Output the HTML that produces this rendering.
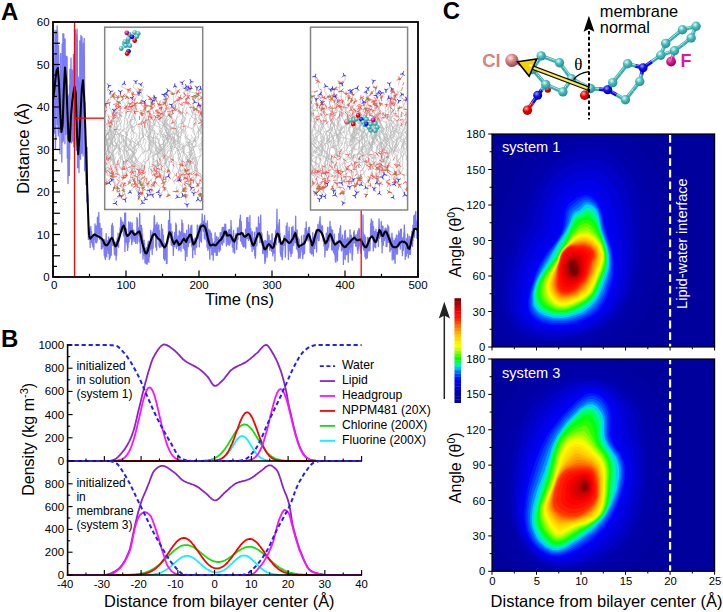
<!DOCTYPE html><html><head><meta charset="utf-8"><style>html,body{margin:0;padding:0;background:#fff;width:723px;height:612px;overflow:hidden}svg{display:block}text{font-family:"Liberation Sans", sans-serif}</style></head><body>
<svg width="723" height="612" viewBox="0 0 723 612">
<rect width="723" height="612" fill="#fff"/>
<defs>
<radialGradient id="gC" cx="0.38" cy="0.32" r="0.7"><stop offset="0" stop-color="#d8ffff"/><stop offset="0.45" stop-color="#48bcbc"/><stop offset="1" stop-color="#2a8a8c"/></radialGradient>
<radialGradient id="gN" cx="0.38" cy="0.32" r="0.7"><stop offset="0" stop-color="#9a9aff"/><stop offset="0.45" stop-color="#1010f0"/><stop offset="1" stop-color="#0000a0"/></radialGradient>
<radialGradient id="gO" cx="0.38" cy="0.32" r="0.7"><stop offset="0" stop-color="#ffb0b0"/><stop offset="0.45" stop-color="#f20000"/><stop offset="1" stop-color="#a00000"/></radialGradient>
<radialGradient id="gCl" cx="0.38" cy="0.32" r="0.7"><stop offset="0" stop-color="#ffe0e0"/><stop offset="0.45" stop-color="#d98484"/><stop offset="1" stop-color="#8a4a4a"/></radialGradient>
<radialGradient id="gF" cx="0.38" cy="0.32" r="0.7"><stop offset="0" stop-color="#ff9ad8"/><stop offset="0.45" stop-color="#e0189c"/><stop offset="1" stop-color="#80004f"/></radialGradient>
</defs>
<text x="1.00" y="19.60" font-size="24" text-anchor="start" fill="#000" font-weight="bold" >A</text>
<clipPath id="clipA"><rect x="53" y="22" width="365" height="255"/></clipPath>
<g clip-path="url(#clipA)">
<polyline points="53.0,118.2 53.2,162.6 53.4,54.6 53.7,104.4 53.9,106.6 54.1,133.2 54.3,99.0 54.5,122.7 54.8,60.4 55.0,30.2 55.2,59.8 55.4,149.3 55.6,137.5 55.9,138.9 56.1,33.3 56.3,31.4 56.5,36.7 56.7,30.1 57.0,102.9 57.2,25.9 57.4,124.6 57.6,31.4 57.8,85.3 58.1,130.5 58.3,136.0 58.5,45.5 58.7,55.4 58.9,74.4 59.2,84.7 59.4,131.9 59.6,118.3 59.8,101.0 60.0,153.8 60.3,88.0 60.5,71.0 60.7,53.5 60.9,128.7 61.1,110.5 61.4,120.0 61.6,70.1 61.8,162.0 62.0,114.7 62.2,43.9 62.5,91.0 62.7,142.0 62.9,33.7 63.1,40.3 63.3,140.8 63.6,116.6 63.8,33.9 64.0,61.1 64.2,64.2 64.4,115.3 64.7,66.6 64.9,143.8 65.1,39.0 65.3,106.3 65.5,113.7 65.8,134.6 66.0,120.9 66.2,56.1 66.4,57.2 66.6,113.9 66.9,119.0 67.1,56.9 67.3,158.2 67.5,142.4 67.7,135.6 68.0,183.6 68.2,164.9 68.4,96.1 68.6,129.4 68.8,128.5 69.1,94.1 69.3,175.4 69.5,85.2 69.7,159.2 69.9,69.2 70.2,111.4 70.4,133.2 70.6,141.7 70.8,77.2 71.0,58.2 71.3,142.4 71.5,115.9 71.7,143.0 71.9,69.9 72.1,72.5 72.4,75.3 72.6,111.5 72.8,112.9 73.0,141.0 73.2,81.5 73.5,54.3 73.7,137.3 73.9,146.9 74.1,122.1 74.3,109.1 74.6,70.2 74.8,29.4 75.0,33.7 75.2,119.7 75.4,30.1 75.7,68.5 75.9,34.0 76.1,144.5 76.3,145.7 76.5,150.6 76.8,126.6 77.0,29.0 77.2,37.0 77.4,44.2 77.6,167.8 77.9,166.9 78.1,77.7 78.3,77.0 78.5,104.4 78.7,82.6 79.0,172.5 79.2,129.7 79.4,94.0 79.6,157.7 79.8,41.0 80.1,92.7 80.3,43.4 80.5,159.3 80.7,149.9 80.9,35.4 81.2,99.2 81.4,153.4 81.6,147.1 81.8,123.8 82.0,36.8 82.3,123.5 82.5,77.8 82.7,153.0 82.9,100.1 83.1,155.9 83.4,43.3 83.6,114.9 83.8,61.6 84.0,44.4 84.2,38.3 84.5,78.9 84.7,170.8 84.9,136.3 85.1,102.5 85.3,133.9 85.6,169.4 85.8,170.9 86.0,184.7 86.2,179.4 86.4,162.9 86.7,159.9 86.9,201.4 87.1,147.4 87.3,202.1 87.5,203.0 87.8,194.6 88.0,204.1 88.2,212.8 88.4,239.5 88.6,228.8 88.9,233.2 89.1,237.6 89.3,236.5 89.5,235.2 89.7,229.0 90.0,232.2 90.2,247.6 90.4,236.6 90.6,232.8 90.8,226.5 91.1,237.2 91.3,235.6 91.5,231.3 91.7,242.7 91.9,234.6 92.2,237.1 92.4,244.6 92.6,242.1 92.8,246.8 93.0,238.4 93.3,235.8 93.5,241.7 93.7,238.0 93.9,249.6 94.1,238.6 94.4,234.3 94.6,237.5 94.8,239.0 95.0,224.0 95.2,230.3 95.5,230.7 95.7,242.5 95.9,230.2 96.1,240.7 96.3,225.8 96.6,233.7 96.8,242.8 97.0,232.4 97.2,240.7 97.4,217.2 97.7,229.7 97.9,231.5 98.1,228.0 98.3,218.2 98.5,233.2 98.8,212.5 99.0,235.7 99.2,230.8 99.4,239.2 99.6,228.4 99.9,223.3 100.1,227.9 100.3,228.9 100.5,237.9 100.7,232.6 101.0,240.7 101.2,242.1 101.4,249.2 101.6,228.3 101.8,240.5 102.1,248.5 102.3,248.0 102.5,241.4 102.7,244.0 102.9,241.9 103.2,246.5 103.4,241.7 103.6,241.1 103.8,239.4 104.0,245.5 104.3,255.4 104.5,239.7 104.7,253.5 104.9,257.8 105.1,244.2 105.4,259.6 105.6,241.0 105.8,253.7 106.0,241.8 106.2,233.6 106.5,245.8 106.7,256.7 106.9,242.6 107.1,249.4 107.3,240.6 107.6,241.1 107.8,250.2 108.0,244.7 108.2,249.2 108.4,253.4 108.7,236.9 108.9,239.3 109.1,243.4 109.3,259.6 109.5,242.7 109.8,242.6 110.0,248.5 110.2,257.8 110.4,239.0 110.6,240.9 110.9,243.1 111.1,247.4 111.3,255.2 111.5,230.6 111.7,225.5 112.0,240.6 112.2,242.8 112.4,223.4 112.6,235.1 112.8,245.4 113.1,226.1 113.3,243.3 113.5,244.3 113.7,246.0 113.9,246.0 114.2,246.5 114.4,254.1 114.6,242.3 114.8,249.3 115.0,255.0 115.3,244.3 115.5,247.7 115.7,243.6 115.9,242.1 116.1,259.9 116.4,249.2 116.6,255.6 116.8,246.9 117.0,241.4 117.2,238.1 117.5,242.5 117.7,239.2 117.9,246.0 118.1,233.2 118.3,243.4 118.6,247.3 118.8,240.5 119.0,238.1 119.2,240.8 119.4,240.9 119.7,236.1 119.9,234.5 120.1,227.6 120.3,232.6 120.5,227.6 120.8,217.4 121.0,227.4 121.2,231.6 121.4,228.6 121.6,220.1 121.9,230.2 122.1,230.4 122.3,231.4 122.5,227.6 122.7,222.4 123.0,230.4 123.2,224.4 123.4,233.2 123.6,236.0 123.8,229.9 124.1,230.5 124.3,221.1 124.5,230.8 124.7,213.1 124.9,251.5 125.2,235.3 125.4,217.2 125.6,212.8 125.8,242.2 126.0,228.3 126.3,240.7 126.5,229.0 126.7,239.8 126.9,235.9 127.1,245.0 127.4,238.2 127.6,250.4 127.8,234.4 128.0,247.7 128.2,237.7 128.5,242.7 128.7,221.7 128.9,223.6 129.1,241.4 129.3,224.0 129.6,229.9 129.8,230.3 130.0,228.5 130.2,231.9 130.4,222.1 130.7,223.0 130.9,238.5 131.1,228.2 131.3,239.2 131.5,237.4 131.8,244.6 132.0,236.5 132.2,223.0 132.4,231.9 132.6,231.4 132.9,241.7 133.1,236.2 133.3,230.3 133.5,236.2 133.7,229.9 134.0,232.6 134.2,232.2 134.4,239.6 134.6,236.6 134.8,241.4 135.1,236.1 135.3,240.5 135.5,235.9 135.7,243.4 135.9,237.3 136.2,235.3 136.4,232.3 136.6,232.7 136.8,237.2 137.0,217.3 137.3,243.5 137.5,219.0 137.7,233.1 137.9,230.2 138.1,235.4 138.4,230.3 138.6,228.0 138.8,229.9 139.0,233.4 139.2,241.9 139.5,229.6 139.7,213.3 139.9,226.0 140.1,233.6 140.3,253.2 140.6,225.5 140.8,228.8 141.0,234.9 141.2,233.9 141.4,225.3 141.7,242.9 141.9,228.0 142.1,237.3 142.3,252.0 142.5,234.1 142.8,243.2 143.0,259.0 143.2,247.8 143.4,241.2 143.6,244.5 143.9,255.6 144.1,240.1 144.3,247.8 144.5,243.5 144.7,247.1 145.0,262.9 145.2,253.3 145.4,252.6 145.6,258.9 145.8,249.2 146.1,248.1 146.3,263.9 146.5,259.1 146.7,247.5 146.9,258.1 147.2,264.0 147.4,256.6 147.6,259.1 147.8,243.6 148.0,250.7 148.3,241.1 148.5,261.5 148.7,254.0 148.9,262.3 149.1,247.1 149.4,256.6 149.6,242.1 149.8,247.3 150.0,250.4 150.2,246.4 150.5,242.2 150.7,230.4 150.9,248.8 151.1,242.3 151.3,243.6 151.6,245.5 151.8,234.9 152.0,239.8 152.2,254.6 152.4,232.1 152.7,239.8 152.9,233.1 153.1,248.2 153.3,235.7 153.5,228.9 153.8,232.0 154.0,225.8 154.2,217.5 154.4,215.6 154.6,228.4 154.9,225.0 155.1,235.4 155.3,227.4 155.5,235.8 155.7,247.0 156.0,226.1 156.2,224.8 156.4,239.2 156.6,250.2 156.8,227.9 157.1,222.7 157.3,230.8 157.5,229.9 157.7,238.8 157.9,229.2 158.2,236.0 158.4,233.7 158.6,224.8 158.8,225.2 159.0,246.0 159.3,239.3 159.5,230.7 159.7,247.5 159.9,243.1 160.1,240.3 160.4,240.9 160.6,239.4 160.8,243.6 161.0,246.9 161.2,239.6 161.5,224.3 161.7,239.0 161.9,235.6 162.1,234.3 162.3,246.1 162.6,229.2 162.8,246.2 163.0,238.1 163.2,234.8 163.4,235.4 163.7,258.4 163.9,253.1 164.1,242.7 164.3,254.1 164.5,260.3 164.8,244.0 165.0,247.4 165.2,256.5 165.4,252.5 165.6,245.4 165.9,259.7 166.1,251.4 166.3,254.6 166.5,263.4 166.7,249.0 167.0,263.6 167.2,245.4 167.4,242.3 167.6,240.8 167.8,243.0 168.1,238.9 168.3,235.6 168.5,220.5 168.7,221.6 168.9,226.5 169.2,229.8 169.4,237.7 169.6,209.9 169.8,225.8 170.0,224.3 170.3,230.1 170.5,233.8 170.7,228.8 170.9,223.8 171.1,242.4 171.4,245.1 171.6,236.0 171.8,237.7 172.0,234.2 172.2,231.7 172.5,246.1 172.7,239.6 172.9,236.5 173.1,239.9 173.3,255.4 173.6,247.0 173.8,243.5 174.0,241.2 174.2,246.4 174.4,246.4 174.7,232.4 174.9,239.1 175.1,234.2 175.3,240.8 175.5,238.7 175.8,223.2 176.0,246.9 176.2,237.4 176.4,224.8 176.6,248.4 176.9,242.9 177.1,245.2 177.3,244.0 177.5,246.2 177.7,240.6 178.0,235.8 178.2,241.1 178.4,245.8 178.6,245.3 178.8,250.5 179.1,246.0 179.3,230.6 179.5,249.6 179.7,238.1 179.9,235.6 180.2,240.6 180.4,232.6 180.6,243.6 180.8,231.9 181.0,251.3 181.3,236.1 181.5,233.2 181.7,232.0 181.9,220.0 182.1,230.2 182.4,232.9 182.6,236.5 182.8,223.4 183.0,239.3 183.2,248.3 183.5,235.6 183.7,241.1 183.9,242.8 184.1,233.2 184.3,236.6 184.6,250.0 184.8,246.2 185.0,237.2 185.2,233.6 185.4,260.6 185.7,247.5 185.9,235.8 186.1,247.7 186.3,248.9 186.5,244.3 186.8,230.1 187.0,256.6 187.2,246.2 187.4,242.6 187.6,245.1 187.9,238.1 188.1,238.6 188.3,246.6 188.5,224.9 188.7,243.6 189.0,241.2 189.2,242.0 189.4,242.5 189.6,241.4 189.8,242.4 190.1,237.4 190.3,228.3 190.5,237.6 190.7,229.1 190.9,225.9 191.2,236.9 191.4,240.1 191.6,245.5 191.8,225.2 192.0,246.7 192.3,247.4 192.5,245.9 192.7,257.7 192.9,240.7 193.1,249.1 193.4,245.7 193.6,247.4 193.8,239.4 194.0,245.2 194.2,249.9 194.5,244.8 194.7,246.5 194.9,238.5 195.1,254.5 195.3,237.7 195.6,245.1 195.8,247.9 196.0,239.2 196.2,244.3 196.4,239.6 196.7,247.1 196.9,237.5 197.1,235.8 197.3,225.0 197.5,233.3 197.8,238.3 198.0,235.6 198.2,228.7 198.4,232.7 198.6,235.6 198.9,236.2 199.1,226.0 199.3,246.9 199.5,232.5 199.7,231.2 200.0,224.8 200.2,227.9 200.4,241.2 200.6,224.2 200.8,225.8 201.1,223.9 201.3,226.9 201.5,242.2 201.7,225.2 201.9,224.3 202.2,213.9 202.4,220.6 202.6,226.8 202.8,221.8 203.0,223.7 203.3,231.3 203.5,229.9 203.7,224.6 203.9,221.0 204.1,221.7 204.4,238.8 204.6,215.5 204.8,229.7 205.0,225.2 205.2,223.0 205.5,235.3 205.7,224.8 205.9,239.4 206.1,223.6 206.3,235.8 206.6,241.9 206.8,225.9 207.0,247.1 207.2,240.4 207.4,220.8 207.7,244.9 207.9,250.3 208.1,236.3 208.3,237.4 208.5,242.3 208.8,229.1 209.0,243.3 209.2,248.6 209.4,240.4 209.6,252.3 209.9,259.2 210.1,230.7 210.3,232.8 210.5,243.4 210.7,248.2 211.0,244.7 211.2,234.7 211.4,233.1 211.6,237.0 211.8,254.8 212.1,238.7 212.3,243.1 212.5,254.5 212.7,247.4 212.9,242.8 213.2,260.3 213.4,252.2 213.6,244.7 213.8,244.2 214.0,252.3 214.3,241.8 214.5,245.6 214.7,249.2 214.9,251.9 215.1,232.7 215.4,242.7 215.6,243.3 215.8,246.4 216.0,251.5 216.2,255.5 216.5,244.5 216.7,236.5 216.9,245.9 217.1,239.5 217.3,255.3 217.6,245.2 217.8,242.4 218.0,248.5 218.2,237.5 218.4,240.9 218.7,240.3 218.9,247.1 219.1,252.0 219.3,248.7 219.5,249.0 219.8,241.6 220.0,244.2 220.2,232.6 220.4,250.0 220.6,235.1 220.9,240.1 221.1,240.7 221.3,243.7 221.5,232.3 221.7,237.5 222.0,232.4 222.2,227.5 222.4,245.1 222.6,239.4 222.8,227.5 223.1,230.6 223.3,240.5 223.5,230.1 223.7,227.5 223.9,242.5 224.2,230.3 224.4,230.0 224.6,234.8 224.8,224.1 225.0,230.1 225.3,232.2 225.5,235.0 225.7,224.1 225.9,236.7 226.1,234.6 226.4,246.0 226.6,239.3 226.8,235.3 227.0,235.7 227.2,232.7 227.5,239.7 227.7,238.9 227.9,244.6 228.1,239.0 228.3,230.0 228.6,241.8 228.8,230.1 229.0,235.2 229.2,245.4 229.4,244.4 229.7,229.4 229.9,232.5 230.1,243.8 230.3,241.0 230.5,239.0 230.8,241.3 231.0,220.3 231.2,234.1 231.4,226.2 231.6,233.4 231.9,235.0 232.1,240.8 232.3,247.1 232.5,244.5 232.7,240.9 233.0,237.9 233.2,252.0 233.4,244.3 233.6,230.4 233.8,243.9 234.1,247.3 234.3,238.9 234.5,245.9 234.7,253.2 234.9,238.1 235.2,239.5 235.4,241.8 235.6,234.7 235.8,238.5 236.0,233.7 236.3,239.5 236.5,234.7 236.7,249.4 236.9,241.3 237.1,244.3 237.4,227.9 237.6,235.7 237.8,239.0 238.0,239.3 238.2,229.1 238.5,229.9 238.7,230.4 238.9,227.4 239.1,226.9 239.3,232.7 239.6,223.2 239.8,219.0 240.0,228.3 240.2,233.1 240.4,215.2 240.7,241.0 240.9,231.6 241.1,234.2 241.3,221.6 241.5,228.0 241.8,241.7 242.0,244.0 242.2,236.9 242.4,233.6 242.6,235.0 242.9,246.3 243.1,235.5 243.3,233.1 243.5,240.4 243.7,247.1 244.0,235.1 244.2,243.0 244.4,246.1 244.6,242.4 244.8,239.8 245.1,246.7 245.3,242.7 245.5,229.1 245.7,248.2 245.9,239.5 246.2,237.1 246.4,229.8 246.6,231.8 246.8,217.6 247.0,232.6 247.3,238.6 247.5,238.1 247.7,229.8 247.9,217.5 248.1,225.5 248.4,231.9 248.6,240.4 248.8,222.6 249.0,234.1 249.2,238.4 249.5,238.6 249.7,233.8 249.9,215.6 250.1,237.7 250.3,236.2 250.6,238.4 250.8,228.6 251.0,232.7 251.2,246.5 251.4,237.1 251.7,240.6 251.9,237.1 252.1,251.6 252.3,231.7 252.5,238.7 252.8,244.3 253.0,240.2 253.2,246.9 253.4,242.7 253.6,249.1 253.9,237.7 254.1,240.6 254.3,244.2 254.5,232.2 254.7,255.5 255.0,239.7 255.2,255.4 255.4,258.2 255.6,253.8 255.8,245.7 256.1,238.7 256.3,227.2 256.5,244.5 256.7,236.0 256.9,245.8 257.2,230.9 257.4,237.2 257.6,228.1 257.8,231.9 258.0,227.4 258.3,228.1 258.5,217.0 258.7,225.2 258.9,227.3 259.1,237.5 259.4,232.7 259.6,223.8 259.8,242.5 260.0,236.5 260.2,241.7 260.5,228.7 260.7,215.1 260.9,233.8 261.1,232.5 261.3,242.8 261.6,232.7 261.8,235.9 262.0,233.7 262.2,245.4 262.4,239.3 262.7,253.5 262.9,250.8 263.1,249.7 263.3,242.1 263.5,246.5 263.8,251.3 264.0,240.8 264.2,254.0 264.4,247.5 264.6,256.0 264.9,263.4 265.1,259.3 265.3,240.3 265.5,261.3 265.7,245.7 266.0,245.6 266.2,247.3 266.4,241.1 266.6,251.6 266.8,244.5 267.1,257.3 267.3,252.2 267.5,231.3 267.7,242.8 267.9,240.2 268.2,242.2 268.4,241.3 268.6,246.1 268.8,244.5 269.0,235.1 269.3,245.9 269.5,249.1 269.7,243.1 269.9,250.3 270.1,246.8 270.4,241.2 270.6,240.6 270.8,244.1 271.0,245.8 271.2,243.3 271.5,250.2 271.7,251.3 271.9,234.9 272.1,233.7 272.3,242.2 272.6,249.0 272.8,255.9 273.0,252.3 273.2,252.1 273.4,242.8 273.7,253.1 273.9,245.1 274.1,250.9 274.3,251.8 274.5,238.2 274.8,243.6 275.0,261.1 275.2,238.6 275.4,237.6 275.6,232.5 275.9,230.2 276.1,244.8 276.3,232.4 276.5,228.7 276.7,226.1 277.0,209.2 277.2,234.0 277.4,224.9 277.6,227.8 277.8,237.2 278.1,228.1 278.3,232.4 278.5,232.5 278.7,242.4 278.9,222.8 279.2,228.9 279.4,219.6 279.6,236.7 279.8,240.0 280.0,233.2 280.3,252.5 280.5,246.1 280.7,255.1 280.9,243.4 281.1,256.6 281.4,242.4 281.6,251.9 281.8,249.9 282.0,246.0 282.2,259.7 282.5,258.3 282.7,243.1 282.9,250.5 283.1,245.7 283.3,244.4 283.6,245.4 283.8,237.2 284.0,240.5 284.2,241.7 284.4,235.5 284.7,237.4 284.9,245.5 285.1,240.7 285.3,257.1 285.5,254.9 285.8,236.3 286.0,241.8 286.2,226.1 286.4,233.6 286.6,232.3 286.9,232.3 287.1,222.8 287.3,240.7 287.5,240.5 287.7,234.8 288.0,241.4 288.2,248.6 288.4,259.5 288.6,231.4 288.8,250.6 289.1,227.1 289.3,233.6 289.5,237.7 289.7,250.6 289.9,246.2 290.2,245.0 290.4,253.3 290.6,248.1 290.8,242.8 291.0,256.4 291.3,243.5 291.5,234.7 291.7,227.5 291.9,241.9 292.1,253.3 292.4,243.8 292.6,238.8 292.8,245.2 293.0,226.2 293.2,237.9 293.5,232.9 293.7,245.6 293.9,231.7 294.1,241.6 294.3,237.0 294.6,233.3 294.8,236.3 295.0,231.1 295.2,242.8 295.4,231.6 295.7,216.1 295.9,241.3 296.1,241.6 296.3,239.5 296.5,249.0 296.8,246.6 297.0,236.4 297.2,229.8 297.4,238.5 297.6,245.8 297.9,251.9 298.1,237.1 298.3,240.9 298.5,258.2 298.7,242.9 299.0,242.1 299.2,239.1 299.4,257.6 299.6,251.5 299.8,253.4 300.1,258.1 300.3,252.3 300.5,255.4 300.7,247.5 300.9,251.9 301.2,248.7 301.4,249.7 301.6,235.8 301.8,243.6 302.0,244.7 302.3,242.6 302.5,247.5 302.7,258.7 302.9,254.8 303.1,246.8 303.4,248.0 303.6,254.4 303.8,235.2 304.0,243.8 304.2,252.9 304.5,253.2 304.7,245.1 304.9,244.1 305.1,228.3 305.3,235.6 305.6,239.2 305.8,240.1 306.0,239.8 306.2,222.0 306.4,233.5 306.7,237.8 306.9,230.7 307.1,232.4 307.3,237.3 307.5,238.6 307.8,236.2 308.0,239.0 308.2,241.1 308.4,232.8 308.6,227.6 308.9,230.8 309.1,233.3 309.3,236.7 309.5,227.1 309.7,234.9 310.0,240.6 310.2,252.8 310.4,246.2 310.6,243.6 310.8,249.8 311.1,245.5 311.3,247.5 311.5,254.1 311.7,249.2 311.9,247.3 312.2,253.5 312.4,243.3 312.6,241.4 312.8,232.6 313.0,244.7 313.3,256.0 313.5,242.8 313.7,246.2 313.9,241.7 314.1,237.5 314.4,248.3 314.6,241.5 314.8,248.6 315.0,235.1 315.2,239.5 315.5,234.4 315.7,231.9 315.9,243.8 316.1,229.9 316.3,231.6 316.6,252.0 316.8,234.3 317.0,234.2 317.2,238.7 317.4,228.8 317.7,235.5 317.9,224.5 318.1,229.2 318.3,228.9 318.5,240.7 318.8,233.2 319.0,240.4 319.2,236.5 319.4,221.3 319.6,228.1 319.9,219.4 320.1,216.7 320.3,230.0 320.5,231.5 320.7,224.1 321.0,230.0 321.2,230.6 321.4,233.8 321.6,234.8 321.8,226.4 322.1,235.5 322.3,228.8 322.5,225.9 322.7,233.3 322.9,236.5 323.2,241.2 323.4,239.5 323.6,240.8 323.8,238.1 324.0,246.2 324.3,246.1 324.5,246.3 324.7,240.1 324.9,257.0 325.1,250.9 325.4,250.2 325.6,245.6 325.8,242.7 326.0,249.9 326.2,233.5 326.5,233.3 326.7,238.8 326.9,244.8 327.1,238.9 327.3,250.4 327.6,227.3 327.8,249.0 328.0,241.4 328.2,244.3 328.4,235.8 328.7,247.0 328.9,236.6 329.1,238.1 329.3,227.0 329.5,241.0 329.8,235.8 330.0,221.4 330.2,231.5 330.4,229.6 330.6,235.7 330.9,226.7 331.1,232.2 331.3,241.8 331.5,229.4 331.7,249.9 332.0,239.6 332.2,236.7 332.4,232.2 332.6,230.2 332.8,250.0 333.1,240.8 333.3,240.0 333.5,252.7 333.7,252.6 333.9,248.5 334.2,237.4 334.4,234.1 334.6,254.7 334.8,247.6 335.0,246.7 335.3,260.9 335.5,243.1 335.7,249.2 335.9,262.4 336.1,252.5 336.4,244.9 336.6,243.4 336.8,256.5 337.0,241.0 337.2,256.1 337.5,260.8 337.7,245.6 337.9,250.2 338.1,244.1 338.3,249.3 338.6,242.7 338.8,233.3 339.0,246.5 339.2,237.1 339.4,233.5 339.7,237.0 339.9,228.5 340.1,232.4 340.3,241.0 340.5,225.7 340.8,239.2 341.0,240.1 341.2,238.3 341.4,251.0 341.6,246.5 341.9,237.8 342.1,244.5 342.3,249.7 342.5,234.8 342.7,246.4 343.0,242.0 343.2,247.0 343.4,264.4 343.6,241.2 343.8,242.8 344.1,239.0 344.3,248.1 344.5,251.5 344.7,231.5 344.9,258.9 345.2,259.6 345.4,230.5 345.6,239.5 345.8,250.6 346.0,249.2 346.3,254.7 346.5,243.2 346.7,254.7 346.9,239.2 347.1,252.1 347.4,247.3 347.6,246.6 347.8,237.3 348.0,247.4 348.2,262.2 348.5,247.5 348.7,248.5 348.9,249.2 349.1,238.7 349.3,248.0 349.6,249.3 349.8,242.3 350.0,229.6 350.2,252.8 350.4,242.2 350.7,244.0 350.9,244.3 351.1,241.8 351.3,235.2 351.5,247.3 351.8,247.3 352.0,254.4 352.2,260.2 352.4,240.8 352.6,255.0 352.9,242.7 353.1,243.8 353.3,237.0 353.5,242.9 353.7,232.3 354.0,242.0 354.2,230.7 354.4,240.3 354.6,238.3 354.8,243.0 355.1,240.8 355.3,240.1 355.5,235.8 355.7,246.2 355.9,244.0 356.2,234.7 356.4,246.1 356.6,239.6 356.8,245.1 357.0,244.0 357.3,245.5 357.5,250.5 357.7,231.6 357.9,253.3 358.1,230.7 358.4,249.1 358.6,242.9 358.8,228.6 359.0,240.4 359.2,233.4 359.5,228.8 359.7,245.5 359.9,246.2 360.1,241.7 360.3,250.7 360.6,241.3 360.8,238.5 361.0,253.2 361.2,238.9 361.4,247.1 361.7,248.2 361.9,241.4 362.1,242.6 362.3,245.8 362.5,244.0 362.8,236.3 363.0,215.0 363.2,237.8 363.4,233.1 363.6,250.2 363.9,239.1 364.1,242.4 364.3,245.5 364.5,248.1 364.7,234.8 365.0,256.6 365.2,246.2 365.4,247.4 365.6,237.2 365.8,259.0 366.1,248.3 366.3,248.9 366.5,247.9 366.7,257.9 366.9,257.1 367.2,243.9 367.4,257.9 367.6,237.5 367.8,251.6 368.0,249.4 368.3,248.6 368.5,237.9 368.7,239.8 368.9,248.9 369.1,250.5 369.4,241.8 369.6,240.4 369.8,238.0 370.0,250.5 370.2,240.3 370.5,236.0 370.7,223.9 370.9,223.2 371.1,225.6 371.3,218.9 371.6,228.3 371.8,235.8 372.0,226.5 372.2,229.5 372.4,234.4 372.7,221.2 372.9,238.2 373.1,228.9 373.3,250.9 373.5,226.7 373.8,237.9 374.0,236.8 374.2,243.4 374.4,237.6 374.6,246.9 374.9,231.4 375.1,246.1 375.3,239.6 375.5,242.7 375.7,247.6 376.0,229.1 376.2,233.5 376.4,232.4 376.6,236.5 376.8,237.1 377.1,240.8 377.3,238.7 377.5,232.3 377.7,237.4 377.9,240.1 378.2,239.1 378.4,246.5 378.6,227.5 378.8,232.5 379.0,218.9 379.3,225.8 379.5,234.6 379.7,238.3 379.9,232.5 380.1,233.4 380.4,231.1 380.6,236.3 380.8,236.6 381.0,232.4 381.2,221.4 381.5,226.6 381.7,242.0 381.9,238.3 382.1,252.8 382.3,237.5 382.6,241.8 382.8,226.0 383.0,226.6 383.2,236.9 383.4,245.1 383.7,235.8 383.9,231.1 384.1,235.7 384.3,239.8 384.5,240.4 384.8,235.2 385.0,228.5 385.2,229.5 385.4,235.0 385.6,238.2 385.9,227.9 386.1,246.4 386.3,237.5 386.5,229.4 386.7,237.0 387.0,246.6 387.2,233.6 387.4,233.8 387.6,240.2 387.8,225.0 388.1,230.3 388.3,229.8 388.5,242.4 388.7,226.9 388.9,240.6 389.2,235.1 389.4,237.6 389.6,234.5 389.8,251.8 390.0,251.0 390.3,238.0 390.5,248.6 390.7,242.3 390.9,249.5 391.1,245.5 391.4,247.8 391.6,247.1 391.8,236.4 392.0,233.1 392.2,260.0 392.5,237.9 392.7,251.7 392.9,242.5 393.1,249.9 393.3,248.3 393.6,259.3 393.8,246.8 394.0,240.5 394.2,241.5 394.4,252.3 394.7,255.1 394.9,261.2 395.1,263.4 395.3,238.4 395.5,248.0 395.8,238.8 396.0,249.3 396.2,252.4 396.4,235.2 396.6,254.2 396.9,251.5 397.1,243.1 397.3,239.1 397.5,253.8 397.7,242.3 398.0,235.1 398.2,242.2 398.4,246.9 398.6,245.7 398.8,230.8 399.1,234.6 399.3,240.5 399.5,244.6 399.7,244.3 399.9,233.6 400.2,249.2 400.4,245.6 400.6,229.6 400.8,234.5 401.0,241.3 401.3,228.9 401.5,240.9 401.7,242.2 401.9,238.9 402.1,246.7 402.4,255.5 402.6,238.3 402.8,244.1 403.0,237.4 403.2,250.6 403.5,247.7 403.7,238.3 403.9,232.7 404.1,243.2 404.3,225.0 404.6,231.9 404.8,234.8 405.0,242.0 405.2,259.4 405.4,251.9 405.7,253.6 405.9,251.3 406.1,254.9 406.3,256.0 406.5,238.7 406.8,248.1 407.0,250.7 407.2,252.2 407.4,253.2 407.6,233.9 407.9,251.5 408.1,241.4 408.3,257.8 408.5,249.3 408.7,249.4 409.0,249.9 409.2,236.2 409.4,246.9 409.6,240.4 409.8,254.4 410.1,244.7 410.3,239.5 410.5,254.3 410.7,242.5 410.9,236.7 411.2,241.6 411.4,241.0 411.6,242.8 411.8,231.3 412.0,244.6 412.3,238.4 412.5,246.4 412.7,237.9 412.9,225.3 413.1,240.5 413.4,230.8 413.6,234.4 413.8,216.0 414.0,221.2 414.2,237.3 414.5,235.8 414.7,214.9 414.9,226.3 415.1,223.6 415.3,228.4 415.6,213.7 415.8,211.3 416.0,227.5 416.2,220.2 416.4,222.2 416.7,222.3 416.9,238.3 417.1,224.4 417.3,235.2 417.5,234.6 417.8,223.7 418.0,235.7 418.2,236.6 418.4,230.3 418.6,227.6 418.9,235.5" fill="none" stroke="#7b7bf5" stroke-width="1.3" stroke-linejoin="round" />
<polyline points="53.0,100.3 54.2,91.6 55.4,79.4 56.6,70.5 57.8,68.0 59.0,83.2 60.2,111.0 61.4,132.1 62.6,125.4 63.8,90.4 65.0,67.5 66.2,80.0 67.4,111.4 68.6,139.8 69.8,141.7 71.0,115.5 72.2,101.8 73.4,92.5 74.6,86.7 75.8,93.4 77.0,134.9 78.2,154.2 79.4,137.9 80.6,113.1 81.8,88.8 83.0,80.3 84.2,97.6 85.4,130.7 86.6,167.0 87.8,205.7 89.0,235.4" fill="none" stroke="#000" stroke-width="2.0" stroke-linejoin="round" />
<polyline points="89.0,235.4 90.2,238.7 91.4,237.4 92.6,236.1 93.8,234.8 95.0,234.4 96.2,235.6 97.4,235.8 98.6,236.6 99.8,237.2 101.0,238.2 102.2,239.1 103.4,241.2 104.6,244.1 105.8,245.3 107.0,245.3 108.2,243.7 109.4,241.7 110.6,239.1 111.8,237.9 113.0,239.7 114.2,243.9 115.4,246.4 116.6,245.4 117.8,241.7 119.0,238.5 120.2,234.5 121.4,230.5 122.6,227.0 123.8,225.6 125.0,229.2 126.2,233.7 127.4,236.0 128.6,235.1 129.8,233.6 131.0,231.2 132.2,231.2 133.4,233.4 134.6,234.9 135.8,234.3 137.0,233.3 138.2,232.1 139.4,231.3 140.6,235.3 141.8,240.7 143.0,245.9 144.2,249.8 145.4,253.1 146.6,253.4 147.8,250.5 149.0,246.1 150.2,242.4 151.4,238.9 152.6,235.7 153.8,234.3 155.0,234.1 156.2,236.2 157.4,237.7 158.6,238.9 159.8,239.8 161.0,241.8 162.2,244.4 163.4,246.2 164.6,247.4 165.8,246.1 167.0,242.4 168.2,236.7 169.4,232.3 170.6,233.6 171.8,238.3 173.0,241.9 174.2,244.0 175.4,241.8 176.6,240.4 177.8,242.5 179.0,245.0 180.2,244.1 181.4,242.9 182.6,240.4 183.8,238.7 185.0,240.4 186.2,241.9 187.4,238.6 188.6,236.8 189.8,234.9 191.0,234.7 192.2,240.3 193.4,244.5 194.6,243.3 195.8,240.8 197.0,237.6 198.2,233.6 199.4,230.8 200.6,226.6 201.8,226.0 203.0,225.3 204.2,226.2 205.4,227.9 206.6,232.2 207.8,237.8 209.0,242.6 210.2,245.4 211.4,245.3 212.6,244.6 213.8,244.7 215.0,245.5 216.2,245.0 217.4,243.2 218.6,241.9 219.8,240.4 221.0,239.6 222.2,237.6 223.4,235.5 224.6,231.7 225.8,231.6 227.0,235.4 228.2,235.7 229.4,235.0 230.6,235.2 231.8,237.8 233.0,240.2 234.2,241.6 235.4,239.5 236.6,235.6 237.8,234.1 239.0,234.3 240.2,234.3 241.4,232.8 242.6,233.7 243.8,236.1 245.0,236.7 246.2,236.0 247.4,234.6 248.6,234.0 249.8,235.7 251.0,239.9 252.2,243.6 253.4,245.3 254.6,243.5 255.8,239.6 257.0,236.6 258.2,233.5 259.4,233.3 260.6,235.9 261.8,240.2 263.0,244.7 264.2,248.8 265.4,249.4 266.6,247.7 267.8,245.0 269.0,244.2 270.2,245.2 271.4,247.3 272.6,247.9 273.8,246.7 275.0,241.2 276.2,236.4 277.4,233.6 278.6,234.6 279.8,239.2 281.0,243.7 282.2,243.6 283.4,240.8 284.6,238.8 285.8,239.8 287.0,241.0 288.2,242.4 289.4,243.0 290.6,242.2 291.8,240.0 293.0,238.6 294.2,235.3 295.4,233.2 296.6,238.2 297.8,244.6 299.0,246.8 300.2,245.6 301.4,245.2 302.6,244.4 303.8,243.9 305.0,241.9 306.2,239.4 307.4,235.8 308.6,234.1 309.8,236.8 311.0,241.1 312.2,245.5 313.4,242.7 314.6,237.8 315.8,233.4 317.0,230.3 318.2,230.1 319.4,230.2 320.6,231.6 321.8,233.1 323.0,236.1 324.2,240.2 325.4,243.3 326.6,242.1 327.8,239.4 329.0,236.0 330.2,234.0 331.4,236.2 332.6,239.9 333.8,242.7 335.0,244.6 336.2,243.7 337.4,242.8 338.6,241.7 339.8,241.2 341.0,242.7 342.2,244.7 343.4,246.1 344.6,247.1 345.8,246.8 347.0,245.0 348.2,243.9 349.4,242.5 350.6,241.2 351.8,239.8 353.0,238.7 354.2,237.7 355.4,238.6 356.6,240.2 357.8,240.4 359.0,239.7 360.2,239.5 361.4,241.0 362.6,243.2 363.8,245.3 365.0,246.9 366.2,247.3 367.4,245.0 368.6,241.8 369.8,238.7 371.0,237.2 372.2,236.4 373.4,238.5 374.6,241.3 375.8,242.2 377.0,239.0 378.2,234.6 379.4,230.0 380.6,231.2 381.8,235.5 383.0,235.9 384.2,233.0 385.4,231.3 386.6,232.3 387.8,235.3 389.0,238.4 390.2,241.7 391.4,244.7 392.6,246.5 393.8,247.1 395.0,247.2 396.2,247.3 397.4,246.3 398.6,244.9 399.8,242.8 401.0,242.2 402.2,241.4 403.4,241.9 404.6,241.9 405.8,243.0 407.0,244.5 408.2,248.2 409.4,249.0 410.6,244.4 411.8,238.3 413.0,233.6 414.2,229.1 415.4,228.8 416.6,229.0 417.8,230.4 419.0,232.8" fill="none" stroke="#000" stroke-width="2.1" stroke-linejoin="round" />
</g>
<line x1="74.53" y1="22.00" x2="74.53" y2="277.00" stroke="#ff0000" stroke-width="1.3" />
<line x1="74.53" y1="118.20" x2="104.70" y2="118.20" stroke="#ff0000" stroke-width="1.3" />
<line x1="361.20" y1="210.20" x2="361.20" y2="277.00" stroke="#ff0000" stroke-width="1.3" />
<clipPath id="clipI0"><rect x="104.7" y="27.2" width="97.99999999999999" height="182.3"/></clipPath>
<rect x="104.7" y="27.2" width="98.0" height="182.3" fill="#fff"/>
<g clip-path="url(#clipI0)">
<g fill="none" stroke-linecap="round">
<path stroke="#b4b4b4" stroke-width="0.62" d="M105.8 103.8l-4.8 3.2l2.4 3.2M103.4 110.2l3 6.4M104.6 118.9l0.4 1.8l0.8 1.6l1 1.6l0.3 1.8l-0.1 1.8l0.6 1.7l1.4 1.3l1.8 0.6l1.6 1l1.4 1.3l0.6 1.7l-0.9 1.6l-0.8 1.7l-0.7 1.7l-1.5 1.1l-0.3 1.8l-0.4 1.8l-0.5 1.7l-0.9 1.6l-0.2 1.8l-1.3 1.3l-1 1.5l0.1 1.8l0.7 1.7l0.6 1.7l1.5 1.1l1.8 0.6M107.9 119.7l1.4 1.3l1.1 1.5l0.4 1.8l-0.6 1.7l-0.1 1.8l1 1.5l-0.2 1.8l-1.3 1.3l0.9 1.6l0.7 1.7l0.1 1.8l-0.1 1.8l0.7 1.7l0.5 1.7l0.3 1.8l-0.4 1.8l0.1 1.8l-0.3 1.8l-1 1.5l0.5 1.7l0.6 1.7l-0.4 1.8l-1.2 1.4l0.1 1.8M108.9 85.8l-1.7 4.7l5.7 4.7M113 95.2l-5.5 7.8M105.3 106.4l0.7 1.7l0.7 1.7l-0.8 1.6l0.1 1.8l1.2 1.4l1.8 0.6l1.3 1.3l1.8 0.5l0.6 1.7l1 1.6l0.9 1.6l-0.3 1.8l0.2 1.8l-0.6 1.7l0.6 1.7l1 1.5l1.5 1.1l1.1 1.4l0.7 1.7l0.3 1.8l-0.1 1.8l-0.1 1.8l0.4 1.8l1.7 0.8l-0.1 1.8l0.4 1.8M109.4 107.4l1.1 1.5l0.7 1.7l0.4 1.8l0.3 1.8l0.7 1.7l-0.1 1.8l0.9 1.6l0.2 1.8l-1.2 1.4l0.1 1.8l-1.4 1.2l-0.8 1.6l0.1 1.8l-1.2 1.4l0.9 1.6l0.9 1.6l1 1.5l1.2 1.4l-0.1 1.8l-0.7 1.7l-0.3 1.8l0.5 1.7l0.8 1.7l-0.1 1.8l-1.6 1M110.7 91.6l-2 2.5l4.5 2.5M113.2 96.6l5.8 7.7M116.6 109l-0.3 1.8l-0.6 1.7l-0.8 1.7l-0.4 1.8l-1.3 1.3l-0.9 1.6l-1.3 1.3l-1 1.5l-1.6 1l-1.2 1.4l-1.7 0.9l-0.5 1.1l0 0.6l0 0.2l0 0.9l0 1.4l0 0.4l0 0.8l0 1.8l1.4 1.3l1.7 0.7l1 1.5l1 1.5l-1.1 1.4l-1.1 1.5M120 109.2l0.7 1.7l1 1.5l-1.7 0.8l-1.6 1l-1 1.5l-1.7 0.9l-0.9 1.6l-1.3 1.3l-1.2 1.4l-1.8 0.5l0 1.8l-0.8 1.7l-0.6 1.7l0.8 1.6l-0.6 1.7l0.5 1.7l-1.2 1.4l-1.2 1.4l-1.4 1.3l-0.9 1.6l-0.1 1.3l1 1.6l0.5 1.7l0.9 1.6l0.3 1.8l0.2 1.8l-0.5 1.7l0.6 1.7M114 110.3l2.5 2.5l-1.7 2.5M114.8 115.3l-3.1 7.8M110.2 127l-0.2 1.8l-0.1 1.8l-1.7 0.7l-1.3 1.3l-0.7 1.7l-0 1.8l-0.2 1.8l1.1 1.5l0.6 1.7l-0.2 1.8l-1.1 1.5l-1.3 1.3l0 1.8l0 1.8l1.1 1.5l0.6 1.7l-0.8 1.6l-0.8 0.2l0 0.1l0 0.2M113.9 126.1l1.8 0.7l0.5 1.8l-1.2 1.4l-1.7 0.8l0.3 1.8l-0.2 1.8l1.9 0l1.3 1.3l0.9 1.6l1.4 1.2l0.6 1.7l0.2 1.8l-0.8 1.6l-0.6 1.7l-0.6 1.7l1.4 1.2l1.7 0.8l1.5 1.1l0.7 1.7l0.5 1.8l-1.2 1.4l0.1 1.8l0.3 1.8l-0.1 1.8l0.2 1.8l-0.4 1.8l0.3 1.8l-1.2 1.4l-0.4 1.8M119.2 102.1l-1.3 6.3M116.7 112.5l-0.5 1.7l0.5 1.8l0.7 1.7l-0.1 1.8l-0.7 1.7l-0.3 1.8l0.7 1.7l1.1 1.5l-1.2 1.4l-1.4 1.2l-0.5 1.7l0.4 1.8l-0.2 1.8l-0.7 1.7l0.5 1.8l0.9 1.6l-1.2 1.4l-1.4 1.2l-0.9 1.6l-1.7 0.8l-0.6 1.7l-1.7 0.8l-1.1 1.5l-0.2 1.8l0.6 1.7l1.4 1.2M119.2 112.8l0.2 1.8l1.6 1l0.2 1.8l-0.9 1.6l-0.4 1.8l-1.8 0.6l-1.9 0.4l-1 1.5l-0.6 1.7l-0.2 1.8l-0.9 1.6l0.5 1.7l0.8 1.6l-1.4 1.2l-1 1.5l0.2 1.8l-0.9 1.6l-1.7 0.8l-1.6 1l-0.7 1.7l-1 1.5l-0.2 1.8l1 1.5l0.7 1.7l-0 1.8l-1.2 1.4M120.4 91.6l0.5 2.9l-2.5 2.9M118.4 97.4l-2.4 7M114 108.6l-0.4 1.8l0.8 1.6l-1.2 1.4l-0.4 1.8l0.8 1.6l-0.9 1.6l-0.8 1.6l0.2 1.8l-0.8 1.6l1.4 1.3l-0.9 1.6l0.3 1.8l-0.1 1.8l0.3 1.8l-0.2 1.8l-1 1.5l0.2 1.8l-0.7 1.7l-0.1 1.8l0.6 1.7l0.6 1.7l1.3 1.3l1.5 1.2l0 1.8l0.2 1.8l-1 1.5l-1 1.5l0.4 1.8M117.7 107.8l-0 1.8l1.7 0.7l0.5 1.7l-0.3 1.8l-0 1.8l-0.3 1.8l0.6 1.7l1.3 1.4l0.1 1.8l-0.8 1.6l-0 1.8l0.5 1.7l-0.8 1.6l-0.6 1.7l-1.9 0.2l-1.8 0.4l-0.8 1.6l-0.5 1.7l0.1 1.8l-0.1 1.8l-0.5 1.7l0.7 1.7l1 1.5l0.6 1.7l-0.2 1.8l0.8 1.6l1.9 0.3l0.9 1.6l0.8 1.7M127.1 97l2.2 7.2M127.9 109.3l-1.4 1.2l-0.7 1.7l-0.2 1.8l-0.3 1.8l-0.3 1.8l1.4 1.2l0.2 1.8l1 1.5l-0 1.8l1 1.5l-1.1 1.5l-0.7 1.7l0.1 1.8l-0.8 1.6l-0.5 1.7l0.7 1.7l-0.7 1.7l0.9 1.6l-0.2 1.8l-1.2 1.4M131.2 106.8l-1.8 0.5l-1.5 1.1l-1.1 1.5l-1.2 1.4l0.9 1.6l0.1 1.8l-0.9 1.6l-0.9 1.6l-0.7 1.7l0.6 1.7l-0.3 1.8l-0.4 1.8l-0.2 1.8l0.4 1.8l-0.6 1.7l-1.5 1.2l-1.3 1.3l-1.5 1.1l-1.8 0.5l-1.9 0.1l-1.7 0.8l-1 1.5l-0.2 1.8l-0.1 1.8l-0.6 1.7l-1.2 1.4l-0.4 1.8M124.2 83.6l-3.4 3l7.2 3M128 89.6l-2 8.8M124.2 102.8l1 1.5l0.4 1.8l-0.1 1.8l0.9 1.6l-1.6 1l-1.5 1.1l-1.2 1.4l-1.3 1.3l-0.2 1.8l-1.1 1.5l-1.9 0.1l-1.3 1.3l-0.9 1.6l-1.6 1l-1.9 0.2l-1.7 0.9l-0.7 1.7l0.1 1.8l0.2 1.8l0.8 1.6l1 1.5l0.3 1.8l-0.9 1.6M127.6 101.6l-1 1.5l1.6 1l1.9 0.4l1.5 1.1l1.4 1.2l0.9 1.6l0.2 1.8l0.3 1.8l-0.4 1.8l-1.4 1.2l-0.9 1.6l0.7 1.7l-0.6 1.7l-1.9 0.4l-0.8 1.7l0.8 1.6l0.9 1.6l-0.2 1.8l0.7 1.7l1 1.5l1.1 1.5l0.7 1.7M122.2 96.7l0.7 6M120.9 105.9l-0.8 1.6l0.4 1.8l-0.2 1.8l-0.4 1.8l-0.6 1.7l0.6 1.7l-1.2 1.4l-0.1 1.8l-1.1 1.5l-0.6 1.7l-0.7 1.7l0.7 1.7l-0.3 1.8l1.1 1.4l1.9 0.2l1.9 0.3l1.6 1l1.8 0.5l0.8 1.6l0.6 1.7M124.9 105.2l-1.5 1.1l-1.6 1l-1.4 1.2l-0.3 1.8l-1.9 0.3l-1.3 1.3l-0.2 1.8l-0.2 1.8l1 1.5l0.4 1.8l1.2 1.4l0.2 1.8l1.4 1.2l-1.6 1l-0.5 1.7l-1 1.5l-0.7 1.7l-1.1 1.5l0.4 1.8l1.2 1.4l1.2 1.4l1.5 1.1l1.3 1.3l0.7 1.7l1.6 1l1.3 1.3l-0 1.8l0.6 1.7M132.5 94l1.9 7.6M132.3 105l-0.2 1.8l-1.1 1.4l1 1.5l-0.6 1.7l-0.5 1.7l-0.8 1.6l-0.7 1.7l-1.2 1.4l-0.5 1.7l0.2 1.8l-0.6 1.7l-0.6 1.7l0.9 1.6l-0.8 1.6l-1.5 1.1l-1.8 0.4l-1.4 1.2l-1.2 1.4l-0.4 1.8l0.7 1.7l0.4 1.8l0.1 1.8l0.7 1.7l-1.3 1.3l0.8 1.7l1.2 1.4l1.3 1.3l-0.4 1.8l-0 1.8M135.6 107.2l-0.6 1.7l0.9 1.6l-0.4 1.8l0.4 1.8l-0.6 1.7l-1.7 0.8l1 1.5l1.1 1.5l-1.1 1.5l-0.2 1.8l-1.1 1.5l-1.5 1.1l0.6 1.7l-0.2 1.8l-0.3 1.8l1.3 1.3l-0.1 1.8l0.8 1.6l-0.3 1.8l-1.1 1.5l-1.4 1.3l-1.1 1.5l1 1.5l0.2 1.8l0.5 1.7l0.5 1.7M132 98l1.8 2.9l1.4 2.9M135.1 103.8l-1.4 7.6M132.2 116.7l-0.6 1.7l-0.8 1.6l-0.7 1.7l-0.5 1.7l1.2 1.4l0.7 1.7l1.9 0.2l1.1 1.5l-0.3 1.8l-1.8 0.6l-1.5 1.1l-0.3 1.8l1.3 1.3l-1.1 1.5l0.8 1.7l-0.4 1.8l1.7 0.8l1.2 1.4l0.1 1.8l-0.3 1.8l-0.1 1.8l0.7 1.7l1.3 1.3M135.2 117.2l-0.3 1.8l-1.8 0.5l-1.8 0.5l-0.6 1.7l-0.5 1.7l-1.2 1.4l0.1 1.8l-0.3 1.8l-0.3 1.8l-0.5 1.7l-0.9 1.6l0.3 1.8l-0.8 1.6l-0.7 1.7l-1 1.5l-1.2 1.4l-1.7 0.7l-1.7 0.8l-0.9 1.6l-0.1 1.8l-0.1 1.8l0.1 1.8l-0.6 1.7l0 1.8l0.1 1.8l1.2 1.4l0.1 1.8M135.8 81.5l-3 5.3l6.1 5.3M138.9 92.2l-4.9 8.4M131.7 103.6l0.6 1.7l0.3 1.8l-0.6 1.7l0.1 1.8l-1.6 1l-0.4 1.8l-0.9 1.6l-0.4 1.8l0.8 1.6l1 1.5l0.6 1.7l-0.6 1.7l0.5 1.7l0.1 1.8l0.6 1.7l0 1.8l1.6 0.9l0.8 1.7l1.9 0.2l0.9 1.6l-0.4 1.8l-0.7 1.7l-1.3 1.3M135.9 106.1l-1.6 1l-1.3 1.3l-0.1 1.8l-0.9 1.6l0.8 1.7l0.6 1.7l0.7 1.7l0.5 1.7l0.5 1.7l1.4 1.2l0.3 1.8l-0.3 1.8l1.4 1.2l1.7 0.7l1.4 1.2l1.1 1.5l-0.7 1.7l-1.3 1.3l-0.3 1.8l-1 1.5l0.4 1.8l0.6 1.7l0.7 1.7l-0.5 1.7l0.5 1.7M139 93.2l3.6 4.9l-2 4.9M140.6 103.1l5.9 8.9M144.4 117.2l0.9 1.6l1 1.5l-0.5 1.7l1.6 1l0.7 1.7l1 1.5l0.5 1.7l-0.5 1.7l-0.1 1.8l0.2 1.8l-0.6 1.7l-0.9 1.6l0.2 1.8l0.4 1.8l1.5 1.2l-0.3 1.8l1.1 1.5l0.5 1.7l-1.3 1.3l-1.4 1.2l-0.6 1.7l0.4 1.8l0.9 1.6M148.2 118l1 1.5l0.2 1.8l0.6 1.7l0 1.8l-0.8 1.7l-0.1 1.8l0.3 1.8l0.8 1.7l0.4 1.8l-0.8 1.6l1.1 1.5l1.3 1.3l1.3 1.3l1.3 1.3l0.8 1.6l1.8 0.6l1.6 0.9l1.4 1.2l1.1 1.4l-0.1 1.8M140.8 84.3l3.3 2.9l-4.3 2.9M139.8 90l3.4 7.2M141.4 100.6l1.5 1.1l1.9 0.4l1.3 1.4l1.4 1.3l-0.5 1.7l-1.6 1l-1.5 1.1l0.1 1.8l0.7 1.7l0.6 1.7l0.5 1.7l0.3 1.8l0.5 1.8l1.3 1.4l1 1.5l0.4 1.8l1.5 1.1l0.3 1.8l1.1 1.5l1 1.5l1.2 1.4l1.4 1.2l1 1.5l1.8 0.5l1.3 1.3l1.4 1.2l-1.3 1.3l-1.1 1.5l0 1.8M144.8 101.3l-0.4 1.8l-0.2 1.8l-0.5 1.7l1.2 1.4l1 1.6l1.2 1.4l-0.1 1.8l0.7 1.7l0.2 1.8l0.6 1.7l-0 1.8l-0.7 1.7l-0.1 1.8l-0.1 1.8l-0.2 1.8l-0.8 1.6l-0.1 1.8l-0 1.8l0.5 1.7l1.2 1.4l0.7 1.7l0.1 1.8M144.5 101.5l-3.6 3.1l4.5 3.1M145.4 107.8l-1.9 7.8M141.9 117.6l0.2 1.8l-0.1 1.8l-1.4 1.2l-1.4 1.2l-1.8 0.6l-1.7 0.8l-0.9 1.6l-1.8 0.5l-1.9 0.1l-1.5 1.1l-1 1.5l-0.7 1.7l-1.3 1.3l0.1 1.8l-0.4 1.8l1.1 1.5l0.9 1.6l0.6 1.7l1.9 0.1l1.9 0.2l1.5 1.1l1.6 1l1.7 0.8l1.7 0.8M145.7 119.3l-0.5 1.7l-0.1 1.8l1.4 1.2l1.6 1l1.1 1.4l0 1.8l-0.6 1.7l-1.2 1.4l-0.8 1.6l-1.4 1.2l0.3 1.8l1.8 0.7l1.9 0.1l1.9 0.4l1.7 0.7l1.9 0.3l1.8 0.5l1.9 0.3l0.7 1.7l-0.2 1.8l0.2 1.8l0.6 1.7l0.7 1.7l1.6 1l1.6 0.9l0.4 1.8l0.1 1.8l-0.7 1.7l-1.2 1.4M141.8 113.1l2.3 7.1M142.3 125.7l-0.1 1.8l-0.1 1.8l0.4 1.8l0.7 1.7l1 1.5l-0.5 1.7l-0.9 1.6l-1.8 0.5l-0.7 1.7l-0.8 1.6l-1.5 1.1l0 1.8l-1.6 0.9l-1.1 1.5l-1.6 0.9l0.8 1.6l0.1 1.8l-0.7 1.7l-1.3 1.3l-1.5 1.2l-1.4 1.2l0.2 1.8M145.3 123.5l0.3 1.8l-0.6 1.7l-0.1 1.8l0.8 1.7l1.4 1.2l1.6 1l1.9 0l1.8 0.5l1.5 1.1l-0.4 1.8l0.1 1.8l-0.6 1.7l0.5 1.7l0 1.8l-0.7 1.7l0.2 1.8l1.8 0.6l0.5 1.7l0.6 1.7l0.3 1.8l0.1 1.8l1.8 0.5l0.6 1.7l0.1 1.8M150.5 99.3l1.8 7.2M151 108.8l-1.2 1.4l-1.4 1.2l-1.9 0.3l-1.3 1.3l0.1 1.8l-0.7 1.7l-0.5 1.8l-1 1.5l-1 1.5l0.1 1.8l0 1.8l0.3 1.8l0.4 1.8l0.2 1.8l-0.2 1.8l-0.4 1.8l1 1.5l-0.1 1.8l1.3 1.3l-1.3 1.3l-0.2 1.8l-0.1 1.8l-1.3 1.3l-0.7 1.7l0.8 1.6l1.6 1l0.8 1.6l0 1.8l-0.9 1.6M153.5 111.6l0 1.8l-1.6 0.9l-1 1.5l-1 1.5l-1.2 1.4l0.4 1.8l1.3 1.3l-0 1.8l-0.9 1.6l-0.1 1.8l0.2 1.8l1.7 0.8l1.5 1.1l1.9 0.1l-0.2 1.8l0.1 1.8l-1.4 1.2l0.1 1.8l-1.4 1.2l-0.6 1.7l-0.3 1.8l0.1 1.8l0.4 1.8l0.7 1.7l-0.8 1.7l-0.5 1.7l0.9 1.6l-1.4 1.2M152.5 100.8l2.1 2.7l-3.7 2.7M150.9 106.3l2.8 6.9M151.3 117.4l-0.3 1.8l-1.6 1l-0.6 1.7l0.3 1.8l1.1 1.5l-0.1 1.8l0.4 1.8l0.7 1.7l-0.9 1.6l-0.2 1.8l-1 1.5l-1 1.5l-0.6 1.7l1.3 1.3l1.3 1.3l0.1 1.8l-1 1.5l-0.5 1.7l0.6 1.7l-0.1 1.8l-1.5 1.2l-1.9 0.2l-1.9 0.2l-0.8 1.6M154.8 115.8l-1.5 1.1l-0.2 1.8l0.1 1.8l0.4 1.8l0.4 1.8l0.1 1.8l-0.6 1.7l-0.8 1.7l-0.9 1.6l-1.3 1.3l0.2 1.8l-1.1 1.5l-0.7 1.7l0.7 1.7l0.5 1.7l1.7 0.8l1.1 1.5l0.3 1.8l-0.6 1.7l-1.1 1.5l1 1.5l0.9 1.6l0.8 1.6l1.3 1.4M154.5 97.2l-1.8 3.4l-0.6 3.4M152.1 104l-0.1 5.3M150 112.8l0.8 1.6l0.1 1.8l-0.2 1.8l0.4 1.8l-0.6 1.7l1 1.5l1.8 0.5l1.3 1.3l1.6 0.9l1.6 1l1.9 0.2l-0.5 1.7l0.1 1.8l0.7 1.7l0.4 1.8l1.7 0.9l1.1 1.5l-0.4 1.8l-0.1 1.8l1 1.6l-0.5 1.8l-1.5 1.1l-1.5 1.2l0.8 1.6l1.1 1.5l0.6 1.7l0.6 1.7l-0.6 1.7l0.8 1.6M154.3 112.9l1.8 0.6l1.6 1l1.2 1.4l0.8 1.7l0.4 1.8l-0.1 1.8l-1.5 1.1l0.5 1.7l0.6 1.7l0.6 1.7l0.5 1.7l1.3 1.3l0.4 1.8l1.3 1.3l1 1.5l1.4 1.3l0.6 1.7l0.3 1.8l0.3 1.8l-1.6 1l-1 1.6l-1.2 1.4l-1 1.5l-1.4 1.2l-1 1.5l0 1.8M155.3 99l3.1 5.4M156.8 109.4l0.7 1.7l0.1 1.8l0.6 1.7l0.2 1.8l-1.1 1.4l-0.4 1.8l0.2 1.8l1.1 1.5l1.4 1.3l1.8 0.7l1.8 0.4l1.7 0.7l1 1.5l0.2 1.8l0.6 1.7l0.1 1.8l1.3 1.3l-1.1 1.5l-1.9 0.2l-1.5 1.1M159.5 106.8l0.5 1.7l1.6 0.9l0.4 1.8l1.3 1.3l0.6 1.7l1.2 1.4l1.5 1.1l0.1 1.8l-1.4 1.2l-0.7 1.7l0.1 1.8l-0.2 1.8l0.5 1.7l1.7 0.8l1.3 1.3l1.9 0.2l1.4 1.2l1.4 1.3l0.8 1.7l1.7 0.9l1.7 0.8l0.7 1.7M161.5 107.3l0.2 5.1M159.9 114.4l-1.8 0.5l-1.6 1l-1.4 1.3l0.3 1.8l1 1.5l-1.1 1.5l-0.1 1.8l-1.5 1.1l-1.5 1.1l0.3 1.8l-0.9 1.6l0.7 1.7l1.2 1.4l1.5 1l0.1 1.8l0.6 1.7l-1.8 0.6l-1.1 1.5l0.2 1.8l0.8 1.6l1.6 1l-0.2 1.8l1.3 1.3l-0 1.8l-0.5 1.7M162.7 115.5l1.3 1.3l1.4 1.3l0.4 1.8l0.8 1.6l-0.2 1.8l0.4 1.8l1.9 0.2l1.1 1.5l1 1.5l-0.5 1.8l0.4 1.8l-0.6 1.7l-0.4 1.8l0.1 1.8l1.2 1.4l1.8 0.6l1 1.5l-1.1 1.5l-1.4 1.2l-0 1.8l-0.5 1.7l0.3 1.8M163.8 94.7l3.9 5l-7.4 5M160.3 104.8l3.5 5.3M162.7 113.6l0.8 1.6l1.8 0.5l1.1 1.5l0.6 1.7l0.4 1.8l-0.5 1.7l0.7 1.7l-1.2 1.4l0.7 1.7l0.2 1.8l1.2 1.4l1 1.5l-0.5 1.7l1.1 1.5l0.5 1.7l0.2 1.8l-0.1 1.8l-0.3 1.8l-0.9 1.6l-1 1.5l-1 1.5M164.9 112.9l-1 1.5l-0.4 1.8l1 1.5l0.6 1.7l-0.1 1.8l-0.4 1.8l1.1 1.5l1.7 0.8l1.3 1.3l1.5 1.1l0.1 1.8l-0.5 1.7l-1.8 0.7l-0.1 1.8l-0.2 1.8l-0.1 1.8l0.3 1.8l-0.2 1.8l0.6 1.7l-1.7 0.8l-1.1 1.5l-0.5 1.7l-1.4 1.3l-1.5 1.1l-1.6 0.9l-1.1 1.5l-0.4 1.8M165.9 93.9l-2.1 4.6l1.5 4.6M165.3 103l-0.1 5.8M164 113.2l-0.2 1.8l-1.4 1.2l-0.2 1.8l0.6 1.7l-0.3 1.8l-0.1 1.8l1.1 1.5l-0.3 1.8l-1 1.5l-1.1 1.5l-0.8 1.6l1.1 1.5l0.1 1.8l1.9 0.2l1.5 1.2l1.3 1.4l0.5 1.7l-1.1 1.5l-1.7 0.9l-0.5 1.8l0.6 1.7l0.2 1.8M167.7 112.8l0.7 1.7l1.2 1.4l1.2 1.4l-1.2 1.4l-1.4 1.2l-1.8 0.5l-1.8 0.6l0.8 1.6l-0.4 1.8l0 1.8l-0.2 1.8l0.5 1.7l0.9 1.6l1.4 1.2l-0 1.8l0.9 1.6l1.6 1l1.5 1.1l-0 1.8l-0.4 1.8l1.3 1.3l1.9 0.2l0.8 1.6l1.8 0.5l0.4 1.8l-0.3 1.8l0.4 1.8M168 90.7l-1.3 4.3l-0.8 4.3M165.8 99.2l2.3 6M166 110.3l-1.5 1.1l-0.3 1.8l-1.6 1l-0.9 1.6l1.2 1.4l0.6 1.7l0.5 1.7l-0.9 1.6l0.1 1.8l1.1 1.5l1.7 0.8l0.6 1.7l-0.7 1.7l-0.2 1.8l0.7 1.7l1.2 1.4l1.5 1.2l1.9 0.3l1.7 0.9l1.5 1.1l1 1.5l1.4 1.3l1.3 1.3l1.3 1.3l1.4 1.2M169.7 109.3l0.4 1.8l0.3 1.8l0 1.8l1.2 1.4l-0 1.8l-0.7 1.7l-1 1.5l-0.1 1.8l0.1 1.8l0.6 1.7l1.5 1.1l1.3 1.3l1.9 0.4l1.9 0.4l1.4 1.2l0.4 1.8l-0.5 1.7l0.2 1.8l0.1 1.8l-0.4 1.8l0.2 1.8l1.8 0.7M171.6 104.9l0.1 5l-2.6 5M169.1 115l6 8.4M173.2 126.5l0 1.8l-1.7 0.7l-1.9 0.1l-1.5 1.1l-1.2 1.4l-1.8 0.7l-1.4 1.2l-0.8 1.6l0.1 1.8l1 1.6l0.1 1.8l0.7 1.7l0.5 1.7l0 1.8l-0.3 1.8l-1.5 1.1l-1.5 1.2l-1.7 0.8l-0.6 1.7l-1.7 0.8l-1.7 0.8l-1.3 1.3l-1.1 1.5l-0.1 1.8l0 1.8l-0.3 1.8l1.1 1.5M176.2 127.9l-1.3 1.3l1.1 1.5l1.7 0.9l0.2 1.8l-0.6 1.7l-0.2 1.8l1.2 1.4l-0.9 1.6l-0.1 1.8l0.4 1.8l-1.7 0.7l-1.4 1.3l-1.8 0.6l-1.1 1.5l0.6 1.7l-0.9 1.6l-0.7 1.7l0.7 1.7l0.4 1.8l0.7 1.7l-0.2 1.8l1.6 1l1.2 1.4l1.9 0.4M174.9 86.1l1.2 4.1l-3.2 4.1M173 94.3l1 8.1M172.2 107.2l-1.3 1.3l-1.8 0.5l-1.8 0.6l-1.9 0.2l-1.7 0.7l-0.6 1.7l-1 1.5l-1.7 0.9l-1.4 1.2l-1.4 1.3l0.1 1.8l1.8 0.7l0.9 1.6l1.6 0.9l1.1 1.5l1.2 1.4l0.6 1.7l-0.6 1.7l1.2 1.4l0.9 1.6l0.7 1.7l-0.9 1.6l-0.6 1.7l0.5 1.8l0.8 1.6M175.8 104.7l-1.8 0.5l-1.8 0.7l-1.3 1.3l-1.5 1.1l-1.9 0.3l-1.4 1.2l-0.9 1.6l-1.4 1.2l-1 1.5l-1.9 0.1l-0.8 1.6l-1.8 0.5l-0.5 1.7l-1.1 1.5l-1.2 1.4l-0.5 1.8l-0.5 1.7l-1.7 0.9l-1.8 0.5l-1.5 1.1l-1 1.5M177.9 91.2l-2.4 5.8M174.2 102.5l0.2 1.8l1 1.5l-0.6 1.7l-1.8 0.5l-0.9 1.6l-0.2 1.8l0 1.8l0.1 1.8l-0.2 1.8l0.9 1.6l1.1 1.4l1.7 0.7l0.6 1.7l-0.3 1.8l0.5 1.7l0.1 1.8l0.4 1.8l-0.4 1.8l-0.3 1.8l-1.6 1l-1.9 0.3l-1.8 0.5l-0.7 1.7M177.6 99l-1.2 1.4l-1.1 1.5l0.9 1.6l-0.7 1.7l-0.3 1.8l-0.1 1.8l1.9 0.3l1.4 1.2l0.1 1.8l1.3 1.3l1.8 0.6l1.3 1.3l0.9 1.6l1.5 1.1l-0 1.8l-0.8 1.6l-1.5 1.1l-1.5 1.1l-0.2 1.8l-0.9 1.6l0.1 1.8l1.7 0.8l0.2 1.8l-0.4 1.8M179.8 97.7l-2.9 5.5M175 107.6l-0.6 1.7l1.6 1l1.4 1.3l1.9 0l1.8 0.5l1.9 0.1l1.6 1l1 1.5l0.5 1.7l-1 1.5l-1 1.5l-1 1.5l-0.3 1.8l-1.7 0.8l-1.9 0.4l-1 1.6l-0 1.8l-0.8 1.6l-1.4 1.3l-0.6 1.7l-1.4 1.3l0.2 1.8l0.3 1.8l-0.8 1.6l0 1.8l-0.2 1.8l-0.1 1.8M178.3 107l-0.7 1.7l-1.2 1.4l1.2 1.4l1.8 0.6l1.4 1.2l-0.5 1.7l-1.1 1.5l-1.7 0.8l-1 1.6l-0.9 1.6l-0.9 1.6l-0.4 1.8l0.7 1.7l1.6 0.9l1.7 0.7l1.8 0.6l1.5 1.1l1.7 0.8l0.4 1.8l-0.2 1.8M182.2 82.5l-1.1 3l4.7 3M185.8 88.5l-2 5.7M182.6 98.3l-1.1 1.4l-1.9 0.2l-0.2 1.8l-1 1.5l-0.1 1.8l0.9 1.6l-0.2 1.8l0.4 1.8l-0.2 1.8l-0.6 1.7l-1.2 1.4l-0.6 1.7l-0.6 1.7l-0.1 1.8l0.3 1.8l0.1 1.8l-1.7 0.9l-0.5 1.7l0.5 1.7l1.7 0.7l0 1.8l0.3 1.8l-1.1 1.5l-1 1.6l-1.2 1.4l-1.8 0.4M185.6 98.6l-0.2 1.8l-0.2 1.8l1.5 1.1l1.1 1.5l1.1 1.5l1.2 1.4l0.5 1.7l1.3 1.3l0.6 1.7l1.8 0.6l1.6 1l-0.2 1.8l-0.3 1.8l-0.7 1.7l0.4 1.8l1.4 1.2l-0.4 1.8l-1.2 1.4l-1.4 1.2l-0.9 1.6l-1.5 1.1M186.3 86.7l1 5.4l0.9 5.4M188.2 97.6l-4 7.3M182.7 108.2l0 1.8l0.4 1.8l-0.7 1.7l0.7 1.7l-0.2 1.8l0.5 1.7l1.1 1.5l-0.5 1.8l-1.4 1.3l-0.9 1.6l-0.3 1.8l-0.5 1.7l-1.5 1.1l-1 1.5l-1.3 1.3l-0.8 1.6l0.9 1.6l1.7 0.9l1.7 0.8l0.3 1.8l-1 1.6l-0.4 1.8l0.6 1.7l0 1.8l-0.9 1.6M186.7 107.4l-0.3 1.8l-0.7 1.7l0.9 1.6l1.4 1.2l1.8 0.4l1.1 1.5l1 1.5l1.6 1l1.8 0.5l0.7 1.7l-0.4 1.8l-0.6 1.7l-0.4 1.8l-0.7 1.7l-0.4 1.8l-0.6 1.7l0.1 1.8l1 1.5l1.3 1.3l0.6 1.7l-1.2 1.4l0.1 1.8l1.1 1.5l0 1.8l-0.7 1.7M189.1 88.3l-1.5 2.8l10.4 2.8M198 93.9l0.6 6M197.6 102.7l1.5 1.1l1.7 0.8l1.6 0.6l0 1l0 0.5l0 1.1l0 1.3l0 1.7l0 0.3l0 1.2l0 0l0 0.1l0 1.8l0 1.8l-1.5 1.1l-0.5 1.7l-0.1 1.8l0.7 1.7l0.9 1.6l0.5 1.7l0 1.5M201.1 103.7l-0.5 1.7l0.3 1.8l-0.2 1.8l-1 1.6l0.1 1.8l0.5 1.7l-0.6 1.7l-0.7 1.7l-0.1 1.8l1.4 1.2l1.3 1.3l-0.5 1.7l0.3 1.8l0.5 1.8l0.6 1.4l0 1.6l0 1.7l0 1.8l0 1.6l0 1l-0.9 1.6l-0.6 1.7l0.6 1.7l0.7 1.7l0.1 1.8l-0.9 1.6l-0.7 1.7l0 1.8M191.1 81.7l-0.3 3.4l0.6 3.4M191.4 88.5l-4.4 8.4M185.7 100.9l1 1.5l-0.5 1.8l-1.2 1.4l-0.8 1.6l-1.1 1.5l-0.2 1.8l-0.6 1.7l0.1 1.8l-0.1 1.8l0.4 1.8l-0.7 1.7l-0.8 1.7l0 1.8l1.9 0.3l0.5 1.7l1.9 0.4l1.3 1.3l1.6 1l1.9 0.4l1.8 0.7l1.3 1.3l0.9 1.6l0.2 1.8l-0 1.8l1.2 1.4l-0.6 1.7l-0.2 1.8l-1.2 1.4M188 101.4l0.8 1.6l1.2 1.4l1 1.5l0.9 1.6l1 1.5l1.8 0.6l1.8 0.6l1.9 0.3l1.8 0.7l0.3 1.8l1.1 1.5l0.8 1.6l0 1.5l-1 1.5l1 1.3l0 1.3l0 1.8l0 1.5l0 1.8l0 1.8l-0.9 1.6l-1.4 1.2M194.4 102.1l-1.7 3.3l2.7 3.3M195.4 108.7l3.6 5.6M197 117.7l-1.4 1.2l-1.3 1.3l-1.2 1.4l0.7 1.7l1.8 0.7l1.3 1.3l0.8 1.6l0.3 1.8l1.2 1.4l1.5 1.1l0.4 1.8l1 1.6l0.5 1.2l0 1.3l0 1.2l0 1.7l0 1.8l0 1.8l-1.5 1.1l-1.5 1.2l-0.9 1.6l0.7 1.7l0.4 1.8M200.9 118.2l0.6 1.7l0.1 1.8l0.8 1.5l0 1.1l0 1.8l0 1.8l0 1.8l0 1.5l0 1.8l-1.6 0.9l-1.5 1.1l-1.4 1.2l-0.8 1.6l-1.5 1.1l-0.6 1.7l-1.9 0.3l-1.8 0.7l-1.3 1.3l-1.7 0.8l-0.2 1.8M197 87.5l-0.7 4.5l0.1 4.5M196.5 96.5l2.9 8.4M197.3 110.1l-0.9 1.6l-0.8 1.7l-0.4 1.8l0.1 1.8l0.8 1.6l0.7 1.7l1 1.6l1.7 0.7l1.9 0.1l1 0.6l0 0.7l0 0.3l0 0.8l0 1.1l-1.3 1.3l-0.6 1.7l-1.7 0.8l-1.4 1.2l-0.2 1.8l-0.6 1.7M200.5 107.3l0.9 1.6l0.3 1.8l-0.1 1.8l-0.1 1.8l0.6 1.7l0.4 1.6l0 1.3l0 1.8l0 1.6l0 0.2l0 1.4l-0.6 1.7l-0.6 1.7l-0.9 1.6l-0.5 1.7l0.6 1.7l1.9 0l0.1 0.4l0 0l0 0.1M198.7 105.1l1.8 4.3l0.8 4.3M201.2 113.7l2.7 5.8M202.6 121.6l-0.2 1.8l-0.9 1.6l-0.8 1.6l-0.8 1.6l-0.7 1.7l-0.3 1.8l-0.4 1.8l-0.1 1.8l0.3 1.8l-0.7 1.7l-0.7 1.7l-1.8 0.6l-1.8 0.5l-1 1.6l-1.6 1l-1.9 0.2l-1.3 1.3l-1.9 0.1l-1.9 0.1l-0.9 1.6l-1.5 1.1M206.1 122.9l-3.7 1.3l0 0.7l0 1.2l0 1.7l-0.3 1.8l0.2 1.8l0.1 1.1l0 0.2l0 0.8l0 1.1l0 1.6l-0.4 1.8l0.4 1.7l-0.8 1.6l-0 1.8l0.2 1.8l0 1.8l0.7 0.9l-1 1.5l-0.3 1.8l-1.1 1.4l-0 1.8M200.7 88.9l1.3 3.8l-8.9 3.8M193.1 96.4l1.9 5.5M193.5 105.7l0.5 1.7l0.2 1.8l-0.6 1.7l-0.9 1.6l-0.2 1.8l-0.5 1.7l-1 1.5l-1.1 1.5l-0.3 1.8l-0.4 1.8l-0.6 1.7l-0.3 1.8l-1.2 1.4l-1.3 1.3l-1.4 1.2l-0.2 1.8l0.6 1.7l0.6 1.7l0.6 1.7l-1.2 1.4M197.4 106.2l-0.9 1.6l-1.2 1.4l-1.8 0.5l-1.9 0.4l-0.5 1.8l1.3 1.3l1.5 1.1l1.8 0.5l1.9 0.2l1.2 1.4l0 1.8l1.2 1.4l1.6 1l0.7 1.3l0 1.7l-0.7 1.7l-1.6 1l-1.3 1.3l-0.2 1.8l-0.1 1.8l0.1 1.8M106.2 184.2l0.5 -5.9M104.4 175.8l0.9 -1.6l-0.3 -1.8l0 -1.2l0 -1.5l0 -0.4l0 -0.4l0 -1.8l0.5 -1.7l1.3 -1.3l1.3 -1.3l1.5 -1l0.9 -1.6l-0 -1.8l1.7 -0.9l0.5 -1.7l0.5 -1.7l-0.6 -1.7l-0 -1.8l1.8 -0.6l1.4 -1.2l0.6 -1.7l0.1 -1.8l0.2 -1.8l1.2 -1.4l1.5 -1.1M108.1 175l-0.8 -1.6l-0.8 -1.7l0.8 -1.6l-0.8 -1.6l1.4 -1.2l0.8 -1.6l-1.8 -0.7l-1.7 -0.7l-0.3 -1.7l0.6 -1.7l1.2 -1.4l0.3 -1.8l0.3 -1.8l1.1 -1.5l0.9 -1.6l-0.3 -1.8l-1.5 -1.1l-0.1 -1.8l-0.5 -1.7l-1.2 -1.4l-0.9 -1.2l0.1 -1.8l0.1 -1.8l0.5 -1.7l0.2 -1.8l1.1 -1.5l0.6 -1.7M109.3 183l3.1 -3.4l-1.2 -3.4M111.2 176.2l0.5 -7.8M109.3 164.1l-1 -1.5l-0.3 -1.8l0.4 -1.8l1.5 -1.1l0 -1.8l1.6 -0.9l-0.2 -1.8l-1.2 -1.4l-1.8 -0.5l-0.4 -1.8l0.6 -1.7l0.3 -1.8l-0.8 -1.6l0.7 -1.7l-0.7 -1.7l0.8 -1.6l-0.1 -1.8l-0 -1.8l-0.1 -1.8l0.1 -1.8M113.2 164.1l-0.1 -1.8l-0.7 -1.7l-1.5 -1.1l-0.9 -1.6l-1.3 -1.3l-1.3 -1.3l-1.5 -1.1l-0.9 -1.3l0 -1.7l0 -1.8l0.2 -1.8l-0.2 -1.7l0 -1.6l1.1 -1.5l0.7 -1.7l0.2 -1.8l-1.2 -1.4l-0.2 -1.8l0.9 -1.6l1.7 -0.7l0.4 -1.8l-1.2 -1.4l-1.9 -0.2M111.8 179.9l2.1 -3.1l-1.6 -3.1M112.4 173.6l-3.8 -5.9M106.6 162.1l0.8 -1.6l0.5 -1.7l-0.3 -1.8l1.7 -0.8l-0.3 -1.8l-0.1 -1.8l0.7 -1.7l1.1 -1.4l-0.4 -1.8l-0.5 -1.7l-1.5 -1.1l-0.8 -1.6l-1.3 -1.3l-0.3 -1.8l1.2 -1.4l1.9 -0.1l1.1 -1.5l0.5 -1.7l0.6 -1.7l-0 -1.8l-0.2 -1.8l-1.6 -0.9l-0.2 -1.8l-1.3 -1.3l1.1 -1.4l0.3 -1.8l-0.8 -1.6l-0.4 -1.8M110.6 165.3l-0.7 -1.7l0.2 -1.8l1.4 -1.2l1.1 -1.5l0.6 -1.7l0.3 -1.8l1.5 -1.1l1.5 -1.2l0.7 -1.7l1.2 -1.4l1 -1.6l0.1 -1.8l-1.6 -1l-1.9 -0l-1.9 -0l-1.7 -0.8l-0.9 -1.6l-1 -1.5l-0.6 -1.7l-0.7 -1.7l-0.3 -1.8l0.4 -1.8l-0.5 -1.7l-1.6 -1M117.5 188.5l-4.8 -8.4M110.4 176.8l-1.7 -0.9l-1.8 -0.7l-1.6 -1l1.1 -1.5l1.4 -1.3l0.5 -1.7l1 -1.5l1.4 -1.2l0.5 -1.7l1.5 -1.1l1.7 -0.8l0.6 -1.7l-1.4 -1.2l-0.2 -1.8l-0.2 -1.8l-0.7 -1.7l0.3 -1.8l1 -1.6l0.2 -1.8l1.1 -1.4l1.3 -1.3l-0.9 -1.6l1.2 -1.4l-1 -1.5M114.3 175.1l1.7 -0.9l1.3 -1.3l0.2 -1.8l-1.3 -1.3l-1.5 -1.2l0.5 -1.7l1.8 -0.7l1.6 -1l0.9 -1.6l0.9 -1.6l0 -1.8l0.7 -1.7l1 -1.6l-0.8 -1.6l-1 -1.5l0.4 -1.8l-1 -1.5l0.3 -1.8l-0.4 -1.8l-1 -1.5l-1.3 -1.3l-0.1 -1.8l0.4 -1.8l0.6 -1.7l0.9 -1.6l0.5 -1.7l0.6 -1.7l0 -1.8M115.7 203.4l-2 -3.9l8.5 -3.9M122.2 195.6l0.9 -5.2M121.6 187l-1.5 -1.1l-1.8 -0.5l-1.6 -0.9l-1.4 -1.3l-1.8 -0.7l-0.8 -1.6l0.2 -1.8l-0.1 -1.8l0.8 -1.6l0.8 -1.6l1.2 -1.4l0.9 -1.6l-0.4 -1.8l-1.5 -1.1l-0.2 -1.8l-0.4 -1.8l-1.1 -1.5l0.3 -1.8l1.3 -1.3l0.6 -1.7l0.8 -1.6M124.2 187.6l-0.4 -1.8l-1.1 -1.5l-0.9 -1.6l-1.4 -1.3l-0.9 -1.6l-0.4 -1.8l1.3 -1.3l1.7 -0.8l0.6 -1.7l-0.4 -1.8l0.4 -1.8l-1.5 -1.1l-0.9 -1.6l-0.7 -1.7l-0.4 -1.8l-0.5 -1.7l-0.4 -1.8l0.1 -1.8l1.4 -1.2l1.4 -1.2M119.7 195.3l-2.2 -3.8l-3.3 -3.8M114.2 187.8l0.7 -6.9M112.9 177.2l-0.7 -1.7l-0.5 -1.7l-1.7 -0.9l-0.6 -1.7l0.5 -1.8l-1.4 -1.3l-1.8 -0.7l-1.7 -0l0 -1.5l0 -0.9l0 -1.5l0 -1.8l0 -1.7l1.8 -0.5l-0.3 -1.8l-0.1 -1.8l0.4 -1.8l1.2 -1.4l1 -1.5l-0.9 -1.6l-0.2 -1.8l0.8 -1.6l0.1 -1.8l1.2 -1.4l0.6 -1.7M116.2 175.2l1.6 -1l-0.2 -1.8l-1.5 -1.1l-1.6 -1l-1.7 -0.8l-1 -1.5l1.2 -1.4l0.4 -1.8l0.9 -1.6l-0.8 -1.6l-0.3 -1.8l-1.9 -0.3l-1.9 -0.2l-1 -1.5l-0.9 -1.6l1 -1.5l1 -1.5l-0.8 -1.6l-0.5 -1.8l-0.1 -1.8l-0.1 -1.8l-1.2 -1.4l-0.2 -1.8l-0 -1.8l0.1 -1.8l-1.1 -1.5l0.4 -1.8l1.1 -1.5l0.3 -1.8M124.1 177.8l-1.4 -5.7M121.1 168.3l-1.3 -1.3l-1.9 -0l-1.9 -0.3l-0.7 -1.7l-0.6 -1.7l-1.1 -1.4l-0.2 -1.8l-0.4 -1.8l-1.9 -0l-0.5 -1.7l-0.1 -1.8l1.5 -1.1l0.2 -1.8l-0 -1.8l1.6 -1l1.7 -0.8l1.4 -1.2l-0.4 -1.8l-0.9 -1.6l-0.4 -1.8l-0.1 -1.8l1.2 -1.4M124.8 169.1l-1.7 -0.8l-0.6 -1.7l0.5 -1.7l1 -1.6l0.1 -1.8l-1.1 -1.5l-1.8 -0.6l-0.5 -1.7l-0.1 -1.8l-1.1 -1.4l-0.9 -1.6l1.1 -1.5l0.5 -1.8l0.9 -1.6l0.8 -1.6l1.9 -0.1l1.9 -0.1l1.2 -1.4l-0.2 -1.8l-0.8 -1.6l-0.8 -1.7l0.3 -1.8l1 -1.5l1.3 -1.3l-0.9 -1.6l-0.8 -1.6M125 199.6l0.7 -4.6l-2.7 -4.6M122.9 190.4l-2 -6.7M118.7 178.1l1 -1.5l0.2 -1.8l-1.4 -1.3l-0.9 -1.6l0.3 -1.8l-0.4 -1.8l-1.6 -1l-0.1 -1.8l-0.7 -1.7l-0.4 -1.8l-0.4 -1.8l0 -1.8l-0.3 -1.8l-0.8 -1.6l-1.9 -0l0.1 -1.8l-1.4 -1.2l-1 -1.5l0.4 -1.8l1.5 -1.1l-0.4 -1.8l1.3 -1.3l-1 -1.5l0.8 -1.6l0 -1.8l1 -1.6l1.7 -0.9M122.7 179l0.8 -1.6l0.6 -1.7l0.9 -1.6l-0.2 -1.8l1.6 -0.9l0.8 -1.6l-0.3 -1.8l-0.5 -1.7l-1.2 -1.4l-0.2 -1.8l-0.4 -1.8l1.4 -1.2l1.6 -1l1.1 -1.5l1.1 -1.4l-0.8 -1.6l-1 -1.5l-1 -1.5l-0.9 -1.6l-1.8 -0.7l-0.7 -1.7l0.2 -1.8l0.5 -1.7l-0.9 -1.6l-0.2 -1.8l0.8 -1.6l-1 -1.5l-0.1 -1.8l-1.1 -1.5M126.7 175.2l0.6 -6.7M125.9 164.5l0.4 -1.8l-0.7 -1.7l0.4 -1.8l-0.2 -1.8l-0.9 -1.6l-0.1 -1.8l-0.1 -1.8l-0.4 -1.8l0.4 -1.8l-0.2 -1.8l0.6 -1.7l0.7 -1.7l0.7 -1.7l0.9 -1.6l-0.9 -1.6l-1.3 -1.3l-1.2 -1.4l-1.8 -0.4l-1.9 -0.4l-1.3 -1.3l-1.5 -1.1M128.9 163l1.6 -1l1.9 -0.4l0.1 -1.8l0 -1.8l1 -1.6l0.6 -1.7l1.1 -1.5l1.4 -1.3l0.1 -1.8l-1.3 -1.3l-0.1 -1.8l-0.9 -1.6l0.6 -1.7l0.4 -1.8l0.3 -1.8l1.7 -0.7l1.3 -1.3l0.8 -1.6l0 -1.8l-0.4 -1.8l0.4 -1.8l-0.1 -1.8l-0.7 -1.7l1.3 -1.3l0.3 -1.8M130 192.2l3.3 -4.8l-3.6 -4.8M129.7 182.6l1.2 -7.6M129.4 170.3l0.9 -1.6l1.9 -0l1.9 -0.4l1.5 -1.1l-0.8 -1.7l0.2 -1.8l1.5 -1.1l0.9 -1.6l0.5 -1.7l0.9 -1.6l1.3 -1.3l0.8 -1.6l1.3 -1.3l-0.2 -1.8l0.2 -1.8l-0.5 -1.7l-1.1 -1.5l-1.1 -1.5l-0.7 -1.7l-1.3 -1.3l-0.8 -1.6M133.2 172.9l-1.9 -0.4l-1.9 -0.3l-1.5 -1.2l-0.3 -1.8l-1.3 -1.3l-1.4 -1.2l1 -1.6l-0.7 -1.7l0.3 -1.8l0.9 -1.6l1.1 -1.5l-0.8 -1.7l0.5 -1.7l-0.5 -1.7l-0.6 -1.7l1.3 -1.3l1.7 -0.7l1.9 -0l1.4 -1.2l1.1 -1.5l1.5 -1.1l1.6 -0.9l1.5 -1.1l-0.2 -1.8M135 183.8l-1.9 -5.1M130.7 173l1.3 -1.3l0.8 -1.7l-0.8 -1.6l-0.4 -1.8l1 -1.5l1.2 -1.4l-0.5 -1.7l-1 -1.5l-1.7 -0.9l0.3 -1.8l0.6 -1.7l-0.8 -1.6l1.3 -1.3l0.8 -1.6l1.8 -0.7l1.3 -1.3l1.5 -1l1.4 -1.2l-0.3 -1.8l-0.3 -1.8l0.5 -1.8l1.7 -0.8l0.9 -1.6l0.4 -1.8l1.5 -1.1l0 -1.8l-0.2 -1.8l-0.7 -1.7M135.1 176.3l0.5 -1.7l-1.6 -0.9l-1 -1.5l0.3 -1.8l-0.9 -1.6l-1.7 -0.9l-1 -1.5l-1.7 -0.9l-0.6 -1.7l-1 -1.5l0.3 -1.8l1.7 -0.8l1.1 -1.5l0.3 -1.8l-1.6 -1l0.5 -1.7l-0.2 -1.8l-1.8 -0.6l-1.8 -0.5l1.4 -1.2l0.2 -1.8l1.5 -1l1.3 -1.3l0.7 -1.7l-0.7 -1.7M140 182.5l0 -6.1M139 171.7l1.1 -1.5l0.6 -1.7l1.1 -1.4l0.6 -1.7l1.6 -0.9l1.4 -1.2l-1.2 -1.4l-1 -1.6l1.8 -0.7l0.8 -1.6l-0.6 -1.7l0.6 -1.7l0.4 -1.8l-0 -1.8l-0.9 -1.6l-0 -1.8l-1.2 -1.4l1.1 -1.5l0.4 -1.8l0.7 -1.7l-1.2 -1.4l-1.2 -1.4l-0.7 -1.7l-0.7 -1.7l-1 -1.6M141.6 172.4l-1.3 -1.3l-1.6 -0.9l-1.3 -1.3l-0.1 -1.8l-1.3 -1.3l-1.9 -0.1l-1.5 -1.1l-1.3 -1.3l-1.3 -1.3l-1.8 -0.6l-1.7 -0.9l-1.4 -1.2l-0.7 -1.7l0.2 -1.8l-0.3 -1.8l-0.4 -1.8l0 -1.8l1 -1.5l0.8 -1.7l0.9 -1.6l0.4 -1.8l-0.8 -1.6l-1.3 -1.3l-1.8 -0.7l0.5 -1.7l-1.1 -1.5l0.6 -1.7M139.2 193.7l-3.6 -4.5l5.5 -4.5M141.1 184.6l-1.1 -5.9M138.5 175.8l1 -1.5l1.4 -1.3l1.7 -0.9l1 -1.6l0.5 -1.7l0.9 -1.6l-1.7 -0.9l-1.8 -0.5l-1.2 -1.4l-1.7 -0.8l-1.6 -0.9l-0.8 -1.6l0.3 -1.8l-1.5 -1l-1.2 -1.4l-1.1 -1.5l1 -1.5l-0.8 -1.6l-1.3 -1.3l-1.3 -1.3l-0.3 -1.8l-0.1 -1.8l0.3 -1.8l0.9 -1.6l-0.7 -1.7l-0.5 -1.7l-1.7 -0.8M142.2 174.9l-1.9 -0.4l-0.6 -1.7l-0.3 -1.8l1.4 -1.3l1.7 -0.8l1.4 -1.2l0.7 -1.7l0.5 -1.7l0.5 -1.7l1.4 -1.2l1 -1.5l0.4 -1.8l-0.2 -1.8l0.6 -1.7l1.5 -1.1l0.6 -1.7l-1.4 -1.2l-0.6 -1.7l0.5 -1.7l0.1 -1.8l-0.1 -1.8l-0.4 -1.8l0.1 -1.8l0.1 -1.8l-0.1 -1.8l-0.7 -1.7M142.4 202.9l-1.6 -3.2l-1.6 -3.2M139.2 196.5l-2.5 -6.2M135.3 185.9l0.4 -1.8l1.6 -1l0.5 -1.7l1.1 -1.5l0.7 -1.7l-0.5 -1.8l-0.3 -1.8l1.3 -1.3l1.1 -1.5l0.5 -1.7l-1.3 -1.4l-1.1 -1.5l0.2 -1.8l-1.9 -0.2l-1.9 -0l-1.7 -0.8l-0.2 -1.8l1.2 -1.4l0.9 -1.6l0.4 -1.8M137.8 187.5l-0.5 -1.7l0.1 -1.8l0.1 -1.8l1.1 -1.5l-0.7 -1.7l-0.6 -1.7l0.4 -1.8l0.1 -1.8l0.7 -1.7l0.5 -1.7l0.3 -1.8l1.1 -1.4l1.3 -1.3l-0.3 -1.8l-1.1 -1.5l-1.8 -0.7l-1.1 -1.5l-1.3 -1.3l-0.6 -1.7l-0.9 -1.6l-1.1 -1.5l-1.1 -1.5l-0.2 -1.8l0.1 -1.8M145.3 199.2l-0.8 -3.2l-2.2 -3.2M142.3 192.9l-8.8 -6.3M131.1 181.3l0.8 -1.6l0.9 -1.6l0.8 -1.6l1.5 -1.1l0.3 -1.8l0.2 -1.8l-1.2 -1.4l0 -1.8l-0.5 -1.7l-1.7 -0.9l-1 -1.5l-1.2 -1.4l-1.1 -1.5l0.2 -1.8l1.6 -1l1.7 -0.7l-0.2 -1.8l1.4 -1.2l1.2 -1.4l0.8 -1.6M135.7 182l-1.3 -1.3l-1.4 -1.2l0.2 -1.8l-0.6 -1.7l-1.1 -1.5l-0.5 -1.7l0.3 -1.8l0.2 -1.8l0.9 -1.6l-0.4 -1.8l-0.7 -1.7l-0.5 -1.7l-1.3 -1.3l-1 -1.5l-0.1 -1.8l-0.8 -1.7l-0.6 -1.7l-0.2 -1.8l0.8 -1.6l1.1 -1.5l-0.7 -1.7l-1.5 -1.2l-0.9 -1.6l-0 -1.8M147.9 195.1l-0.2 -3.6l-5.2 -3.6M142.4 188l-0.9 -6.5M139.2 177.6l-1.8 -0.6l-1.7 -0.7l0.1 -1.8l0.1 -1.8l-0.2 -1.8l-1 -1.5l-0 -1.8l-0.3 -1.8l-0 -1.8l0.4 -1.8l0.7 -1.7l-0.2 -1.8l-0.1 -1.8l-0.5 -1.7l-0.7 -1.7l-0.5 -1.7l-1.7 -0.9l-1.8 -0.7l-1.6 -0.9l-0.1 -1.8l-1.2 -1.4l-1 -1.5l-0.8 -1.7l0.3 -1.8M143.6 177.7l-1.4 -1.2l-0.5 -1.7l-1.6 -1l-0.6 -1.7l-1 -1.5l-1.5 -1.1l-1.7 -0.7l-1.8 -0.6l-1.1 -1.5l-0.5 -1.7l0.9 -1.6l-0.5 -1.8l-1 -1.5l-1.2 -1.4l1.3 -1.3l0.9 -1.6l0.7 -1.7l-0.3 -1.8l-1.3 -1.3l-0.2 -1.8l-1.7 -0.8l-1.2 -1.4l-0.4 -1.8l1.9 -0.3M149.5 190.6l2.6 -3.4l-4.7 -3.4M147.4 183.8l5.7 -6.1M151.3 172.9l1.5 -1.1l0.8 -1.6l0.5 -1.7l1.3 -1.3l1.6 -1l1.8 -0.7l1.2 -1.4l1.9 -0.2l1.9 -0.3l1.7 -0.8l-0.6 -1.7l0.2 -1.8l-0.6 -1.7l-0.6 -1.7l-0.6 -1.7l-1.9 -0.4l-1.6 -1l-1.8 -0.6l-1.6 -1l-0.2 -1.8l-0.7 -1.7l0.2 -1.8l-0.4 -1.8l-1.2 -1.4l-0.6 -1.7M155.1 174.6l-0.7 -1.7l-1.3 -1.3l-1.2 -1.4l-1 -1.5l-1.5 -1.1l0.3 -1.8l-0.3 -1.8l0.1 -1.8l-0.6 -1.7l-0.1 -1.8l-0.7 -1.7l1.7 -0.8l0.7 -1.7l0.6 -1.7l-0.4 -1.8l-0.8 -1.6l-0.7 -1.7l0.7 -1.7l1 -1.5l-0.1 -1.8l1.5 -1.1l1 -1.5M152.6 195l-0.9 -2.7l-1 -2.7M150.6 189.5l-9.7 -8.7M138.6 175.9l1 -1.6l-0.9 -1.6l-0.2 -1.8l-0.3 -1.8l0.2 -1.8l-0.6 -1.7l-1.1 -1.5l-1.7 -0.8l-1.9 -0.4l-1.3 -1.3l-0.9 -1.6l0.3 -1.8l0.5 -1.8l1.6 -1l1.1 -1.5l-0.4 -1.8l-0 -1.8l-0.1 -1.8l-1.2 -1.4l-1.4 -1.2l-0.5 -1.7l0.4 -1.8M143.2 177.7l1.3 -1.3l0.7 -1.7l-1.3 -1.3l-0.6 -1.7l-0.9 -1.6l-0.7 -1.7l0.2 -1.8l0.7 -1.7l-1.1 -1.5l1.2 -1.4l1.9 -0.4l1.7 -0.8l1.7 -0.7l0.6 -1.7l1.6 -1l1.4 -1.2l1.6 -1l1.8 -0.5l1.8 -0.5l1.5 -1.1l1.6 -1l1 -1.6l1.7 -0.7l1.3 -1.3l-0.1 -1.8l0.4 -1.8M153.3 185.6l-2.4 -6.5M148.7 174.1l0.5 -1.7l-0.5 -1.7l-0.5 -1.7l0.9 -1.6l1.7 -0.9l1.9 -0.3l1.9 -0.3l1.4 -1.3l1.8 -0.5l0.9 -1.6l1 -1.5l1.1 -1.5l-1.2 -1.4l-1.8 -0.6l-0.4 -1.8l-0.5 -1.8l0.4 -1.8l0.2 -1.8l1.4 -1.2l0.9 -1.6l0 -1.8M152.5 175.6l-0.8 -1.6l-0.6 -1.7l0.6 -1.7l0.2 -1.8l0.3 -1.8l0.8 -1.6l0.2 -1.8l0.8 -1.6l1.8 -0.6l1.2 -1.4l0.2 -1.8l0.2 -1.8l0.4 -1.8l0.6 -1.7l-0.7 -1.7l1.7 -0.9l1.1 -1.5l-0.6 -1.7l-0.3 -1.8l-0 -1.8l-1 -1.5l-0.4 -1.8l-1.2 -1.4l0.1 -1.8l-0.1 -1.8l1.1 -1.5l1.3 -1.3l0.6 -1.7M158.6 192l1.8 -5l-5.5 -5M154.8 182l1.8 -8.3M154.4 170.7l-0.3 -1.8l0 -1.8l0.9 -1.6l-1.2 -1.4l-1.5 -1.1l-0 -1.8l0.9 -1.6l0.3 -1.8l0.4 -1.8l-0.1 -1.8l0.3 -1.8l1.2 -1.4l1.2 -1.4l1.2 -1.4l0.9 -1.6l0.9 -1.6l1.9 -0.3l1.9 -0.3l0.2 -1.8l0.7 -1.7l-1.2 -1.4M158 169.9l0.2 -1.8l0.3 -1.8l0.2 -1.8l1.5 -1.1l0.7 -1.7l-1.1 -1.4l-0.3 -1.8l0.8 -1.6l-0.4 -1.8l-0.5 -1.7l-0.3 -1.8l-0.3 -1.8l-0.3 -1.8l-1.5 -1.1l-0.6 -1.7l-1 -1.5l0.5 -1.7l-0.2 -1.8l0.2 -1.8l0.3 -1.8M160.1 195.7l2.2 -4l2.3 -4M164.5 187.7l-2.4 -7.3M159.8 175.3l0.9 -1.6l1.1 -1.5l1.8 -0.5l1.5 -1.1l0.3 -1.8l1.3 -1.3l1.2 -1.4l1.5 -1.1l-0.4 -1.8l-0.2 -1.8l1.8 -0.6l0.9 -1.6l-0.9 -1.6l-1.5 -1.1l-1.9 -0.3l-1.8 -0.6l-1.8 -0.7l-1.1 -1.4l-0.5 -1.8l-0.6 -1.7l-1.7 -0.8l-1.9 -0.1l-1.4 -1.2l-0.3 -1.8l-1.5 -1.1l-1.4 -1.3l-0.1 -1.8M164.1 174.6l0.5 -1.7l-0 -1.8l0.3 -1.8l-0.8 -1.6l0.5 -1.8l0.9 -1.6l-0 -1.8l0.5 -1.7l0 -1.8l-0.4 -1.8l-0.8 -1.6l0 -1.8l0.3 -1.8l-0.2 -1.8l1.8 -0.5l1.2 -1.4l1.3 -1.4l1.8 -0.5l1 -1.5l0.1 -1.8l1.8 -0.7l0.3 -1.8l-1.3 -1.4l-0.2 -1.8M157.1 177l2.8 -8M157.5 164.1l-0.6 -1.7l-1.4 -1.2l-0.9 -1.6l-1.9 -0.3l-0.4 -1.8l0.2 -1.8l0.7 -1.7l-0.7 -1.7l-1.1 -1.4l-0.8 -1.6l-0.8 -1.7l-0.9 -1.6l0 -1.8l0.5 -1.7l1 -1.5l-0.2 -1.8l0.8 -1.6l-0 -1.8l-0.6 -1.7l-1.2 -1.4l0.8 -1.7l0.2 -1.8l0.7 -1.7M162.2 166.5l1.6 -1l1.3 -1.4l1.1 -1.5l0.6 -1.7l-0.5 -1.7l-0.5 -1.7l-1.2 -1.4l-0.7 -1.7l0.9 -1.6l-0.2 -1.8l0 -1.8l-1 -1.5l-0.2 -1.8l0.2 -1.8l0 -1.8l0.6 -1.7l0.9 -1.6l1.9 -0.4l1 -1.6l0.1 -1.8l0.9 -1.6l0.2 -1.8l-0.9 -1.6l-0.9 -1.6l-1.3 -1.3l-1.7 -0.8l-0.3 -1.8l0.7 -1.7l0.2 -1.8M163.8 182.7l-1.1 -7.4M160.9 171.4l0.5 -1.7l0.6 -1.7l-0.9 -1.6l-0.5 -1.7l-0 -1.8l-0.7 -1.7l-0.3 -1.8l1 -1.6l1.1 -1.5l1.8 -0.6l1.7 -0.8l1.3 -1.3l1.2 -1.4l1 -1.5l1.9 -0.3l1.4 -1.2l0.2 -1.8l0.5 -1.7l1.1 -1.5l-0.3 -1.8l0.8 -1.6l-0.4 -1.8l0.8 -1.6M164.9 172l1.4 -1.2l1.8 -0.6l0.1 -1.8l-0.5 -1.7l-1.3 -1.4l-1.5 -1l-0.5 -1.7l1.5 -1.1l-0 -1.8l1 -1.6l1.7 -0.8l1.9 -0.3l-0.4 -1.8l0.5 -1.8l-0.4 -1.8l0.8 -1.7l-0.2 -1.8l0.3 -1.8l-0.3 -1.8l-0.3 -1.8l-1 -1.6l-1.4 -1.2l-0.5 -1.7l0.6 -1.7l-0.4 -1.8l0.7 -1.7M168.4 176.4l2.5 -3.1l-2.4 -3.1M168.5 170.2l1.1 -7.7M167.3 159.8l0.5 -1.7l-0.8 -1.7l-0.5 -1.7l0.9 -1.6l-0.4 -1.8l1.4 -1.3l1.5 -1.1l0.8 -1.7l-0.6 -1.7l-0.5 -1.7l-0.6 -1.7l-0.6 -1.7l-0.6 -1.7l0.4 -1.8l1.1 -1.5l1.4 -1.2l1.4 -1.2l1.6 -0.9l0.3 -1.8l-0.9 -1.6l-1.8 -0.4l-1 -1.5l-0.7 -1.7l-1.7 -0.7l-1.4 -1.3l-1.7 -0.9M171 156.9l1.1 -1.4l0.3 -1.8l-0 -1.8l0.4 -1.8l1.3 -1.3l0.5 -1.7l0.1 -1.8l1 -1.5l-0.3 -1.8l-1.9 -0.1l-0.8 -1.6l-1.6 -0.9l-1.9 -0.3l-1.6 -1l-1.8 -0.4l-1.9 -0.3l-1.6 -0.9l-1.8 -0.6l-0.6 -1.7l0.8 -1.6l1.2 -1.4l1 -1.5l-1.3 -1.3l1.4 -1.2l0.1 -1.8l0.9 -1.6M169.3 195.3l-3.7 -8.2M164.1 184.2l1.3 -1.3l0.5 -1.7l-0.6 -1.7l-0.9 -1.6l-1.1 -1.5l0.6 -1.7l0.6 -1.7l-1.1 -1.5l-1.2 -1.4l-1.8 -0.5l-1.7 -0.8l-1.9 -0.4l-1.3 -1.4l0.8 -1.6l1.6 -0.9l1.8 -0.7l1.5 -1.2l1.4 -1.3l0.3 -1.8l0.2 -1.8l-0.5 -1.7l-1.6 -0.9l-1.2 -1.4l1.2 -1.4l0.3 -1.8M168.1 181.4l0.8 -1.6l0.6 -1.7l-0.3 -1.8l-0.4 -1.8l0.2 -1.8l-0 -1.8l-0.8 -1.6l-0.4 -1.8l-1.5 -1.1l0.7 -1.7l-0.5 -1.7l-0.7 -1.7l-0.8 -1.7l-1.1 -1.5l-0 -1.8l-0.4 -1.8l-1.4 -1.2l0.1 -1.8l1.5 -1.2l1 -1.5l1.2 -1.4l1.6 -0.9l-0.5 -1.7l0.5 -1.7l-0.1 -1.8l0.4 -1.8l1.8 -0.6l0 -1.8l-0.4 -1.8M176 191.6l1.1 -5.4M174.7 183.8l-0.7 -1.7l-1 -1.5l-0.4 -1.8l0.9 -1.6l1.1 -1.5l0.2 -1.8l-1.2 -1.4l-1.1 -1.5l0.6 -1.7l0.2 -1.8l0 -1.8l0.4 -1.8l-1.2 -1.4l-1.8 -0.5l-1.8 -0.4l-1.2 -1.4l0.9 -1.6l0.4 -1.8l0.9 -1.6l0.1 -1.8l1.3 -1.3l0.1 -1.8l0.5 -1.7M178.8 182.9l0.2 -1.8l-0.1 -1.8l0.6 -1.7l0.3 -1.8l-0.3 -1.8l-1.3 -1.3l0.3 -1.8l0.7 -1.7l0.7 -1.7l0.7 -1.7l-0.5 -1.8l0 -1.8l0.2 -1.8l-0.8 -1.6l-0.2 -1.8l-1 -1.5l0.5 -1.7l0.3 -1.8l-0.6 -1.7l-0.5 -1.7l0.7 -1.7M177.3 197l1.7 -3.1l4.3 -3.1M183.3 190.9l-1 -7.4M180.4 177.6l1 -1.5l-0.3 -1.8l0.8 -1.6l-1 -1.5l-0.9 -1.6l-0.7 -1.7l1 -1.5l0.5 -1.7l-1 -1.6l-1.1 -1.4l-0.2 -1.8l-0.3 -1.8l0.1 -1.8l-0.3 -1.8l-0.5 -1.7l0.3 -1.8l-0.7 -1.7l-1.1 -1.5l-0.7 -1.7l-0.4 -1.8l-0.1 -1.8l0.3 -1.8l1.2 -1.4l1.4 -1.2l1.3 -1.3l-0.9 -1.6l0.8 -1.6l1.2 -1.4M183.9 177.8l-1.3 -1.3l-1.1 -1.4l-1.5 -1.2l-1.7 -0.8l-0.4 -1.8l1.9 -0.4l1.8 -0.4l1.9 -0.1l0.6 -1.7l-0.2 -1.8l0.2 -1.8l0.8 -1.6l0.7 -1.7l1.9 -0.1l1.5 -1.1l1.9 -0.1l1 -1.5l1.8 -0.6l1.9 -0.3l1.7 -0.8l1.6 -0.9l1.7 -0.8M179.3 180.2l1.8 -4.6l4.6 -4.6M185.7 170.9l1.9 -8.4M185.3 160.1l1.1 -1.4l0.3 -1.8l1.3 -1.4l1.4 -1.2l0.7 -1.7l1.1 -1.5l0.3 -1.8l0.1 -1.8l1.5 -1.1l1.9 -0.1l1.9 -0.1l1.6 -1l1.4 -1.2l1.3 -1.3l1.3 -0.5l0 -0.7l0 -0.8l0 -1.2l0 -1.8l0 -1.7l0 -1.7l-0.4 -1.8M189.7 158.9l0.7 -1.7l-0.2 -1.8l-1.2 -1.4l0.5 -1.8l0.8 -1.7l-0.3 -1.8l-0.3 -1.8l-1.7 -0.7l-1.1 -1.5l-1.3 -1.3l1 -1.5l1.4 -1.2l-0.3 -1.8l-1.6 -1l-1.2 -1.4l0.9 -1.6l0.4 -1.8l-0.4 -1.8l-0.4 -1.8l0.1 -1.8l0.3 -1.8M182.9 195.8l-1.4 -3.5l2.6 -3.5M184.2 188.8l-5.1 -5.1M177.9 180.8l-0.4 -1.8l0.8 -1.6l0.7 -1.7l-0.2 -1.8l-0.3 -1.8l0.8 -1.7l-1.4 -1.2l-1 -1.6l-0.1 -1.8l0.3 -1.8l-1.9 -0.2l-1.6 -0.9l-0.6 -1.7l-0.1 -1.8l0.4 -1.8l-0.1 -1.8l1 -1.5l1.4 -1.2l0.1 -1.8l1.7 -0.9l1.8 -0.7l1.9 -0.1l1.2 -1.4l0.5 -1.7l-0 -1.8M180.4 180.9l0.2 -1.8l-0.7 -1.7l0.8 -1.6l-1 -1.5l1.4 -1.3l-0.6 -1.7l-0.2 -1.8l-0.3 -1.8l0.1 -1.8l1.3 -1.3l1.2 -1.4l-0 -1.8l0.1 -1.8l-1.4 -1.3l-0.6 -1.7l0 -1.8l-1.1 -1.5l-0.5 -1.7l-0.5 -1.7l-1.2 -1.4l-1.6 -0.9l-1.9 -0.2l-1.8 -0.5M185 177.7l-2.9 -8.8M180.8 164.3l0.8 -1.6l0.2 -1.8l-1.3 -1.3l-1.8 -0.6l1 -1.5l1.1 -1.5l-1.2 -1.4l1.2 -1.4l1.5 -1.1l0.9 -1.6l0.3 -1.8l-0.6 -1.7l-0.9 -1.6l-0.3 -1.8l-1.4 -1.3l-0.5 -1.7l0.3 -1.8l0.2 -1.8l0.5 -1.7l0.2 -1.8l0.4 -1.8l0.1 -1.8M183.1 163.4l-1.4 -1.3l0.1 -1.8l0.6 -1.7l0.5 -1.7l-0 -1.8l0.4 -1.8l0.9 -1.6l-0.9 -1.6l-0.6 -1.7l-1.5 -1.1l-1.8 -0.7l-1.2 -1.4l-0.5 -1.7l0.1 -1.8l0.3 -1.8l0.3 -1.8l1.3 -1.3l1.6 -1l0.3 -1.8l-0.8 -1.6l0.5 -1.7l1.6 -0.9l0.8 -1.7l-0 -1.8l-0.2 -1.8l-1 -1.5l-0.4 -1.8l-0.4 -1.8M187.1 204.8l-1.1 -4.9l-1 -4.9M185.1 194.9l1.2 -9M184.1 182.2l0 -1.8l0.6 -1.7l-1.1 -1.5l0.9 -1.6l0.8 -1.6l1.1 -1.5l1.3 -1.3l-0.5 -1.7l0.1 -1.8l0 -1.8l-0.1 -1.8l0.6 -1.7l1.2 -1.4l0.1 -1.8l1 -1.5l0 -1.8l-0.3 -1.8l1 -1.5l1.1 -1.5l1.5 -1.1l0.4 -1.8l1.1 -1.5l0.6 -1.7l1.3 -1.3l-0.9 -1.6l-0.6 -1.7M188.6 183.9l-0.3 -1.8l-1.6 -1l-1.4 -1.2l-0.6 -1.7l1.1 -1.5l0.7 -1.7l1.5 -1.1l-0.9 -1.6l0.2 -1.8l0.3 -1.8l1.1 -1.5l0.4 -1.8l1.5 -1.1l1.5 -1.1l1.2 -1.4l1.8 -0.7l-0.4 -1.8l-0.9 -1.6l-1.6 -1l-0.9 -1.6l-1.2 -1.4l-1.4 -1.3l-1.9 -0.1M191.5 187.9l-4.3 -3.9l3.9 -3.9M191.1 180.1l-3.8 -6.6M185.4 169.8l1 -1.5l0.2 -1.8l-0.2 -1.8l-0.1 -1.8l1.3 -1.3l1.2 -1.4l0.8 -1.7l0.6 -1.7l0.2 -1.8l0.9 -1.6l-1.2 -1.4l0.1 -1.8l-1.3 -1.3l0.9 -1.6l-0.8 -1.6l-0.2 -1.8l0.1 -1.8l1.6 -1l0.6 -1.7l1.2 -1.4l-0.4 -1.8l-1.1 -1.5M188.6 171.4l0.8 -1.6l1.7 -0.9l-0.1 -1.8l0.2 -1.8l-1.2 -1.4l-1.5 -1.2l-0.4 -1.8l-0.6 -1.7l-1.8 -0.5l-0 -1.8l-1.2 -1.4l-0.5 -1.8l-0.4 -1.8l-0.6 -1.7l0.4 -1.8l1.4 -1.2l0.4 -1.8l1.5 -1.1l1.5 -1.1l1 -1.5l0.8 -1.6l-1.3 -1.3l-1.8 -0.6l0.3 -1.8l0.9 -1.6M193.8 193.4l1.2 -4.4l-4.9 -4.4M190.1 184.6l1.1 -5.7M189.8 173.3l-0.4 -1.8l0.1 -1.8l-0.3 -1.8l0.1 -1.8l-1 -1.5l-1.6 -1l0.7 -1.7l0.6 -1.7l0.8 -1.7l-0.8 -1.6l-1.3 -1.3l-1.1 -1.5l-1.6 -1l-1.6 -1l-1.5 -1.1l-0.2 -1.8l-1.3 -1.3l-0.5 -1.7l0.5 -1.7l-1.2 -1.4l-1 -1.5l-1.9 -0.2l-0.6 -1.7l-1.1 -1.5l-1 -1.5l-0.4 -1.8l-0.5 -1.7M192.3 174.7l-1 -1.6l0.8 -1.6l0.3 -1.8l-0.5 -1.7l-0.2 -1.8l-1.7 -0.8l-0.9 -1.6l-0.7 -1.7l-0.2 -1.8l-0.5 -1.7l-0.8 -1.6l-0 -1.8l-1.5 -1.1l-1.5 -1.1l0 -1.8l0.7 -1.7l0.1 -1.8l-1.3 -1.3l0.6 -1.7l-0.8 -1.6M198 185.8l-4.2 -7.3M191.9 173.5l0.7 -1.7l1.7 -0.7l1 -1.5l-0.6 -1.7l0 -1.8l0.2 -1.8l-1.6 -0.9l-1.9 -0.2l-1.8 -0.6l-0.9 -1.6l0.9 -1.6l0.6 -1.7l0.6 -1.7l0.4 -1.8l1.7 -0.8l1.3 -1.3l-0.5 -1.7l-1 -1.6l-1.4 -1.2l-0.4 -1.8l1.5 -1.1l-0.9 -1.6l-1.7 -0.8l-1.9 -0.2l-1.9 -0.2l-0 -1.8l0 -1.8l0.1 -1.8M195.7 174.1l0.8 -1.6l-0.7 -1.7l1.1 -1.5l-0.4 -1.8l-0.8 -1.6l-0.2 -1.8l0.2 -1.8l0.4 -1.8l-0.7 -1.7l-0.4 -1.8l-0.9 -1.6l0.5 -1.7l-0.5 -1.8l-0.4 -1.8l-0.7 -1.7l1.1 -1.5l-1.5 -1.1l-0.5 -1.7l1.4 -1.2l0.1 -1.8l-0.1 -1.8l0.7 -1.7M198 199.6l-0 -2.6l1.2 -2.6M199.2 194.5l-0.9 -5.7M196.8 183.6l-0.1 -1.8l-0.8 -1.6l-0.8 -1.6l-1.6 -1l-0.5 -1.7l1.8 -0.6l1.8 -0.5l1 -1.5l-0.8 -1.6l-0.9 -1.6l-0.3 -1.8l0.3 -1.8l-0.8 -1.6l-1 -1.6l-1 -1.6l-0.8 -1.7l0.7 -1.7l0.3 -1.8l-0.5 -1.7l-0.1 -1.8l-1.3 -1.3l0.2 -1.8l0.3 -1.8l1.3 -1.3l-1.1 -1.5l-0.9 -1.6l-1.3 -1.3l-0.1 -1.8l-1.4 -1.2M199.5 183.6l1.8 -0.6l1.1 -1.4l0 -1.6l-0.6 -1.7l-0.8 -1.6l-1.7 -0.8l-1.8 -0.7l-1.9 -0l-1.7 -0.8l0.4 -1.8l0.8 -1.6l1.9 -0.3l0.8 -1.6l-0.9 -1.6l-0.5 -1.7l1 -1.5l-0.1 -1.8l-0.8 -1.6l-0.2 -1.8l-0.7 -1.7l-0.5 -1.7l-0.1 -1.8M201.9 199.9l1.6 -3.1l-3 -3.1M200.5 193.7l1.2 -6.3M199.8 184l-0.5 -1.7l0.8 -1.6l1 -1.5l-0.2 -1.8l0.4 -1.8l-1.2 -1.4l-1.1 -1.5l-1.2 -1.4l-0.5 -1.8l-1 -1.5l0.7 -1.7l0.6 -1.7l-0.5 -1.7l0.9 -1.6l0.4 -1.8l1.1 -1.5l0.9 -1.6l0.8 -1.6l1.1 -1.5l0.3 -1.7l-0.6 -1.7l0.6 -1.6l0 -1.8M203.2 183.8l-0.8 -1.7l0 -1.8l0 -1.8l0 -1.8l-1.3 -1.3l-0.6 -1.7l-1.9 -0.3l-0.5 -1.7l-1.8 -0.7l-1.6 -1l-0.2 -1.8l0 -1.8l1.4 -1.2l1.1 -1.5l-1.2 -1.4l-0.9 -1.6l-1.2 -1.4l-1.8 -0.6l-1.2 -1.4l0.7 -1.7l0.6 -1.7l-0.7 -1.7l-1.1 -1.5l-0.8 -1.6l0.9 -1.6l-0.8 -1.6l-0.4 -1.8l-1.4 -1.3"/>
<path stroke="#ff3a3a" stroke-width="0.72" d="M103.4 110.2l-0.5 2.3M103.4 110.2l-2.2 0.6M103.4 110.2l0.8 2.5M103.4 110.2l2.2 1.3M109.4 119.1l-1.2 -3M100.1 120l-1.3 -2.3M109.1 126.3l2.3 0.9M111 120.3l0.4 3.2M113 95.2l2.2 -2M113 95.2l2.4 -0.4M113 95.2l0.6 2.2M113 95.2l1.5 -2.8M106.9 102.1l1.8 -3.1M105.9 104.3l0.7 3.4M110.5 102.1l-2.7 1.3M105 112.6l1.5 -2.5M113.2 96.6l-0.2 -2.7M113.2 96.6l-3 0.6M113.2 96.6l1.4 2.6M113.2 96.6l2.9 0.8M116.8 103.7l-3.3 0.8M120.3 106.5l-3.6 -0.2M118.1 107.3l3.1 1.1M109.5 105.8l-0.3 -2.8M114.8 115.3l-1.1 2.1M114.8 115.3l-1.6 1.2M114.8 115.3l-1.2 -1.9M114.8 115.3l-2.2 -1.7M108.1 122.9l0.1 -2.7M110.5 125.7l1.7 -1.1M114 129.7l2.8 -0.4M111.2 122.1l-3.1 1.9M119.2 102.1l-2.2 -1M119.2 102.1l-1.6 2.2M119.2 102.1l1.8 1.9M119.2 102.1l-0.7 2.3M115.7 106.5l1.2 -2M116.1 117.2l-3.1 1.6M118.2 112.9l-2.7 0.2M121.7 116.4l-1.3 -1.7M118.4 97.4l-2.1 -0.1M118.4 97.4l-1.2 1.9M118.4 97.4l-0.1 -2M118.4 97.4l-2.1 -1.9M112.9 112l-0.3 3.7M117.7 108.3l2.5 -2.1M115.4 105.6l1.3 3M114.8 111l1.5 -3M127.1 97l-1.6 1.8M127.1 97l-1.8 -2M127.1 97l2.2 1.3M127.1 97l1.8 1.8M126.5 105.9l-1.9 2.2M130.8 111l-3.1 0.5M127.3 104.9l-0.9 2.7M128 109.6l3.4 -0.7M128 89.6l2.6 -1.1M128 89.6l2.3 -0.4M128 89.6l1.1 3M128 89.6l2.6 1.4M121 97.2l-0.6 -3M122.8 99.3l-2.1 2M128.6 106.9l3.7 -0.7M120.4 106.5l-2.3 -1.3M122.2 96.7l2.2 -2M122.2 96.7l2 -1.7M122.2 96.7l1.4 2.6M122.2 96.7l2.8 -0.1M124.9 107.6l2.2 -0.9M124.2 108.3l3.8 -0.2M127.5 111.5l-1.9 1.5M119.5 103l-2.3 -1.3M132.5 94l2.6 0.6M132.5 94l-0 2.1M132.5 94l1.3 -1.8M132.5 94l-0.5 -2.1M132 104l-3.7 -0.9M133.1 105.8l-2.7 1.1M131.5 102.6l-2.2 3M131.8 106.9l-3.5 -0.2M135.1 103.8l-1.7 2.4M135.1 103.8l-1.7 -1.8M135.1 103.8l2.4 -1.4M135.1 103.8l2.3 -1.1M134.3 111.9l1.4 1.7M135.1 111.6l3.2 -0.3M134.5 113.9l0.1 -2.9M139.5 119.6l-0.1 -3.4M138.9 92.2l1.3 -2.5M138.9 92.2l1.7 -2.6M138.9 92.2l-1 2.2M138.9 92.2l-2.1 2.3M135.1 104.4l-2.6 1.3M134.7 100.8l0.5 -2.2M132.8 103.1l-0.9 -2.2M135.7 106.5l0.8 3.4M140.6 103.1l0.6 -2.8M140.6 103.1l2.9 0.3M140.6 103.1l-2.8 0.3M140.6 103.1l1.7 -1.2M143 120.9l0.7 2.5M144 111.2l-3.4 -0.4M147.5 112l1.5 -1.9M150.7 117.7l1.8 1.6M139.8 90l-1.9 -1.6M139.8 90l-0.7 2.3M139.8 90l-0.8 2.4M139.8 90l3.1 -0M144.9 101.4l-0.2 3M146.9 95.4l2.9 2.3M136.4 105.7l-2.8 -0.3M144.8 104.3l3.3 1.5M145.4 107.8l-1.8 2M145.4 107.8l-1 -2.3M145.4 107.8l-0.1 2.6M145.4 107.8l0.8 -2.4M138.5 124.5l2 -0.8M148.7 116.3l3.3 1.1M140.4 113.6l1 1.9M145.8 122l-1.5 1.5M141.8 113.1l2.5 0.7M141.8 113.1l0.2 2.6M141.8 113.1l-2 -0.3M141.8 113.1l0.3 2.3M146.5 120.3l2 -0.8M144.7 127.7l-0.1 -3.7M142 121.7l-0.4 3M144.4 122.4l1.1 -1.9M150.5 99.3l-0.4 -2M150.5 99.3l-1.4 -2.8M150.5 99.3l-2.3 0M150.5 99.3l2 -2.1M157.6 115.9l2.7 0.2M150.1 111.5l-2.8 0.1M151 114.3l-2.8 -1.6M147.4 106.3l-2.5 -1.1M150.9 106.3l0.4 -3.2M150.9 106.3l-2.5 -0.6M150.9 106.3l-0 2.6M150.9 106.3l1.7 1.9M149.6 112.4l0.5 2.4M151.7 118.5l0.3 -2.6M153.5 121.3l1.6 -2.6M158.4 117.3l-3 0.2M152.1 104l-1.5 -2.2M152.1 104l0.3 -3M152.1 104l2.7 1.3M152.1 104l2.4 -0.4M149.3 114.8l-0.6 3.1M150.4 109.6l1.3 -1.6M152 108.6l2.3 -2.1M153.6 115.3l2.2 1.4M155.3 99l-2.1 -0M155.3 99l-0.8 2.7M155.3 99l1.6 2.7M155.3 99l-1.7 -2.4M164.1 112l1.7 -1.3M158 104.8l2.6 -0.4M159.5 104l0.7 -3M160.8 110.4l0.7 -1.9M161.5 107.3l-2.3 1.7M161.5 107.3l-1.9 1.2M161.5 107.3l0.2 2.2M161.5 107.3l-2.5 0.6M155.5 111l2.6 0.3M158.6 113.3l2.7 0.3M160.8 117l-2 2.8M162.2 113.4l1.3 1.9M160.3 104.8l-2.3 -0.5M160.3 104.8l3 -0M160.3 104.8l-2.9 -1.3M160.3 104.8l-2.2 1.3M160 118.2l2.1 -1M158.5 110l-2.7 0.5M162.2 112.7l-2.1 2.4M158.8 112.9l-2.6 -1M165.3 103l-2.1 0.8M165.3 103l1.1 -2.5M165.3 103l-2.6 -1M165.3 103l0.8 2.5M165.7 108.6l1.5 -3.4M159.9 112.4l-3 0.6M159.3 115.9l-2.7 -0.7M161.1 118.3l-2.5 0.9M165.8 99.2l-0.1 -2.8M165.8 99.2l-2.6 0.5M165.8 99.2l0 2.8M165.8 99.2l2.3 -1.1M171.2 114.6l2.5 -1.3M163.8 104.7l1.4 -1.8M165.9 109.1l3 -2.3M165.3 104.2l-1.5 -1.9M169.1 115l2.5 2M169.1 115l1 2.5M169.1 115l-0.1 -2.2M169.1 115l-1.7 1.2M175.5 128.4l-3.7 -0.3M174.2 122.3l-3.2 1.1M182.8 126.5l2.2 -0.2M172 122.9l0.7 -2.3M173 94.3l-1.1 -2.4M173 94.3l-2.3 -0.6M173 94.3l1.8 -0.9M173 94.3l-2.2 -2.1M175.1 109.9l-2.6 -2.4M171.9 110.9l2.9 -0.9M176.4 100.7l-2.6 1.5M178.1 110.1l2.4 1.5M177.9 91.2l-1.9 2.2M177.9 91.2l2 1.5M177.9 91.2l2.1 -1.9M177.9 91.2l-1.2 2.6M168.8 97.2l-1.3 -3.1M177.1 100.7l1.9 -0.8M173 106.4l1.1 2.5M177 98.7l0.5 2.2M179.8 97.7l2.2 0.8M179.8 97.7l1.1 -2.6M179.8 97.7l-1.9 -0.7M179.8 97.7l-1 2.2M170.1 111.3l-2.5 -0M176.6 109.2l-1.4 1.5M172.6 110.1l-0.2 2.7M174.8 109.1l1 -2.8M185.8 88.5l2 1M185.8 88.5l3 -1M185.8 88.5l0.3 2.4M185.8 88.5l-2.8 -0.3M182.2 98.5l-3.7 0.8M185.4 95.3l-1.3 -2M185.9 95.1l-2.4 -2.5M186.1 103.1l-2.8 -0.7M188.2 97.6l1.6 -2.7M188.2 97.6l-2.5 1.6M188.2 97.6l1.6 1.4M188.2 97.6l-0.4 -2.2M182.1 105.1l-0.1 -2.4M185.9 113.7l1.5 -1.4M182.3 105.4l-2.9 -1.7M182.5 113.2l-2.8 -0.4M198 93.9l1.4 -2.8M198 93.9l1.1 1.9M198 93.9l-2 -1.1M198 93.9l2.6 -1.2M199 99.8l2.8 -2.5M201.5 98.6l-0.6 -2.5M200.9 105.1l-1 2.3M193.7 107.2l-3.8 0.2M191.4 88.5l-1.2 -2.9M191.4 88.5l-0 -2M191.4 88.5l-2.3 1.6M191.4 88.5l-2.1 1.5M187.7 102l2.3 2.3M186 95.4l-2.6 1.7M186.6 98.2l-0.4 2.2M187.5 103.8l-1.3 -2.2M195.4 108.7l1.9 0.9M195.4 108.7l2.2 1.9M195.4 108.7l-1.3 2.1M195.4 108.7l2 -0.5M203.6 122.6l-2.5 2.5M198.2 123.6l2.3 -0.8M201.9 113.1l1.7 -1.6M195.2 122.7l-1.7 2.5M196.5 96.5l-1.2 2.2M196.5 96.5l0.8 -1.9M196.5 96.5l2.9 -1.3M196.5 96.5l-2.5 1.5M200.8 106.5l-2.3 -2.2M200 107.2l-0.5 -2.3M202.6 108.6l-0.5 2.6M198.8 112.6l-0.5 -2.2M201.2 113.7l0.7 -2.5M201.2 113.7l0.1 2.9M201.2 113.7l-1.1 -1.9M201.2 113.7l-1.5 1.6M209.5 122.6l3 1.8M206.1 126.4l2.8 -0.7M201.9 121.7l-1.2 -1.7M203.7 123.3l1 -2.6M193.1 96.4l-2.1 0.4M193.1 96.4l2.5 -1.3M193.1 96.4l2.2 -0.8M193.1 96.4l-0.6 3M193.9 110.5l-0.2 -3.4M188.3 104.3l-0.5 -2.3M202.1 100.4l0.2 -3M197.9 107.1l0.3 -2.7M106.2 184.2l-2.4 -0.6M106.2 184.2l1.8 -1.4M106.2 184.2l1 -2.8M106.2 184.2l-1 -2.2M112.5 171.3l-1.7 1.4M109.7 168.5l2.5 1.6M106.2 170.3l-1.8 -1.2M107 172.5l-2.5 -2.4M111.2 176.2l2 -0.8M111.2 176.2l-2.1 -1.6M111.2 176.2l3.1 0.3M111.2 176.2l1.9 1.8M116.2 164.8l2.3 -0.8M107.9 158.7l3 -1.6M106.8 164.1l-1.1 -1.7M111.5 168.5l-1.1 -2.5M112.4 173.6l1.7 -1.9M112.4 173.6l1.7 1.2M112.4 173.6l-0.2 -2.7M112.4 173.6l-2.4 -0.2M108 160.8l1.4 -2.4M106.9 159.8l-0.3 -2.6M103 168.2l2.7 0.3M102.7 169.4l3.2 1.9M117.5 188.5l-0.3 -2.7M117.5 188.5l-0.4 -2.2M117.5 188.5l-0.2 2.2M117.5 188.5l2.2 -0.2M116.9 170.4l-1.3 -3.2M116.9 179.5l2.4 1.7M108.9 180.6l2.1 -2.8M115.8 173.5l3.2 1.4M122.2 195.6l-0.8 2.7M122.2 195.6l2.3 -1.5M122.2 195.6l-2.9 0.8M122.2 195.6l-1 2.1M125.7 183.3l-3.5 -0.3M118.3 187.6l1.1 3.2M119.9 191.2l-3.1 0.6M124.1 184l-1.2 3.3M114.2 187.8l-1.1 2.6M114.2 187.8l-1.2 2.7M114.2 187.8l0.8 -2.4M114.2 187.8l2.5 0.5M113.8 172.6l-1.7 2.8M109.7 172.5l-2.1 -1.9M116.5 176.5l-2.7 0.9M118.9 182.3l-1.5 2.2M124.1 177.8l-1.3 -1.8M124.1 177.8l-1.7 2.3M124.1 177.8l2.3 -1M124.1 177.8l-2.6 -0.3M126.8 167.7l-1.8 1.9M117.1 163.5l0.8 -2.8M124.2 166.2l0.4 2.6M123.8 164.7l-0.3 -3.3M122.9 190.4l1.4 1.6M122.9 190.4l2 -0.8M122.9 190.4l0.9 -2.2M122.9 190.4l1.8 1M123.7 185.1l2.4 0.5M125 182.8l-1.5 2M123.6 176.9l-1.3 1.5M121.1 184.2l-0.6 2.2M126.7 175.2l-1.9 0.8M126.7 175.2l-3 0.8M126.7 175.2l-0.6 -2M126.7 175.2l-1.2 2.5M131.6 165.8l3.1 0.7M125.1 169.5l-2.3 -1.6M121.9 169.1l2.3 0.4M127.8 160.6l-2 1M129.7 182.6l-2 -1.4M129.7 182.6l-1.8 1.7M129.7 182.6l-1.3 1.6M129.7 182.6l0.3 -2.4M133.6 175.3l3.2 1.6M132 171l1.3 2.8M130.4 166.8l-1.9 0.7M123.5 166.4l-1.3 3.4M135 183.8l-1 -2.6M135 183.8l2.8 1.2M135 183.8l-2.2 1.2M135 183.8l0.7 -2.4M133.8 180.5l1 -2.4M135.3 171.5l-2.8 0.8M132.8 172l-2.1 3M132 170l-2 2.6M140 182.5l-1 -2.2M140 182.5l-1.8 1.1M140 182.5l-0.5 -2.1M140 182.5l1 2.7M144.2 168.4l0.4 -2.7M138.7 172.3l1.2 -3.4M143.5 173.8l2.1 -1.7M141.4 178l2.2 -0.1M141.1 184.6l0.7 2M141.1 184.6l2.8 0.8M141.1 184.6l2.3 0.4M141.1 184.6l2.7 -1.6M137.6 174.2l2 -2M141.1 170.1l2.3 0.7M138.6 170.3l-2 -1.3M144.1 176.3l1.3 2.6M139.2 196.5l-0.5 2.8M139.2 196.5l1.1 -2.2M139.2 196.5l-1.2 2.3M139.2 196.5l-0.5 3.1M139 190.5l0.8 -3.3M133.7 187.3l1.8 -1.7M135.2 181.2l-2.6 -1.5M136.8 186.5l2.6 1.6M142.3 192.9l-2.6 -0.4M142.3 192.9l0.9 -2.6M142.3 192.9l-2 -0.5M142.3 192.9l-0.3 2.6M134.3 179.1l-1.3 2.3M130.7 177.1l2.1 0.5M132.2 183.5l-0.7 2.6M135.3 186.1l2.3 -0.4M142.4 188l2.5 1.8M142.4 188l2.3 -2.1M142.4 188l2.2 -0.5M142.4 188l0.4 2.3M140.6 172.4l3.3 0.8M139.3 182.1l1.1 2.9M146.8 181.3l-0.2 -3.1M142.3 178l-1.1 1.9M147.4 183.8l2 -0.7M147.4 183.8l1.6 -2.5M147.4 183.8l-1.7 -1.1M147.4 183.8l0.8 2.4M153.9 168.7l2.1 2.2M155.2 176.7l-1.6 -2.9M156.1 174.4l0.3 -2.6M155.6 173.8l-3 1.3M150.6 189.5l2 0.2M150.6 189.5l1.3 1.8M150.6 189.5l2.3 1M150.6 189.5l-2.8 1.1M140.5 173.9l-2.7 2.5M143.8 171.7l0.4 -2.9M142.5 171.8l-0.6 3.1M137.5 180.9l-0 -3.1M153.3 185.6l-2.1 0.5M153.3 185.6l-2.4 -1.3M153.3 185.6l1.2 -2.1M153.3 185.6l1.4 1.5M154.2 171.2l0.1 -3.6M152.3 171.4l-2.3 -2.2M157.9 175.7l-2.1 2.5M144.6 179.1l-0.8 2.7M154.8 182l-1.5 2.8M154.8 182l1.9 1M154.8 182l-1.9 1.2M154.8 182l-0.7 2.4M154 165.5l-2.1 -1.1M155.2 170.9l2.2 2.6M157.1 168.3l-2.1 -2.5M159.6 173.3l0.9 2.9M164.5 187.7l-2.3 -0.9M164.5 187.7l0.3 2.4M164.5 187.7l-0.5 2.7M164.5 187.7l1 1.9M159.5 172.1l-2.1 -0.4M163.2 179.2l0.4 -2M159.2 173.5l0.1 2.9M162.8 181l-1.3 -2M157.1 177l-1.7 2.4M157.1 177l-2.6 -1.7M157.1 177l2.9 -0.3M157.1 177l2.5 -1.2M156.7 168.7l-0.4 2.7M160.9 160.4l-1.6 -1.3M158 163.7l-0.9 -3.5M162.5 166.7l-1.4 -1.8M163.8 182.7l-2.8 1.2M163.8 182.7l2.5 -1.4M163.8 182.7l1.1 1.9M163.8 182.7l-1.2 -1.6M164.6 175.9l1.5 3.4M161.1 167.2l0.6 2.6M156.9 168.4l2.9 0.7M157.4 166.1l1.8 -0.9M168.5 170.2l1.7 2.1M168.5 170.2l-1 2.2M168.5 170.2l0.6 2M168.5 170.2l-1.6 2.2M163.7 158.5l1.3 -3M172.9 164.5l1.3 1.8M173.6 160l-3.2 -1.1M171 161.9l1.8 -1.9M169.3 195.3l-1.9 -1.1M169.3 195.3l-2.9 1.2M169.3 195.3l-1.9 1M169.3 195.3l-2.2 1.1M160.6 177.2l0.5 -2.4M165.8 179.2l-2.6 0.5M163 186.9l0.6 -2.1M159.6 177.7l2.3 0.4M176 191.6l2.2 -1.7M176 191.6l2.4 0.3M176 191.6l2.2 -0.4M176 191.6l-2.9 -0.2M179.4 179.4l2 0.4M178.3 177.2l0 2.7M180.7 177.3l-2.2 -0.7M176.4 179l-2.5 2.4M183.3 190.9l0.6 -2.4M183.3 190.9l2 -1M183.3 190.9l-0.6 -2.1M183.3 190.9l3.2 0.5M184 184.1l1.5 1.6M183 174l-3.2 1.6M187.9 174.6l2 -1.5M185.9 174.4l-3.2 0.7M185.7 170.9l0.9 2.5M185.7 170.9l2.4 -0.2M185.7 170.9l-1.2 -2.2M185.7 170.9l2.4 -0.9M188.2 161.3l2.3 1M186.8 161.8l1 -2.1M182.6 164.1l-3.5 0.4M189.8 160.8l2.2 1.1M184.2 188.8l1.7 -1.3M184.2 188.8l-0.1 2.9M184.2 188.8l1 -1.8M184.2 188.8l2.7 0M176 175.7l0.7 -2.5M178.9 180.7l2.5 -0.2M176.1 175.3l1.3 1.9M186.7 173.9l2.3 0.6M185 177.7l1.9 0.7M185 177.7l-2 2.2M185 177.7l2.5 2M185 177.7l2.7 1.3M185.2 169.4l-0.1 2.7M182.4 161.1l2.1 1.2M183.5 165.5l-3.3 0.2M182.3 166.6l0.2 -2.7M185.1 194.9l3 0.2M185.1 194.9l1.3 2.8M185.1 194.9l0.6 3M185.1 194.9l2.4 2M186 181.7l2 -0.8M188.2 184.3l-2.9 -1.4M187.4 176.3l-0.3 2.1M184.7 184.6l0.5 -3M191.1 180.1l2.4 -0.2M191.1 180.1l1.9 0.9M191.1 180.1l-1.2 -2M191.1 180.1l-2.5 1.2M188.8 173.3l2.9 0.9M190 164.1l0.4 -2.9M185.9 164.3l-0.6 2.1M187 170.1l2 -0.4M190.1 184.6l0.4 -2.7M190.1 184.6l0.1 2.5M190.1 184.6l-1.6 1.5M190.1 184.6l1.8 -2.1M188 178.1l0.1 3M193.6 180.2l-0.1 2.9M189.6 176.9l-0.6 -2.9M186.2 171.1l-1.8 -0.8M198 185.8l-1 -2.6M198 185.8l1.1 -2.9M198 185.8l-2 0.4M198 185.8l-0.5 -2M196.2 173.2l2.9 2.3M197.1 175.4l-1.8 -1M194.3 172.7l-1.4 1.5M195.9 177.7l0.6 -3M199.2 194.5l2.3 2M199.2 194.5l2.2 -1M199.2 194.5l0.6 2.2M199.2 194.5l1.8 0.9M199.6 179.9l1.9 1.3M200.9 188l3.7 0.5M194.7 189.4l-2 1.4M198.6 190.3l-2.3 2.6M200.5 193.7l2.1 1M200.5 193.7l-0.1 2.6M200.5 193.7l0.3 2.1M200.5 193.7l1.4 2.8M208.8 179.8l1.7 2.5M201 179.5l-1.2 1.7M192.2 177.6l-2.4 1.9M207.2 182.5l-0.4 2.1"/>
<path stroke="#8a9a3a" stroke-width="1.0" d="M102.5 110.2l1.8 0M112.1 95.2l1.8 0M112.3 96.6l1.8 0M113.9 115.3l1.8 0M118.3 102.1l1.8 0M117.5 97.4l1.8 0M126.2 97l1.8 0M127.1 89.6l1.8 0M121.3 96.7l1.8 0M131.6 94l1.8 0M134.2 103.8l1.8 0M138 92.2l1.8 0M139.7 103.1l1.8 0M138.9 90l1.8 0M144.5 107.8l1.8 0M140.9 113.1l1.8 0M149.6 99.3l1.8 0M150 106.3l1.8 0M151.2 104l1.8 0M154.4 99l1.8 0M160.6 107.3l1.8 0M159.4 104.8l1.8 0M164.4 103l1.8 0M164.9 99.2l1.8 0M168.2 115l1.8 0M172.1 94.3l1.8 0M177 91.2l1.8 0M178.9 97.7l1.8 0M184.9 88.5l1.8 0M187.3 97.6l1.8 0M197.1 93.9l1.8 0M190.5 88.5l1.8 0M194.5 108.7l1.8 0M195.6 96.5l1.8 0M200.3 113.7l1.8 0M192.2 96.4l1.8 0M105.3 184.2l1.8 0M110.3 176.2l1.8 0M111.5 173.6l1.8 0M116.6 188.5l1.8 0M121.3 195.6l1.8 0M113.3 187.8l1.8 0M123.2 177.8l1.8 0M122 190.4l1.8 0M125.8 175.2l1.8 0M128.8 182.6l1.8 0M134.1 183.8l1.8 0M139.1 182.5l1.8 0M140.2 184.6l1.8 0M138.3 196.5l1.8 0M141.4 192.9l1.8 0M141.5 188l1.8 0M146.5 183.8l1.8 0M149.7 189.5l1.8 0M152.4 185.6l1.8 0M153.9 182l1.8 0M163.6 187.7l1.8 0M156.2 177l1.8 0M162.9 182.7l1.8 0M167.6 170.2l1.8 0M168.4 195.3l1.8 0M175.1 191.6l1.8 0M182.4 190.9l1.8 0M184.8 170.9l1.8 0M183.3 188.8l1.8 0M184.1 177.7l1.8 0M184.2 194.9l1.8 0M190.2 180.1l1.8 0M189.2 184.6l1.8 0M197.1 185.8l1.8 0M198.3 194.5l1.8 0M199.6 193.7l1.8 0.0"/>
<path stroke="#3030ff" stroke-width="0.9" d="M105.8 103.8l-0.6 2.1M105.8 103.8l-1.8 -1.8M105.8 103.8l2.2 -0.6M108.9 85.8l-0.8 2M108.9 85.8l-1.5 -2M108.9 85.8l1.9 -0.2M110.7 91.6l-0.7 2.5M110.7 91.6l-1.8 -1.9M110.7 91.6l2.1 -0.5M114 110.3l1.9 -1M114 110.3l-0.1 2.3M114 110.3l-1.7 -1M120.4 91.6l0.1 2.1M120.4 91.6l-2.1 -1.1M120.4 91.6l1.8 -1.1M124.2 83.6l1.4 1.1M124.2 83.6l-1.9 0.8M124.2 83.6l0.3 -2.3M132 98l-1.8 -0.5M132 98l1.7 -1.6M132 98l0.4 1.8M135.8 81.5l1.5 -1M135.8 81.5l0.2 2.2M135.8 81.5l-1.9 -0.9M139 93.2l2.2 -1.1M139 93.2l-0.1 2.4M139 93.2l-2 -1.3M140.8 84.3l1.6 -1.5M140.8 84.3l0.4 1.8M140.8 84.3l-2 -0.6M144.5 101.5l1.5 -1.4M144.5 101.5l0.5 2.1M144.5 101.5l-2.4 -0.7M152.5 100.8l-1.4 -1.7M152.5 100.8l2 -0.3M152.5 100.8l-0.7 2M154.5 97.2l-0.5 -2M154.5 97.2l2.2 0.7M154.5 97.2l-1.6 1.5M163.8 94.7l1.4 -1.6M163.8 94.7l0.6 1.8M163.8 94.7l-2 -0.4M165.9 93.9l0.5 -1.8M165.9 93.9l1.4 1.5M165.9 93.9l-2.5 0.6M168 90.7l-1.3 2M168 90.7l-1 -2M168 90.7l2.1 0.2M171.6 104.9l-2.3 -0.8M171.6 104.9l1.5 -1.3M171.6 104.9l0.5 2.5M174.9 86.1l-1.6 1.1M174.9 86.1l-0.1 -2.3M174.9 86.1l1.9 1M182.2 82.5l1.8 -1.8M182.2 82.5l0.6 2.2M182.2 82.5l-2 -0.5M186.3 86.7l-1.7 1.9M186.3 86.7l-0.7 -2.1M186.3 86.7l2.5 0.5M189.1 88.3l-0.9 -2.4M189.1 88.3l2.3 0.4M189.1 88.3l-1.6 2M191.1 81.7l-1.2 1.6M191.1 81.7l-1 -2.3M191.1 81.7l2.1 0.2M194.4 102.1l-1.7 1.8M194.4 102.1l-0.7 -2.4M194.4 102.1l2 0.5M197 87.5l-1.9 -1.1M197 87.5l2.1 -1.2M197 87.5l-0 2.6M198.7 105.1l2.1 0.9M198.7 105.1l-1.5 1.1M198.7 105.1l-0.2 -1.9M200.7 88.9l1.9 0.9M200.7 88.9l-2 1.4M200.7 88.9l-0.3 -2.5M109.3 183l0.7 -1.8M109.3 183l1.2 1.5M109.3 183l-2.4 0.3M111.8 179.9l-1 -1.7M111.8 179.9l2.1 -0.1M111.8 179.9l-0.9 1.8M115.7 203.4l1 -2.3M115.7 203.4l1.3 1.7M115.7 203.4l-2.6 0.3M119.7 195.3l1.7 1M119.7 195.3l-2 1.1M119.7 195.3l0 -2.1M125 199.6l0.8 2.5M125 199.6l-2.3 -0.5M125 199.6l1.6 -1.8M130 192.2l-0 -1.8M130 192.2l1.7 1M130 192.2l-1.9 1.1M139.2 193.7l-0.8 -2M139.2 193.7l2.3 0.3M139.2 193.7l-1.2 1.5M142.4 202.9l-1.5 1.5M142.4 202.9l-0.7 -2.5M142.4 202.9l2 0.5M145.3 199.2l2 0.4M145.3 199.2l-1.4 1.5M145.3 199.2l-0.6 -1.8M147.9 195.1l-1.2 -1.8M147.9 195.1l2.5 -0.1M147.9 195.1l-1 2M149.5 190.6l0.6 2.3M149.5 190.6l-2 -0.5M149.5 190.6l1.5 -1.5M152.6 195l-2.5 -0.7M152.6 195l1.4 -1.4M152.6 195l0.6 2.3M158.6 192l0.6 -1.9M158.6 192l1.2 1.4M158.6 192l-2.3 0.5M160.1 195.7l1.8 -0.8M160.1 195.7l-0.2 2.1M160.1 195.7l-1.7 -1.2M168.4 176.4l1.9 1.8M168.4 176.4l-2.2 0.7M168.4 176.4l0.6 -2.4M177.3 197l-0.5 -1.8M177.3 197l2.1 0.5M177.3 197l-1.7 1.8M179.3 180.2l0.4 -2.2M179.3 180.2l1.9 1.7M179.3 180.2l-2.4 0.9M182.9 195.8l2 0.5M182.9 195.8l-1.8 1.8M182.9 195.8l-0.6 -2.3M187.1 204.8l0.1 2.2M187.1 204.8l-2.3 -1.2M187.1 204.8l1.8 -1.2M191.5 187.9l2.4 -0.5M191.5 187.9l-0.8 2.2M191.5 187.9l-1.4 -1.7M193.8 193.4l0.1 2.4M193.8 193.4l-2.2 -1.2M193.8 193.4l1.7 -1.1M198 199.6l-1.9 1.3M198 199.6l-0.2 -2.2M198 199.6l2 0.9M201.9 199.9l-0.4 -2.4M201.9 199.9l2.3 0.9M201.9 199.9l-1.8 1.4"/>
</g>
</g>
<clipPath id="clipI1"><rect x="310.5" y="27.2" width="97.10000000000002" height="182.8"/></clipPath>
<rect x="310.5" y="27.2" width="97.1" height="182.8" fill="#fff"/>
<g clip-path="url(#clipI1)">
<g fill="none" stroke-linecap="round">
<path stroke="#b4b4b4" stroke-width="0.62" d="M313.2 96.3l-1.9 6.9M309.8 106.2l1.1 1.4l-0.1 1.6l0 1.7l0.1 1.8l0.2 1.8l0.6 1.7l1.2 1.4l1 1.5l1.4 1.3l-0.1 1.8l-0.7 1.7l-0.9 1.6l-0.5 1.7l1.9 0.3l-0.7 1.7l-1 1.5l-1.7 0.9l-0.6 1.3l0 0.5l0 0.5l0 1.8l0 1.7l0 1.6l0 1.5l0 1.8l0 1.7l0.2 1.8l-0 1.8M312.5 105.7l-0.8 1.7l1 1.5l1.2 1.4l1.9 0.2l1.9 0.1l0.6 1.7l-0.1 1.8l-1 1.5l-0.2 1.8l1.1 1.5l-1.3 1.4l-1 1.5l-1.4 1.2l-0.1 1.8l0.5 1.7l0 1.8l0.3 1.8l0.9 1.6l0.1 1.8l-0.3 1.8l0.1 1.8M315.1 76.3l0.2 2.6l2.9 2.6M318.2 81.4l0.4 6.4M317.4 90.3l-1.7 0.8l-1.9 0.4l-1.9 0.2l-1.1 0.5l0 0l0 0.5l0 0.6l0 0.4l0 1.3l0.8 1.6l-0.4 1.8l-0.2 1.8l-0 1.8l0.9 1.6l1.6 1l-0.3 1.8l-0.7 1.7l0.7 1.7l0 1.8l-0.3 1.8l-0.7 1.7l-1.3 0.2l0 1.2l0.4 1.8l0.2 1.8l0.7 1.7M319.8 93.6l-1 1.5l-1.3 1.3l-1.1 1.5l-0.4 1.8l0.2 1.8l0.5 1.7l0.6 1.7l0.1 1.8l-0.5 1.7l-1.6 1l-1.5 1.2l-1.8 0.5l-1.1 1.4l0 1.4l1.3 1.3l0.9 1.6l1.3 1.3l-0.2 1.8l0.2 1.8l1.5 1.1l1.2 1.4l1.1 1.5l1 1.5l-0.4 1.8l-0.8 1.6l-0 1.8l-1.6 0.9l-1.8 0.7l-1.5 1.1M316.2 99.2l0.4 3.1l0.9 3.1M317.5 105.3l0.1 5.6M315.9 116.6l0.1 1.8l1.6 0.9l0.1 1.8l1.4 1.2l1.8 0.6l1.5 1.1l1 1.6l0.6 1.7l1.1 1.5l0.9 1.6l1.1 1.4l1.9 0.4l1.6 1l1.5 1.1l0.6 1.7l0.5 1.7l-0.7 1.7l-1.1 1.5l-1.4 1.2l-1.7 0.7l-1.7 0.9M319.8 114.7l-0.7 1.7l-0.4 1.8l-1.1 1.5l-0.9 1.6l-1 1.5l-0.6 1.7l-0.6 1.7l-1.2 1.4l-0.9 1.6l-0.3 1.8l0.4 1.8l-0.3 1.8l0.7 1.7l0.3 1.8l-0.9 1.6l1.3 1.3l0.6 1.7l1.6 0.9l1.2 1.4l0.4 1.8l-0.9 1.6l-1 1.5l-1.6 1l-1 1.6l-1.2 1.4l-1.1 1.5l0 1.8l0 1.8l1.7 0.8M320.7 94l-2.3 4.2l3.2 4.2M321.5 102.5l-0.6 6.3M318.6 113.8l1.9 0.2l1.9 0.2l0.6 1.7l-0.2 1.8l0.6 1.7l0.9 1.6l-0.6 1.7l-0.1 1.8l0.5 1.7l-1.4 1.2l-0.6 1.7l-1 1.5l-0.6 1.7l-0.4 1.8l0.7 1.7l1.2 1.4l-0.5 1.7l0.8 1.6l0.2 1.8l1.2 1.4l1 1.5M322.8 112.2l0.9 1.6l1.5 1.1l0.6 1.7l0.3 1.8l0.3 1.8l-0.9 1.6l-1.6 1l-1.8 0.5l-1.1 1.4l0.4 1.8l-0.6 1.7l0.4 1.8l-0.8 1.7l-0.5 1.8l-1.1 1.5l-1.6 1l-1.3 1.3l-1.7 0.7l-0.5 1.7l-0.7 1.7l-1.6 1l0.2 1.8l1.8 0.4l1.3 1.4l0.3 1.8l1.9 0l1.9 0.3l0.5 1.7l0.4 1.8M322.3 102.2l0.7 3.3l-0.4 3.3M322.7 108.7l4.6 6.3M325.1 118.4l-1.3 1.3l-0.1 1.8l-0.2 1.8l-1.4 1.2l-0.2 1.8l-0.8 1.6l-0.5 1.7l-0.9 1.6l0.8 1.6l0.7 1.7l1 1.5l1.1 1.4l1.2 1.4l-1.3 1.4l-1.4 1.2l-1.9 0.1l-1.4 1.2l0.1 1.8l1.4 1.2l1.2 1.4l1.1 1.5l-0.6 1.7l-0.3 1.8l-1.2 1.4l-0.7 1.7M329.6 120.1l1.6 1l1.6 1l1.6 0.9l0.6 1.7l-0.5 1.8l0.1 1.8l0.6 1.7l0.2 1.8l-0.8 1.6l-0.8 1.6l0.4 1.8l-0.7 1.7l0.1 1.8l0.6 1.7l1.2 1.4l0.7 1.7l-0.3 1.8l0.6 1.7l-0.8 1.6l0.5 1.7l0.4 1.8l0.8 1.6l1.8 0.4M325.4 86.1l-0.8 5.3l3.5 5.3M328.1 96.8l2 8M328.5 108.9l1.1 1.4l1.6 1l1 1.5l-0.5 1.7l-1.4 1.2l0.6 1.7l-0.1 1.8l0.6 1.7l0.1 1.8l1.8 0.6l0.5 1.7l0.7 1.7l0.2 1.8l0.3 1.8l1.2 1.4l0.2 1.8l0.6 1.7l1 1.5l-0 1.8l0.1 1.8l0.7 1.7l-0.5 1.7M331.8 106.9l-0.1 1.8l1 1.5l-0.6 1.7l-0.7 1.7l-0.3 1.8l-1.4 1.2l0.9 1.6l0.8 1.6l-0.7 1.7l0.8 1.7l-0.7 1.7l-0.4 1.8l-0.2 1.8l-1.4 1.3l-1.3 1.3l-1 1.5l0.5 1.7l0.8 1.6l-0.9 1.6l-0.6 1.7l0.2 1.8l-0.2 1.8M323.6 97.5l0 5.5M322 108l-0.9 1.6l0.6 1.7l1.5 1.1l1.9 0.2l1.5 1.1l1.4 1.2l1.9 0.3l-0.5 1.8l0.9 1.6l0.9 1.6l1.1 1.5l0.8 1.6l0.4 1.8l-0.5 1.7l-0.9 1.6l0.8 1.6l-0.3 1.8l1.1 1.5l1.9 0.2l1.4 1.2l0.6 1.7M326 106.1l-1.3 1.3l-1.8 0.6l-0.9 1.6l-0.3 1.8l0.3 1.8l-0.8 1.6l-1.5 1.1l-0.1 1.8l0.3 1.8l0.7 1.7l0.2 1.8l-0.6 1.7l-1.3 1.3l-0.6 1.7l0.6 1.7l-0.2 1.8l-0.7 1.7l-0.1 1.8l-0.2 1.8l-0.5 1.7l-1.1 1.5l-0.8 1.7l-0.9 1.6l-0.7 1.7l0.5 1.7M330.6 89.4l0 3.2l3.1 3.2M333.7 95.8l-2.8 7.1M329.8 105.6l-0.7 1.7l0.7 1.7l0.2 1.8l1 1.5l0.1 1.8l1.4 1.3l0.7 1.7l-0.2 1.8l0.3 1.8l-1.3 1.3l-1.2 1.4l-0.6 1.7l0.8 1.6l0.2 1.8l0.2 1.8l-0.6 1.7l-0.9 1.6l-0.1 1.8l-0.3 1.8l-0.8 1.6l-1.3 1.3l-0.2 1.8l-1.6 1l-1 1.5l1.1 1.5M332.5 105.4l0 1.8l-0.2 1.8l-0.2 1.8l-0.6 1.7l-1.6 1l-1.8 0.7l-1.8 0.5l-1.6 0.9l-0.4 1.8l1.4 1.2l0 1.8l1 1.6l0.8 1.6l0.6 1.7l-0.3 1.8l1.6 1l0.4 1.8l-1.3 1.4l1.1 1.5l-0.2 1.8l-1.3 1.3l-0.9 1.6l0.3 1.8M332.7 89l1.1 4.8l-2 4.8M331.8 98.7l9.2 6.4M339.7 110.5l-0.1 1.8l-0.1 1.8l0.4 1.8l-0.9 1.6l-0 1.8l-0.3 1.8l-0 1.8l-0 1.8l-0.5 1.8l-1.1 1.4l-0.9 1.6l-0.1 1.8l0.5 1.7l1 1.5l-0.2 1.8l0.7 1.7l-0 1.8l0.5 1.7l-0.1 1.8l-0.4 1.8l-1.7 0.8l-1.9 0.2l-1.1 1.5l1.8 0.7l1.1 1.5M342.3 110.3l1 1.5l-0.1 1.8l-0.8 1.7l-1.3 1.3l-0.5 1.7l-0.4 1.8l-0.3 1.8l0.2 1.8l1.1 1.5l0.6 1.7l0.8 1.6l-1 1.6l-1.6 0.9l-0.9 1.6l-1.3 1.3l-1.7 0.8l1 1.5l-0.1 1.8l1.5 1.1l1 1.5l0.1 1.8l0.9 1.6l-1.5 1.1l-0.4 1.8M335.2 96.6l-2.2 4.6l5.8 4.6M338.9 105.8l-3 7.4M334.1 118.7l-1.3 1.3l-0.7 1.7l-0.8 1.6l-0.8 1.6l-0.5 1.7l0.5 1.7l-0.6 1.7l-1.9 0.2l-1.4 1.2l-1.9 0.3l-1.2 1.4l-0.5 1.7l-0.3 1.8l0.1 1.8l-1 1.5l-1.6 1l1.3 1.3l-0 1.8l-0.5 1.8l-1.7 0.8l-0.4 1.8l-0.4 1.8l-1.4 1.2l-1.6 1M337.5 118.1l-0.4 1.8l1.1 1.5l0.2 1.8l-0.9 1.6l-0.9 1.6l0.7 1.7l1 1.6l0.8 1.6l0 1.8l-0.3 1.8l0.2 1.8l1.6 1l1.9 0l1.9 0.2l1.9 0.3l1.8 0.7l1.8 0.5l1.4 1.2l1.4 1.2l0.7 1.7l0.4 1.8l-0.4 1.8l0.8 1.7M341.1 91.2l0.5 5.9M340.2 102.2l-0 1.8l1.7 0.9l0 1.8l-0.3 1.8l-0.4 1.8l-0.3 1.8l-0.2 1.8l0.1 1.8l1.5 1.1l0.6 1.7l0.7 1.7l0.9 1.6l1.4 1.3l0.9 1.6l0.1 1.8l-0.5 1.8l-0.3 1.8l0 1.8l1.4 1.3l0.5 1.7M342.8 100.3l1 1.6l0.7 1.7l-0.5 1.7l-0.5 1.7l0.4 1.8l1.6 0.9l1.2 1.4l1.2 1.4l1.8 0.6l1.4 1.2l1.7 0.9l0.5 1.7l1.7 0.9l-0.1 1.8l0.4 1.8l-0.1 1.8l-0.1 1.8l0.7 1.7l-0.2 1.8l0.7 1.7l-0.1 1.8l0.2 1.8l0.4 1.8M342 83.8l-0.5 2.6l-7 2.6M334.5 89.1l-0.5 6.2M331.6 100.2l-1.5 1.1l-0.9 1.6l0.7 1.7l0.7 1.7l1.1 1.5l0.5 1.7l0.6 1.7l-1.2 1.4l-1.3 1.3l-0.5 1.7l-0.3 1.8l0 1.8l1.3 1.3l0.5 1.7l0.7 1.7l1.8 0.5l1.6 1l1.7 0.9l0.8 1.6l0.3 1.8l-1.6 1l-1.3 1.3l0.5 1.8l0.7 1.7l0.2 1.8l-0.4 1.8l-1.4 1.3l-1.7 0.8M335.3 98.6l0.4 1.8l-1.4 1.3l0.2 1.8l1.2 1.4l0.1 1.8l0.3 1.8l-0.2 1.8l-1.7 0.7l-0.5 1.8l0.6 1.7l0.7 1.7l-0.4 1.8l1.6 1l-1.2 1.4l-0.7 1.7l-0.5 1.7l-0.4 1.8l-0.7 1.7l-0.6 1.7l-0.6 1.7l-0.6 1.7l-0.9 1.6l-0.8 1.7M344 75.4l1.6 4l-5.7 4M339.8 83.5l-0.9 8.9M336.5 96.7l1.6 1l1 1.5l-0.5 1.7l-1.2 1.4l-1.3 1.3l-1.6 1l-0.1 1.8l0.8 1.7l0.8 1.6l1.4 1.2l1.8 0.7l1.8 0.6l1.6 0.9l1.8 0.7l1.2 1.4l0.9 1.6l0.7 1.7l0 1.8l-0.5 1.7l-0.3 1.8l-0.5 1.8l-0.8 1.7l-1.8 0.7l-1.6 1l-1.8 0.6M340.7 96.3l0.6 1.7l0.2 1.8l-0.3 1.8l-1.7 0.9l-1.2 1.4l1.4 1.2l0.8 1.7l1.5 1.1l0.1 1.8l-1 1.5l-1.2 1.4l-0.1 1.8l-0.8 1.7l-1.2 1.4l-0.7 1.7l-0.1 1.8l0.2 1.8l0.7 1.7l1.8 0.7l1.3 1.4l-0.2 1.8l0.6 1.7l1.5 1.2l1.6 1l-0.3 1.8M346 93.8l-0.3 5.9M343.8 104.1l0.6 1.7l1 1.6l0.7 1.7l-1 1.5l0.4 1.8l0.9 1.6l1 1.6l0.2 1.8l-0.2 1.8l0.7 1.7l1.2 1.4l0.6 1.7l-0.3 1.8l-0.8 1.7l-0.5 1.7l1.5 1.1l-0 1.8l0.2 1.8l0.2 1.8l0.9 1.6l1.3 1.4l-0.1 1.8l0.7 1.7l-0.7 1.7l-1.6 0.9l-1.7 0.8M347.4 104.7l-1.6 1l-1.6 1l-0.3 1.8l-1.4 1.2l-1.2 1.4l-0.1 1.8l-0.4 1.8l-1.1 1.5l-1.4 1.2l1.5 1.1l0.6 1.7l-1.7 0.8l-1 1.5l-0.2 1.8l1 1.6l1.3 1.3l0.6 1.7l-0.1 1.8l-0.1 1.8l-0.7 1.7l-1.9 0.4l-1.7 0.8l-1.9 0.2l-1.8 0.7l-1.3 1.3l-1.5 1.1l-0.5 1.7M350.5 91.2l-1.6 3.6l0 3.6M348.9 98.3l-0.6 8.4M346.1 111.3l1.6 1l0.1 1.8l0.7 1.7l0.1 1.8l0.4 1.8l-0.8 1.6l0.5 1.7l1.8 0.5l1.9 0.2l1.7 0.7l1.2 1.4l0.2 1.8l-0.4 1.8l0 1.8l-0.9 1.6l-0.1 1.8l0.3 1.8l-1.7 0.8l-0.5 1.7l-0.1 1.8l-1.9 0.1l-1.7 0.8l-1.4 1.2M349.6 111.6l0.5 1.8l1.2 1.4l1.3 1.3l1.1 1.4l1.7 0.7l1 1.5l0 1.8l1 1.5l1.7 0.7l1.4 1.2l-0.1 1.8l-1.1 1.5l0.5 1.7l-1 1.5l-0.1 1.8l-0.5 1.7l1.1 1.4l0.4 1.8l-0.1 1.8l1.4 1.2l0.3 1.8l1.6 1M351.7 90.5l-3.7 4.8l4.1 4.8M352.1 100.2l4.8 6.7M354.5 112.2l-1.2 1.4l-1 1.5l-1.7 0.8l-1.1 1.5l0.8 1.7l1.2 1.4l1.3 1.3l1 1.5l-0.9 1.6l-1.4 1.2l-1 1.6l-1.9 0.2l0.3 1.8l0.1 1.8l0.9 1.6l1.4 1.3l1.1 1.5l1.7 0.8l1.7 0.7l1.4 1.3l1.4 1.2l0.4 1.8l0.5 1.7M358.9 108.9l-0.3 1.8l-1 1.6l-0.1 1.8l-0.7 1.7l-0.8 1.6l-0.4 1.8l0.5 1.7l-1.2 1.4l0.4 1.8l0 1.8l-0.8 1.6l1.7 0.8l1.7 0.9l1.9 0.2l1.7 0.8l0.7 1.7l1.1 1.5l0.7 1.7l-0.3 1.8l0.6 1.7l0.7 1.7l1.4 1.2l0.4 1.8l0.6 1.7l-1 1.5l-1.6 1M355.3 101.5l-4.2 8.9M349.2 115.6l-1.1 1.5l-0.4 1.8l-1.2 1.4l-1.7 0.7l1.1 1.5l-0.4 1.8l-0.6 1.7l-1.6 0.9l-1.9 0.2l-0.2 1.8l-1.2 1.4l-0.1 1.8l1.2 1.4l1.2 1.4l0.8 1.6l0.9 1.6l-0.6 1.7l-0.6 1.7l-0.3 1.8l-0.7 1.7M352.7 112.4l1 1.5l0.7 1.7l0.9 1.6l0.8 1.6l0.8 1.6l1.4 1.2l-0.1 1.8l1.7 0.8l-0.3 1.8l-0.8 1.6l1 1.6l0.8 1.6l1.9 0.3l1.5 1.1l1.3 1.4l0.9 1.6l-1.3 1.3l-1.7 0.7l0.2 1.8l1.4 1.3l0.3 1.8l-0.8 1.6l-0.6 1.7l-1.1 1.5l-0.6 1.7l-0.9 1.6l-1.1 1.5l-1.3 1.4l-0.8 1.6M357.2 88.2l0.7 3.3l-4.7 3.3M353.2 94.9l-2.4 6.6M348.7 105.4l1.7 0.8l1.5 1.2l1.6 1l1.8 0.4l1.9 0.1l1.6 1l-0.3 1.8l0.1 1.8l-1 1.5l-0.6 1.7l-1.4 1.2l0.5 1.7l1.6 1l1.4 1.2l1.3 1.3l1 1.5l0.4 1.8l1.4 1.2l0.9 1.6l1.2 1.4l-1 1.6M353.1 107.1l0.2 1.8l0.1 1.8l0.9 1.6l-0 1.8l-1.1 1.5l-0.7 1.7l0.1 1.8l-0.7 1.7l1 1.6l-0.3 1.8l-0.1 1.8l0.5 1.7l0.5 1.7l0.5 1.7l-0.2 1.8l-1.7 0.8l-0.5 1.7l0.2 1.8l1.4 1.2l1.9 0l1.6 0.9l1.3 1.3M361.3 97.7l-1.6 7.2M357.6 109.9l1.3 1.3l1.2 1.4l1.3 1.3l0 1.8l-0.6 1.7l0.6 1.7l-0.4 1.8l-0.1 1.8l-0.2 1.8l-0.6 1.7l-1 1.5l-1.5 1.1l-1.4 1.2l-1.8 0.5l-1.1 1.4l-0.4 1.8l-1.3 1.3l0.6 1.7l-0.3 1.8l0.4 1.8l-0.9 1.6M361.5 108.3l-0.7 1.7l-0.6 1.7l0.5 1.7l1 1.5l-0.4 1.8l-0.3 1.8l-0.9 1.6l-0.7 1.7l0.1 1.8l1.1 1.4l-0.8 1.6l-1.2 1.4l0.1 1.8l1.6 1l-0.3 1.8l-1.6 0.9l-1.9 0.3l-1.3 1.3l-0.8 1.6l-1.3 1.3l1 1.5l0 1.8l-0.2 1.8l-1.3 1.3l-1.8 0.5l-0.1 1.8l1 1.5l0.4 1.8l0.4 1.8M363.3 102l0.4 3.2l1.8 3.2M365.5 108.3l4.8 5.3M369.1 119.1l1.9 0.3l1.9 0l0.6 1.7l-0.5 1.7l0.6 1.7l-0.4 1.8l0.8 1.6l0.6 1.7l1.7 0.8l0.9 1.6l-1.4 1.2l-0.2 1.8l-0.1 1.8l0.1 1.8l1.1 1.5l1.4 1.2l1.5 1.1l1.7 0.8l1.9 0.3l0.7 1.7l0.1 1.8l0.8 1.6l-1.2 1.4l-1.6 1l1.3 1.3M371.9 118.7l0.6 1.7l0 1.8l0.7 1.7l-0.2 1.8l-1.1 1.5l-0.4 1.8l-1.3 1.3l0.8 1.6l-0.3 1.8l1.5 1.1l0.1 1.8l0.8 1.6l0.7 1.7l-1.5 1.1l-0.4 1.8l0.4 1.8l-1.3 1.4l-1.4 1.2l-0.7 1.7l-1.1 1.5l-0.1 1.8l0 1.8l0.6 1.7l0.1 1.8l1.2 1.4l-0.7 1.7l-0.9 1.6l1.3 1.3l1.6 1M366.1 92l0.2 3.4l0.9 3.4M367.2 98.9l0.7 7.1M365.5 111.4l-0.8 1.6l-0.3 1.8l-0.1 1.8l-1 1.5l-1.4 1.2l0.8 1.6l0.3 1.8l0.9 1.6l0.2 1.8l-0.2 1.8l0.3 1.8l0 1.8l-0.5 1.8l-1.4 1.3l0.4 1.8l-0 1.8l-0.3 1.8l-0.3 1.8l0.4 1.8l0 1.8l-0.3 1.8l0.1 1.8M368.9 108l-0.2 1.8l0.4 1.8l0.9 1.6l0.3 1.8l1.2 1.4l1.4 1.3l1.6 1l1.6 1l0.8 1.6l-0.2 1.8l1.3 1.3l1.1 1.5l1.3 1.3l0.6 1.7l-0.5 1.7l-1.7 0.8l0 1.8l0.2 1.8l-0 1.8l0.8 1.6l1 1.5l-0.4 1.8l1.1 1.4l-0.2 1.8l0.7 1.7l-0.6 1.7M368 88.3l1.1 2.5l2.5 2.5M371.6 93.4l-6.9 8M362.9 105.9l1.2 1.4l1.1 1.5l0.4 1.8l0.2 1.8l0 1.8l1.6 0.9l-0.8 1.6l0.1 1.8l-0.5 1.7l-0.4 1.8l-1.6 0.9l-0.6 1.7l0.6 1.7l1.7 0.9l1.7 0.9l1.4 1.2l-0.1 1.8l-0.9 1.6l-0.4 1.8l0.1 1.8l-0.5 1.7l0.2 1.8l-1.4 1.2l-1.1 1.4l-0.8 1.6M367 104.6l-0.7 1.7l1.2 1.4l0.5 1.7l1.2 1.4l1.2 1.4l1 1.5l1 1.6l1.4 1.3l0.7 1.7l-0.1 1.8l0.3 1.8l1.2 1.4l1.2 1.4l-0.9 1.6l-1 1.5l-0.1 1.8l1 1.5l0.4 1.8l0.1 1.8l-1.7 0.7l0.3 1.8l-0.2 1.8l-1.1 1.5l-1.5 1.1l0.4 1.8l-0.2 1.8l-0.2 1.8l-0.5 1.8l-0.7 1.7M368.1 98.3l-0.3 5.9M366.5 107.7l0.2 1.8l-0.3 1.8l-0.8 1.6l-1 1.5l-0.2 1.8l-1.1 1.5l-0.3 1.8l-1.8 0.7l0.1 1.8l-0.2 1.8l-1.1 1.5l-0 1.8l0.6 1.7l0.4 1.8l0.7 1.7l0.1 1.8l-0.3 1.8l-1.5 1.1l-1.9 0.4l-1.9 0.3l-0.2 1.8l1.7 0.8l1.9 0.3l-0.2 1.8l0 1.8l-0.6 1.7l-0.2 1.8l0.5 1.8M369 109.1l-1.4 1.2l-0.5 1.7l1.8 0.4l1.2 1.4l1.3 1.3l1.6 1l-0 1.8l0.3 1.8l-0.3 1.8l-1.2 1.4l0.3 1.8l-0.2 1.8l-1.4 1.2l-0.9 1.6l-1.3 1.3l-0.4 1.8l-0.8 1.7l-1.4 1.3l-1.8 0.5l-1.2 1.4l-0.5 1.7l-1.5 1.1l-1.2 1.4l-1 1.5l-1.3 1.4M373.4 81l-1.3 3.5l3.7 3.5M375.8 87.9l-0.2 6.7M374 100.4l-0.6 1.7l-0.9 1.6l1.1 1.4l1.6 0.9l0.2 1.8l1.7 0.9l1.3 1.3l1.2 1.4l0.9 1.6l-0.2 1.8l0.5 1.8l-0.7 1.7l-1.2 1.4l1 1.5l0.6 1.7l0.8 1.6l0.5 1.7l1.1 1.5l0.8 1.6l-0.8 1.6l-0.5 1.7l0.9 1.6l0.5 1.8l-0.3 1.8l1.3 1.3l1.3 1.3l1.3 1.3M377 100.5l-0.6 1.7l-0.7 1.7l-1.8 0.5l-1.6 0.9l-1.3 1.4l-1.6 0.9l-1.5 1.1l-1.8 0.5l-1.8 0.4l-1.3 1.3l-0.9 1.6l1.2 1.4l-0.6 1.7l-1.4 1.3l-1.8 0.6l-1.9 0.3l-1.6 1l0.1 1.8l-0.7 1.7l-0.6 1.7l1.9 0.2l0.1 1.8M376.3 95.6l-0.9 4.8l1.2 4.8M376.6 105.1l3.4 6.2M377.9 114.8l0.5 1.7l0.9 1.6l0.6 1.7l-0.8 1.6l0.5 1.7l0.7 1.7l-0 1.8l1.2 1.4l0.4 1.8l-1 1.5l0.9 1.6l0.7 1.7l1.6 0.9l1.1 1.4l1.2 1.4l1.9 0.1l1.4 1.2l1.4 1.3l-0 1.8l0.6 1.7l1.1 1.4l-0.8 1.6l0.5 1.8l0.3 1.8l0.4 1.8M382 114.5l0.9 1.6l0.9 1.6l1.9 0l1.6 1l1 1.6l-1.3 1.3l-1.7 0.9l1.1 1.5l0.5 1.7l1.1 1.4l0.7 1.7l1.6 1l0.6 1.7l-0.6 1.7l1.2 1.4l0.9 1.6l0.4 1.8l1.7 0.8l1.1 1.5l1 1.5l-0.1 1.8l-0.3 1.8M378.6 92.7l-1 5.3l2.3 5.3M379.9 103.2l-0.3 5.8M378 112.7l-1.5 1.1l-1.2 1.4l0.1 1.8l-0.6 1.7l-1.5 1.1l-1.9 0l-1.8 0.5l-0.2 1.8l0.9 1.6l1.1 1.5l-0.4 1.8l0.2 1.8l-0.4 1.8l1.2 1.4l-0 1.8l-0.5 1.7l0.5 1.7l0.6 1.7l0.8 1.6l0.3 1.8l0.7 1.7l1.2 1.4l1 1.5l1.3 1.3l0.5 1.7M381 112.1l-1.2 1.4l-1 1.5l-0.4 1.8l0.2 1.8l0.5 1.8l-0.5 1.7l-1.4 1.2l-1.4 1.2l0.1 1.8l-0.1 1.8l0.9 1.6l1.1 1.5l1.8 0.6l0 1.8l0.2 1.8l0.7 1.7l-0.7 1.7l0.2 1.8l1.4 1.2l0.5 1.7l1.2 1.4l1.1 1.5l0.1 1.8M381.3 93l-3.1 4.4l-4.2 4.4M374.1 101.7l1.6 8.1M374.3 112.6l0.3 1.8l-0.2 1.8l-0.1 1.8l-1 1.5l-0.6 1.7l0.7 1.7l0.1 1.8l0.4 1.8l0.3 1.8l1.2 1.4l0 1.8l-0.3 1.8l-0.5 1.8l0.3 1.8l-0.7 1.7l-0.6 1.7l-1.3 1.3l-1.5 1.1l-1.8 0.6l-1.8 0.6M378 113.8l1 1.5l0.5 1.7l-1.3 1.3l-0.6 1.7l1.2 1.4l1.6 1l0.6 1.7l1 1.5l1 1.5l-1.1 1.5l-0.5 1.7l0 1.8l1.3 1.4l1.8 0.7l1.8 0.5l1.2 1.4l-0.8 1.6l0.3 1.8l0.1 1.8l-0.5 1.8l1.1 1.5l1 1.5l1.5 1.1l0.9 1.6l1.3 1.3l1.5 1.1l1.9 0.2l1.7 0.8M386 90l-1.3 3.9l-3.4 3.9M381.3 97.8l-4.6 6.1M374.8 107.2l0 1.8l-1.5 1.1l0.1 1.8l-0.9 1.6l-1.8 0.6l-1 1.5l-0.7 1.7l-1.4 1.2l-1 1.5l-0.6 1.7l-0.4 1.8l0.6 1.7l1.5 1.1l1.8 0.6l1.4 1.2l1.6 0.9l1.3 1.4l0.3 1.8l-0.1 1.8l-0.3 1.8M378.6 106l0.2 1.8l0.1 1.8l-1.8 0.7l-1.9 0.4l-0.9 1.6l1 1.6l0 1.8l-0.5 1.7l0.3 1.8l0.4 1.8l1 1.6l-0.2 1.8l1.5 1.1l0.4 1.8l0.2 1.8l1.5 1.1l0.2 1.8l-0.6 1.7l-1 1.6l-1.9 0.4l-1.9 0.3l-1.9 0.3l0.1 1.8l1.4 1.2l-0.1 1.8l0.4 1.8l-1 1.5l-1.9 0M388.7 98.1l-1.8 2.6l5.2 2.6M392.1 103.3l-5.9 8M385.2 114.3l0.1 1.8l-0.4 1.8l-1.7 0.8l-1.4 1.2l-1 1.6l-0.8 1.6l0.7 1.7l1.4 1.2l0.9 1.6l0.1 1.8l-0.7 1.7l-0.9 1.6l-1.2 1.4l-0.9 1.6l-0 1.8l1.3 1.4l1.6 1l-1 1.6l-0.6 1.7l0.1 1.8l0.1 1.8l0.5 1.7l0.5 1.8l-0.1 1.8M387.8 115l0.5 1.8l1.7 0.8l0.5 1.7l1.1 1.5l0.9 1.6l1.7 0.8l1.2 1.4l1.8 0.7l-0.6 1.7l0.1 1.8l-1.2 1.4l0.6 1.7l1.5 1.1l1.1 1.5l-0.1 1.8l-0.3 1.8l-0.1 1.8l-0.6 1.7l1.2 1.4l-0.2 1.8l-1.5 1.1l-1.5 1.2l0.9 1.6l1.6 0.9M389.5 83.7l-0.2 4l2.9 4M392.3 91.8l-1 6.1M389.2 100.3l-0.8 1.6l-1.4 1.2l-0.6 1.7l-0.6 1.7l-0.6 1.7l-0 1.8l0.7 1.7l-1.3 1.3l-1.8 0.5l-1.8 0.4l-1.7 0.8l-1.7 0.9l-1.9 0.2l-1.8 0.6l0.9 1.6l0.7 1.7l1.7 0.8l-0.7 1.7l-0.7 1.7l-0.2 1.8l-1.4 1.2l-1.8 0.6l-0.9 1.6l-0.7 1.7M392.7 101.2l0.4 1.8l-0.4 1.8l-1.4 1.2l-0.9 1.6l0.1 1.8l0.9 1.6l-0.7 1.7l1 1.5l1.1 1.5l-0.7 1.7l-1.7 0.9l-1.5 1.1l-0 1.8l-0.1 1.8l0.5 1.7l0.1 1.8l-0 1.8l-0.9 1.6l-0.4 1.8l-0.7 1.7l-0.4 1.8l-0.7 1.7l-1 1.5l-0.5 1.7l0.4 1.8l0.6 1.7l1.3 1.3l1.8 0.6l1.3 1.3M391.9 89.1l1.5 3.1l1.3 3.1M394.7 95.4l-2.2 6.1M390 105.2l-0.8 1.6l-1.1 1.4l0.6 1.7l0.1 1.8l-0.7 1.7l-0.4 1.8l0.2 1.8l1.5 1.1l1.2 1.4l1.2 1.4l-0.8 1.6l0 1.8l0.3 1.8l1.8 0.5l0.6 1.7l1.2 1.4l-0.9 1.6l-0.2 1.8l-1.1 1.5l-1.6 1l-1.8 0.7M394.8 103.7l-0.1 1.8l-0.2 1.8l-0.2 1.8l1.1 1.5l-0 1.8l0.1 1.8l-0.7 1.7l-1.9 0.3l-1.9 0.3l-1.9 0l-1.9 0.2l-1.9 0.1l-1.8 0.7l-1.9 0.2l-0.2 1.8l1.2 1.4l1.7 0.7l1.8 0.6l1.4 1.2l-0.3 1.8l-0.7 1.7l0.2 1.8l1.3 1.3l1.3 1.3l1.6 0.9l1.2 1.4l1 1.5l0.6 1.7M394.6 99.5l-3.2 6.7M390.3 111.1l1.3 1.4l-0.3 1.8l-1.7 0.8l-1.9 0.2l-1 1.5l0.7 1.7l0.8 1.6l1.8 0.5l1.9 0l1.6 1l-1.1 1.5l-0.8 1.7l0.7 1.7l0.5 1.7l1.9 0.2l1.5 1.1l1.9 0.3l1.9 0.3l0.3 1.8l-1 1.6M392.6 110.6l0.9 1.6l-0.3 1.8l1.3 1.3l1.7 0.8l0.9 1.6l1.9 0.2l1.3 1.3l0.4 1.8l1.8 0.7l0.8 1.6l1 1.5l1.7 0.7l-1.2 1.4l0.4 1.8l1.4 1.2l0.5 1.7l-0.7 1.7l0.2 1.8l-0.1 1.8l-1.3 1.3l-1.2 1.4l-1.5 1.1l0.6 1.7l0.7 1.7l-0.4 1.8l0.9 1.6l1 1.5M398.9 100.9l-2.3 3.8l2.1 3.8M398.7 108.5l-0.7 8.9M396.9 122.8l1 1.5l0.1 1.8l0.9 1.6l1.8 0.6l1.2 1.4l1.8 0.7l1.6 1l0.2 1.8l1.7 0.8l0.1 0.6l0 0.5l0 1.8l0 1.8l0 0.9l0 0.4l0 1.2l0 1l0 1l0 1.7l0 1.8l0 1.6l0 1.6l0 1.8l0 1.7l0 1.1l-0.8 1.6l-0.1 1.8l-0.3 1.8M400.5 120.2l-1.6 0.9l-1.8 0.7l-0.4 1.8l1 1.5l-1.7 0.7l-1.8 0.5l-1.3 1.3l-0.6 1.7l1.6 1l0.7 1.7l-0.9 1.6l0.3 1.8l1 1.6l1.6 1l-0.2 1.8l-0.1 1.8l-0.3 1.8l-0.3 1.8l-0.3 1.8l-1.5 1.1l0.4 1.8l-0.3 1.8l-1.2 1.4l-0.5 1.7l0.5 1.8M401.8 94.3l-3 2.9l7.5 2.9M406.3 100.1l-4 8M400 113.9l0.5 1.7l-0.1 1.8l-1.2 1.4l-1.3 1.3l-0.2 1.8l1.1 1.5l-0.8 1.6l-0.9 1.6l-0.1 1.8l-0.9 1.6l0.6 1.7l1.7 0.8l0.4 1.8l0.3 1.8l0.9 1.6l-0.1 1.8l0.5 1.7l1.8 0.6l0.2 1.8l-1 1.6l0.2 1.8l-0.9 1.6l-1.1 1.5M404.4 111l1.3 1.3l0.1 1.8l0.6 1.7l-0.5 1.7l-0.6 1.7l-0.4 1.8l0.7 1.7l1.7 0.7l-0.4 1.8l0.4 1.5l0 1.6l0 1.6l0 1.6l0 1.4l0 1.1l0 1.7l0 1.8l0 1.8l0 1.8l0 1.7l0 1.8l0 1.7l-0.8 1.6l-1.6 1M402.7 73.8l-0.3 2.8l-2.8 2.8M399.7 79.3l-1.2 5.9M397.2 91l1 1.6l0.6 1.7l1.6 1l1 1.6l1.2 1.4l1 1.5l-1 1.5l0.4 1.8l0.3 1.8l1 1.5l-0 1.8l1.7 0.9l1.4 1.2l0 1.7l-0 1.8l0 1.1l-0.9 1.6l-0.8 1.6l-1 1.5l-1.3 1.3l-0.6 1.7l-1.3 1.3l-1.2 1.4l-0.6 1.7l-0.4 1.8l-0.4 1.8l-1.5 1.1l-1.4 1.2M400.5 90.5l-1.2 1.4l-1.8 0.6l-1.3 1.3l-1.2 1.4l-1.1 1.4l-1.7 0.8l0.2 1.8l0.6 1.7l0.2 1.8l-0.4 1.8l-1.2 1.4l-1.5 1.1l0.4 1.8l0.3 1.8l-1.4 1.3l1.1 1.5l-0.2 1.8l0.5 1.7l0.5 1.7l-0.3 1.8l-1.5 1.1M406.8 98.7l0.7 4.2l2.2 4.2M409.6 107.1l-4.6 8.2M402.7 118.7l0.7 1.7l0.5 1.8l1.7 0.8l-0.5 1.7l-0.2 1.8l-0.2 1.8l-0.7 1.7l-1.4 1.2l-0 1.8l0.7 1.7l1.2 1.4l1.3 1.3l-0.6 1.7l-1 1.5l-0.8 1.7l-0.6 1.7l-0.3 1.8l0.5 1.7l0.2 1.8l1.1 1.5l-0.3 1.8l-0.6 1.7l-0.6 1.7l-0.1 1.8l-0.5 1.8M406.5 119.2l0.8 1.6l0 1.4l0 1.6l0 1.6l0 1.8l0 1.6l0 1.7l-1.3 1.3l-1.7 0.8l-1.8 0.7l-1.2 1.4l-0.2 1.8l-1.1 1.5l1.1 1.5l1.9 0.1l1.3 1.3l0.5 1.7l1.1 1.4l0.2 1.8l1 1.3l0 1.1l0 1.5M315.9 192.5l3.9 -6.1M317.7 180.8l-1.6 -1l-0.9 -1.6l-1.1 -1.5l-1.3 -1.3l0.3 -1.8l-1.3 -1.3l1.4 -1.3l0.1 -1.8l0.4 -1.8l0.7 -1.7l1.5 -1.1l1.1 -1.5l-1.5 -1.1l-1.9 -0.1l-1.7 -0.8l0.8 -1.7l1.3 -1.3l1.6 -0.9l1.9 -0.1l1.6 -1l1.6 -0.9l1.3 -1.4l-0.2 -1.8l-1.2 -1.4l1 -1.5l1.3 -1.3l0.4 -1.8l-1.4 -1.2l-1.7 -0.8M321.7 182.1l0.8 -1.7l1.6 -1l0.4 -1.8l0.4 -1.8l-1 -1.5l-1.8 -0.4l-1.6 -1l-0.6 -1.7l0.4 -1.8l1.1 -1.5l1.6 -1l1.7 -0.9l1.2 -1.4l-0.4 -1.8l0.3 -1.8l0.6 -1.7l0.5 -1.7l1.8 -0.6l0.8 -1.6l1.6 -1M313.4 183.8l-0.9 -5.2M310.1 176.1l0.7 -1.7l0 -1.7l0.6 -1.7l1.2 -1.4l0.1 -1.8l0.3 -1.8l-1.7 -0.8l-0.5 -1.6l0 -1.8l0 -1.8l0 -1.8l0.5 -1.7l0 -1.8l0.4 -1.8l1.1 -1.5l-0.1 -1.8l-1.3 -1.3l-0.7 -1.6l0.8 -1.6l1.1 -1.5l1 -1.5l1.1 -1.4l-0.3 -1.8M313.7 175.6l-1.6 -1l-0.9 -1.6l-0.4 -0.7l0 -1.4l0 -1.8l-0 -1.6l0 -1.8l0 -1.8l-0 -1.2l0.7 -1.7l-0.7 -1.5l0.2 -1.8l-0.2 -0.8l0 -1.5l0 -1.2l0 -1.5l0 -1.8l0 -1.6l0 -1.2l0 -1.7l0 -1.5l0 -1.5l0 -1.7l0 -1.8l1.3 -1.3M316.5 193.5l-0.2 -3.7l2.3 -3.7M318.6 186.2l-2.5 -6.8M314.7 174.4l1.9 -0.2l-0 -1.8l0.9 -1.6l1.7 -0.9l0.2 -1.8l0.1 -1.8l-0.6 -1.7l-1.6 -1l-1.7 -0.9l-1.7 -0.8l-1.6 -1l-1.2 -1.4l0.3 -1.8l1.3 -1.3l0.3 -1.8l0.4 -1.8l1.6 -1l1.6 -1l1.1 -1.5l0.3 -1.8l0.6 -1.7l1.7 -0.9l1 -1.6l0.2 -1.8l0.3 -1.8l-1.3 -1.4l0.2 -1.8M317.6 175l-0.9 -1.6l-1.5 -1.1l-1 -1.5l-0.8 -1.6l-0.8 -1.6l0.6 -1.7l-1.1 -1.5l-1.2 -0.8l0 -1.2l0 -1.8l0 -1.7l0 -1.7l0 -1.8l0 -1.7l0 -1.7l0.5 -1.7l1.1 -1.5l-0.1 -1.8l1.4 -1.2l1.3 -1.3l0.7 -1.7l1.6 -1l-1.4 -1.3l-0.8 -1.6l-0.9 -1.6l-0.9 -1.6M319.4 199.3l2.7 -5.2l-3.3 -5.2M318.8 188.8l-1.9 -8.3M315 176.9l-0 -1.8l-0.5 -1.7l0.7 -1.7l0.9 -1.6l0.4 -1.8l1 -1.5l1.8 -0.4l0.2 -1.8l-0.2 -1.8l1 -1.5l-0.7 -1.7l-0.6 -1.7l-0.7 -1.7l1.1 -1.5l0.6 -1.7l0.6 -1.7l-0.7 -1.7l-0.6 -1.7l-1.9 -0.2l-1.9 -0.4l-1.1 -1.5l-1.5 -1.1l-0.8 -1.7l-1.4 -0.4M319.1 177l-0 -1.8l-0.1 -1.8l-0.2 -1.8l1.3 -1.3l0.5 -1.7l1 -1.5l0.1 -1.8l-0.7 -1.7l-0.4 -1.8l-0.3 -1.8l0.5 -1.7l-0.1 -1.8l0.7 -1.7l0.4 -1.8l0.3 -1.8l-0.8 -1.6l0.8 -1.6l1.2 -1.4l0.6 -1.7l1.5 -1.1l1.5 -1.1l0.6 -1.7l1.4 -1.2l0.8 -1.6l-0.3 -1.8M321.2 195.9l2.5 -4.3l-0.9 -4.3M322.8 187.2l5.2 -8.2M325.7 174.2l-1.7 -0.8l-1.4 -1.3l0.2 -1.8l-0.5 -1.8l0.8 -1.7l1 -1.5l0.9 -1.6l0.1 -1.8l1.2 -1.4l-0.4 -1.8l0.2 -1.8l0.9 -1.6l0.5 -1.8l-0.6 -1.7l-1.8 -0.5l-0 -1.8l0 -1.8l0.5 -1.7l-0.5 -1.7l-1.4 -1.2M330.2 175l-0.5 -1.7l-0.5 -1.7l-1 -1.5l-0.1 -1.8l-0.1 -1.8l-0.5 -1.8l0.1 -1.8l-0.4 -1.8l-0.2 -1.8l0.5 -1.7l-0.5 -1.7l-0.4 -1.8l0.1 -1.8l0.7 -1.7l0 -1.8l0.6 -1.7l0.2 -1.8l-1.2 -1.4l1.2 -1.4l1.6 -0.9l1.4 -1.2l1 -1.5l-0 -1.8l-0.5 -1.7M324.8 196.5l0.5 -3.6l-4.6 -3.6M320.6 189.2l5.4 -7.2M323.8 178.5l-1.9 -0.1l-1.9 -0.2l-1.5 -1.1l-1.4 -1.2l-1.8 -0.6l-0.2 -1.8l-0.4 -1.8l0.1 -1.8l0.5 -1.7l1 -1.5l0.1 -1.8l-1.4 -1.2l0.6 -1.7l0.2 -1.8l0.5 -1.7l0.4 -1.8l0.7 -1.7l1.8 -0.7l-0.9 -1.6l-1.9 -0.4l-1.8 -0.6l-0.5 -1.7M328.1 178.4l1.3 -1.3l-0.2 -1.8l-0.4 -1.8l-1.3 -1.3l-0.9 -1.6l-1 -1.5l0.9 -1.6l-1 -1.5l-0.7 -1.7l-1.2 -1.4l1.1 -1.5l1.3 -1.3l-0.2 -1.8l0.6 -1.7l1 -1.5l0.5 -1.7l-0.9 -1.6l0.4 -1.8l1.1 -1.5l-0 -1.8l-0.1 -1.8l-0.4 -1.8M327.2 183.8l0.7 -5.2l-3.4 -5.2M324.6 173.5l1.2 -8.7M323.6 159.2l-0.6 -1.7l1.1 -1.5l0.6 -1.7l0.5 -1.7l-0.8 -1.6l-1.7 -0.7l-0.9 -1.6l-1.3 -1.4l0.8 -1.6l1 -1.5l1.2 -1.4l0.8 -1.6l0.1 -1.8l0 -1.8l-0.5 -1.8l-1.1 -1.4l-1.6 -0.9l-1.5 -1.2l-1.5 -1.2l-1.7 -0.8l-0.8 -1.6l0 -1.8l0.3 -1.8l-1.2 -1.4l-0.9 -1.6l0.2 -1.8l-0 -1.8M328 160.3l1 -1.5l0.2 -1.8l-0.2 -1.8l-1.4 -1.2l-1.9 -0.4l-1.3 -1.3l-0.4 -1.8l-0.4 -1.8l-0.9 -1.6l-0.8 -1.7l-0.2 -1.8l1 -1.5l1 -1.5l-0.3 -1.8l0.5 -1.8l1.1 -1.5l1 -1.6l0.7 -1.7l1.2 -1.4l1.8 -0.5l1.8 -0.5l1.5 -1.1l-1.2 -1.4M325.9 186.8l-0.2 -5.2M323.8 179l-0.9 -1.6l-1.4 -1.2l-1.6 -0.9l-1.6 -0.9l-0.9 -1.6l0.4 -1.8l0.2 -1.8l0.6 -1.7l-0.1 -1.8l-1.1 -1.5l-1.8 -0.5l-0.1 -1.8l0.7 -1.7l0.4 -1.8l-1.3 -1.3l-0.9 -1.6l-1.9 -0.1l-0.9 -1.6l-0.7 -0.8l0 -0.7l0 -1.5M327.9 177.4l0.7 -1.7l-0.7 -1.7l0.1 -1.8l0.1 -1.8l-0.3 -1.8l1.6 -1l-0 -1.8l0.4 -1.8l1.3 -1.3l0.9 -1.6l-0.5 -1.7l-1.8 -0.5l-1.8 -0.7l-1.5 -1.1l-1.7 -0.8l-1.7 -0.8l-1.3 -1.3l0.7 -1.7l0.2 -1.8l1.2 -1.4l-1.5 -1.1l-0.7 -1.7l-0.2 -1.8l-1.6 -1l-0.7 -1.7l-1.7 -0.9l-0.3 -1.8l-0.7 -1.7l-0.5 -1.7M333.7 191.1l3.1 -3.8l0.1 -3.8M336.9 183.5l0.3 -7.3M335.7 173.1l-0.8 -1.7l-1.4 -1.2l-0.9 -1.6l-0.2 -1.8l-0.8 -1.6l-0.3 -1.8l-0.5 -1.7l0.4 -1.8l-0.7 -1.7l1.1 -1.5l1.3 -1.3l1.6 -0.9l1.2 -1.4l-0.3 -1.8l-0.9 -1.6l-0.4 -1.8l-0.9 -1.6l-0.1 -1.8l0.8 -1.6l1.3 -1.3l1.8 -0.6l1.7 -0.8l0.3 -1.8l1.6 -1l0.5 -1.7l-0.1 -1.8l-0.9 -1.6M338.5 172.6l-1.8 -0.6l-1.7 -0.9l-1.3 -1.3l-1.8 -0.7l-0.1 -1.8l-1.4 -1.2l-1.1 -1.5l0.2 -1.8l-0.6 -1.7l0.2 -1.8l-0.8 -1.6l0.5 -1.7l0.7 -1.7l-0.2 -1.8l-0.1 -1.8l0.2 -1.8l0.9 -1.6l1.9 -0l1.8 -0.7l1.3 -1.3l-1.1 -1.5l-0.5 -1.7M335.2 195l0.9 -3.2l-3.3 -3.2M332.8 188.6l1.5 -6.6M333 176.8l-0.6 -1.7l-1.5 -1.1l-1.6 -1l-1.8 -0.5l-1.5 -1.2l-0.8 -1.6l-1.2 -1.4l0.4 -1.8l1.7 -0.9l1.3 -1.3l0.7 -1.7l-0.5 -1.7l-1.1 -1.5l-0.7 -1.7l-1.7 -0.9l-1.7 -0.8l-1.7 -0.7l-1.8 -0.4l-1.8 -0.7l-1.9 -0.3l-0.2 -1.8l1.1 -1.5l0.2 -1.8l0.3 -1.8M335.4 177.1l-0.4 -1.8l-0.8 -1.6l-0.3 -1.8l0.3 -1.8l-1.2 -1.4l-0.8 -1.6l-1.2 -1.4l0.8 -1.7l0.2 -1.8l-0.5 -1.7l-1.7 -0.7l-1.3 -1.3l-0.8 -1.7l0.8 -1.6l1.2 -1.4l-0.1 -1.8l-0.1 -1.8l0.5 -1.7l1.6 -0.9l1 -1.5l0.4 -1.8l-0.1 -1.8l0.1 -1.8l0.4 -1.8l-0.5 -1.7l-1.8 -0.5l0.6 -1.7l-0.5 -1.7M338 170.8l-1.6 -9M334.6 156.4l1.1 -1.5l1.8 -0.4l1.7 -0.9l1.9 -0.1l1 -1.5l-1 -1.5l-1.4 -1.2l-0.3 -1.8l-1.1 -1.5l-1 -1.5l-0 -1.8l0.6 -1.7l1.4 -1.2l-0.7 -1.7l-0.5 -1.8l0.8 -1.6l1.6 -1l1.6 -1l1.9 -0.2l0.3 -1.8l0.6 -1.7l-0.9 -1.6l-1.1 -1.5M338.1 157.3l-1.1 -1.5l-0.8 -1.6l0.6 -1.7l-0.4 -1.8l0.6 -1.7l-0.1 -1.8l-1.5 -1.1l-1.9 -0.2l-1.9 -0.1l-1.3 -1.4l-0.2 -1.8l-1 -1.5l-0.9 -1.6l-0.7 -1.7l-0.7 -1.7l-0.7 -1.7l-1 -1.5l-1.1 -1.5l-1.2 -1.4l0.4 -1.8l-1 -1.5l0.8 -1.6l-0.1 -1.8l-1.8 -0.5l-0.2 -1.8M341.7 183.1l4.2 -4.8l-6.5 -4.8M339.4 173.5l-2.9 -8.8M334.7 162.2l1.3 -1.4l0.3 -1.8l0.7 -1.7l-0.1 -1.8l1 -1.5l1.2 -1.4l-1.2 -1.4l0.3 -1.8l1.5 -1.2l0.8 -1.7l1.1 -1.5l-0 -1.8l-0.6 -1.7l-0.6 -1.7l-0.3 -1.8l-0.4 -1.8l0.9 -1.6l0.4 -1.8l-0.9 -1.6l-0.7 -1.7M338.8 160.1l1.1 -1.5l0.6 -1.7l1.5 -1.1l0.8 -1.6l1.3 -1.3l0.6 -1.7l1.4 -1.2l1.3 -1.3l0.4 -1.8l-0.1 -1.8l-1.3 -1.3l-1.7 -0.8l1 -1.5l0.8 -1.6l-0.9 -1.6l0.3 -1.8l0.7 -1.7l0.1 -1.8l0.6 -1.7l1.5 -1.1l1 -1.5l0.7 -1.7l-0 -1.8l-1.5 -1.1l0.5 -1.7l0.7 -1.7M343.2 203.1l2.2 -5.4l-3.6 -5.4M341.8 192.3l-2.5 -6.1M337.1 180.8l0.2 -1.8l-0.3 -1.8l0.2 -1.8l-1.4 -1.3l-1.2 -1.4l0.8 -1.6l0.3 -1.8l-0.6 -1.7l-0.9 -1.6l-0.1 -1.8l-0.9 -1.6l-0.5 -1.7l0.4 -1.8l1 -1.5l0.5 -1.7l1 -1.5l1 -1.5l1.5 -1.1l1.4 -1.2l1.8 -0.7l1.3 -1.4l1.3 -1.3l0.7 -1.7l-0.1 -1.8l0.6 -1.7l0.9 -1.6l0.2 -1.8l-0.6 -1.7l-0.3 -1.8M341.7 182.5l0.3 -1.8l1.7 -0.9l1.8 -0.5l0 -1.8l-0.2 -1.8l-1.6 -1l-1.5 -1.1l0.5 -1.8l-0.6 -1.7l-0.9 -1.6l-0.7 -1.7l-0.2 -1.8l1 -1.5l1.8 -0.5l0.7 -1.7l-0.2 -1.8l-0.8 -1.6l-1.6 -1l-0.8 -1.7l1.6 -1l1 -1.5l0.8 -1.6l0.8 -1.6l0.1 -1.8l1.5 -1.1l0.7 -1.7l0.3 -1.8l-0.3 -1.8M343.5 193.7l4.6 -7M346.5 184l-0.5 -1.7l0.4 -1.8l-0.1 -1.8l0.4 -1.8l-0 -1.8l-0.8 -1.6l-0.3 -1.8l-1.1 -1.5l-0.6 -1.7l-1.1 -1.5l-1 -1.6l1.1 -1.4l1.9 -0.4l1.6 -0.9l1.8 -0.6l1.8 -0.5l1.7 -0.8l0.4 -1.8l-0.4 -1.8l1.1 -1.5l1.6 -0.9l1.9 -0.3l1.8 -0.4l1.9 -0.1l1.2 -1.4l1.1 -1.5l0.4 -1.8l0.3 -1.8l-0.6 -1.7M349.3 184.1l-0.2 -1.8l1.4 -1.2l1.5 -1l0.9 -1.6l0.4 -1.8l-1.5 -1.1l-0.2 -1.8l-1.2 -1.4l-1.6 -1l-0.7 -1.7l-1.1 -1.4l-1.2 -1.4l-1.4 -1.2l0 -1.8l-0 -1.8l0.5 -1.7l1.7 -0.7l1.8 -0.6l1.9 -0.1l0.7 -1.7l1.1 -1.5M349.7 187.1l-1.6 -2.9l0.6 -2.9M348.7 181.4l-5.4 -6M341 171.8l0.4 -1.8l-1.3 -1.3l-1 -1.5l0 -1.8l0.2 -1.8l0.8 -1.6l0.1 -1.8l0.5 -1.7l-0.4 -1.8l-1.8 -0.6l-1.9 -0.1l-0.1 -1.8l0.7 -1.7l-0.1 -1.8l-0.2 -1.8l-1.7 -0.9l-1.9 -0.1l-1.9 -0.2l-1.3 -1.3l0.4 -1.8l1.2 -1.4l-0.3 -1.8l-1.9 -0.2l-1.9 -0.2l0.2 -1.8l1.5 -1.1M345.7 169.5l0.3 -1.8l-0.1 -1.8l-0.1 -1.8l-1.2 -1.4l0.4 -1.8l-0.5 -1.7l1.1 -1.4l1.9 -0.1l1.8 -0.5l1 -1.5l1.1 -1.5l0.4 -1.8l1.5 -1.1l1.6 -1l-0.1 -1.8l-1.2 -1.4l-1 -1.5l-1.6 -0.9l0.1 -1.8l1.2 -1.4l1.7 -0.8l0.1 -1.8l-0.4 -1.8l-1.5 -1.1l-1.8 -0.7M353.3 179.5l-1.4 -5.2l-4.9 -5.2M347 169.2l4.9 -6.8M350.2 159l0.5 -1.7l1.2 -1.4l-1.2 -1.4l-1.1 -1.5l0.1 -1.8l1.5 -1.1l1.8 -0.5l0.8 -1.6l0.7 -1.7l0.5 -1.7l1.4 -1.2l1.5 -1.1l1 -1.5l1.3 -1.3l1.3 -1.3l-0.1 -1.8l-1.4 -1.2l-1.5 -1.1l-1.7 -0.9l-1.9 -0l-0.8 -1.7l0.8 -1.6l-0.5 -1.8M353.8 157.8l1.8 -0.5l-0.5 -1.7l-1.2 -1.4l-1.5 -1.1l-0.9 -1.6l0.1 -1.8l0.9 -1.6l0.6 -1.7l1.3 -1.3l0.7 -1.7l-0.2 -1.8l-0.9 -1.6l0.4 -1.8l1.2 -1.4l-0.5 -1.7l-0.2 -1.8l-0.8 -1.6l-0.6 -1.7l0.8 -1.7l0.8 -1.6l-0.2 -1.8l-1.2 -1.4l-0.4 -1.8l-1.1 -1.5l0.5 -1.7l-0.5 -1.7l0.2 -1.8l0.8 -1.7l1.1 -1.5M354.9 195.8l2.3 -4.8l-1.9 -4.8M355.3 186.1l-0.7 -5.7M353.4 175.4l-0 -1.8l0.1 -1.8l0.9 -1.6l-1.3 -1.4l-0.2 -1.8l-0.6 -1.7l1.5 -1.1l1.9 -0l0.9 -1.6l0.1 -1.8l-0 -1.8l0.4 -1.8l-0.1 -1.8l0.1 -1.8l1.5 -1.1l1.4 -1.2l1.4 -1.2l0.8 -1.6l1.1 -1.5l1.4 -1.2l1.2 -1.4M356.4 177.9l1.2 -1.4l1.6 -0.9l1.5 -1.1l1.9 -0l1.3 -1.3l-0.1 -1.8l-1.2 -1.4l-0 -1.8l-1.5 -1.1l1 -1.5l-0.1 -1.8l0.4 -1.8l0.7 -1.7l-1.1 -1.5l-0.4 -1.8l1.2 -1.4l0.6 -1.7l0.7 -1.7l1.1 -1.5l0.9 -1.6M356.6 192.5l-2 -4.2l2.3 -4.2M356.9 184.1l1.5 -7.8M356.1 172.7l0.2 -1.8l0.1 -1.8l0.1 -1.8l0.1 -1.8l1.9 -0.2l0.3 -1.8l0.1 -1.8l-0.8 -1.6l1.2 -1.4l0.7 -1.7l1.8 -0.5l1.8 -0.5l-1.4 -1.2l-0.3 -1.8l-0.6 -1.7l0.9 -1.6l1.8 -0.5l1.6 -0.9l1.9 -0.1l1 -1.5l0.8 -1.7l-0.5 -1.7l-0.8 -1.6M360.3 170.6l1.9 -0.4l1.3 -1.3l0.5 -1.7l0.3 -1.8l0.9 -1.6l-0.2 -1.8l0.5 -1.7l0.1 -1.8l1.1 -1.5l1 -1.5l0.6 -1.7l0.8 -1.7l0.1 -1.8l1 -1.5l0.8 -1.7l-0.5 -1.8l-0.6 -1.7l-0.7 -1.7l0.6 -1.7l-0 -1.8l-0.8 -1.7l1 -1.5l0.7 -1.7M361.2 184.7l2 -2.9l-4.2 -2.9M359 178.8l-1.6 -7.6M355.4 167.4l-1.1 -1.4l0.5 -1.7l-0.3 -1.8l-1.2 -1.4l-0.2 -1.8l-0.6 -1.7l-1.2 -1.4l-0.2 -1.8l0.5 -1.7l0.2 -1.8l1.3 -1.3l-0.7 -1.7l-1.3 -1.3l-0.8 -1.6l-1.2 -1.4l0.5 -1.7l1.1 -1.5l1.2 -1.4l1.1 -1.5l1.5 -1.1l1.2 -1.4l1 -1.5l0.9 -1.6l-0.1 -1.8l-0.8 -1.6l-0.7 -1.7M358.9 167.7l0.5 -1.8l-0.3 -1.8l0.9 -1.6l1.8 -0.5l1.7 -0.9l1.9 -0l-1.5 -1.1l-1.1 -1.5l0 -1.8l-1.2 -1.4l-1.6 -1l-0.5 -1.7l-0 -1.8l-0.8 -1.6l0.7 -1.7l1.9 -0.4l1.9 -0.4l1.9 -0.3l1.8 -0.6l1.9 -0.4l1.2 -1.4M359.4 178.4l-3 -7.9M354.5 166.4l1 -1.5l-0.5 -1.7l-0.9 -1.6l-1.2 -1.4l-1.6 -1l-1.5 -1.1l-1.2 -1.4l-0.2 -1.8l-0.5 -1.7l-0.9 -1.6l-0.4 -1.8l0.6 -1.7l1 -1.5l1 -1.5l0.8 -1.6l0.5 -1.7l0.3 -1.8l-0.4 -1.8l1 -1.5l0.8 -1.6l1.8 -0.6l0.6 -1.7l1.6 -0.9l0.8 -1.6l-0.1 -1.8l1.1 -1.4l0.1 -1.8M358.3 164.8l0.9 -1.6l0.3 -1.8l0.5 -1.8l0.3 -1.8l0.1 -1.8l1.3 -1.3l1.3 -1.3l-0.6 -1.7l-1.4 -1.2l-0.7 -1.7l-0.7 -1.7l-0.1 -1.8l0.2 -1.8l-0.5 -1.7l1.3 -1.3l1.2 -1.4l0.3 -1.8l-0.2 -1.8l0.3 -1.8l1.3 -1.4l1 -1.5M365.7 187.8l-0.6 -3.7l3.4 -3.7M368.6 180.4l3.1 -8.6M370.6 168.2l-0.2 -1.8l-1.9 -0.1l-1.4 -1.2l-0.9 -1.6l-0.7 -1.7l-1.8 -0.6l-0.3 -1.8l0.5 -1.7l1 -1.6l1 -1.5l0.8 -1.6l0 -1.8l-0.1 -1.8l-1.1 -1.5l-0.8 -1.7l-1.1 -1.5l-1.5 -1.1l-0.4 -1.8l-0 -1.8l-0.2 -1.8l-0.1 -1.8l-0.5 -1.7l0.9 -1.6l1.6 -1l0.8 -1.6l1.6 -1l1.8 -0.5M373.7 168.3l0.5 -1.7l0.1 -1.8l-0.7 -1.7l-0.3 -1.8l0.2 -1.8l-1.1 -1.5l-1.4 -1.3l-1.5 -1.1l-1.8 -0.6l0.2 -1.8l1.3 -1.3l-0.3 -1.8l0.3 -1.8l1.3 -1.3l-0.3 -1.8l1.5 -1.1l0.6 -1.7l0.7 -1.7l-0.7 -1.7l-0.7 -1.7M371.4 164.4l-6.8 -5.4M362.9 156.6l-1.1 -1.5l-1.4 -1.2l-1.1 -1.5l-0.8 -1.7l-1.5 -1.2l-1.9 -0.1l-0.8 -1.6l0.9 -1.6l1.1 -1.5l0.6 -1.7l-0.9 -1.6l-1.1 -1.5l-0.3 -1.8l-1.2 -1.4l-0.2 -1.8l-1.3 -1.3l0.7 -1.7l0.6 -1.7l0.3 -1.8l-1.2 -1.4l0.2 -1.8l0.1 -1.8l1.2 -1.4l-0.6 -1.7M367 154.5l-1.2 -1.4l-0.2 -1.8l0.7 -1.7l1.6 -1l1.5 -1.1l1.3 -1.3l1.5 -1.2l0.5 -1.7l1.4 -1.2l1.9 -0.4l1.1 -1.5l0.3 -1.8l-0.8 -1.7l0.3 -1.8l0.7 -1.7l-1.1 -1.5l-0.6 -1.7l-1.7 -0.8l0.3 -1.8l0.8 -1.6l0.2 -1.8l-0.3 -1.8l-0.9 -1.6l0 -1.8l0.1 -1.8l0.6 -1.7l1.7 -0.8l0.4 -1.8l1.1 -1.5M366.8 194.5l0.9 -7.2M365.4 184.6l-1.3 -1.3l-1.4 -1.2l-0.6 -1.7l-0.4 -1.8l-1.2 -1.4l-0.2 -1.8l0.8 -1.6l-0.7 -1.7l0.7 -1.7l1.5 -1.2l1.1 -1.5l0.8 -1.6l0.5 -1.7l-0.9 -1.6l-1.4 -1.2l-1.5 -1.1l-1.3 -1.3l-1.7 -0.8l-0.4 -1.8l0 -1.8l1.1 -1.5M370.1 181.7l-1.3 -1.3l-0.8 -1.7l-1.6 -1l-1.3 -1.3l-0.8 -1.6l-0.4 -1.8l1 -1.5l0.9 -1.6l1.3 -1.3l-0.3 -1.8l0.5 -1.7l1.2 -1.4l1.7 -0.8l1.6 -0.9l1.7 -0.7l0.7 -1.7l-1.4 -1.3l0.6 -1.7l1.6 -0.9l1.3 -1.3l0 -1.8l-0.2 -1.8l0.4 -1.8l0.3 -1.8l1.4 -1.2M374.1 188.5l1.7 -4.8l1.2 -4.8M377 178.8l2.8 -6.3M377.4 168.2l0.1 -1.8l1.2 -1.4l0.3 -1.8l0.9 -1.6l0.4 -1.8l1.5 -1.1l0.7 -1.7l-0.1 -1.8l0 -1.8l0.9 -1.6l-1.4 -1.2l-1.2 -1.4l-1.8 -0.5l-1.2 -1.4l-0.1 -1.8l-1.4 -1.2l-1.3 -1.3l-1.3 -1.3l-0.7 -1.7l-0.3 -1.8l1.8 -0.7l0.5 -1.7l0.9 -1.6M381.7 169.3l0.6 -1.7l-1.5 -1.1l-0.3 -1.8l0.8 -1.6l1.1 -1.5l-0.3 -1.8l-1 -1.5l0.2 -1.8l1.1 -1.4l0.7 -1.7l0.8 -1.6l-0.3 -1.8l-0.1 -1.8l-1.1 -1.5l-0.9 -1.6l0.5 -1.7l0.8 -1.6l1.2 -1.4l-0.3 -1.8l0.8 -1.6l1.6 -1l0.6 -1.7l-1.3 -1.3l1 -1.6l0.1 -1.8l-0.5 -1.8l-0.4 -1.8l0.9 -1.6M376.9 182.8l1.2 -3.5l-6.3 -3.5M371.9 175.7l0.3 -6.8M370 165.4l-0.4 -1.8l-0.1 -1.8l-0.5 -1.7l-0.5 -1.8l-1.6 -1l-1.1 -1.5l-0.8 -1.7l-1.7 -0.8l-1.3 -1.3l-0.6 -1.7l0.3 -1.8l0.2 -1.8l1.8 -0.5l1.4 -1.2l-0.1 -1.8l-0.4 -1.8l-0.6 -1.7l0.9 -1.6l1.7 -0.8l-0.2 -1.8l0.4 -1.8l-1.6 -1M373.7 166.7l-0.6 -1.7l1.3 -1.3l0.5 -1.7l1.4 -1.2l-0.1 -1.8l-1.1 -1.5l-0.1 -1.8l-1.2 -1.4l0.4 -1.8l-1.2 -1.4l-1.8 -0.7l-1.7 -0.9l1.3 -1.3l0.5 -1.7l0.4 -1.8l0.3 -1.8l0.2 -1.8l0.1 -1.8l-0.9 -1.6l-1.4 -1.2l1.1 -1.5l0 -1.8l0.9 -1.6l1.3 -1.3M379.4 193.5l-0.2 -5.1l0.7 -5.1M379.8 183.4l-2.1 -6.1M375.6 175.1l0 -1.8l0.6 -1.7l0.5 -1.8l0.2 -1.8l-0.8 -1.6l-1.3 -1.3l-1.5 -1.1l-0.3 -1.8l-1.5 -1.1l-0.3 -1.8l0.9 -1.6l1.4 -1.3l0.1 -1.8l0 -1.8l-0.9 -1.6l-1.5 -1.1l0.3 -1.8l0 -1.8l-0.9 -1.6l-1.2 -1.4l-1 -1.6l-1.2 -1.4M380 174.7l-0.2 -1.8l0.2 -1.8l1 -1.5l-0.8 -1.6l-0.4 -1.8l-1 -1.6l-1.7 -0.7l0.9 -1.6l1.3 -1.3l1.1 -1.5l0.8 -1.6l-0.2 -1.8l0.3 -1.8l-1.3 -1.3l-0.5 -1.7l-0.3 -1.8l0.4 -1.8l-0.4 -1.8l0 -1.8l1.8 -0.5l1 -1.5l1.6 -1l0.6 -1.7l0.7 -1.7M382.4 177.2l-1.5 -4.7l-3.9 -4.7M377 167.9l-0.8 -5.9M375.1 159l-0.3 -1.8l0.2 -1.8l1.3 -1.3l0.7 -1.7l-0.2 -1.8l0.5 -1.7l-0 -1.8l0.5 -1.8l1.5 -1.2l0.1 -1.8l-1 -1.5l-1.5 -1.1l-1.2 -1.4l-1.8 -0.5l0.4 -1.8l0.5 -1.7l0.8 -1.6l1.6 -1l0.5 -1.7l0.6 -1.7l1 -1.5l-1.1 -1.5l-1.7 -0.8l-1.8 -0.6M378.1 158.1l-1.9 -0.3l-1.9 -0.1l-1.9 -0.4l-1.8 -0.6l-1.3 -1.4l-0 -1.8l-0.4 -1.8l1.8 -0.7l1.4 -1.2l0.7 -1.7l-0.5 -1.7l-1.5 -1.1l-1 -1.5l-0.6 -1.7l-1.1 -1.5l-0.2 -1.8l-1.5 -1.2l0.6 -1.7l-0.8 -1.6l-1.5 -1.1l-1.4 -1.3l-0.2 -1.8l-0.7 -1.7M384.2 174.3l-2.8 -3.3l5.6 -3.3M387.1 167.7l-2.7 -8.4M383 153.8l1 -1.6l0.2 -1.8l0 -1.8l0 -1.8l0.6 -1.7l-0.1 -1.8l0.9 -1.6l0.3 -1.8l1.3 -1.3l1.8 -0.5l1.8 -0.6l-0.9 -1.6l0.5 -1.7l1.2 -1.4l-0.4 -1.8l-0.6 -1.7l-0.1 -1.8l-0.1 -1.8l0.8 -1.6l-1.1 -1.5M386.7 156.8l1.3 -1.3l0.9 -1.6l0.7 -1.7l0.4 -1.8l-1.3 -1.3l-1.6 -1l-1.5 -1l0.4 -1.8l1.5 -1.1l1.1 -1.4l1.2 -1.4l-1.7 -0.7l-0.4 -1.8l0.1 -1.8l-0.8 -1.6l-1 -1.5l-0.6 -1.7l-0.5 -1.7l-1.1 -1.5l1.4 -1.2M388.8 183.7l-6.7 -7M380.3 170.9l-0.3 -1.8l-0.9 -1.6l1.1 -1.5l1.1 -1.5l0.2 -1.8l1.2 -1.4l1.2 -1.4l0.4 -1.8l0.7 -1.7l-1.6 -1l0 -1.8l0.1 -1.8l0.7 -1.7l1 -1.5l0.1 -1.8l1.4 -1.2l-0.3 -1.8l-1.1 -1.4l-1.6 -0.9l-0.7 -1.7l-1.3 -1.3l-1.2 -1.4l-1.8 -0.5l-1.6 -0.9l-1.4 -1.2l-1.5 -1.1M383.3 172.6l-0.9 -1.6l0.4 -1.8l1.3 -1.3l1.6 -1l-0.6 -1.7l0.7 -1.7l0.3 -1.8l0.5 -1.7l1.5 -1.1l0.7 -1.7l0.9 -1.6l1.6 -1l0.3 -1.8l0.1 -1.8l-0.1 -1.8l-1.3 -1.3l-0.6 -1.7l0.1 -1.8l-0.2 -1.8l-0.7 -1.7l-0.7 -1.7l1.1 -1.5l0.9 -1.6l0.2 -1.8l0.4 -1.8l1.5 -1.1l1.9 -0.2M387.4 170l-2.7 -7.7M382.7 159.4l1.7 -0.8l1.8 -0.6l1.7 -0.7l0.6 -1.7l-0.6 -1.7l-0.3 -1.8l-0.5 -1.7l-1.6 -0.9l-1.8 -0.6l-1.2 -1.4l-1.9 -0.2l-1.3 -1.3l-0.5 -1.7l-0.9 -1.6l-1.2 -1.4l-0.6 -1.7l0.1 -1.8l0.4 -1.8l0.3 -1.8l-0.3 -1.8l0 -1.8l-0.1 -1.8l0.1 -1.8l-0.8 -1.6M386.3 157.8l1.2 -1.4l-0.3 -1.8l0.5 -1.7l1.5 -1.1l0.2 -1.8l0.7 -1.7l-0.7 -1.7l0.4 -1.8l-0.5 -1.8l-1.5 -1.1l-1.3 -1.3l-1.5 -1.1l-0.1 -1.8l-0.2 -1.8l0.3 -1.8l-1.4 -1.3l-0.3 -1.8l0.4 -1.8l-1 -1.6l-1.9 -0.2l-0.4 -1.8M393 197.5l0.4 -2.8l-4.4 -2.8M389 192l1.3 -8.6M388.5 181l1.4 -1.2l-1.1 -1.5l0.9 -1.6l-1.5 -1.1l-1.8 -0.7l-1.7 -0.8l-1.6 -1l-1.5 -1.1l-0.7 -1.7l-1.3 -1.3l-1 -1.5l0.6 -1.7l1.3 -1.3l-0.1 -1.8l0.5 -1.7l1.1 -1.5l0 -1.8l-0.3 -1.8l0.6 -1.7l-0.7 -1.7M391.9 179.2l-0 -1.8l0.1 -1.8l-1.4 -1.2l-1.4 -1.2l-0.4 -1.8l-1.2 -1.4l-1.8 -0.6l-1.2 -1.4l0.6 -1.7l-0.5 -1.7l0.9 -1.6l1.1 -1.5l1.3 -1.3l-0.7 -1.7l0.1 -1.8l1.7 -0.9l-0.2 -1.8l1.3 -1.3l0.9 -1.6l0.9 -1.6l1 -1.5l1.2 -1.4l1.1 -1.5l0.6 -1.7l-1.1 -1.4l-1.9 -0.1l-0.7 -1.7l-0.5 -1.7l-0.1 -1.8M394.6 184.4l1.1 -5.2l-1.2 -5.2M394.5 174l-8.6 -5.7M384 162.4l0.9 -1.6l-1.2 -1.4l0.8 -1.6l0.4 -1.8l0.4 -1.8l0.5 -1.7l0.9 -1.6l1.3 -1.3l-0.2 -1.8l-1.4 -1.2l-0.3 -1.8l0.5 -1.7l0.2 -1.8l1.6 -1l1.5 -1.2l1.8 -0.7l1.5 -1.1l1.1 -1.5l0.2 -1.8l0.7 -1.7l0.6 -1.7l0.2 -1.8l-0.9 -1.6l-0.4 -1.8l-0.9 -1.6l-0.3 -1.8l0.8 -1.6M387.8 163.3l-1 -1.5l-0.8 -1.6l0.3 -1.8l0.9 -1.6l0.6 -1.7l1.1 -1.5l1.6 -1l0.5 -1.7l0.1 -1.8l0.8 -1.6l0.6 -1.7l0.1 -1.8l0.4 -1.8l1.5 -1.1l1.3 -1.3l1.3 -1.4l1.8 -0.4l1.5 -1.1l1.7 -0.8l0.6 -1.7l-1.3 -1.3l-1.8 -0.4l-1.6 -0.9M398.4 179.9l-1.3 -2.7l-1.2 -2.7M395.8 174.6l2 -5.2M395.8 163.9l0.5 -1.8l0.2 -1.8l0.2 -1.8l0.2 -1.8l-0.6 -1.7l-1.1 -1.5l-1.3 -1.3l0.1 -1.8l1.8 -0.7l-0 -1.8l-1.1 -1.5l-0.7 -1.7l-1.1 -1.5l0.3 -1.8l-1.6 -1l-0.4 -1.8l-0.7 -1.7l-1.3 -1.3l-0.6 -1.7l-1.1 -1.5l-0.9 -1.6l-0.7 -1.7l1.2 -1.4l1.7 -0.8l0.7 -1.7l0.4 -1.8M399.1 165.3l1 -1.5l-0.8 -1.6l-1.7 -0.7l-0.8 -1.7l-0.7 -1.7l0.2 -1.8l-1.4 -1.2l-1.2 -1.4l-0.1 -1.8l0.4 -1.8l1.2 -1.4l1.2 -1.4l0.9 -1.6l0.7 -1.7l1 -1.5l1.1 -1.5l1.2 -1.4l-0.1 -1.8l-0.3 -1.8l-0.1 -1.8l0.8 -1.6l1.2 -1.4l1.2 -1.4l-0.8 -1.6l-0.5 -1.7l-1.7 -0.8l-1.7 -0.9M394.9 181.5l3.5 -8.9M396.9 168.5l0.7 -1.7l0.2 -1.8l1.3 -1.3l1.1 -1.5l0.6 -1.7l-1.2 -1.4l0.8 -1.6l1.2 -1.4l-0.6 -1.7l-0.8 -1.6l0.2 -1.8l-1.3 -1.3l-0.6 -1.7l-0.7 -1.7l-1.2 -1.4l0.1 -1.8l0.4 -1.8l0.2 -1.8l-0.1 -1.8l-0.3 -1.8l-1.2 -1.4l-1.1 -1.5l-1.7 -0.9l-0.7 -1.7l0.9 -1.6l-0.4 -1.8M399.9 168.8l0.1 -1.8l-0 -1.8l-0.3 -1.8l-1 -1.5l-0.4 -1.8l1.3 -1.3l1 -1.5l0.5 -1.8l-0.2 -1.8l0.9 -1.6l1.1 -1.5l1.2 -1.4l-0.7 -1.7l0.3 -1.8l1.1 -1.5l0.2 -1.8l1.3 -1.4l0.2 -1.8l0.2 -1.8l0.6 -1.4l0 -1.1l0 -1.2M404.7 194.8l-2.2 -5l-3.2 -5M399.2 184.8l-1.2 -7.2M395.9 173.7l-0.9 -1.6l-0.7 -1.7l-0.2 -1.8l-1.6 -1l-1.8 -0.5l-0.6 -1.7l-1.4 -1.3l-0 -1.8l1.7 -0.8l0.5 -1.8l-1.4 -1.2l-1.8 -0.6l-0.3 -1.8l-0.2 -1.8l-0.2 -1.8l-0.5 -1.7l-1.8 -0.5l-1.7 -0.7l-1.6 -0.9l-0 -1.8l-0.8 -1.6l-0.3 -1.8M399.5 173.7l1.5 -1.1l0.9 -1.6l1 -1.6l0.2 -1.8l-0.9 -1.6l0.4 -1.8l0.2 -1.8l-0 -1.8l-0.1 -1.8l-0.3 -1.8l1.1 -1.4l0.4 -1.8l-1.4 -1.3l-0.8 -1.6l0.1 -1.8l-0.2 -1.8l0.7 -1.7l1 -1.5l0.9 -1.6l-0.1 -1.8l-0.5 -1.7l-0.5 -1.8M407.6 196.8l0.8 -4.3l-1.3 -4.3M407 188.2l-0.5 -5.8M404.4 179.3l-0.2 -1.8l-0.2 -1.8l-1.4 -1.2l-1.7 -0.8l-1.6 -1l-0.9 -1.6l0.4 -1.8l0.1 -1.8l-1.2 -1.4l-0.7 -1.7l0.4 -1.8l0 -1.8l0.9 -1.6l-1.3 -1.3l0.2 -1.8l0.7 -1.7l0.6 -1.7l-0.4 -1.8l-1.9 -0.4l-1.6 -0.9l0.3 -1.8l-1 -1.5M408.4 177.5l-1.2 -1.4l-0.3 -1.8l0.4 -1.7l0 -1.7l0 -1.6l0 -1l0 -1.8l-0.1 -1.8l0.1 -1.6l0 -1.6l-0.4 -1.8l-0.1 -1.8l-0.6 -1.7l-1.2 -1.4l0.6 -1.7l-0 -1.8l0.9 -1.6l0.8 -0.5l0 -0.7l0 -1.6l0 -1.8l-0.4 -1.8l0.4 -1l0 -1.5l0 -1.7l0 -1.5"/>
<path stroke="#ff3a3a" stroke-width="0.72" d="M313.2 96.3l1.8 -0.9M313.2 96.3l-3.1 0.6M313.2 96.3l-2.4 1.8M313.2 96.3l-2.8 -0.8M310.2 112.8l2.1 0.4M309.6 108l-2.3 -2.6M310.1 107.8l-2.3 -2.6M311 103.5l0.6 -2M318.2 81.4l-2.3 2M318.2 81.4l-2.7 -1.4M318.2 81.4l1.8 1.2M318.2 81.4l-0.4 -2.2M314.4 92.2l3.1 -1.1M317.7 95.3l2.5 2.1M319.4 95l2.1 -2.5M319.8 89.2l1.9 1M317.5 105.3l-2.6 -1.6M317.5 105.3l-1.4 -2.1M317.5 105.3l-0.8 2.3M317.5 105.3l0.4 -2.2M313.3 112.9l0.7 3.1M315.7 118.6l2.4 1.4M319.1 118.9l-2.6 0.9M320.1 119.8l1.8 2M321.5 102.5l-0.9 2.9M321.5 102.5l1.5 2.1M321.5 102.5l0.7 -1.9M321.5 102.5l1 2.7M319.4 107.1l0.7 2M320.7 113.6l1.2 2.4M325 109.3l-2.9 -1.4M315.8 117.1l3.2 -0.8M322.7 108.7l1.9 -0.5M322.7 108.7l-1.2 2.1M322.7 108.7l-2.2 2.2M322.7 108.7l1.7 2.7M326.5 120.9l-3.7 -0.1M327.1 114.3l-1.7 1.8M331.2 116.3l-0.6 -2.6M325.9 124.3l2.3 -3M328.1 96.8l2.6 0.1M328.1 96.8l2.2 -1.1M328.1 96.8l3.1 0.3M328.1 96.8l1.4 -2.1M323.3 111.3l1.3 3.1M332.3 108l-2.3 0.4M326.4 106.2l-0.1 2.1M333.2 114.6l-2.1 -0.4M323.6 97.5l-2.5 -1.7M323.6 97.5l2.5 1.5M323.6 97.5l-3 0.7M323.6 97.5l1.4 -1.5M324.6 103.6l1 2.1M321.3 103.9l3 0.9M320.6 104.5l-1.7 3.3M321.5 109.1l0.5 -2.4M333.7 95.8l-1.9 2.4M333.7 95.8l-2.1 -0.4M333.7 95.8l2.4 1.3M333.7 95.8l0.5 -2.4M334 102.9l1.1 -3M331.8 110.6l1.7 3.3M332.9 108.4l2.9 -0.4M330.6 106.7l-2.4 1.4M331.8 98.7l-1.6 2.4M331.8 98.7l-1.4 -2.5M331.8 98.7l1.8 2.2M331.8 98.7l-2.5 0.9M341.1 109.8l-0.9 -2.7M339.7 114.3l-0.8 3.6M344.9 107.7l2.9 0.1M342.2 103.2l0.9 -2.6M338.9 105.8l-2 1.3M338.9 105.8l0.9 1.9M338.9 105.8l-1.8 -1.8M338.9 105.8l2.5 1.1M336.1 112.7l-2.8 0.6M342 112.5l-0 3.8M335.6 114.9l-2.9 1.4M331.3 120.2l1.9 -2.9M341.1 91.2l-1.9 1M341.1 91.2l-2.3 0.3M341.1 91.2l2 -2.4M341.1 91.2l2.5 0.7M339.1 100l-2.1 0.3M340.5 106.1l3 1.1M336.9 102.8l2.2 -1.9M342.2 103.8l0.7 -2.5M334.5 89.1l1.8 -2.3M334.5 89.1l3.1 0.7M334.5 89.1l-2.4 0.9M334.5 89.1l2.2 -1.5M337.5 102.2l-0.3 -3.2M327 97.7l-2.4 1.1M339.8 100l-1.3 2.4M336.9 104.9l-0.8 3.3M339.8 83.5l-1.7 -2.6M339.8 83.5l2.5 -1.6M339.8 83.5l2.2 -1.3M339.8 83.5l-0.1 -2.3M335.7 97.5l-1.1 -3.2M342.9 100l-1.3 2.3M336 96.7l1.2 -1.6M339.1 101.5l3 -2.2M346 93.8l1.4 1.5M346 93.8l2.9 -0.8M346 93.8l0.1 -2.1M346 93.8l-2.4 -1.1M350.6 100.5l1.8 -2.6M347.7 104.1l0.9 2.1M351 109.1l1.5 1.9M347.4 105.6l2.4 -2.4M348.9 98.3l1.2 -1.6M348.9 98.3l0.1 -2.9M348.9 98.3l-1.1 2M348.9 98.3l-1.7 -1.8M351.1 110l-0.3 -2.9M347.1 113.8l-2 -1.7M352.5 114.3l0.5 -3.1M347.6 114.7l0.4 3.6M352.1 100.2l-0.8 2.3M352.1 100.2l-1.4 1.8M352.1 100.2l-1.2 -2.2M352.1 100.2l-1.5 2M359.9 108.4l-0.6 2.6M357.7 105.3l0.8 2.1M357.6 109.1l2.6 -1.9M355.5 110.5l-2.4 -1.1M355.3 101.5l-2.3 1.7M355.3 101.5l1.4 -1.5M355.3 101.5l-0.2 -3M355.3 101.5l-1.4 1.9M354.6 109.5l1.3 3M349 114.7l2.3 2.1M351.2 118l2.9 -1.3M353.1 119l2.4 -1.6M353.2 94.9l-1.4 -2.5M353.2 94.9l-1.9 -0.8M353.2 94.9l-1.1 -2.1M353.2 94.9l-1.1 -2.3M352 105.3l0 2.2M348.8 111.1l2 -1.1M355.3 110.6l3.5 1.4M348.7 105.8l0.8 -2.7M361.3 97.7l2.3 -1.2M361.3 97.7l-0.6 -2M361.3 97.7l2.4 0.8M361.3 97.7l-1.5 2.1M362 109.5l-1.4 -2M361.5 106.3l-2.7 0M358.7 111.8l2.3 2.6M358.5 104.7l3.7 0.7M365.5 108.3l0.6 2M365.5 108.3l2.1 -0M365.5 108.3l-2.4 1.2M365.5 108.3l-0.1 3.2M368.9 120.6l2.2 -0M377.2 121.9l-3.8 0.3M369.7 114.7l-1.1 -2.2M368.6 122.3l3.5 0.3M367.2 98.9l0.8 -3M367.2 98.9l2.8 0.6M367.2 98.9l2.5 2M367.2 98.9l-1.7 1.8M367.2 113.2l-0.8 3.3M372.1 107l-3.4 -1.2M360.2 109.3l0.3 -2.1M363.9 111.5l1.5 1.6M371.6 93.4l-2.3 1.8M371.6 93.4l1.8 -2.6M371.6 93.4l-1.3 1.7M371.6 93.4l0.2 -2M363.8 105.1l1.4 -1.6M370.8 99.8l3.6 0.7M363.2 102.7l1 3M364.5 103.3l3.1 -2.1M368.1 98.3l-2.1 -0.4M368.1 98.3l2.5 1.5M368.1 98.3l-2 1.1M368.1 98.3l0.7 2.5M370.5 109.3l-1.9 -0.7M366.3 110.1l2.7 0.6M363.5 102.3l2.5 -1.3M366.8 113.9l0.6 -2.5M375.8 87.9l-1.9 -1.1M375.8 87.9l1.1 -1.9M375.8 87.9l-2.8 -0.8M375.8 87.9l-0.2 2.5M379.4 93.6l0.5 -3.1M374.2 97.4l1.4 1.7M376.6 95.4l0.7 3.4M377 103.4l-3.6 0M376.6 105.1l1.6 1.7M376.6 105.1l-2.1 0.4M376.6 105.1l1.5 2.8M376.6 105.1l-0.3 3.1M369.7 111.4l0.9 -2.1M380.4 113.1l-3.3 1.4M375.1 110l-2.4 1M384 117.5l-2.1 0.4M379.9 103.2l2.5 1.6M379.9 103.2l0.4 2.4M379.9 103.2l0.7 2.2M379.9 103.2l2.5 0.6M385.2 115.4l3.2 -0.9M377.5 116.1l-0.8 2.2M375.1 118.2l1.4 -2.6M374.3 117.1l-2.3 -1.5M374.1 101.7l-2.8 0.6M374.1 101.7l2.6 -1.3M374.1 101.7l-2 -0.3M374.1 101.7l0.1 2.1M377.3 117.9l0.3 2.5M378.4 118.3l1.8 2.7M372.5 118.5l-0.2 3.6M371.6 115.8l-2.4 -0.7M381.3 97.8l0.9 -2.7M381.3 97.8l-0.6 -2.3M381.3 97.8l0.4 3.1M381.3 97.8l1.5 -1.5M371.9 110.1l-2.8 -1M368.5 105l2.8 0.7M372.8 112.1l-1.2 -3.5M375.8 105l-2.6 -0.6M392.1 103.3l-1.5 1.7M392.1 103.3l-1.1 -2.2M392.1 103.3l2.9 -0.5M392.1 103.3l1.8 2.3M385.7 116.9l-2.3 -3M387 118.6l0.8 -1.9M383 112.5l0 2.7M380.4 110.6l-1.5 1.9M392.3 91.8l1.7 -1.1M392.3 91.8l-1.5 2.1M392.3 91.8l0.4 -2.1M392.3 91.8l2 0.5M386.7 106.7l-0.1 -2.6M388.3 104.8l-3.4 -0.5M395.2 103l-1.6 3M389.9 105.4l-0.1 -2.3M394.7 95.4l0.6 2.7M394.7 95.4l1.4 2M394.7 95.4l2.7 -1.2M394.7 95.4l2.5 -0.3M390.3 106.9l1.2 1.6M390.4 103.3l-0 -3.6M390.8 100.8l0.8 -3.4M390.5 99.6l-0.8 -3.7M394.6 99.5l-2.3 -0.9M394.6 99.5l1.9 1.4M394.6 99.5l-0.3 -2.6M394.6 99.5l1.4 2.1M393.3 110.1l-1.9 -2M385.6 113.6l0.2 2.1M394.1 113.6l2.6 0.3M394 109.7l-2.1 2.8M398.7 108.5l2.5 -1.7M398.7 108.5l0.8 -2.3M398.7 108.5l2.9 -0.9M398.7 108.5l-0.9 2.5M402 124.1l-1 1.8M398.7 119.6l-2.7 1.6M402.3 125l-1.5 -2.2M395.8 120.3l-1.8 -1.9M406.3 100.1l-0.5 -3.1M406.3 100.1l2 1M406.3 100.1l2.7 -1M406.3 100.1l-2.5 0.2M401.2 112l2.2 1.8M398.7 116.3l-2.7 -0.5M401.7 116.7l-0 -3.2M403.2 109.1l3.6 0.4M399.7 79.3l-0.8 -2.7M399.7 79.3l-1.6 -1.4M399.7 79.3l1.6 -1.4M399.7 79.3l-2.7 0.8M402.8 85.2l1 -2.6M401.3 93.9l2.6 2.1M395.2 93.8l-1.4 -2.7M402.6 87.5l-1.2 2.9M409.6 107.1l-2.1 1.4M409.6 107.1l-2.2 0.8M409.6 107.1l0.1 2.7M409.6 107.1l-2.1 -2M406.7 114.1l-2.2 1.5M407.9 119.3l1 -1.9M405.6 124.3l1.4 -3.3M402.8 119.8l-2.7 0M315.9 192.5l-2.8 -1.5M315.9 192.5l2.1 -1M315.9 192.5l-2.4 -1.3M315.9 192.5l-1.3 2.9M324.5 183l1.2 -2.6M316.7 188.2l2.7 0.4M325.8 182.7l3 -2M316 184.7l1.5 -1.4M313.4 183.8l-0.7 -2.7M313.4 183.8l-1.6 2.5M313.4 183.8l2 -1.8M313.4 183.8l-0.8 -2.2M318.2 171.5l3.2 -1M312.5 170.5l-0.7 2.3M308.1 173.2l-3.3 0.4M309.9 171.7l-0.3 -2.1M318.6 186.2l1.4 1.7M318.6 186.2l1.4 1.5M318.6 186.2l2.5 1.2M318.6 186.2l0.3 -2.2M318.2 170.5l1.8 2M317.4 170.7l0.1 2.1M318.9 172.8l-2.6 -2.2M316 179.7l1.3 -3.2M318.8 188.8l3.1 0.1M318.8 188.8l-2 0.3M318.8 188.8l-2.6 -0.6M318.8 188.8l-1.7 -2.4M311.2 174.4l2.4 -2.4M316.3 172.6l-2.7 0.5M307.9 177.4l-2.4 -0.4M315.3 171.5l-0.3 -2.8M322.8 187.2l1.9 1M322.8 187.2l2.1 -0.1M322.8 187.2l0.1 2.9M322.8 187.2l-3 -0.2M325.7 173.5l2.1 -0.4M331 176.3l2.2 -0.5M325 172.2l3.6 0.4M330.1 180.7l-2.7 -0.8M320.6 189.2l-2 1.9M320.6 189.2l-2.6 -1.4M320.6 189.2l2.7 -1.2M320.6 189.2l-2.5 1.5M323.5 181.4l-3.3 1M322.2 182.8l-2.8 2.4M325.9 178.3l-3.6 1.2M324.1 181.4l0.9 -1.8M324.6 173.5l-3.1 -0.1M324.6 173.5l2.2 2M324.6 173.5l1.5 -2.3M324.6 173.5l2.3 -1.8M331 161.5l2.4 1.1M322.3 165.9l2.6 1M321.3 159.8l-1.9 -1.8M329.4 165.4l2.9 2.2M325.9 186.8l-1.2 -2.9M325.9 186.8l1.8 -1.7M325.9 186.8l-2.6 1.6M325.9 186.8l-2.5 0.5M323.1 171.7l-0.6 -2.9M324.1 172.7l-2.6 -0.6M324.5 182.5l0.9 -2.7M321.2 173.7l0.5 3M336.9 183.5l-1.7 -1.5M336.9 183.5l0.4 2.2M336.9 183.5l-2.3 -0.9M336.9 183.5l2.9 -1M337 168.7l1.4 3.5M340.9 171.9l3.1 -0.5M328.6 170.4l2.3 -0.7M334.5 168l0.8 -3.2M332.8 188.6l1.6 2.3M332.8 188.6l-1.1 -2M332.8 188.6l-2.2 0.5M332.8 188.6l-0.4 -2.6M335.8 180.1l-2.4 0.3M337.8 174.4l0.4 3.3M328.7 176l-1.6 2.9M335.6 175.5l-1.6 2.6M338 170.8l2.6 -0.6M338 170.8l0.4 2.5M338 170.8l-2.3 -0.4M338 170.8l0.2 2.2M336.2 157.8l-2.2 -1.2M340.3 152l1.2 -2.3M331.5 155.6l1.6 1.8M339.6 155l0.4 -3.6M339.4 173.5l1.7 1.3M339.4 173.5l-3 -1.2M339.4 173.5l1 -2M339.4 173.5l-1.1 -2.3M340.3 157.1l-3 -1.5M331.6 159l-0.1 -3.1M337.4 159.8l2.1 -1.2M335 165.3l1.6 -2.7M341.8 192.3l-1.4 1.9M341.8 192.3l-1.4 2.3M341.8 192.3l1.2 -2M341.8 192.3l-2.7 1.6M341.3 180.6l0.5 -2.8M342.6 187.1l2.1 2.5M341.5 187.4l-3.7 -0.2M343.2 177.2l2.8 -0.8M343.5 193.7l-2.1 -1.4M343.5 193.7l-0.3 -2.3M343.5 193.7l-3 0M343.5 193.7l0.7 -2.6M351.2 183.7l-0.1 -2.6M350.5 177.7l-0.5 2.2M352.3 181.1l2.4 -2.4M344.8 182.4l-0.8 -2.2M348.7 181.4l0.7 -1.9M348.7 181.4l2.9 0.3M348.7 181.4l-2.8 0.2M348.7 181.4l0.5 2.8M342.4 172.5l-2.1 2M345.5 174.7l1.7 -1.9M340.9 176.5l1 2.7M347.4 166.5l2.6 -1.1M347 169.2l2.1 -0.2M347 169.2l1.4 -2.5M347 169.2l-1.7 2.1M347 169.2l-1.6 -2.4M348.4 154.9l-3.2 -0.8M349.9 153.6l-2.2 2.8M343.3 159.2l3 1.8M354.1 155.4l-1.1 3M355.3 186.1l-0.6 -2.9M355.3 186.1l-1.1 1.7M355.3 186.1l-3 -0.8M355.3 186.1l-2.4 -0.3M358.8 180.3l3 -0.3M356.8 174l-1.8 1.6M350.7 176.9l-3.2 -0.2M352 172.8l-0.5 -2.5M356.9 184.1l0.1 -2.4M356.9 184.1l-1.1 2.4M356.9 184.1l2.8 0.5M356.9 184.1l0.7 -2.1M353 169.5l3 -0.2M360.7 174.7l1.1 2.5M359.4 178.3l1.4 2.9M357.1 178.1l3.2 -0.4M359 178.8l1.1 -1.8M359 178.8l-2.4 -0.6M359 178.8l1 2.1M359 178.8l2.4 -0.4M359.1 164.2l1.7 1.6M354.3 163.1l3.6 -1M356.5 166l-0.8 1.9M359.2 167.6l-1.3 -2.4M359.4 178.4l2.6 -0.4M359.4 178.4l-1.8 2M359.4 178.4l0.9 -2.4M359.4 178.4l-1.3 2.5M354.2 168.9l-0.1 -3.5M355.1 161.4l-0.6 2.9M352 171.2l-3 -1.6M351.6 163.2l0.6 2.3M368.6 180.4l-0.4 2.1M368.6 180.4l1.5 -2.6M368.6 180.4l2 -1.6M368.6 180.4l-0.2 2.1M373.5 168.6l-1.7 -1.2M369 166.3l1.8 3.3M370.3 168.2l-2 1.7M368 162.1l-3.2 -0.4M371.4 164.4l1 2.2M371.4 164.4l-2.3 0M371.4 164.4l-1.1 2.6M371.4 164.4l-1.6 1.9M359.6 157l-0.3 2.6M368.3 158.1l0.1 3M364.2 155l-2.1 0.7M360.1 159.5l-2.1 -0.7M366.8 194.5l-1.4 2.2M366.8 194.5l-1 2.7M366.8 194.5l-2.8 -0.4M366.8 194.5l-1.4 2.2M369.5 178l-1.7 -1.8M373.2 189.3l2.8 2.2M367.9 185.9l2.5 -0.2M370.4 183.3l0.3 3.1M377 178.8l-1.4 -2.8M377 178.8l1.7 2.4M377 178.8l-2.2 -0.9M377 178.8l1.8 -1.2M379.6 163.6l0.7 2.8M380.5 163.6l2.2 2.3M387.9 172.2l2.7 2.4M378.8 164l-3.5 1.2M371.9 175.7l2.3 1.6M371.9 175.7l2.7 0.7M371.9 175.7l0.4 -2.4M371.9 175.7l1.8 2.4M366.1 160.3l0.3 2.3M377.2 169.9l1.8 -0.8M373.4 164.3l1.4 -2.2M366 164.9l2.5 1.5M379.8 183.4l2.7 1M379.8 183.4l-2 1M379.8 183.4l2.1 -1.4M379.8 183.4l-0.4 2.6M382.1 167.7l-0.8 -3.2M372.9 178.9l-2.9 -2.1M376.7 176.3l0.2 -3.2M376.6 176.2l3.2 1M377 167.9l2.3 -0.7M377 167.9l2.8 1.3M377 167.9l-1.5 -1.5M377 167.9l2.3 -1.3M381.9 153.9l-3.2 -1M372.5 154.8l-2.8 -0.2M378.1 152l2.5 2.5M377.4 154.5l-2.1 -2.1M387.1 167.7l1.8 -2.3M387.1 167.7l1.1 -2.8M387.1 167.7l0.6 -2.3M387.1 167.7l1.8 -1.2M384.3 152.6l3.6 0.6M388.6 157.1l-2.5 0M382.1 151.5l0.8 -2.6M377 153.5l1.4 2.7M388.8 183.7l-2.6 -1.4M388.8 183.7l2.2 2.2M388.8 183.7l-1.2 2.6M388.8 183.7l-1.4 -1.9M377.9 168.7l-2.8 0.7M381.9 168.3l-2.4 -1.9M380 169.6l-1.1 3M381.9 170.3l0.8 -2.3M387.4 170l-0 -2.7M387.4 170l2.8 1.4M387.4 170l0.1 2.4M387.4 170l-2.1 0.1M382.5 153l-3 -2.3M381.3 155.3l0.5 2.7M382 161.8l-2.4 -1.7M383.1 159.6l0.4 2.6M389 192l2.1 0.4M389 192l-1.9 -1.9M389 192l2.3 0.6M389 192l-1.5 1.5M395.6 183.2l-1 -3.2M393.6 179.8l0.6 -3.1M392.3 182.5l2.1 -0.6M386.8 181.2l3.1 -1.9M394.5 174l2.1 1.6M394.5 174l1.7 -2.1M394.5 174l-2.2 1M394.5 174l1.2 -2.1M385.6 170.2l-2.2 0.2M385.2 170.1l-3.6 -0M388 165l2 -2.4M385.8 167.2l-3 -1.4M395.8 174.6l0.5 -2M395.8 174.6l0 -2.9M395.8 174.6l-0.7 -2.9M395.8 174.6l-2 -0.3M396 163.9l0.4 3.4M393.3 160.2l1.2 -3.1M394.1 164.2l2 1.5M398.3 165.9l-2.1 1.3M394.9 181.5l2.4 0.5M394.9 181.5l-0.9 2M394.9 181.5l2.4 0.9M394.9 181.5l-1.5 1.6M399.3 165.1l1.3 1.6M400.9 173.5l-3.1 1.2M397.4 164.8l2 0.3M407.1 169.2l2.6 -2.3M399.2 184.8l2.3 -0.8M399.2 184.8l-0.7 2.8M399.2 184.8l-2 -1.9M399.2 184.8l1.3 2.5M394.9 179.2l0.7 3M399 170.2l1.4 2.9M404.9 175.2l-2.2 -0.7M394.5 171l0.6 2.4M407 188.2l-1.7 1.6M407 188.2l2.6 -0.1M407 188.2l0.1 2.8M407 188.2l-0.5 2.5M408.8 182.7l-3.7 -0.6M405.8 181.4l-2.7 2.5M413.9 180.6l1.3 2.7M413.8 173l2.7 -2.3"/>
<path stroke="#8a9a3a" stroke-width="1.0" d="M312.3 96.3l1.8 0M317.3 81.4l1.8 0M316.6 105.3l1.8 0M320.6 102.5l1.8 0M321.8 108.7l1.8 0M327.2 96.8l1.8 0M322.7 97.5l1.8 0M332.8 95.8l1.8 0M330.9 98.7l1.8 0M338 105.8l1.8 0M340.2 91.2l1.8 0M333.6 89.1l1.8 0M338.9 83.5l1.8 0M345.1 93.8l1.8 0M348 98.3l1.8 0M351.2 100.2l1.8 0M354.4 101.5l1.8 0M352.3 94.9l1.8 0M360.4 97.7l1.8 0M364.6 108.3l1.8 0M366.3 98.9l1.8 0M370.7 93.4l1.8 0M367.2 98.3l1.8 0M374.9 87.9l1.8 0M375.7 105.1l1.8 0M379 103.2l1.8 0M373.2 101.7l1.8 0M380.4 97.8l1.8 0M391.2 103.3l1.8 0M391.4 91.8l1.8 0M393.8 95.4l1.8 0M393.7 99.5l1.8 0M397.8 108.5l1.8 0M405.4 100.1l1.8 0M398.8 79.3l1.8 0M408.7 107.1l1.8 0M315 192.5l1.8 0M312.5 183.8l1.8 0M317.7 186.2l1.8 0M317.9 188.8l1.8 0M321.9 187.2l1.8 0M319.7 189.2l1.8 0M323.7 173.5l1.8 0M325 186.8l1.8 0M336 183.5l1.8 0M331.9 188.6l1.8 0M337.1 170.8l1.8 0M338.5 173.5l1.8 0M340.9 192.3l1.8 0M342.6 193.7l1.8 0M347.8 181.4l1.8 0M346.1 169.2l1.8 0M354.4 186.1l1.8 0M356 184.1l1.8 0M358.1 178.8l1.8 0M358.5 178.4l1.8 0M367.7 180.4l1.8 0M370.5 164.4l1.8 0M365.9 194.5l1.8 0M376.1 178.8l1.8 0M371 175.7l1.8 0M378.9 183.4l1.8 0M376.1 167.9l1.8 0M386.2 167.7l1.8 0M387.9 183.7l1.8 0M386.5 170l1.8 0M388.1 192l1.8 0M393.6 174l1.8 0M394.9 174.6l1.8 0M394 181.5l1.8 0M398.3 184.8l1.8 0M406.1 188.2l1.8 0.0"/>
<path stroke="#3030ff" stroke-width="0.9" d="M315.1 76.3l1.7 1.9M315.1 76.3l-2.5 0.5M315.1 76.3l0.7 -2.2M316.2 99.2l1.9 -0.8M316.2 99.2l-0.3 2M316.2 99.2l-1.7 -1.3M320.7 94l0.5 -2.3M320.7 94l1.6 1.5M320.7 94l-1.7 0.5M322.3 102.2l2 -0.6M322.3 102.2l-0.5 2.2M322.3 102.2l-1.7 -1.6M325.4 86.1l2.5 0.6M325.4 86.1l-1.3 1.4M325.4 86.1l-0.7 -2.2M330.6 89.4l-1.8 -0.5M330.6 89.4l1.5 -1.5M330.6 89.4l0.5 1.9M332.7 89l1.9 0.8M332.7 89l-1.8 1.3M332.7 89l-0.3 -2.3M335.2 96.6l1.1 -2.2M335.2 96.6l1.3 1.9M335.2 96.6l-2 0.1M342 83.8l-1.9 -0.3M342 83.8l1.6 -1.9M342 83.8l0.7 2M344 75.4l-0.5 -1.9M344 75.4l1.8 0.5M344 75.4l-1.7 1.7M350.5 91.2l-2.4 -0.9M350.5 91.2l1.7 -1.3M350.5 91.2l0.4 2.3M351.7 90.5l-1.9 -1M351.7 90.5l1.8 -1.2M351.7 90.5l0.1 2.3M357.2 88.2l1 -2.3M357.2 88.2l1.6 2.1M357.2 88.2l-2.3 0.3M363.3 102l-0.9 -2.4M363.3 102l2.4 0.4M363.3 102l-1.4 1.7M366.1 92l1.1 1.6M366.1 92l-1.9 0.2M366.1 92l1 -2.1M368 88.3l1.8 -1.3M368 88.3l0.2 2.1M368 88.3l-2.2 -1M373.4 81l1.9 -0.6M373.4 81l-0.6 2.4M373.4 81l-1.4 -1.3M376.3 95.6l1 2.1M376.3 95.6l-2.3 -0.2M376.3 95.6l1.4 -1.9M378.6 92.7l0.4 -2M378.6 92.7l1.4 1.2M378.6 92.7l-2 0.7M381.3 93l-1.2 2.2M381.3 93l-1.1 -1.9M381.3 93l2.4 -0.1M386 90l-0 2.5M386 90l-1.5 -0.9M386 90l2 -1.1M388.7 98.1l2.2 0.9M388.7 98.1l-1.5 1.2M388.7 98.1l-0.3 -2.3M389.5 83.7l0.3 2.2M389.5 83.7l-2.1 -0.9M389.5 83.7l1.5 -1.2M391.9 89.1l1.8 -0.1M391.9 89.1l-1.1 2M391.9 89.1l-1.1 -1.8M398.9 100.9l2 -0.5M398.9 100.9l-0.6 2M398.9 100.9l-1.6 -1.7M401.8 94.3l1.8 -0.1M401.8 94.3l-0.9 1.7M401.8 94.3l-1 -1.6M402.7 73.8l1.6 1.9M402.7 73.8l-2.2 0.4M402.7 73.8l0.8 -2.2M406.8 98.7l2.2 -0.2M406.8 98.7l-1 2.2M406.8 98.7l-1.1 -1.5M316.5 193.5l0.6 2.1M316.5 193.5l-2.4 -0.6M316.5 193.5l1.8 -1.9M319.4 199.3l0 2.4M319.4 199.3l-1.9 -1.1M319.4 199.3l1.8 -1.1M321.2 195.9l1.5 -1.3M321.2 195.9l0.4 2M321.2 195.9l-1.9 -0.6M324.8 196.5l1.2 -1.8M324.8 196.5l0.9 1.9M324.8 196.5l-2.1 -0.2M327.2 183.8l0.5 2.1M327.2 183.8l-1.9 -0.6M327.2 183.8l1.9 -1.7M333.7 191.1l-1.9 -1.3M333.7 191.1l1.8 -0.9M333.7 191.1l-0.1 2.2M335.2 195l1.8 1.6M335.2 195l-2.4 0.8M335.2 195l0.4 -2M341.7 183.1l-2.5 -0.3M341.7 183.1l1.2 -1.6M341.7 183.1l1 2.3M343.2 203.1l1.8 -0.2M343.2 203.1l-0.9 2.1M343.2 203.1l-1.5 -2M349.7 187.1l0.1 2.2M349.7 187.1l-2.3 -1.1M349.7 187.1l1.9 -1.3M353.3 179.5l-1.6 -1.2M353.3 179.5l1.7 -0.8M353.3 179.5l-0.3 2.3M354.9 195.8l0.8 2.1M354.9 195.8l-2 -0.3M354.9 195.8l1.6 -1.9M356.6 192.5l-1.6 -1.7M356.6 192.5l2.5 -0.6M356.6 192.5l-0.6 1.9M361.2 184.7l-1.9 1.1M361.2 184.7l-0 -2.3M361.2 184.7l1.8 1M365.7 187.8l-1.3 1.3M365.7 187.8l-0.5 -1.8M365.7 187.8l2.3 0.6M374.1 188.5l-1.8 -1.3M374.1 188.5l1.9 -0.8M374.1 188.5l-0.2 2.3M376.9 182.8l-1.7 0.9M376.9 182.8l0.1 -2M376.9 182.8l1.5 1M379.4 193.5l-1.8 0.6M379.4 193.5l0.4 -2.2M379.4 193.5l1.6 1.3M382.4 177.2l-2 -0.3M382.4 177.2l1.5 -1.9M382.4 177.2l0.8 2M384.2 174.3l-0.3 -2.5M384.2 174.3l2.4 1M384.2 174.3l-1.5 1.1M393 197.5l1.2 1.5M393 197.5l-1.9 0.3M393 197.5l0.7 -1.8M394.6 184.4l1.2 1.5M394.6 184.4l-2.6 0.5M394.6 184.4l0.7 -2M398.4 179.9l-0.1 1.8M398.4 179.9l-1.7 -1.2M398.4 179.9l2.1 -1M404.7 194.8l-0.4 -2.5M404.7 194.8l2.1 0.8M404.7 194.8l-1.9 1.6M407.6 196.8l-0.3 2.4M407.6 196.8l-1.9 -1.5M407.6 196.8l2 -0.8"/>
</g>
</g>
<circle cx="121.3" cy="48.5" r="2.4" fill="url(#gC)"/>
<circle cx="124.4" cy="43.7" r="2.4" fill="url(#gC)"/>
<circle cx="125.7" cy="45.7" r="2.4" fill="url(#gC)"/>
<circle cx="129.9" cy="45.7" r="2.4" fill="url(#gC)"/>
<circle cx="127.8" cy="41.6" r="2.4" fill="url(#gC)"/>
<circle cx="125" cy="41.6" r="2.4" fill="url(#gC)"/>
<circle cx="128.5" cy="38.8" r="2.4" fill="url(#gC)"/>
<circle cx="129.2" cy="34.5" r="2.4" fill="url(#gC)"/>
<circle cx="134.7" cy="32.6" r="2.4" fill="url(#gC)"/>
<circle cx="138.2" cy="33.6" r="2.4" fill="url(#gC)"/>
<circle cx="136.8" cy="36.6" r="2.4" fill="url(#gC)"/>
<circle cx="132" cy="36.8" r="2.4" fill="url(#gN)"/>
<circle cx="128.5" cy="51.3" r="2.4" fill="url(#gN)"/>
<circle cx="134.7" cy="40.6" r="2.4" fill="url(#gO)"/>
<circle cx="127.1" cy="53.6" r="2.4" fill="url(#gO)"/>
<circle cx="126.8" cy="32.8" r="2.4" fill="url(#gF)"/>
<circle cx="347" cy="121.6" r="2.9" fill="url(#gCl)"/>
<circle cx="350.7" cy="120.3" r="2.4" fill="url(#gC)"/>
<circle cx="354" cy="119.9" r="2.4" fill="url(#gC)"/>
<circle cx="356.6" cy="119.1" r="2.4" fill="url(#gC)"/>
<circle cx="358.2" cy="115.4" r="2.4" fill="url(#gO)"/>
<circle cx="353.2" cy="124.1" r="2.4" fill="url(#gO)"/>
<circle cx="361.5" cy="119.5" r="2.4" fill="url(#gN)"/>
<circle cx="364.9" cy="117.4" r="2.4" fill="url(#gC)"/>
<circle cx="366.5" cy="119.5" r="2.4" fill="url(#gC)"/>
<circle cx="363.2" cy="122.4" r="2.4" fill="url(#gC)"/>
<circle cx="364.9" cy="124.9" r="2.4" fill="url(#gC)"/>
<circle cx="366.5" cy="124.1" r="2.4" fill="url(#gN)"/>
<circle cx="370.7" cy="124.1" r="2.4" fill="url(#gC)"/>
<circle cx="375.2" cy="123.7" r="2.4" fill="url(#gC)"/>
<circle cx="377.3" cy="127.4" r="2.4" fill="url(#gC)"/>
<circle cx="375.2" cy="130.7" r="2.4" fill="url(#gC)"/>
<circle cx="370.7" cy="130.3" r="2.4" fill="url(#gC)"/>
<circle cx="369" cy="127.4" r="2.4" fill="url(#gC)"/>
<circle cx="373.2" cy="119.9" r="2.4" fill="url(#gF)"/>
<rect x="104.7" y="27.2" width="98.0" height="182.3" fill="none" stroke="#858585" stroke-width="1.5"/>
<rect x="310.5" y="27.2" width="97.1" height="182.8" fill="none" stroke="#858585" stroke-width="1.5"/>
<rect x="53" y="22" width="365" height="255" fill="none" stroke="#000" stroke-width="1.8"/>
<line x1="53.00" y1="277.00" x2="60.00" y2="277.00" stroke="#000" stroke-width="1.2" />
<line x1="53.00" y1="266.38" x2="57.00" y2="266.38" stroke="#000" stroke-width="1.2" />
<line x1="53.00" y1="255.75" x2="60.00" y2="255.75" stroke="#000" stroke-width="1.2" />
<line x1="53.00" y1="245.12" x2="57.00" y2="245.12" stroke="#000" stroke-width="1.2" />
<line x1="53.00" y1="234.50" x2="60.00" y2="234.50" stroke="#000" stroke-width="1.2" />
<line x1="53.00" y1="223.88" x2="57.00" y2="223.88" stroke="#000" stroke-width="1.2" />
<line x1="53.00" y1="213.25" x2="60.00" y2="213.25" stroke="#000" stroke-width="1.2" />
<line x1="53.00" y1="202.62" x2="57.00" y2="202.62" stroke="#000" stroke-width="1.2" />
<line x1="53.00" y1="192.00" x2="60.00" y2="192.00" stroke="#000" stroke-width="1.2" />
<line x1="53.00" y1="181.38" x2="57.00" y2="181.38" stroke="#000" stroke-width="1.2" />
<line x1="53.00" y1="170.75" x2="60.00" y2="170.75" stroke="#000" stroke-width="1.2" />
<line x1="53.00" y1="160.12" x2="57.00" y2="160.12" stroke="#000" stroke-width="1.2" />
<line x1="53.00" y1="149.50" x2="60.00" y2="149.50" stroke="#000" stroke-width="1.2" />
<line x1="53.00" y1="138.88" x2="57.00" y2="138.88" stroke="#000" stroke-width="1.2" />
<line x1="53.00" y1="128.25" x2="60.00" y2="128.25" stroke="#000" stroke-width="1.2" />
<line x1="53.00" y1="117.62" x2="57.00" y2="117.62" stroke="#000" stroke-width="1.2" />
<line x1="53.00" y1="107.00" x2="60.00" y2="107.00" stroke="#000" stroke-width="1.2" />
<line x1="53.00" y1="96.38" x2="57.00" y2="96.38" stroke="#000" stroke-width="1.2" />
<line x1="53.00" y1="85.75" x2="60.00" y2="85.75" stroke="#000" stroke-width="1.2" />
<line x1="53.00" y1="75.12" x2="57.00" y2="75.12" stroke="#000" stroke-width="1.2" />
<line x1="53.00" y1="64.50" x2="60.00" y2="64.50" stroke="#000" stroke-width="1.2" />
<line x1="53.00" y1="53.88" x2="57.00" y2="53.88" stroke="#000" stroke-width="1.2" />
<line x1="53.00" y1="43.25" x2="60.00" y2="43.25" stroke="#000" stroke-width="1.2" />
<line x1="53.00" y1="32.62" x2="57.00" y2="32.62" stroke="#000" stroke-width="1.2" />
<line x1="53.00" y1="22.00" x2="60.00" y2="22.00" stroke="#000" stroke-width="1.2" />
<text x="49.60" y="281.10" font-size="11.5" text-anchor="end" fill="#000" font-weight="normal" >0</text>
<text x="49.60" y="238.60" font-size="11.5" text-anchor="end" fill="#000" font-weight="normal" >10</text>
<text x="49.60" y="196.10" font-size="11.5" text-anchor="end" fill="#000" font-weight="normal" >20</text>
<text x="49.60" y="153.60" font-size="11.5" text-anchor="end" fill="#000" font-weight="normal" >30</text>
<text x="49.60" y="111.10" font-size="11.5" text-anchor="end" fill="#000" font-weight="normal" >40</text>
<text x="49.60" y="68.60" font-size="11.5" text-anchor="end" fill="#000" font-weight="normal" >50</text>
<text x="49.60" y="26.10" font-size="11.5" text-anchor="end" fill="#000" font-weight="normal" >60</text>
<line x1="53.00" y1="277.00" x2="53.00" y2="270.50" stroke="#000" stroke-width="1.2" />
<line x1="89.50" y1="277.00" x2="89.50" y2="273.80" stroke="#000" stroke-width="1.2" />
<line x1="126.00" y1="277.00" x2="126.00" y2="270.50" stroke="#000" stroke-width="1.2" />
<line x1="162.50" y1="277.00" x2="162.50" y2="273.80" stroke="#000" stroke-width="1.2" />
<line x1="199.00" y1="277.00" x2="199.00" y2="270.50" stroke="#000" stroke-width="1.2" />
<line x1="235.50" y1="277.00" x2="235.50" y2="273.80" stroke="#000" stroke-width="1.2" />
<line x1="272.00" y1="277.00" x2="272.00" y2="270.50" stroke="#000" stroke-width="1.2" />
<line x1="308.50" y1="277.00" x2="308.50" y2="273.80" stroke="#000" stroke-width="1.2" />
<line x1="345.00" y1="277.00" x2="345.00" y2="270.50" stroke="#000" stroke-width="1.2" />
<line x1="381.50" y1="277.00" x2="381.50" y2="273.80" stroke="#000" stroke-width="1.2" />
<line x1="418.00" y1="277.00" x2="418.00" y2="270.50" stroke="#000" stroke-width="1.2" />
<text x="54.20" y="288.70" font-size="11.5" text-anchor="middle" fill="#000" font-weight="normal" >0</text>
<text x="126.00" y="288.70" font-size="11.5" text-anchor="middle" fill="#000" font-weight="normal" >100</text>
<text x="199.00" y="288.70" font-size="11.5" text-anchor="middle" fill="#000" font-weight="normal" >200</text>
<text x="272.00" y="288.70" font-size="11.5" text-anchor="middle" fill="#000" font-weight="normal" >300</text>
<text x="345.00" y="288.70" font-size="11.5" text-anchor="middle" fill="#000" font-weight="normal" >400</text>
<text x="418.00" y="288.70" font-size="11.5" text-anchor="middle" fill="#000" font-weight="normal" >500</text>
<text x="239.50" y="304.60" font-size="16.5" text-anchor="middle" fill="#000" font-weight="normal" >Time (ns)</text>
<text x="0.00" y="0.00" font-size="16.5" text-anchor="middle" fill="#000" font-weight="normal" transform="translate(29.4,148.4) rotate(-90)">Distance (Å)</text>
<text x="1.10" y="347.20" font-size="24" text-anchor="start" fill="#000" font-weight="bold" >B</text>
<polyline points="67.6,461.0 68.5,461.0 69.4,461.0 70.4,461.0 71.3,461.0 72.2,461.0 73.1,461.0 74.0,461.0 74.9,461.0 75.9,461.0 76.8,461.0 77.7,461.0 78.6,461.0 79.5,461.0 80.5,461.0 81.4,461.0 82.3,461.0 83.2,461.0 84.1,461.0 85.1,461.0 86.0,461.0 86.9,461.0 87.8,461.0 88.7,461.0 89.6,461.0 90.6,461.0 91.5,461.0 92.4,461.0 93.3,461.0 94.2,461.0 95.2,461.0 96.1,461.0 97.0,461.0 97.9,461.0 98.8,461.0 99.8,461.0 100.7,461.0 101.6,461.0 102.5,461.0 103.4,461.0 104.3,461.0 105.3,461.0 106.2,461.0 107.1,461.0 108.0,461.0 108.9,461.0 109.9,461.0 110.8,461.0 111.7,461.0 112.6,461.0 113.5,461.0 114.5,461.0 115.4,461.0 116.3,461.0 117.2,461.0 118.1,461.0 119.0,461.0 120.0,461.0 120.9,461.0 121.8,461.0 122.7,461.0 123.6,461.0 124.6,461.0 125.5,461.0 126.4,461.0 127.3,461.0 128.2,461.0 129.2,461.0 130.1,461.0 131.0,461.0 131.9,461.0 132.8,461.0 133.8,461.0 134.7,461.0 135.6,461.0 136.5,461.0 137.4,461.0 138.3,461.0 139.3,461.0 140.2,461.0 141.1,461.0 142.0,461.0 142.9,461.0 143.9,461.0 144.8,461.0 145.7,461.0 146.6,461.0 147.5,461.0 148.4,461.0 149.4,461.0 150.3,461.0 151.2,461.0 152.1,461.0 153.0,461.0 154.0,461.0 154.9,461.0 155.8,461.0 156.7,461.0 157.6,461.0 158.6,461.0 159.5,461.0 160.4,461.0 161.3,461.0 162.2,461.0 163.1,461.0 164.1,461.0 165.0,461.0 165.9,461.0 166.8,461.0 167.7,461.0 168.7,461.0 169.6,461.0 170.5,461.0 171.4,461.0 172.3,461.0 173.3,461.0 174.2,461.0 175.1,461.0 176.0,461.0 176.9,461.0 177.8,461.0 178.8,461.0 179.7,461.0 180.6,461.0 181.5,461.0 182.4,461.0 183.4,461.0 184.3,461.0 185.2,461.0 186.1,461.0 187.0,461.0 188.0,461.0 188.9,461.0 189.8,461.0 190.7,461.0 191.6,461.0 192.5,461.0 193.5,461.0 194.4,461.0 195.3,461.0 196.2,461.0 197.1,461.0 198.1,461.0 199.0,461.0 199.9,461.0 200.8,461.0 201.7,461.0 202.7,461.0 203.6,461.0 204.5,461.0 205.4,461.0 206.3,461.0 207.2,461.0 208.2,461.0 209.1,461.0 210.0,460.9 210.9,460.9 211.8,460.9 212.8,460.8 213.7,460.8 214.6,460.7 215.5,460.6 216.4,460.5 217.4,460.3 218.3,460.1 219.2,459.9 220.1,459.6 221.0,459.2 221.9,458.8 222.9,458.2 223.8,457.6 224.7,456.9 225.6,456.0 226.5,455.1 227.5,454.0 228.4,452.9 229.3,451.6 230.2,450.2 231.1,448.8 232.1,447.3 233.0,445.8 233.9,444.3 234.8,442.8 235.7,441.4 236.6,440.1 237.6,438.9 238.5,437.9 239.4,437.1 240.3,436.5 241.2,436.2 242.2,436.1 243.1,436.2 244.0,436.6 244.9,437.2 245.8,438.0 246.8,439.0 247.7,440.2 248.6,441.5 249.5,442.9 250.4,444.4 251.3,445.9 252.3,447.4 253.2,448.9 254.1,450.3 255.0,451.7 255.9,453.0 256.9,454.1 257.8,455.2 258.7,456.1 259.6,456.9 260.5,457.7 261.5,458.3 262.4,458.8 263.3,459.2 264.2,459.6 265.1,459.9 266.0,460.2 267.0,460.4 267.9,460.5 268.8,460.6 269.7,460.7 270.6,460.8 271.6,460.9 272.5,460.9 273.4,460.9 274.3,460.9 275.2,461.0 276.2,461.0 277.1,461.0 278.0,461.0 278.9,461.0 279.8,461.0 280.8,461.0 281.7,461.0 282.6,461.0 283.5,461.0 284.4,461.0 285.3,461.0 286.3,461.0 287.2,461.0 288.1,461.0 289.0,461.0 289.9,461.0 290.9,461.0 291.8,461.0 292.7,461.0 293.6,461.0 294.5,461.0 295.4,461.0 296.4,461.0 297.3,461.0 298.2,461.0 299.1,461.0 300.0,461.0 301.0,461.0 301.9,461.0 302.8,461.0 303.7,461.0 304.6,461.0 305.6,461.0 306.5,461.0 307.4,461.0 308.3,461.0 309.2,461.0 310.1,461.0 311.1,461.0 312.0,461.0 312.9,461.0 313.8,461.0 314.7,461.0 315.7,461.0 316.6,461.0 317.5,461.0 318.4,461.0 319.3,461.0 320.3,461.0 321.2,461.0 322.1,461.0 323.0,461.0 323.9,461.0 324.9,461.0 325.8,461.0 326.7,461.0 327.6,461.0 328.5,461.0 329.4,461.0 330.4,461.0 331.3,461.0 332.2,461.0 333.1,461.0 334.0,461.0 335.0,461.0 335.9,461.0 336.8,461.0 337.7,461.0 338.6,461.0 339.5,461.0 340.5,461.0 341.4,461.0 342.3,461.0 343.2,461.0 344.1,461.0 345.1,461.0 346.0,461.0 346.9,461.0 347.8,461.0 348.7,461.0 349.7,461.0 350.6,461.0 351.5,461.0 352.4,461.0 353.3,461.0 354.2,461.0 355.2,461.0 356.1,461.0 357.0,461.0 357.9,461.0 358.8,461.0 359.8,461.0 360.7,461.0 361.6,461.0" fill="none" stroke="#10f0ff" stroke-width="1.8" stroke-linejoin="round" />
<polyline points="67.6,461.0 68.5,461.0 69.4,461.0 70.4,461.0 71.3,461.0 72.2,461.0 73.1,461.0 74.0,461.0 74.9,461.0 75.9,461.0 76.8,461.0 77.7,461.0 78.6,461.0 79.5,461.0 80.5,461.0 81.4,461.0 82.3,461.0 83.2,461.0 84.1,461.0 85.1,461.0 86.0,461.0 86.9,461.0 87.8,461.0 88.7,461.0 89.6,461.0 90.6,461.0 91.5,461.0 92.4,461.0 93.3,461.0 94.2,461.0 95.2,461.0 96.1,461.0 97.0,461.0 97.9,461.0 98.8,461.0 99.8,461.0 100.7,461.0 101.6,461.0 102.5,461.0 103.4,461.0 104.3,461.0 105.3,461.0 106.2,461.0 107.1,461.0 108.0,461.0 108.9,461.0 109.9,461.0 110.8,461.0 111.7,461.0 112.6,461.0 113.5,461.0 114.5,461.0 115.4,461.0 116.3,461.0 117.2,461.0 118.1,461.0 119.0,461.0 120.0,461.0 120.9,461.0 121.8,461.0 122.7,461.0 123.6,461.0 124.6,461.0 125.5,461.0 126.4,461.0 127.3,461.0 128.2,461.0 129.2,461.0 130.1,461.0 131.0,461.0 131.9,461.0 132.8,461.0 133.8,461.0 134.7,461.0 135.6,461.0 136.5,461.0 137.4,461.0 138.3,461.0 139.3,461.0 140.2,461.0 141.1,461.0 142.0,461.0 142.9,461.0 143.9,461.0 144.8,461.0 145.7,461.0 146.6,461.0 147.5,461.0 148.4,461.0 149.4,461.0 150.3,461.0 151.2,461.0 152.1,461.0 153.0,461.0 154.0,461.0 154.9,461.0 155.8,461.0 156.7,461.0 157.6,461.0 158.6,461.0 159.5,461.0 160.4,461.0 161.3,461.0 162.2,461.0 163.1,461.0 164.1,461.0 165.0,461.0 165.9,461.0 166.8,461.0 167.7,461.0 168.7,461.0 169.6,461.0 170.5,461.0 171.4,461.0 172.3,461.0 173.3,461.0 174.2,461.0 175.1,461.0 176.0,461.0 176.9,461.0 177.8,461.0 178.8,461.0 179.7,461.0 180.6,461.0 181.5,461.0 182.4,461.0 183.4,461.0 184.3,461.0 185.2,461.0 186.1,461.0 187.0,461.0 188.0,461.0 188.9,461.0 189.8,461.0 190.7,461.0 191.6,461.0 192.5,461.0 193.5,461.0 194.4,461.0 195.3,461.0 196.2,461.0 197.1,460.9 198.1,460.9 199.0,460.9 199.9,460.9 200.8,460.8 201.7,460.8 202.7,460.8 203.6,460.7 204.5,460.6 205.4,460.5 206.3,460.4 207.2,460.3 208.2,460.2 209.1,460.0 210.0,459.8 210.9,459.6 211.8,459.3 212.8,459.0 213.7,458.6 214.6,458.2 215.5,457.7 216.4,457.2 217.4,456.6 218.3,455.9 219.2,455.2 220.1,454.4 221.0,453.5 221.9,452.5 222.9,451.5 223.8,450.4 224.7,449.2 225.6,447.9 226.5,446.6 227.5,445.2 228.4,443.7 229.3,442.3 230.2,440.7 231.1,439.2 232.1,437.7 233.0,436.1 233.9,434.6 234.8,433.2 235.7,431.8 236.6,430.5 237.6,429.3 238.5,428.1 239.4,427.2 240.3,426.3 241.2,425.6 242.2,425.1 243.1,424.7 244.0,424.5 244.9,424.5 245.8,424.6 246.8,424.9 247.7,425.4 248.6,426.1 249.5,426.9 250.4,427.9 251.3,428.9 252.3,430.1 253.2,431.4 254.1,432.8 255.0,434.2 255.9,435.7 256.9,437.2 257.8,438.8 258.7,440.3 259.6,441.8 260.5,443.3 261.5,444.8 262.4,446.2 263.3,447.6 264.2,448.8 265.1,450.1 266.0,451.2 267.0,452.3 267.9,453.3 268.8,454.2 269.7,455.0 270.6,455.7 271.6,456.4 272.5,457.0 273.4,457.6 274.3,458.1 275.2,458.5 276.2,458.9 277.1,459.2 278.0,459.5 278.9,459.7 279.8,459.9 280.8,460.1 281.7,460.3 282.6,460.4 283.5,460.5 284.4,460.6 285.3,460.7 286.3,460.7 287.2,460.8 288.1,460.8 289.0,460.9 289.9,460.9 290.9,460.9 291.8,460.9 292.7,461.0 293.6,461.0 294.5,461.0 295.4,461.0 296.4,461.0 297.3,461.0 298.2,461.0 299.1,461.0 300.0,461.0 301.0,461.0 301.9,461.0 302.8,461.0 303.7,461.0 304.6,461.0 305.6,461.0 306.5,461.0 307.4,461.0 308.3,461.0 309.2,461.0 310.1,461.0 311.1,461.0 312.0,461.0 312.9,461.0 313.8,461.0 314.7,461.0 315.7,461.0 316.6,461.0 317.5,461.0 318.4,461.0 319.3,461.0 320.3,461.0 321.2,461.0 322.1,461.0 323.0,461.0 323.9,461.0 324.9,461.0 325.8,461.0 326.7,461.0 327.6,461.0 328.5,461.0 329.4,461.0 330.4,461.0 331.3,461.0 332.2,461.0 333.1,461.0 334.0,461.0 335.0,461.0 335.9,461.0 336.8,461.0 337.7,461.0 338.6,461.0 339.5,461.0 340.5,461.0 341.4,461.0 342.3,461.0 343.2,461.0 344.1,461.0 345.1,461.0 346.0,461.0 346.9,461.0 347.8,461.0 348.7,461.0 349.7,461.0 350.6,461.0 351.5,461.0 352.4,461.0 353.3,461.0 354.2,461.0 355.2,461.0 356.1,461.0 357.0,461.0 357.9,461.0 358.8,461.0 359.8,461.0 360.7,461.0 361.6,461.0" fill="none" stroke="#10e010" stroke-width="1.8" stroke-linejoin="round" />
<polyline points="67.6,461.0 68.5,461.0 69.4,461.0 70.4,461.0 71.3,461.0 72.2,461.0 73.1,461.0 74.0,461.0 74.9,461.0 75.9,461.0 76.8,461.0 77.7,461.0 78.6,461.0 79.5,461.0 80.5,461.0 81.4,461.0 82.3,461.0 83.2,461.0 84.1,461.0 85.1,461.0 86.0,461.0 86.9,461.0 87.8,461.0 88.7,461.0 89.6,461.0 90.6,461.0 91.5,461.0 92.4,461.0 93.3,461.0 94.2,461.0 95.2,461.0 96.1,461.0 97.0,461.0 97.9,461.0 98.8,461.0 99.8,461.0 100.7,461.0 101.6,461.0 102.5,461.0 103.4,461.0 104.3,461.0 105.3,461.0 106.2,461.0 107.1,461.0 108.0,461.0 108.9,461.0 109.9,461.0 110.8,461.0 111.7,461.0 112.6,461.0 113.5,461.0 114.5,461.0 115.4,461.0 116.3,461.0 117.2,461.0 118.1,461.0 119.0,461.0 120.0,461.0 120.9,461.0 121.8,461.0 122.7,461.0 123.6,461.0 124.6,461.0 125.5,461.0 126.4,461.0 127.3,461.0 128.2,461.0 129.2,461.0 130.1,461.0 131.0,461.0 131.9,461.0 132.8,461.0 133.8,461.0 134.7,461.0 135.6,461.0 136.5,461.0 137.4,461.0 138.3,461.0 139.3,461.0 140.2,461.0 141.1,461.0 142.0,461.0 142.9,461.0 143.9,461.0 144.8,461.0 145.7,461.0 146.6,461.0 147.5,461.0 148.4,461.0 149.4,461.0 150.3,461.0 151.2,461.0 152.1,461.0 153.0,461.0 154.0,461.0 154.9,461.0 155.8,461.0 156.7,461.0 157.6,461.0 158.6,461.0 159.5,461.0 160.4,461.0 161.3,461.0 162.2,461.0 163.1,461.0 164.1,461.0 165.0,461.0 165.9,461.0 166.8,461.0 167.7,461.0 168.7,461.0 169.6,461.0 170.5,461.0 171.4,461.0 172.3,461.0 173.3,461.0 174.2,461.0 175.1,461.0 176.0,461.0 176.9,461.0 177.8,461.0 178.8,461.0 179.7,461.0 180.6,461.0 181.5,461.0 182.4,461.0 183.4,461.0 184.3,461.0 185.2,461.0 186.1,461.0 187.0,461.0 188.0,461.0 188.9,461.0 189.8,461.0 190.7,461.0 191.6,461.0 192.5,461.0 193.5,461.0 194.4,461.0 195.3,461.0 196.2,461.0 197.1,461.0 198.1,461.0 199.0,461.0 199.9,461.0 200.8,461.0 201.7,461.0 202.7,461.0 203.6,461.0 204.5,461.0 205.4,461.0 206.3,461.0 207.2,461.0 208.2,461.0 209.1,460.9 210.0,460.9 210.9,460.9 211.8,460.8 212.8,460.8 213.7,460.7 214.6,460.6 215.5,460.5 216.4,460.3 217.4,460.1 218.3,459.9 219.2,459.6 220.1,459.2 221.0,458.8 221.9,458.3 222.9,457.6 223.8,456.9 224.7,456.0 225.6,455.0 226.5,453.9 227.5,452.6 228.4,451.1 229.3,449.5 230.2,447.7 231.1,445.7 232.1,443.6 233.0,441.3 233.9,439.0 234.8,436.5 235.7,433.9 236.6,431.3 237.6,428.8 238.5,426.2 239.4,423.8 240.3,421.4 241.2,419.3 242.2,417.4 243.1,415.7 244.0,414.4 244.9,413.3 245.8,412.6 246.8,412.3 247.7,412.4 248.6,412.8 249.5,413.6 250.4,414.7 251.3,416.2 252.3,417.9 253.2,419.9 254.1,422.1 255.0,424.4 255.9,426.9 256.9,429.5 257.8,432.1 258.7,434.7 259.6,437.2 260.5,439.6 261.5,442.0 262.4,444.2 263.3,446.3 264.2,448.2 265.1,450.0 266.0,451.5 267.0,453.0 267.9,454.2 268.8,455.3 269.7,456.3 270.6,457.1 271.6,457.8 272.5,458.4 273.4,458.9 274.3,459.3 275.2,459.7 276.2,460.0 277.1,460.2 278.0,460.4 278.9,460.5 279.8,460.6 280.8,460.7 281.7,460.8 282.6,460.8 283.5,460.9 284.4,460.9 285.3,460.9 286.3,461.0 287.2,461.0 288.1,461.0 289.0,461.0 289.9,461.0 290.9,461.0 291.8,461.0 292.7,461.0 293.6,461.0 294.5,461.0 295.4,461.0 296.4,461.0 297.3,461.0 298.2,461.0 299.1,461.0 300.0,461.0 301.0,461.0 301.9,461.0 302.8,461.0 303.7,461.0 304.6,461.0 305.6,461.0 306.5,461.0 307.4,461.0 308.3,461.0 309.2,461.0 310.1,461.0 311.1,461.0 312.0,461.0 312.9,461.0 313.8,461.0 314.7,461.0 315.7,461.0 316.6,461.0 317.5,461.0 318.4,461.0 319.3,461.0 320.3,461.0 321.2,461.0 322.1,461.0 323.0,461.0 323.9,461.0 324.9,461.0 325.8,461.0 326.7,461.0 327.6,461.0 328.5,461.0 329.4,461.0 330.4,461.0 331.3,461.0 332.2,461.0 333.1,461.0 334.0,461.0 335.0,461.0 335.9,461.0 336.8,461.0 337.7,461.0 338.6,461.0 339.5,461.0 340.5,461.0 341.4,461.0 342.3,461.0 343.2,461.0 344.1,461.0 345.1,461.0 346.0,461.0 346.9,461.0 347.8,461.0 348.7,461.0 349.7,461.0 350.6,461.0 351.5,461.0 352.4,461.0 353.3,461.0 354.2,461.0 355.2,461.0 356.1,461.0 357.0,461.0 357.9,461.0 358.8,461.0 359.8,461.0 360.7,461.0 361.6,461.0" fill="none" stroke="#ff0000" stroke-width="1.8" stroke-linejoin="round" />
<polyline points="67.6,461.0 68.5,461.0 69.4,461.0 70.4,461.0 71.3,461.0 72.2,461.0 73.1,461.0 74.0,461.0 74.9,461.0 75.9,461.0 76.8,461.0 77.7,461.0 78.6,461.0 79.5,461.0 80.5,461.0 81.4,461.0 82.3,461.0 83.2,461.0 84.1,461.0 85.1,461.0 86.0,461.0 86.9,461.0 87.8,461.0 88.7,461.0 89.6,461.0 90.6,461.0 91.5,461.0 92.4,461.0 93.3,461.0 94.2,461.0 95.2,461.0 96.1,461.0 97.0,461.0 97.9,461.0 98.8,461.0 99.8,461.0 100.7,461.0 101.6,461.0 102.5,461.0 103.4,461.0 104.3,461.0 105.3,461.0 106.2,461.0 107.1,461.0 108.0,461.0 108.9,461.0 109.9,460.8 110.8,460.7 111.7,460.5 112.6,460.2 113.5,460.0 114.5,459.6 115.4,459.0 116.3,458.4 117.2,457.6 118.1,456.8 119.0,455.9 120.0,454.9 120.9,453.9 121.8,452.8 122.7,451.7 123.6,450.6 124.6,449.4 125.5,448.0 126.4,446.6 127.3,445.0 128.2,443.4 129.2,441.6 130.1,439.6 131.0,437.6 131.9,435.4 132.8,432.8 133.8,429.8 134.7,426.4 135.6,422.9 136.5,419.1 137.4,415.2 138.3,411.3 139.3,407.4 140.2,403.7 141.1,400.0 142.0,396.3 142.9,392.5 143.9,388.7 144.8,385.0 145.7,381.6 146.6,378.4 147.5,375.1 148.4,371.9 149.4,368.7 150.3,365.7 151.2,362.9 152.1,360.3 153.0,358.2 154.0,356.4 154.9,354.8 155.8,353.3 156.7,351.8 157.6,350.3 158.6,349.0 159.5,347.8 160.4,346.7 161.3,345.9 162.2,345.2 163.1,344.7 164.1,344.5 165.0,344.6 165.9,344.8 166.8,345.1 167.7,345.6 168.7,346.1 169.6,346.7 170.5,347.4 171.4,348.1 172.3,348.8 173.3,349.5 174.2,350.2 175.1,350.9 176.0,351.8 176.9,352.7 177.8,353.7 178.8,354.7 179.7,355.7 180.6,356.7 181.5,357.7 182.4,358.7 183.4,359.5 184.3,360.3 185.2,361.0 186.1,361.6 187.0,362.2 188.0,362.7 188.9,363.2 189.8,363.7 190.7,364.2 191.6,364.7 192.5,365.1 193.5,365.6 194.4,366.1 195.3,366.6 196.2,367.1 197.1,367.7 198.1,368.2 199.0,368.9 199.9,369.6 200.8,370.3 201.7,371.0 202.7,371.8 203.6,372.7 204.5,373.5 205.4,374.4 206.3,375.4 207.2,376.3 208.2,377.4 209.1,378.8 210.0,380.3 210.9,381.8 211.8,383.3 212.8,384.5 213.7,385.4 214.6,385.9 215.5,385.9 216.4,385.6 217.4,385.1 218.3,384.4 219.2,383.6 220.1,382.7 221.0,381.8 221.9,381.0 222.9,380.1 223.8,379.1 224.7,378.0 225.6,376.8 226.5,375.6 227.5,374.4 228.4,373.2 229.3,372.1 230.2,371.0 231.1,370.1 232.1,369.4 233.0,368.7 233.9,368.1 234.8,367.6 235.7,367.1 236.6,366.6 237.6,366.1 238.5,365.7 239.4,365.3 240.3,364.9 241.2,364.5 242.2,364.0 243.1,363.6 244.0,363.1 244.9,362.6 245.8,362.1 246.8,361.5 247.7,360.8 248.6,360.1 249.5,359.4 250.4,358.7 251.3,357.9 252.3,357.1 253.2,356.3 254.1,355.5 255.0,354.7 255.9,353.9 256.9,353.1 257.8,352.3 258.7,351.3 259.6,350.2 260.5,349.1 261.5,348.1 262.4,347.1 263.3,346.3 264.2,345.6 265.1,345.2 266.0,345.0 267.0,345.2 267.9,345.9 268.8,346.9 269.7,348.2 270.6,349.6 271.6,351.2 272.5,352.7 273.4,354.3 274.3,355.8 275.2,357.6 276.2,359.5 277.1,361.5 278.0,363.6 278.9,365.9 279.8,368.4 280.8,370.9 281.7,373.7 282.6,376.8 283.5,380.1 284.4,383.6 285.3,387.5 286.3,391.6 287.2,396.5 288.1,402.2 289.0,406.3 289.9,410.2 290.9,414.2 291.8,418.2 292.7,422.2 293.6,426.1 294.5,429.8 295.4,433.3 296.4,436.7 297.3,439.8 298.2,442.6 299.1,445.2 300.0,447.5 301.0,449.6 301.9,451.4 302.8,453.0 303.7,454.4 304.6,455.6 305.6,456.6 306.5,457.4 307.4,458.1 308.3,458.7 309.2,459.2 310.1,459.6 311.1,459.9 312.0,460.2 312.9,460.4 313.8,460.5 314.7,460.6 315.7,460.7 316.6,460.8 317.5,460.8 318.4,460.9 319.3,460.9 320.3,460.9 321.2,461.0 322.1,461.0 323.0,461.0 323.9,461.0 324.9,461.0 325.8,461.0 326.7,461.0 327.6,461.0 328.5,461.0 329.4,461.0 330.4,461.0 331.3,461.0 332.2,461.0 333.1,461.0 334.0,461.0 335.0,461.0 335.9,461.0 336.8,461.0 337.7,461.0 338.6,461.0 339.5,461.0 340.5,461.0 341.4,461.0 342.3,461.0 343.2,461.0 344.1,461.0 345.1,461.0 346.0,461.0 346.9,461.0 347.8,461.0 348.7,461.0 349.7,461.0 350.6,461.0 351.5,461.0 352.4,461.0 353.3,461.0 354.2,461.0 355.2,461.0 356.1,461.0 357.0,461.0 357.9,461.0 358.8,461.0 359.8,461.0 360.7,461.0 361.6,461.0" fill="none" stroke="#8e24c8" stroke-width="1.8" stroke-linejoin="round" />
<polyline points="67.6,461.0 68.5,461.0 69.4,461.0 70.4,461.0 71.3,461.0 72.2,461.0 73.1,461.0 74.0,461.0 74.9,461.0 75.9,461.0 76.8,461.0 77.7,461.0 78.6,461.0 79.5,461.0 80.5,461.0 81.4,461.0 82.3,461.0 83.2,461.0 84.1,461.0 85.1,461.0 86.0,461.0 86.9,461.0 87.8,461.0 88.7,461.0 89.6,461.0 90.6,461.0 91.5,461.0 92.4,461.0 93.3,461.0 94.2,461.0 95.2,461.0 96.1,461.0 97.0,461.0 97.9,461.0 98.8,461.0 99.8,461.0 100.7,461.0 101.6,461.0 102.5,461.0 103.4,461.0 104.3,461.0 105.3,461.0 106.2,461.0 107.1,461.0 108.0,461.0 108.9,461.0 109.9,461.0 110.8,461.0 111.7,460.9 112.6,460.9 113.5,460.9 114.5,460.8 115.4,460.8 116.3,460.7 117.2,460.6 118.1,460.4 119.0,460.2 120.0,460.0 120.9,459.7 121.8,459.3 122.7,458.8 123.6,458.2 124.6,457.5 125.5,456.7 126.4,455.7 127.3,454.5 128.2,453.0 129.2,451.4 130.1,449.5 131.0,447.4 131.9,445.0 132.8,442.3 133.8,439.3 134.7,436.1 135.6,432.7 136.5,429.0 137.4,425.2 138.3,421.2 139.3,417.2 140.2,413.2 141.1,409.2 142.0,405.3 142.9,401.6 143.9,398.3 144.8,395.2 145.7,392.6 146.6,390.5 147.5,388.9 148.4,387.9 149.4,387.5 150.3,387.7 151.2,388.4 152.1,389.8 153.0,391.7 154.0,394.1 154.9,397.0 155.8,400.2 156.7,403.8 157.6,407.6 158.6,411.5 159.5,415.6 160.4,419.6 161.3,423.6 162.2,427.5 163.1,431.3 164.1,434.8 165.0,438.1 165.9,441.1 166.8,443.9 167.7,446.4 168.7,448.7 169.6,450.7 170.5,452.4 171.4,453.9 172.3,455.2 173.3,456.3 174.2,457.2 175.1,458.0 176.0,458.6 176.9,459.1 177.8,459.5 178.8,459.9 179.7,460.1 180.6,460.3 181.5,460.5 182.4,460.6 183.4,460.7 184.3,460.8 185.2,460.9 186.1,460.9 187.0,460.9 188.0,460.9 188.9,461.0 189.8,461.0 190.7,461.0 191.6,461.0 192.5,461.0 193.5,461.0 194.4,461.0 195.3,461.0 196.2,461.0 197.1,461.0 198.1,461.0 199.0,461.0 199.9,461.0 200.8,461.0 201.7,461.0 202.7,461.0 203.6,461.0 204.5,461.0 205.4,461.0 206.3,461.0 207.2,461.0 208.2,461.0 209.1,461.0 210.0,461.0 210.9,461.0 211.8,461.0 212.8,461.0 213.7,461.0 214.6,461.0 215.5,461.0 216.4,461.0 217.4,461.0 218.3,461.0 219.2,461.0 220.1,461.0 221.0,461.0 221.9,461.0 222.9,461.0 223.8,461.0 224.7,461.0 225.6,461.0 226.5,461.0 227.5,461.0 228.4,461.0 229.3,461.0 230.2,461.0 231.1,461.0 232.1,461.0 233.0,461.0 233.9,461.0 234.8,461.0 235.7,461.0 236.6,461.0 237.6,461.0 238.5,461.0 239.4,461.0 240.3,461.0 241.2,460.9 242.2,460.9 243.1,460.9 244.0,460.8 244.9,460.8 245.8,460.7 246.8,460.6 247.7,460.5 248.6,460.3 249.5,460.1 250.4,459.9 251.3,459.5 252.3,459.1 253.2,458.7 254.1,458.1 255.0,457.4 255.9,456.5 256.9,455.5 257.8,454.3 258.7,452.9 259.6,451.3 260.5,449.5 261.5,447.5 262.4,445.2 263.3,442.6 264.2,439.9 265.1,436.8 266.0,433.6 267.0,430.2 267.9,426.6 268.8,422.9 269.7,419.1 270.6,415.2 271.6,411.4 272.5,407.8 273.4,404.2 274.3,400.9 275.2,397.9 276.2,395.3 277.1,393.0 278.0,391.3 278.9,390.0 279.8,389.3 280.8,389.1 281.7,389.5 282.6,390.4 283.5,391.8 284.4,393.7 285.3,396.1 286.3,398.8 287.2,402.0 288.1,405.3 289.0,408.9 289.9,412.7 290.9,416.5 291.8,420.3 292.7,424.1 293.6,427.7 294.5,431.3 295.4,434.7 296.4,437.8 297.3,440.8 298.2,443.5 299.1,445.9 300.0,448.2 301.0,450.1 301.9,451.9 302.8,453.4 303.7,454.7 304.6,455.8 305.6,456.8 306.5,457.6 307.4,458.3 308.3,458.8 309.2,459.3 310.1,459.7 311.1,460.0 312.0,460.2 312.9,460.4 313.8,460.5 314.7,460.6 315.7,460.7 316.6,460.8 317.5,460.9 318.4,460.9 319.3,460.9 320.3,460.9 321.2,461.0 322.1,461.0 323.0,461.0 323.9,461.0 324.9,461.0 325.8,461.0 326.7,461.0 327.6,461.0 328.5,461.0 329.4,461.0 330.4,461.0 331.3,461.0 332.2,461.0 333.1,461.0 334.0,461.0 335.0,461.0 335.9,461.0 336.8,461.0 337.7,461.0 338.6,461.0 339.5,461.0 340.5,461.0 341.4,461.0 342.3,461.0 343.2,461.0 344.1,461.0 345.1,461.0 346.0,461.0 346.9,461.0 347.8,461.0 348.7,461.0 349.7,461.0 350.6,461.0 351.5,461.0 352.4,461.0 353.3,461.0 354.2,461.0 355.2,461.0 356.1,461.0 357.0,461.0 357.9,461.0 358.8,461.0 359.8,461.0 360.7,461.0 361.6,461.0" fill="none" stroke="#ff10ff" stroke-width="1.8" stroke-linejoin="round" />
<polyline points="67.6,575.0 68.5,575.0 69.4,575.0 70.4,575.0 71.3,575.0 72.2,575.0 73.1,575.0 74.0,575.0 74.9,575.0 75.9,575.0 76.8,575.0 77.7,575.0 78.6,575.0 79.5,575.0 80.5,575.0 81.4,575.0 82.3,575.0 83.2,575.0 84.1,575.0 85.1,575.0 86.0,575.0 86.9,575.0 87.8,575.0 88.7,575.0 89.6,575.0 90.6,575.0 91.5,575.0 92.4,575.0 93.3,575.0 94.2,575.0 95.2,575.0 96.1,575.0 97.0,575.0 97.9,575.0 98.8,575.0 99.8,575.0 100.7,575.0 101.6,575.0 102.5,575.0 103.4,575.0 104.3,575.0 105.3,575.0 106.2,575.0 107.1,575.0 108.0,575.0 108.9,575.0 109.9,575.0 110.8,575.0 111.7,575.0 112.6,575.0 113.5,575.0 114.5,575.0 115.4,575.0 116.3,575.0 117.2,575.0 118.1,575.0 119.0,575.0 120.0,575.0 120.9,575.0 121.8,575.0 122.7,575.0 123.6,575.0 124.6,575.0 125.5,575.0 126.4,575.0 127.3,575.0 128.2,575.0 129.2,575.0 130.1,575.0 131.0,575.0 131.9,575.0 132.8,575.0 133.8,575.0 134.7,575.0 135.6,575.0 136.5,575.0 137.4,575.0 138.3,575.0 139.3,575.0 140.2,575.0 141.1,575.0 142.0,575.0 142.9,574.9 143.9,574.9 144.8,574.9 145.7,574.9 146.6,574.9 147.5,574.8 148.4,574.8 149.4,574.7 150.3,574.7 151.2,574.6 152.1,574.5 153.0,574.4 154.0,574.3 154.9,574.2 155.8,574.0 156.7,573.8 157.6,573.6 158.6,573.3 159.5,573.1 160.4,572.8 161.3,572.4 162.2,572.0 163.1,571.6 164.1,571.1 165.0,570.6 165.9,570.0 166.8,569.4 167.7,568.8 168.7,568.1 169.6,567.4 170.5,566.6 171.4,565.8 172.3,565.0 173.3,564.2 174.2,563.4 175.1,562.6 176.0,561.7 176.9,560.9 177.8,560.2 178.8,559.4 179.7,558.7 180.6,558.1 181.5,557.5 182.4,557.0 183.4,556.6 184.3,556.3 185.2,556.0 186.1,555.9 187.0,555.8 188.0,555.9 188.9,556.0 189.8,556.3 190.7,556.6 191.6,557.0 192.5,557.5 193.5,558.1 194.4,558.7 195.3,559.4 196.2,560.2 197.1,560.9 198.1,561.7 199.0,562.5 199.9,563.4 200.8,564.2 201.7,565.0 202.7,565.8 203.6,566.6 204.5,567.3 205.4,568.0 206.3,568.7 207.2,569.3 208.2,569.8 209.1,570.4 210.0,570.8 210.9,571.2 211.8,571.6 212.8,571.8 213.7,572.1 214.6,572.2 215.5,572.3 216.4,572.3 217.4,572.3 218.3,572.2 219.2,572.1 220.1,571.8 221.0,571.5 221.9,571.2 222.9,570.7 223.8,570.2 224.7,569.7 225.6,569.0 226.5,568.4 227.5,567.6 228.4,566.8 229.3,566.0 230.2,565.1 231.1,564.2 232.1,563.3 233.0,562.4 233.9,561.5 234.8,560.6 235.7,559.8 236.6,559.0 237.6,558.2 238.5,557.5 239.4,556.9 240.3,556.4 241.2,556.0 242.2,555.7 243.1,555.6 244.0,555.5 244.9,555.6 245.8,555.7 246.8,556.0 247.7,556.4 248.6,556.9 249.5,557.5 250.4,558.2 251.3,559.0 252.3,559.8 253.2,560.6 254.1,561.5 255.0,562.4 255.9,563.4 256.9,564.3 257.8,565.2 258.7,566.1 259.6,566.9 260.5,567.7 261.5,568.5 262.4,569.2 263.3,569.9 264.2,570.5 265.1,571.1 266.0,571.6 267.0,572.1 267.9,572.5 268.8,572.9 269.7,573.2 270.6,573.5 271.6,573.7 272.5,574.0 273.4,574.1 274.3,574.3 275.2,574.4 276.2,574.5 277.1,574.6 278.0,574.7 278.9,574.8 279.8,574.8 280.8,574.9 281.7,574.9 282.6,574.9 283.5,574.9 284.4,574.9 285.3,575.0 286.3,575.0 287.2,575.0 288.1,575.0 289.0,575.0 289.9,575.0 290.9,575.0 291.8,575.0 292.7,575.0 293.6,575.0 294.5,575.0 295.4,575.0 296.4,575.0 297.3,575.0 298.2,575.0 299.1,575.0 300.0,575.0 301.0,575.0 301.9,575.0 302.8,575.0 303.7,575.0 304.6,575.0 305.6,575.0 306.5,575.0 307.4,575.0 308.3,575.0 309.2,575.0 310.1,575.0 311.1,575.0 312.0,575.0 312.9,575.0 313.8,575.0 314.7,575.0 315.7,575.0 316.6,575.0 317.5,575.0 318.4,575.0 319.3,575.0 320.3,575.0 321.2,575.0 322.1,575.0 323.0,575.0 323.9,575.0 324.9,575.0 325.8,575.0 326.7,575.0 327.6,575.0 328.5,575.0 329.4,575.0 330.4,575.0 331.3,575.0 332.2,575.0 333.1,575.0 334.0,575.0 335.0,575.0 335.9,575.0 336.8,575.0 337.7,575.0 338.6,575.0 339.5,575.0 340.5,575.0 341.4,575.0 342.3,575.0 343.2,575.0 344.1,575.0 345.1,575.0 346.0,575.0 346.9,575.0 347.8,575.0 348.7,575.0 349.7,575.0 350.6,575.0 351.5,575.0 352.4,575.0 353.3,575.0 354.2,575.0 355.2,575.0 356.1,575.0 357.0,575.0 357.9,575.0 358.8,575.0 359.8,575.0 360.7,575.0 361.6,575.0" fill="none" stroke="#10f0ff" stroke-width="1.8" stroke-linejoin="round" />
<polyline points="67.6,575.0 68.5,575.0 69.4,575.0 70.4,575.0 71.3,575.0 72.2,575.0 73.1,575.0 74.0,575.0 74.9,575.0 75.9,575.0 76.8,575.0 77.7,575.0 78.6,575.0 79.5,575.0 80.5,575.0 81.4,575.0 82.3,575.0 83.2,575.0 84.1,575.0 85.1,575.0 86.0,575.0 86.9,575.0 87.8,575.0 88.7,575.0 89.6,575.0 90.6,575.0 91.5,575.0 92.4,575.0 93.3,575.0 94.2,575.0 95.2,575.0 96.1,575.0 97.0,575.0 97.9,575.0 98.8,575.0 99.8,575.0 100.7,575.0 101.6,575.0 102.5,575.0 103.4,575.0 104.3,575.0 105.3,575.0 106.2,575.0 107.1,575.0 108.0,575.0 108.9,575.0 109.9,575.0 110.8,575.0 111.7,575.0 112.6,575.0 113.5,575.0 114.5,575.0 115.4,575.0 116.3,575.0 117.2,575.0 118.1,575.0 119.0,575.0 120.0,575.0 120.9,574.9 121.8,574.9 122.7,574.9 123.6,574.9 124.6,574.9 125.5,574.9 126.4,574.8 127.3,574.8 128.2,574.8 129.2,574.7 130.1,574.7 131.0,574.7 131.9,574.6 132.8,574.5 133.8,574.5 134.7,574.4 135.6,574.3 136.5,574.2 137.4,574.1 138.3,574.0 139.3,573.8 140.2,573.7 141.1,573.5 142.0,573.3 142.9,573.1 143.9,572.8 144.8,572.6 145.7,572.3 146.6,572.0 147.5,571.6 148.4,571.3 149.4,570.9 150.3,570.5 151.2,570.0 152.1,569.5 153.0,569.0 154.0,568.4 154.9,567.8 155.8,567.2 156.7,566.6 157.6,565.9 158.6,565.2 159.5,564.4 160.4,563.6 161.3,562.8 162.2,562.0 163.1,561.2 164.1,560.3 165.0,559.4 165.9,558.5 166.8,557.6 167.7,556.7 168.7,555.8 169.6,554.9 170.5,554.0 171.4,553.1 172.3,552.3 173.3,551.5 174.2,550.7 175.1,549.9 176.0,549.2 176.9,548.5 177.8,547.9 178.8,547.3 179.7,546.8 180.6,546.3 181.5,545.9 182.4,545.6 183.4,545.4 184.3,545.2 185.2,545.1 186.1,545.1 187.0,545.1 188.0,545.2 188.9,545.4 189.8,545.6 190.7,546.0 191.6,546.3 192.5,546.8 193.5,547.3 194.4,547.8 195.3,548.4 196.2,549.0 197.1,549.7 198.1,550.4 199.0,551.1 199.9,551.9 200.8,552.6 201.7,553.4 202.7,554.2 203.6,554.9 204.5,555.7 205.4,556.4 206.3,557.1 207.2,557.8 208.2,558.4 209.1,559.0 210.0,559.5 210.9,560.0 211.8,560.5 212.8,560.9 213.7,561.2 214.6,561.5 215.5,561.7 216.4,561.9 217.4,562.0 218.3,562.0 219.2,562.0 220.1,561.9 221.0,561.7 221.9,561.5 222.9,561.2 223.8,560.9 224.7,560.5 225.6,560.0 226.5,559.5 227.5,559.0 228.4,558.4 229.3,557.8 230.2,557.1 231.1,556.5 232.1,555.8 233.0,555.1 233.9,554.4 234.8,553.7 235.7,553.0 236.6,552.3 237.6,551.6 238.5,551.0 239.4,550.4 240.3,549.8 241.2,549.2 242.2,548.7 243.1,548.3 244.0,547.9 244.9,547.5 245.8,547.3 246.8,547.0 247.7,546.9 248.6,546.8 249.5,546.8 250.4,546.8 251.3,546.9 252.3,547.1 253.2,547.4 254.1,547.7 255.0,548.1 255.9,548.5 256.9,549.0 257.8,549.5 258.7,550.1 259.6,550.8 260.5,551.5 261.5,552.2 262.4,553.0 263.3,553.7 264.2,554.5 265.1,555.4 266.0,556.2 267.0,557.1 267.9,557.9 268.8,558.8 269.7,559.6 270.6,560.5 271.6,561.3 272.5,562.1 273.4,562.9 274.3,563.7 275.2,564.4 276.2,565.2 277.1,565.9 278.0,566.5 278.9,567.2 279.8,567.8 280.8,568.4 281.7,568.9 282.6,569.4 283.5,569.9 284.4,570.4 285.3,570.8 286.3,571.2 287.2,571.6 288.1,571.9 289.0,572.2 289.9,572.5 290.9,572.8 291.8,573.0 292.7,573.2 293.6,573.4 294.5,573.6 295.4,573.8 296.4,573.9 297.3,574.0 298.2,574.2 299.1,574.3 300.0,574.4 301.0,574.4 301.9,574.5 302.8,574.6 303.7,574.6 304.6,574.7 305.6,574.7 306.5,574.8 307.4,574.8 308.3,574.8 309.2,574.9 310.1,574.9 311.1,574.9 312.0,574.9 312.9,574.9 313.8,574.9 314.7,574.9 315.7,575.0 316.6,575.0 317.5,575.0 318.4,575.0 319.3,575.0 320.3,575.0 321.2,575.0 322.1,575.0 323.0,575.0 323.9,575.0 324.9,575.0 325.8,575.0 326.7,575.0 327.6,575.0 328.5,575.0 329.4,575.0 330.4,575.0 331.3,575.0 332.2,575.0 333.1,575.0 334.0,575.0 335.0,575.0 335.9,575.0 336.8,575.0 337.7,575.0 338.6,575.0 339.5,575.0 340.5,575.0 341.4,575.0 342.3,575.0 343.2,575.0 344.1,575.0 345.1,575.0 346.0,575.0 346.9,575.0 347.8,575.0 348.7,575.0 349.7,575.0 350.6,575.0 351.5,575.0 352.4,575.0 353.3,575.0 354.2,575.0 355.2,575.0 356.1,575.0 357.0,575.0 357.9,575.0 358.8,575.0 359.8,575.0 360.7,575.0 361.6,575.0" fill="none" stroke="#10e010" stroke-width="1.8" stroke-linejoin="round" />
<polyline points="67.6,575.0 68.5,575.0 69.4,575.0 70.4,575.0 71.3,575.0 72.2,575.0 73.1,575.0 74.0,575.0 74.9,575.0 75.9,575.0 76.8,575.0 77.7,575.0 78.6,575.0 79.5,575.0 80.5,575.0 81.4,575.0 82.3,575.0 83.2,575.0 84.1,575.0 85.1,575.0 86.0,575.0 86.9,575.0 87.8,575.0 88.7,575.0 89.6,575.0 90.6,575.0 91.5,575.0 92.4,575.0 93.3,575.0 94.2,575.0 95.2,575.0 96.1,575.0 97.0,575.0 97.9,575.0 98.8,575.0 99.8,575.0 100.7,575.0 101.6,575.0 102.5,575.0 103.4,575.0 104.3,575.0 105.3,575.0 106.2,575.0 107.1,575.0 108.0,575.0 108.9,575.0 109.9,575.0 110.8,575.0 111.7,575.0 112.6,575.0 113.5,575.0 114.5,575.0 115.4,575.0 116.3,575.0 117.2,575.0 118.1,575.0 119.0,575.0 120.0,575.0 120.9,575.0 121.8,575.0 122.7,575.0 123.6,575.0 124.6,575.0 125.5,575.0 126.4,575.0 127.3,575.0 128.2,575.0 129.2,574.9 130.1,574.9 131.0,574.9 131.9,574.9 132.8,574.9 133.8,574.8 134.7,574.8 135.6,574.8 136.5,574.7 137.4,574.7 138.3,574.6 139.3,574.5 140.2,574.4 141.1,574.3 142.0,574.2 142.9,574.1 143.9,573.9 144.8,573.7 145.7,573.5 146.6,573.2 147.5,572.9 148.4,572.6 149.4,572.2 150.3,571.8 151.2,571.4 152.1,570.9 153.0,570.3 154.0,569.7 154.9,569.1 155.8,568.4 156.7,567.6 157.6,566.7 158.6,565.8 159.5,564.9 160.4,563.8 161.3,562.8 162.2,561.6 163.1,560.4 164.1,559.2 165.0,557.9 165.9,556.6 166.8,555.3 167.7,553.9 168.7,552.5 169.6,551.2 170.5,549.8 171.4,548.5 172.3,547.2 173.3,545.9 174.2,544.7 175.1,543.6 176.0,542.5 176.9,541.5 177.8,540.7 178.8,539.9 179.7,539.3 180.6,538.7 181.5,538.3 182.4,538.1 183.4,538.0 184.3,538.0 185.2,538.1 186.1,538.4 187.0,538.8 188.0,539.4 188.9,540.0 189.8,540.8 190.7,541.7 191.6,542.7 192.5,543.8 193.5,544.9 194.4,546.1 195.3,547.4 196.2,548.7 197.1,550.0 198.1,551.3 199.0,552.7 199.9,554.0 200.8,555.3 201.7,556.6 202.7,557.9 203.6,559.1 204.5,560.3 205.4,561.4 206.3,562.4 207.2,563.4 208.2,564.3 209.1,565.1 210.0,565.8 210.9,566.5 211.8,567.0 212.8,567.5 213.7,567.9 214.6,568.1 215.5,568.3 216.4,568.4 217.4,568.4 218.3,568.3 219.2,568.1 220.1,567.9 221.0,567.5 221.9,567.1 222.9,566.5 223.8,565.9 224.7,565.2 225.6,564.4 226.5,563.5 227.5,562.5 228.4,561.5 229.3,560.4 230.2,559.3 231.1,558.1 232.1,556.9 233.0,555.6 233.9,554.3 234.8,553.0 235.7,551.7 236.6,550.4 237.6,549.1 238.5,547.9 239.4,546.7 240.3,545.5 241.2,544.4 242.2,543.4 243.1,542.4 244.0,541.6 244.9,540.9 245.8,540.2 246.8,539.7 247.7,539.4 248.6,539.1 249.5,539.0 250.4,539.0 251.3,539.1 252.3,539.4 253.2,539.8 254.1,540.4 255.0,541.0 255.9,541.8 256.9,542.6 257.8,543.6 258.7,544.6 259.6,545.8 260.5,546.9 261.5,548.2 262.4,549.5 263.3,550.8 264.2,552.1 265.1,553.4 266.0,554.7 267.0,556.1 267.9,557.4 268.8,558.6 269.7,559.9 270.6,561.1 271.6,562.2 272.5,563.3 273.4,564.3 274.3,565.3 275.2,566.3 276.2,567.1 277.1,567.9 278.0,568.7 278.9,569.4 279.8,570.0 280.8,570.6 281.7,571.1 282.6,571.6 283.5,572.0 284.4,572.4 285.3,572.7 286.3,573.0 287.2,573.3 288.1,573.6 289.0,573.8 289.9,573.9 290.9,574.1 291.8,574.2 292.7,574.4 293.6,574.5 294.5,574.6 295.4,574.6 296.4,574.7 297.3,574.7 298.2,574.8 299.1,574.8 300.0,574.9 301.0,574.9 301.9,574.9 302.8,574.9 303.7,574.9 304.6,575.0 305.6,575.0 306.5,575.0 307.4,575.0 308.3,575.0 309.2,575.0 310.1,575.0 311.1,575.0 312.0,575.0 312.9,575.0 313.8,575.0 314.7,575.0 315.7,575.0 316.6,575.0 317.5,575.0 318.4,575.0 319.3,575.0 320.3,575.0 321.2,575.0 322.1,575.0 323.0,575.0 323.9,575.0 324.9,575.0 325.8,575.0 326.7,575.0 327.6,575.0 328.5,575.0 329.4,575.0 330.4,575.0 331.3,575.0 332.2,575.0 333.1,575.0 334.0,575.0 335.0,575.0 335.9,575.0 336.8,575.0 337.7,575.0 338.6,575.0 339.5,575.0 340.5,575.0 341.4,575.0 342.3,575.0 343.2,575.0 344.1,575.0 345.1,575.0 346.0,575.0 346.9,575.0 347.8,575.0 348.7,575.0 349.7,575.0 350.6,575.0 351.5,575.0 352.4,575.0 353.3,575.0 354.2,575.0 355.2,575.0 356.1,575.0 357.0,575.0 357.9,575.0 358.8,575.0 359.8,575.0 360.7,575.0 361.6,575.0" fill="none" stroke="#ff0000" stroke-width="1.8" stroke-linejoin="round" />
<polyline points="67.6,575.0 68.5,575.0 69.4,575.0 70.4,575.0 71.3,575.0 72.2,575.0 73.1,575.0 74.0,575.0 74.9,575.0 75.9,575.0 76.8,575.0 77.7,575.0 78.6,575.0 79.5,575.0 80.5,575.0 81.4,575.0 82.3,575.0 83.2,575.0 84.1,575.0 85.1,575.0 86.0,575.0 86.9,575.0 87.8,575.0 88.7,575.0 89.6,575.0 90.6,575.0 91.5,575.0 92.4,575.0 93.3,575.0 94.2,575.0 95.2,575.0 96.1,575.0 97.0,575.0 97.9,575.0 98.8,575.0 99.8,575.0 100.7,575.0 101.6,575.0 102.5,575.0 103.4,575.0 104.3,574.9 105.3,574.8 106.2,574.6 107.1,574.5 108.0,574.3 108.9,574.0 109.9,573.8 110.8,573.4 111.7,573.0 112.6,572.6 113.5,572.1 114.5,571.6 115.4,571.1 116.3,570.5 117.2,569.8 118.1,569.2 119.0,568.4 120.0,567.5 120.9,566.4 121.8,565.3 122.7,564.0 123.6,562.5 124.6,561.0 125.5,559.3 126.4,557.4 127.3,555.5 128.2,553.4 129.2,551.2 130.1,548.2 131.0,544.3 131.9,540.0 132.8,535.3 133.8,530.7 134.7,526.4 135.6,522.6 136.5,518.9 137.4,515.3 138.3,511.7 139.3,508.4 140.2,505.2 141.1,502.4 142.0,499.8 142.9,497.4 143.9,495.2 144.8,493.1 145.7,491.0 146.6,488.9 147.5,486.7 148.4,484.3 149.4,481.8 150.3,479.3 151.2,476.9 152.1,474.7 153.0,472.7 154.0,471.1 154.9,470.0 155.8,469.2 156.7,468.4 157.6,467.6 158.6,467.0 159.5,466.5 160.4,466.1 161.3,465.8 162.2,465.8 163.1,465.9 164.1,466.1 165.0,466.4 165.9,466.8 166.8,467.3 167.7,467.8 168.7,468.4 169.6,469.1 170.5,469.7 171.4,470.4 172.3,471.1 173.3,471.8 174.2,472.4 175.1,473.1 176.0,473.9 176.9,474.8 177.8,475.7 178.8,476.6 179.7,477.6 180.6,478.5 181.5,479.3 182.4,480.1 183.4,480.7 184.3,481.3 185.2,481.7 186.1,482.1 187.0,482.5 188.0,482.9 188.9,483.2 189.8,483.5 190.7,483.8 191.6,484.1 192.5,484.5 193.5,484.8 194.4,485.2 195.3,485.6 196.2,486.1 197.1,486.6 198.1,487.2 199.0,487.8 199.9,488.5 200.8,489.3 201.7,490.0 202.7,490.7 203.6,491.5 204.5,492.2 205.4,492.9 206.3,493.7 207.2,494.5 208.2,495.4 209.1,496.4 210.0,497.3 210.9,498.1 211.8,498.9 212.8,499.5 213.7,500.0 214.6,500.3 215.5,500.3 216.4,500.1 217.4,499.6 218.3,499.0 219.2,498.3 220.1,497.4 221.0,496.4 221.9,495.5 222.9,494.5 223.8,493.5 224.7,492.6 225.6,491.8 226.5,491.0 227.5,490.2 228.4,489.4 229.3,488.5 230.2,487.7 231.1,486.9 232.1,486.1 233.0,485.3 233.9,484.7 234.8,484.0 235.7,483.5 236.6,483.1 237.6,482.7 238.5,482.3 239.4,482.0 240.3,481.8 241.2,481.5 242.2,481.3 243.1,481.0 244.0,480.8 244.9,480.6 245.8,480.3 246.8,480.0 247.7,479.7 248.6,479.4 249.5,479.0 250.4,478.6 251.3,478.0 252.3,477.5 253.2,476.8 254.1,476.2 255.0,475.5 255.9,474.7 256.9,474.0 257.8,473.3 258.7,472.6 259.6,471.9 260.5,471.3 261.5,470.6 262.4,469.9 263.3,469.1 264.2,468.3 265.1,467.5 266.0,466.8 267.0,466.2 267.9,465.8 268.8,465.4 269.7,465.3 270.6,465.4 271.6,465.7 272.5,466.2 273.4,466.9 274.3,467.6 275.2,468.5 276.2,469.4 277.1,470.5 278.0,472.1 278.9,474.4 279.8,477.0 280.8,480.0 281.7,483.0 282.6,485.9 283.5,488.5 284.4,490.9 285.3,493.1 286.3,495.4 287.2,497.9 288.1,500.6 289.0,503.8 289.9,508.2 290.9,514.0 291.8,520.0 292.7,524.9 293.6,528.4 294.5,531.9 295.4,535.4 296.4,538.8 297.3,542.0 298.2,545.0 299.1,547.8 300.0,550.2 301.0,552.5 301.9,554.8 302.8,557.1 303.7,559.3 304.6,561.4 305.6,563.4 306.5,565.2 307.4,566.8 308.3,568.2 309.2,569.4 310.1,570.3 311.1,570.9 312.0,571.4 312.9,571.8 313.8,572.2 314.7,572.6 315.7,572.9 316.6,573.1 317.5,573.4 318.4,573.6 319.3,573.8 320.3,574.0 321.2,574.2 322.1,574.4 323.0,574.6 323.9,574.7 324.9,574.9 325.8,575.0 326.7,575.0 327.6,575.0 328.5,575.0 329.4,575.0 330.4,575.0 331.3,575.0 332.2,575.0 333.1,575.0 334.0,575.0 335.0,575.0 335.9,575.0 336.8,575.0 337.7,575.0 338.6,575.0 339.5,575.0 340.5,575.0 341.4,575.0 342.3,575.0 343.2,575.0 344.1,575.0 345.1,575.0 346.0,575.0 346.9,575.0 347.8,575.0 348.7,575.0 349.7,575.0 350.6,575.0 351.5,575.0 352.4,575.0 353.3,575.0 354.2,575.0 355.2,575.0 356.1,575.0 357.0,575.0 357.9,575.0 358.8,575.0 359.8,575.0 360.7,575.0 361.6,575.0" fill="none" stroke="#8e24c8" stroke-width="1.8" stroke-linejoin="round" />
<polyline points="67.6,575.0 68.5,575.0 69.4,575.0 70.4,575.0 71.3,575.0 72.2,575.0 73.1,575.0 74.0,575.0 74.9,575.0 75.9,575.0 76.8,575.0 77.7,575.0 78.6,575.0 79.5,575.0 80.5,575.0 81.4,575.0 82.3,575.0 83.2,575.0 84.1,575.0 85.1,575.0 86.0,575.0 86.9,575.0 87.8,575.0 88.7,575.0 89.6,575.0 90.6,575.0 91.5,575.0 92.4,575.0 93.3,575.0 94.2,575.0 95.2,575.0 96.1,575.0 97.0,575.0 97.9,575.0 98.8,575.0 99.8,575.0 100.7,575.0 101.6,575.0 102.5,575.0 103.4,575.0 104.3,575.0 105.3,575.0 106.2,574.9 107.1,574.8 108.0,574.7 108.9,574.6 109.9,574.4 110.8,574.2 111.7,573.9 112.6,573.5 113.5,573.1 114.5,572.5 115.4,571.9 116.3,571.2 117.2,570.5 118.1,569.7 119.0,569.0 120.0,568.1 120.9,567.1 121.8,566.0 122.7,564.7 123.6,563.4 124.6,561.8 125.5,560.2 126.4,558.4 127.3,556.5 128.2,554.5 129.2,552.3 130.1,549.9 131.0,546.5 131.9,542.3 132.8,537.7 133.8,533.1 134.7,528.7 135.6,525.2 136.5,522.5 137.4,520.0 138.3,517.8 139.3,516.0 140.2,514.7 141.1,514.0 142.0,513.3 142.9,512.8 143.9,512.4 144.8,512.2 145.7,512.2 146.6,512.6 147.5,513.1 148.4,513.8 149.4,514.6 150.3,515.6 151.2,517.0 152.1,519.1 153.0,521.5 154.0,524.1 154.9,526.8 155.8,529.4 156.7,532.1 157.6,535.0 158.6,538.1 159.5,541.2 160.4,544.4 161.3,547.5 162.2,550.5 163.1,553.3 164.1,556.1 165.0,559.0 165.9,561.7 166.8,564.1 167.7,566.1 168.7,567.5 169.6,568.7 170.5,569.8 171.4,570.8 172.3,571.6 173.3,572.4 174.2,573.0 175.1,573.5 176.0,573.9 176.9,574.2 177.8,574.4 178.8,574.7 179.7,574.8 180.6,575.0 181.5,575.0 182.4,575.0 183.4,575.0 184.3,575.0 185.2,575.0 186.1,575.0 187.0,575.0 188.0,575.0 188.9,575.0 189.8,575.0 190.7,575.0 191.6,575.0 192.5,575.0 193.5,575.0 194.4,575.0 195.3,575.0 196.2,575.0 197.1,575.0 198.1,575.0 199.0,575.0 199.9,575.0 200.8,575.0 201.7,575.0 202.7,575.0 203.6,575.0 204.5,575.0 205.4,575.0 206.3,575.0 207.2,575.0 208.2,575.0 209.1,575.0 210.0,575.0 210.9,575.0 211.8,575.0 212.8,575.0 213.7,575.0 214.6,575.0 215.5,575.0 216.4,575.0 217.4,575.0 218.3,575.0 219.2,575.0 220.1,575.0 221.0,575.0 221.9,575.0 222.9,575.0 223.8,575.0 224.7,575.0 225.6,575.0 226.5,575.0 227.5,575.0 228.4,575.0 229.3,575.0 230.2,575.0 231.1,575.0 232.1,575.0 233.0,575.0 233.9,575.0 234.8,575.0 235.7,575.0 236.6,575.0 237.6,575.0 238.5,575.0 239.4,575.0 240.3,575.0 241.2,575.0 242.2,575.0 243.1,575.0 244.0,575.0 244.9,575.0 245.8,575.0 246.8,575.0 247.7,575.0 248.6,574.9 249.5,574.8 250.4,574.6 251.3,574.3 252.3,574.0 253.2,573.6 254.1,573.1 255.0,572.4 255.9,571.4 256.9,570.4 257.8,569.2 258.7,568.2 259.6,567.1 260.5,566.0 261.5,564.8 262.4,563.6 263.3,562.3 264.2,560.9 265.1,559.4 266.0,557.9 267.0,556.2 267.9,554.4 268.8,552.5 269.7,550.5 270.6,548.3 271.6,545.9 272.5,543.5 273.4,540.8 274.3,537.6 275.2,533.9 276.2,530.0 277.1,526.3 278.0,522.9 278.9,520.3 279.8,518.0 280.8,515.8 281.7,513.7 282.6,512.0 283.5,510.7 284.4,510.0 285.3,510.0 286.3,510.5 287.2,511.3 288.1,512.4 289.0,513.8 289.9,516.5 290.9,520.4 291.8,524.0 292.7,527.3 293.6,530.6 294.5,534.0 295.4,537.3 296.4,540.5 297.3,543.6 298.2,546.5 299.1,549.1 300.0,551.4 301.0,553.6 301.9,555.8 302.8,557.9 303.7,560.0 304.6,562.0 305.6,563.9 306.5,565.6 307.4,567.2 308.3,568.5 309.2,569.7 310.1,570.5 311.1,571.1 312.0,571.6 312.9,572.0 313.8,572.3 314.7,572.7 315.7,573.0 316.6,573.2 317.5,573.5 318.4,573.7 319.3,573.9 320.3,574.1 321.2,574.3 322.1,574.4 323.0,574.6 323.9,574.7 324.9,574.9 325.8,575.0 326.7,575.0 327.6,575.0 328.5,575.0 329.4,575.0 330.4,575.0 331.3,575.0 332.2,575.0 333.1,575.0 334.0,575.0 335.0,575.0 335.9,575.0 336.8,575.0 337.7,575.0 338.6,575.0 339.5,575.0 340.5,575.0 341.4,575.0 342.3,575.0 343.2,575.0 344.1,575.0 345.1,575.0 346.0,575.0 346.9,575.0 347.8,575.0 348.7,575.0 349.7,575.0 350.6,575.0 351.5,575.0 352.4,575.0 353.3,575.0 354.2,575.0 355.2,575.0 356.1,575.0 357.0,575.0 357.9,575.0 358.8,575.0 359.8,575.0 360.7,575.0 361.6,575.0" fill="none" stroke="#ff10ff" stroke-width="1.8" stroke-linejoin="round" />
<line x1="67.60" y1="344.00" x2="67.60" y2="575.80" stroke="#000" stroke-width="1.6" />
<line x1="66.80" y1="461.00" x2="362.10" y2="461.00" stroke="#000" stroke-width="1.6" />
<line x1="66.80" y1="575.00" x2="362.10" y2="575.00" stroke="#000" stroke-width="1.6" />
<polyline points="67.6,345.0 68.5,345.0 69.4,345.0 70.4,345.0 71.3,345.0 72.2,345.0 73.1,345.0 74.0,345.0 74.9,345.0 75.9,345.0 76.8,345.0 77.7,345.0 78.6,345.0 79.5,345.0 80.5,345.0 81.4,345.0 82.3,345.0 83.2,345.0 84.1,345.0 85.1,345.0 86.0,345.0 86.9,345.0 87.8,345.0 88.7,345.0 89.6,345.0 90.6,345.0 91.5,345.0 92.4,345.0 93.3,345.0 94.2,345.0 95.2,345.0 96.1,345.0 97.0,345.0 97.9,345.0 98.8,345.0 99.8,345.0 100.7,345.0 101.6,345.0 102.5,345.0 103.4,345.0 104.3,345.0 105.3,345.0 106.2,345.0 107.1,345.0 108.0,345.1 108.9,345.1 109.9,345.1 110.8,345.2 111.7,345.3 112.6,345.3 113.5,345.4 114.5,345.5 115.4,345.6 116.3,345.8 117.2,346.2 118.1,346.8 119.0,347.6 120.0,348.5 120.9,349.4 121.8,350.4 122.7,351.4 123.6,352.4 124.6,353.4 125.5,354.5 126.4,355.7 127.3,356.9 128.2,358.3 129.2,359.6 130.1,361.1 131.0,362.6 131.9,364.1 132.8,365.7 133.8,367.3 134.7,369.0 135.6,370.7 136.5,372.4 137.4,374.1 138.3,375.9 139.3,377.8 140.2,379.8 141.1,381.9 142.0,384.1 142.9,386.3 143.9,388.5 144.8,390.7 145.7,392.8 146.6,394.9 147.5,397.0 148.4,399.1 149.4,401.2 150.3,403.3 151.2,405.3 152.1,407.4 153.0,409.5 154.0,411.5 154.9,413.5 155.8,415.4 156.7,417.3 157.6,419.2 158.6,421.0 159.5,422.8 160.4,424.6 161.3,426.3 162.2,428.0 163.1,429.7 164.1,431.4 165.0,433.0 165.9,434.6 166.8,436.2 167.7,437.8 168.7,439.4 169.6,440.9 170.5,442.4 171.4,444.0 172.3,445.7 173.3,447.4 174.2,449.1 175.1,450.8 176.0,452.4 176.9,453.9 177.8,455.2 178.8,456.4 179.7,457.2 180.6,457.9 181.5,458.3 182.4,458.8 183.4,459.2 184.3,459.6 185.2,459.9 186.1,460.2 187.0,460.4 188.0,460.5 188.9,460.7 189.8,460.7 190.7,460.8 191.6,460.9 192.5,460.9 193.5,460.9 194.4,461.0 195.3,461.0 196.2,461.0 197.1,461.0 198.1,461.0 199.0,461.0 199.9,461.0 200.8,461.0 201.7,461.0 202.7,461.0 203.6,461.0 204.5,461.0 205.4,461.0 206.3,461.0 207.2,461.0 208.2,461.0 209.1,461.0 210.0,461.0 210.9,461.0 211.8,461.0 212.8,461.0 213.7,461.0 214.6,461.0 215.5,461.0 216.4,461.0 217.4,461.0 218.3,461.0 219.2,461.0 220.1,461.0 221.0,461.0 221.9,461.0 222.9,461.0 223.8,461.0 224.7,461.0 225.6,461.0 226.5,461.0 227.5,461.0 228.4,461.0 229.3,461.0 230.2,461.0 231.1,461.0 232.1,461.0 233.0,461.0 233.9,461.0 234.8,461.0 235.7,461.0 236.6,461.0 237.6,461.0 238.5,460.9 239.4,460.8 240.3,460.6 241.2,460.4 242.2,460.1 243.1,459.9 244.0,459.6 244.9,459.3 245.8,458.9 246.8,458.4 247.7,457.7 248.6,457.0 249.5,456.1 250.4,455.2 251.3,454.2 252.3,453.1 253.2,452.0 254.1,450.9 255.0,449.7 255.9,448.5 256.9,447.1 257.8,445.5 258.7,443.8 259.6,442.0 260.5,440.1 261.5,438.1 262.4,436.0 263.3,433.9 264.2,431.8 265.1,429.6 266.0,427.4 267.0,425.3 267.9,423.2 268.8,421.1 269.7,419.1 270.6,417.1 271.6,415.2 272.5,413.3 273.4,411.4 274.3,409.5 275.2,407.6 276.2,405.7 277.1,403.8 278.0,401.9 278.9,399.9 279.8,398.0 280.8,396.0 281.7,393.9 282.6,391.9 283.5,389.8 284.4,387.7 285.3,385.7 286.3,383.6 287.2,381.5 288.1,379.4 289.0,377.3 289.9,375.2 290.9,373.2 291.8,371.2 292.7,369.4 293.6,367.6 294.5,365.8 295.4,364.0 296.4,362.3 297.3,360.5 298.2,358.9 299.1,357.3 300.0,355.9 301.0,354.6 301.9,353.4 302.8,352.3 303.7,351.4 304.6,350.6 305.6,349.8 306.5,349.0 307.4,348.3 308.3,347.7 309.2,347.1 310.1,346.6 311.1,346.2 312.0,345.9 312.9,345.7 313.8,345.5 314.7,345.3 315.7,345.1 316.6,345.0 317.5,345.0 318.4,345.0 319.3,345.0 320.3,345.0 321.2,345.0 322.1,345.0 323.0,345.0 323.9,345.0 324.9,345.0 325.8,345.0 326.7,345.0 327.6,345.0 328.5,345.0 329.4,345.0 330.4,345.0 331.3,345.0 332.2,345.0 333.1,345.0 334.0,345.0 335.0,345.0 335.9,345.0 336.8,345.0 337.7,345.0 338.6,345.0 339.5,345.0 340.5,345.0 341.4,345.0 342.3,345.0 343.2,345.0 344.1,345.0 345.1,345.0 346.0,345.0 346.9,345.0 347.8,345.0 348.7,345.0 349.7,345.0 350.6,345.0 351.5,345.0 352.4,345.0 353.3,345.0 354.2,345.0 355.2,345.0 356.1,345.0 357.0,345.0 357.9,345.0 358.8,345.0 359.8,345.0 360.7,345.0 361.6,345.0" fill="none" stroke="#2020ff" stroke-width="2.0" stroke-linejoin="round" stroke-dasharray="4.2,2.8"/>
<polyline points="67.6,461.0 68.5,461.0 69.4,461.0 70.4,461.0 71.3,461.0 72.2,461.0 73.1,461.0 74.0,461.0 74.9,461.0 75.9,461.0 76.8,461.0 77.7,461.0 78.6,461.0 79.5,461.0 80.5,461.0 81.4,461.0 82.3,461.0 83.2,461.0 84.1,461.0 85.1,461.0 86.0,461.0 86.9,461.0 87.8,461.0 88.7,461.0 89.6,461.0 90.6,461.0 91.5,461.0 92.4,461.0 93.3,461.0 94.2,461.0 95.2,461.0 96.1,461.0 97.0,461.0 97.9,461.0 98.8,461.0 99.8,461.0 100.7,461.0 101.6,461.0 102.5,461.0 103.4,461.0 104.3,461.0 105.3,461.0 106.2,461.0 107.1,461.0 108.0,461.0 108.9,461.0 109.9,461.1 110.8,461.3 111.7,461.5 112.6,461.8 113.5,462.0 114.5,462.4 115.4,462.7 116.3,463.2 117.2,463.9 118.1,464.9 119.0,466.0 120.0,467.2 120.9,468.6 121.8,470.0 122.7,471.5 123.6,473.0 124.6,474.5 125.5,476.0 126.4,477.5 127.3,479.1 128.2,480.7 129.2,482.4 130.1,484.2 131.0,486.0 131.9,487.9 132.8,489.8 133.8,491.7 134.7,493.7 135.6,495.6 136.5,497.6 137.4,499.5 138.3,501.4 139.3,503.3 140.2,505.1 141.1,507.0 142.0,508.9 142.9,510.7 143.9,512.6 144.8,514.5 145.7,516.5 146.6,518.4 147.5,520.3 148.4,522.2 149.4,524.1 150.3,525.9 151.2,527.8 152.1,529.6 153.0,531.4 154.0,533.2 154.9,534.9 155.8,536.6 156.7,538.3 157.6,539.9 158.6,541.6 159.5,543.2 160.4,544.8 161.3,546.5 162.2,548.1 163.1,549.7 164.1,551.3 165.0,552.8 165.9,554.3 166.8,555.8 167.7,557.2 168.7,558.6 169.6,560.0 170.5,561.3 171.4,562.5 172.3,563.7 173.3,564.8 174.2,565.8 175.1,566.9 176.0,568.0 176.9,569.0 177.8,570.0 178.8,571.0 179.7,571.9 180.6,572.6 181.5,573.3 182.4,573.8 183.4,574.1 184.3,574.3 185.2,574.5 186.1,574.7 187.0,574.9 188.0,575.0 188.9,575.0 189.8,575.0 190.7,575.0 191.6,575.0 192.5,575.0 193.5,575.0 194.4,575.0 195.3,575.0 196.2,575.0 197.1,575.0 198.1,575.0 199.0,575.0 199.9,575.0 200.8,575.0 201.7,575.0 202.7,575.0 203.6,575.0 204.5,575.0 205.4,575.0 206.3,575.0 207.2,575.0 208.2,575.0 209.1,575.0 210.0,575.0 210.9,575.0 211.8,575.0 212.8,575.0 213.7,575.0 214.6,575.0 215.5,575.0 216.4,575.0 217.4,575.0 218.3,575.0 219.2,575.0 220.1,575.0 221.0,575.0 221.9,575.0 222.9,575.0 223.8,575.0 224.7,575.0 225.6,575.0 226.5,575.0 227.5,575.0 228.4,575.0 229.3,575.0 230.2,575.0 231.1,575.0 232.1,575.0 233.0,575.0 233.9,575.0 234.8,575.0 235.7,575.0 236.6,575.0 237.6,575.0 238.5,575.0 239.4,575.0 240.3,575.0 241.2,575.0 242.2,574.9 243.1,574.8 244.0,574.6 244.9,574.5 245.8,574.2 246.8,573.9 247.7,573.4 248.6,572.8 249.5,572.1 250.4,571.4 251.3,570.5 252.3,569.7 253.2,568.8 254.1,567.9 255.0,567.0 255.9,566.1 256.9,565.1 257.8,564.1 258.7,562.9 259.6,561.7 260.5,560.5 261.5,559.2 262.4,557.9 263.3,556.5 264.2,555.1 265.1,553.6 266.0,552.1 267.0,550.6 267.9,548.9 268.8,547.1 269.7,545.3 270.6,543.3 271.6,541.3 272.5,539.3 273.4,537.2 274.3,535.2 275.2,533.2 276.2,531.3 277.1,529.4 278.0,527.6 278.9,525.9 279.8,524.2 280.8,522.5 281.7,520.9 282.6,519.2 283.5,517.6 284.4,516.0 285.3,514.3 286.3,512.6 287.2,510.8 288.1,509.0 289.0,507.1 289.9,505.1 290.9,503.0 291.8,500.7 292.7,498.2 293.6,495.6 294.5,493.0 295.4,490.5 296.4,488.2 297.3,486.1 298.2,484.2 299.1,482.4 300.0,480.6 301.0,479.0 301.9,477.4 302.8,475.9 303.7,474.4 304.6,473.1 305.6,471.8 306.5,470.5 307.4,469.3 308.3,468.0 309.2,466.8 310.1,465.7 311.1,464.7 312.0,463.8 312.9,463.2 313.8,462.7 314.7,462.4 315.7,462.1 316.6,461.8 317.5,461.5 318.4,461.3 319.3,461.1 320.3,461.0 321.2,461.0 322.1,461.0 323.0,461.0 323.9,461.0 324.9,461.0 325.8,461.0 326.7,461.0 327.6,461.0 328.5,461.0 329.4,461.0 330.4,461.0 331.3,461.0 332.2,461.0 333.1,461.0 334.0,461.0 335.0,461.0 335.9,461.0 336.8,461.0 337.7,461.0 338.6,461.0 339.5,461.0 340.5,461.0 341.4,461.0 342.3,461.0 343.2,461.0 344.1,461.0 345.1,461.0 346.0,461.0 346.9,461.0 347.8,461.0 348.7,461.0 349.7,461.0 350.6,461.0 351.5,461.0 352.4,461.0 353.3,461.0 354.2,461.0 355.2,461.0 356.1,461.0 357.0,461.0 357.9,461.0 358.8,461.0 359.8,461.0 360.7,461.0 361.6,461.0" fill="none" stroke="#2020ff" stroke-width="2.0" stroke-linejoin="round" stroke-dasharray="4.2,2.8"/>
<line x1="67.60" y1="461.00" x2="72.60" y2="461.00" stroke="#000" stroke-width="1.1" />
<line x1="67.60" y1="449.40" x2="70.20" y2="449.40" stroke="#000" stroke-width="1.1" />
<line x1="67.60" y1="437.80" x2="72.60" y2="437.80" stroke="#000" stroke-width="1.1" />
<line x1="67.60" y1="426.20" x2="70.20" y2="426.20" stroke="#000" stroke-width="1.1" />
<line x1="67.60" y1="414.60" x2="72.60" y2="414.60" stroke="#000" stroke-width="1.1" />
<line x1="67.60" y1="403.00" x2="70.20" y2="403.00" stroke="#000" stroke-width="1.1" />
<line x1="67.60" y1="391.40" x2="72.60" y2="391.40" stroke="#000" stroke-width="1.1" />
<line x1="67.60" y1="379.80" x2="70.20" y2="379.80" stroke="#000" stroke-width="1.1" />
<line x1="67.60" y1="368.20" x2="72.60" y2="368.20" stroke="#000" stroke-width="1.1" />
<line x1="67.60" y1="356.60" x2="70.20" y2="356.60" stroke="#000" stroke-width="1.1" />
<line x1="67.60" y1="345.00" x2="72.60" y2="345.00" stroke="#000" stroke-width="1.1" />
<line x1="67.60" y1="575.00" x2="72.60" y2="575.00" stroke="#000" stroke-width="1.1" />
<line x1="67.60" y1="563.60" x2="70.20" y2="563.60" stroke="#000" stroke-width="1.1" />
<line x1="67.60" y1="552.20" x2="72.60" y2="552.20" stroke="#000" stroke-width="1.1" />
<line x1="67.60" y1="540.80" x2="70.20" y2="540.80" stroke="#000" stroke-width="1.1" />
<line x1="67.60" y1="529.40" x2="72.60" y2="529.40" stroke="#000" stroke-width="1.1" />
<line x1="67.60" y1="518.00" x2="70.20" y2="518.00" stroke="#000" stroke-width="1.1" />
<line x1="67.60" y1="506.60" x2="72.60" y2="506.60" stroke="#000" stroke-width="1.1" />
<line x1="67.60" y1="495.20" x2="70.20" y2="495.20" stroke="#000" stroke-width="1.1" />
<line x1="67.60" y1="483.80" x2="72.60" y2="483.80" stroke="#000" stroke-width="1.1" />
<line x1="67.60" y1="472.40" x2="70.20" y2="472.40" stroke="#000" stroke-width="1.1" />
<line x1="67.60" y1="461.00" x2="67.60" y2="456.00" stroke="#000" stroke-width="1.1" />
<line x1="85.97" y1="461.00" x2="85.97" y2="458.40" stroke="#000" stroke-width="1.1" />
<line x1="104.35" y1="461.00" x2="104.35" y2="456.00" stroke="#000" stroke-width="1.1" />
<line x1="122.72" y1="461.00" x2="122.72" y2="458.40" stroke="#000" stroke-width="1.1" />
<line x1="141.10" y1="461.00" x2="141.10" y2="456.00" stroke="#000" stroke-width="1.1" />
<line x1="159.47" y1="461.00" x2="159.47" y2="458.40" stroke="#000" stroke-width="1.1" />
<line x1="177.85" y1="461.00" x2="177.85" y2="456.00" stroke="#000" stroke-width="1.1" />
<line x1="196.22" y1="461.00" x2="196.22" y2="458.40" stroke="#000" stroke-width="1.1" />
<line x1="214.60" y1="461.00" x2="214.60" y2="456.00" stroke="#000" stroke-width="1.1" />
<line x1="232.97" y1="461.00" x2="232.97" y2="458.40" stroke="#000" stroke-width="1.1" />
<line x1="251.35" y1="461.00" x2="251.35" y2="456.00" stroke="#000" stroke-width="1.1" />
<line x1="269.73" y1="461.00" x2="269.73" y2="458.40" stroke="#000" stroke-width="1.1" />
<line x1="288.10" y1="461.00" x2="288.10" y2="456.00" stroke="#000" stroke-width="1.1" />
<line x1="306.48" y1="461.00" x2="306.48" y2="458.40" stroke="#000" stroke-width="1.1" />
<line x1="324.85" y1="461.00" x2="324.85" y2="456.00" stroke="#000" stroke-width="1.1" />
<line x1="343.23" y1="461.00" x2="343.23" y2="458.40" stroke="#000" stroke-width="1.1" />
<line x1="361.60" y1="461.00" x2="361.60" y2="456.00" stroke="#000" stroke-width="1.1" />
<line x1="67.60" y1="575.00" x2="67.60" y2="570.00" stroke="#000" stroke-width="1.1" />
<line x1="85.97" y1="575.00" x2="85.97" y2="572.40" stroke="#000" stroke-width="1.1" />
<line x1="104.35" y1="575.00" x2="104.35" y2="570.00" stroke="#000" stroke-width="1.1" />
<line x1="122.72" y1="575.00" x2="122.72" y2="572.40" stroke="#000" stroke-width="1.1" />
<line x1="141.10" y1="575.00" x2="141.10" y2="570.00" stroke="#000" stroke-width="1.1" />
<line x1="159.47" y1="575.00" x2="159.47" y2="572.40" stroke="#000" stroke-width="1.1" />
<line x1="177.85" y1="575.00" x2="177.85" y2="570.00" stroke="#000" stroke-width="1.1" />
<line x1="196.22" y1="575.00" x2="196.22" y2="572.40" stroke="#000" stroke-width="1.1" />
<line x1="214.60" y1="575.00" x2="214.60" y2="570.00" stroke="#000" stroke-width="1.1" />
<line x1="232.97" y1="575.00" x2="232.97" y2="572.40" stroke="#000" stroke-width="1.1" />
<line x1="251.35" y1="575.00" x2="251.35" y2="570.00" stroke="#000" stroke-width="1.1" />
<line x1="269.73" y1="575.00" x2="269.73" y2="572.40" stroke="#000" stroke-width="1.1" />
<line x1="288.10" y1="575.00" x2="288.10" y2="570.00" stroke="#000" stroke-width="1.1" />
<line x1="306.48" y1="575.00" x2="306.48" y2="572.40" stroke="#000" stroke-width="1.1" />
<line x1="324.85" y1="575.00" x2="324.85" y2="570.00" stroke="#000" stroke-width="1.1" />
<line x1="343.23" y1="575.00" x2="343.23" y2="572.40" stroke="#000" stroke-width="1.1" />
<line x1="361.60" y1="575.00" x2="361.60" y2="570.00" stroke="#000" stroke-width="1.1" />
<text x="64.20" y="465.00" font-size="11.6" text-anchor="end" fill="#000" font-weight="normal" >0</text>
<text x="64.20" y="441.80" font-size="11.6" text-anchor="end" fill="#000" font-weight="normal" >200</text>
<text x="64.20" y="418.60" font-size="11.6" text-anchor="end" fill="#000" font-weight="normal" >400</text>
<text x="64.20" y="395.40" font-size="11.6" text-anchor="end" fill="#000" font-weight="normal" >600</text>
<text x="64.20" y="372.20" font-size="11.6" text-anchor="end" fill="#000" font-weight="normal" >800</text>
<text x="64.20" y="349.00" font-size="11.6" text-anchor="end" fill="#000" font-weight="normal" >1000</text>
<text x="64.20" y="579.00" font-size="11.6" text-anchor="end" fill="#000" font-weight="normal" >0</text>
<text x="64.20" y="556.20" font-size="11.6" text-anchor="end" fill="#000" font-weight="normal" >200</text>
<text x="64.20" y="533.40" font-size="11.6" text-anchor="end" fill="#000" font-weight="normal" >400</text>
<text x="64.20" y="510.60" font-size="11.6" text-anchor="end" fill="#000" font-weight="normal" >600</text>
<text x="64.20" y="487.80" font-size="11.6" text-anchor="end" fill="#000" font-weight="normal" >800</text>
<text x="65.10" y="588.20" font-size="11.3" text-anchor="middle" fill="#000" font-weight="normal" >-40</text>
<text x="101.85" y="588.20" font-size="11.3" text-anchor="middle" fill="#000" font-weight="normal" >-30</text>
<text x="138.60" y="588.20" font-size="11.3" text-anchor="middle" fill="#000" font-weight="normal" >-20</text>
<text x="175.35" y="588.20" font-size="11.3" text-anchor="middle" fill="#000" font-weight="normal" >-10</text>
<text x="214.60" y="588.20" font-size="11.3" text-anchor="middle" fill="#000" font-weight="normal" >0</text>
<text x="251.35" y="588.20" font-size="11.3" text-anchor="middle" fill="#000" font-weight="normal" >10</text>
<text x="288.10" y="588.20" font-size="11.3" text-anchor="middle" fill="#000" font-weight="normal" >20</text>
<text x="324.85" y="588.20" font-size="11.3" text-anchor="middle" fill="#000" font-weight="normal" >30</text>
<text x="361.60" y="588.20" font-size="11.3" text-anchor="middle" fill="#000" font-weight="normal" >40</text>
<text x="219.30" y="606.50" font-size="16.4" text-anchor="middle" fill="#000" font-weight="normal" >Distance from bilayer center (Å)</text>
<text x="0" y="0" font-size="16" text-anchor="middle" transform="translate(34.2,439.3) rotate(-90)">Density (kg m<tspan font-size="11" dy="-6">-3</tspan><tspan dy="6">)</tspan></text>
<text x="76.40" y="370.40" font-size="12" text-anchor="start" fill="#000" font-weight="normal" >initialized</text>
<text x="76.40" y="384.30" font-size="12" text-anchor="start" fill="#000" font-weight="normal" >in solution</text>
<text x="76.40" y="398.20" font-size="12" text-anchor="start" fill="#000" font-weight="normal" >(system 1)</text>
<text x="76.40" y="487.20" font-size="12" text-anchor="start" fill="#000" font-weight="normal" >initialized</text>
<text x="76.40" y="501.00" font-size="12" text-anchor="start" fill="#000" font-weight="normal" >in</text>
<text x="76.40" y="514.80" font-size="12" text-anchor="start" fill="#000" font-weight="normal" >membrane</text>
<text x="76.40" y="528.60" font-size="12" text-anchor="start" fill="#000" font-weight="normal" >(system 3)</text>
<line x1="319.80" y1="366.10" x2="335.10" y2="366.10" stroke="#2020ff" stroke-width="1.8" stroke-dasharray="4,2.6"/>
<text x="342.00" y="369.00" font-size="12.2" text-anchor="start" fill="#000" font-weight="normal" >Water</text>
<line x1="319.80" y1="381.05" x2="335.10" y2="381.05" stroke="#8e24c8" stroke-width="1.8" />
<text x="342.00" y="383.95" font-size="12.2" text-anchor="start" fill="#000" font-weight="normal" >Lipid</text>
<line x1="319.80" y1="396.00" x2="335.10" y2="396.00" stroke="#ff10ff" stroke-width="1.8" />
<text x="342.00" y="398.90" font-size="12.2" text-anchor="start" fill="#000" font-weight="normal" >Headgroup</text>
<line x1="319.80" y1="410.95" x2="335.10" y2="410.95" stroke="#ff0000" stroke-width="1.8" />
<text x="342.00" y="413.85" font-size="12.2" text-anchor="start" fill="#000" font-weight="normal" >NPPM481 (20X)</text>
<line x1="319.80" y1="425.90" x2="335.10" y2="425.90" stroke="#10e010" stroke-width="1.8" />
<text x="342.00" y="428.80" font-size="12.2" text-anchor="start" fill="#000" font-weight="normal" >Chlorine (200X)</text>
<line x1="319.80" y1="440.85" x2="335.10" y2="440.85" stroke="#10f0ff" stroke-width="1.8" />
<text x="342.00" y="443.75" font-size="12.2" text-anchor="start" fill="#000" font-weight="normal" >Fluorine (200X)</text>
<text x="442.70" y="19.30" font-size="24" text-anchor="start" fill="#000" font-weight="bold" >C</text>
<circle cx="547.8" cy="89.6" r="3.2" fill="url(#gO)"/>
<line x1="541.2" y1="55.9" x2="550.4" y2="59.3" stroke="#3aacac" stroke-width="3.8"/>
<line x1="550.4" y1="59.3" x2="559.5" y2="62.7" stroke="#3aacac" stroke-width="3.8"/>
<line x1="541.4" y1="55.2" x2="550.6" y2="58.6" stroke="#a8e8e8" stroke-width="1"/>
<line x1="550.6" y1="58.6" x2="559.7" y2="62.0" stroke="#a8e8e8" stroke-width="1"/>
<line x1="559.5" y1="62.7" x2="565.5" y2="70.8" stroke="#3aacac" stroke-width="3.8"/>
<line x1="565.5" y1="70.8" x2="571.5" y2="78.8" stroke="#3aacac" stroke-width="3.8"/>
<line x1="560.1" y1="62.3" x2="566.1" y2="70.3" stroke="#a8e8e8" stroke-width="1"/>
<line x1="566.1" y1="70.3" x2="572.1" y2="78.4" stroke="#a8e8e8" stroke-width="1"/>
<line x1="571.5" y1="78.8" x2="567.2" y2="85.3" stroke="#3aacac" stroke-width="3.8"/>
<line x1="567.2" y1="85.3" x2="562.9" y2="91.9" stroke="#3aacac" stroke-width="3.8"/>
<line x1="570.9" y1="78.4" x2="566.6" y2="85.0" stroke="#a8e8e8" stroke-width="1"/>
<line x1="566.6" y1="85.0" x2="562.3" y2="91.5" stroke="#a8e8e8" stroke-width="1"/>
<line x1="562.9" y1="91.9" x2="554.3" y2="88.2" stroke="#3aacac" stroke-width="3.8"/>
<line x1="554.3" y1="88.2" x2="545.7" y2="84.5" stroke="#3aacac" stroke-width="3.8"/>
<line x1="563.2" y1="91.3" x2="554.6" y2="87.6" stroke="#a8e8e8" stroke-width="1"/>
<line x1="554.6" y1="87.6" x2="546.0" y2="83.9" stroke="#a8e8e8" stroke-width="1"/>
<line x1="545.7" y1="84.5" x2="539.2" y2="77.0" stroke="#3aacac" stroke-width="3.8"/>
<line x1="539.2" y1="77.0" x2="532.6" y2="69.6" stroke="#3aacac" stroke-width="3.8"/>
<line x1="546.2" y1="84.0" x2="539.7" y2="76.6" stroke="#a8e8e8" stroke-width="1"/>
<line x1="539.7" y1="76.6" x2="533.1" y2="69.1" stroke="#a8e8e8" stroke-width="1"/>
<line x1="532.6" y1="69.6" x2="536.9" y2="62.8" stroke="#3aacac" stroke-width="3.8"/>
<line x1="536.9" y1="62.8" x2="541.2" y2="55.9" stroke="#3aacac" stroke-width="3.8"/>
<line x1="532.0" y1="69.2" x2="536.3" y2="62.4" stroke="#a8e8e8" stroke-width="1"/>
<line x1="536.3" y1="62.4" x2="540.6" y2="55.5" stroke="#a8e8e8" stroke-width="1"/>
<line x1="532.6" y1="69.6" x2="522.2" y2="64.9" stroke="#3aacac" stroke-width="3.8"/>
<line x1="522.2" y1="64.9" x2="511.9" y2="60.3" stroke="#d08080" stroke-width="3.8"/>
<line x1="532.9" y1="69.0" x2="522.5" y2="64.3" stroke="#a8e8e8" stroke-width="1"/>
<line x1="522.5" y1="64.3" x2="512.2" y2="59.7" stroke="#f0c0c0" stroke-width="1"/>
<line x1="545.7" y1="84.5" x2="541.7" y2="89.9" stroke="#3aacac" stroke-width="3.8"/>
<line x1="541.7" y1="89.9" x2="537.7" y2="95.3" stroke="#0a0ae6" stroke-width="3.8"/>
<line x1="545.1" y1="84.1" x2="541.1" y2="89.5" stroke="#a8e8e8" stroke-width="1"/>
<line x1="541.1" y1="89.5" x2="537.1" y2="94.9" stroke="#7a7aff" stroke-width="1"/>
<line x1="537.7" y1="95.3" x2="532.5" y2="102.8" stroke="#0a0ae6" stroke-width="3.8"/>
<line x1="532.5" y1="102.8" x2="527.4" y2="110.2" stroke="#e60000" stroke-width="3.8"/>
<line x1="537.1" y1="94.9" x2="532.0" y2="102.4" stroke="#7a7aff" stroke-width="1"/>
<line x1="532.0" y1="102.4" x2="526.8" y2="109.8" stroke="#ff8a8a" stroke-width="1"/>
<line x1="571.5" y1="78.8" x2="581.0" y2="83.7" stroke="#3aacac" stroke-width="3.8"/>
<line x1="581.0" y1="83.7" x2="590.5" y2="88.5" stroke="#3aacac" stroke-width="3.8"/>
<line x1="571.8" y1="78.2" x2="581.3" y2="83.0" stroke="#a8e8e8" stroke-width="1"/>
<line x1="581.3" y1="83.0" x2="590.8" y2="87.9" stroke="#a8e8e8" stroke-width="1"/>
<line x1="590.5" y1="88.5" x2="587.6" y2="91.8" stroke="#3aacac" stroke-width="3.8"/>
<line x1="587.6" y1="91.8" x2="584.7" y2="95.2" stroke="#e60000" stroke-width="3.8"/>
<line x1="590.0" y1="88.0" x2="587.1" y2="91.4" stroke="#a8e8e8" stroke-width="1"/>
<line x1="587.1" y1="91.4" x2="584.2" y2="94.7" stroke="#ff8a8a" stroke-width="1"/>
<line x1="590.5" y1="88.5" x2="599.1" y2="89.2" stroke="#3aacac" stroke-width="3.8"/>
<line x1="599.1" y1="89.2" x2="607.7" y2="89.8" stroke="#0a0ae6" stroke-width="3.8"/>
<line x1="590.6" y1="87.8" x2="599.2" y2="88.5" stroke="#a8e8e8" stroke-width="1"/>
<line x1="599.2" y1="88.5" x2="607.8" y2="89.1" stroke="#7a7aff" stroke-width="1"/>
<line x1="607.7" y1="89.8" x2="610.2" y2="86.2" stroke="#0a0ae6" stroke-width="3.8"/>
<line x1="610.2" y1="86.2" x2="612.7" y2="82.6" stroke="#3aacac" stroke-width="3.8"/>
<line x1="607.1" y1="89.4" x2="609.6" y2="85.8" stroke="#7a7aff" stroke-width="1"/>
<line x1="609.6" y1="85.8" x2="612.1" y2="82.2" stroke="#a8e8e8" stroke-width="1"/>
<line x1="612.7" y1="82.6" x2="620.2" y2="73.2" stroke="#3aacac" stroke-width="3.8"/>
<line x1="620.2" y1="73.2" x2="627.6" y2="63.8" stroke="#3aacac" stroke-width="3.8"/>
<line x1="612.2" y1="82.2" x2="619.6" y2="72.8" stroke="#a8e8e8" stroke-width="1"/>
<line x1="619.6" y1="72.8" x2="627.1" y2="63.4" stroke="#a8e8e8" stroke-width="1"/>
<line x1="627.6" y1="63.8" x2="635.4" y2="65.8" stroke="#3aacac" stroke-width="3.8"/>
<line x1="635.4" y1="65.8" x2="643.1" y2="67.7" stroke="#0a0ae6" stroke-width="3.8"/>
<line x1="627.8" y1="63.1" x2="635.5" y2="65.1" stroke="#a8e8e8" stroke-width="1"/>
<line x1="635.5" y1="65.1" x2="643.3" y2="67.0" stroke="#7a7aff" stroke-width="1"/>
<line x1="643.1" y1="67.7" x2="641.5" y2="74.6" stroke="#0a0ae6" stroke-width="3.8"/>
<line x1="641.5" y1="74.6" x2="639.8" y2="81.5" stroke="#3aacac" stroke-width="3.8"/>
<line x1="642.4" y1="67.5" x2="640.8" y2="74.4" stroke="#7a7aff" stroke-width="1"/>
<line x1="640.8" y1="74.4" x2="639.1" y2="81.3" stroke="#a8e8e8" stroke-width="1"/>
<line x1="639.8" y1="81.5" x2="632.6" y2="90.7" stroke="#3aacac" stroke-width="3.8"/>
<line x1="632.6" y1="90.7" x2="625.4" y2="99.8" stroke="#3aacac" stroke-width="3.8"/>
<line x1="639.2" y1="81.1" x2="632.0" y2="90.2" stroke="#a8e8e8" stroke-width="1"/>
<line x1="632.0" y1="90.2" x2="624.8" y2="99.4" stroke="#a8e8e8" stroke-width="1"/>
<line x1="625.4" y1="99.8" x2="616.5" y2="94.8" stroke="#3aacac" stroke-width="3.8"/>
<line x1="616.5" y1="94.8" x2="607.7" y2="89.8" stroke="#0a0ae6" stroke-width="3.8"/>
<line x1="625.7" y1="99.2" x2="616.9" y2="94.2" stroke="#a8e8e8" stroke-width="1"/>
<line x1="616.9" y1="94.2" x2="608.0" y2="89.2" stroke="#7a7aff" stroke-width="1"/>
<line x1="643.1" y1="67.7" x2="652.0" y2="61.5" stroke="#0a0ae6" stroke-width="3.8"/>
<line x1="652.0" y1="61.5" x2="660.8" y2="55.2" stroke="#3aacac" stroke-width="3.8"/>
<line x1="642.7" y1="67.1" x2="651.5" y2="60.9" stroke="#7a7aff" stroke-width="1"/>
<line x1="651.5" y1="60.9" x2="660.4" y2="54.6" stroke="#a8e8e8" stroke-width="1"/>
<line x1="660.8" y1="55.2" x2="663.2" y2="49.3" stroke="#3aacac" stroke-width="3.8"/>
<line x1="663.2" y1="49.3" x2="665.7" y2="43.4" stroke="#3aacac" stroke-width="3.8"/>
<line x1="660.2" y1="54.9" x2="662.6" y2="49.0" stroke="#a8e8e8" stroke-width="1"/>
<line x1="662.6" y1="49.0" x2="665.1" y2="43.1" stroke="#a8e8e8" stroke-width="1"/>
<line x1="665.7" y1="43.4" x2="674.0" y2="36.5" stroke="#3aacac" stroke-width="3.8"/>
<line x1="674.0" y1="36.5" x2="682.4" y2="29.7" stroke="#3aacac" stroke-width="3.8"/>
<line x1="665.3" y1="42.9" x2="673.6" y2="36.0" stroke="#a8e8e8" stroke-width="1"/>
<line x1="673.6" y1="36.0" x2="682.0" y2="29.2" stroke="#a8e8e8" stroke-width="1"/>
<line x1="682.4" y1="29.7" x2="689.2" y2="28.0" stroke="#3aacac" stroke-width="3.8"/>
<line x1="689.2" y1="28.0" x2="696.1" y2="26.3" stroke="#3aacac" stroke-width="3.8"/>
<line x1="682.2" y1="29.0" x2="689.1" y2="27.3" stroke="#a8e8e8" stroke-width="1"/>
<line x1="689.1" y1="27.3" x2="695.9" y2="25.6" stroke="#a8e8e8" stroke-width="1"/>
<line x1="696.1" y1="26.3" x2="693.7" y2="32.1" stroke="#3aacac" stroke-width="3.8"/>
<line x1="693.7" y1="32.1" x2="691.2" y2="38.0" stroke="#3aacac" stroke-width="3.8"/>
<line x1="695.5" y1="26.0" x2="693.0" y2="31.9" stroke="#a8e8e8" stroke-width="1"/>
<line x1="693.0" y1="31.9" x2="690.6" y2="37.7" stroke="#a8e8e8" stroke-width="1"/>
<line x1="691.2" y1="38.0" x2="682.9" y2="44.4" stroke="#3aacac" stroke-width="3.8"/>
<line x1="682.9" y1="44.4" x2="674.5" y2="50.8" stroke="#3aacac" stroke-width="3.8"/>
<line x1="690.8" y1="37.4" x2="682.4" y2="43.8" stroke="#a8e8e8" stroke-width="1"/>
<line x1="682.4" y1="43.8" x2="674.1" y2="50.2" stroke="#a8e8e8" stroke-width="1"/>
<line x1="674.5" y1="50.8" x2="667.6" y2="53.0" stroke="#3aacac" stroke-width="3.8"/>
<line x1="667.6" y1="53.0" x2="660.8" y2="55.2" stroke="#3aacac" stroke-width="3.8"/>
<line x1="674.3" y1="50.1" x2="667.4" y2="52.3" stroke="#a8e8e8" stroke-width="1"/>
<line x1="667.4" y1="52.3" x2="660.6" y2="54.5" stroke="#a8e8e8" stroke-width="1"/>
<circle cx="671.1" cy="61.6" r="4.9" fill="url(#gF)"/>
<line x1="674.5" y1="50.8" x2="672.8" y2="56.2" stroke="#3aacac" stroke-width="3.8"/>
<line x1="672.8" y1="56.2" x2="671.1" y2="61.6" stroke="#d8189a" stroke-width="3.8"/>
<line x1="673.8" y1="50.6" x2="672.1" y2="56.0" stroke="#a8e8e8" stroke-width="1"/>
<line x1="672.1" y1="56.0" x2="670.4" y2="61.4" stroke="#ff90d0" stroke-width="1"/>
<circle cx="541.2" cy="55.9" r="4.7" fill="url(#gC)"/>
<circle cx="559.5" cy="62.7" r="4.7" fill="url(#gC)"/>
<circle cx="571.5" cy="78.8" r="4.7" fill="url(#gC)"/>
<circle cx="562.9" cy="91.9" r="4.7" fill="url(#gC)"/>
<circle cx="545.7" cy="84.5" r="4.7" fill="url(#gC)"/>
<circle cx="532.6" cy="69.6" r="4.7" fill="url(#gC)"/>
<circle cx="511.9" cy="60.3" r="6.6" fill="url(#gCl)"/>
<circle cx="537.7" cy="95.3" r="4.5" fill="url(#gN)"/>
<circle cx="527.4" cy="110.2" r="4.7" fill="url(#gO)"/>
<circle cx="590.5" cy="88.5" r="4.7" fill="url(#gC)"/>
<circle cx="584.7" cy="95.2" r="4.7" fill="url(#gO)"/>
<circle cx="607.7" cy="89.8" r="4.5" fill="url(#gN)"/>
<circle cx="612.7" cy="82.6" r="4.7" fill="url(#gC)"/>
<circle cx="627.6" cy="63.8" r="4.7" fill="url(#gC)"/>
<circle cx="643.1" cy="67.7" r="4.5" fill="url(#gN)"/>
<circle cx="639.8" cy="81.5" r="4.7" fill="url(#gC)"/>
<circle cx="625.4" cy="99.8" r="4.7" fill="url(#gC)"/>
<circle cx="660.8" cy="55.2" r="4.7" fill="url(#gC)"/>
<circle cx="665.7" cy="43.4" r="4.7" fill="url(#gC)"/>
<circle cx="682.4" cy="29.7" r="4.7" fill="url(#gC)"/>
<circle cx="696.1" cy="26.3" r="4.7" fill="url(#gC)"/>
<circle cx="691.2" cy="38.0" r="4.7" fill="url(#gC)"/>
<circle cx="674.5" cy="50.8" r="4.7" fill="url(#gC)"/>
<text x="482.2" y="67.4" font-size="18.5" font-weight="bold" fill="#d98080">Cl</text>
<text x="680.6" y="67.0" font-size="18" font-weight="bold" fill="#e0189c">F</text>
<line x1="589" y1="31" x2="589" y2="119.4" stroke="#000" stroke-width="2" stroke-dasharray="3.4,2.4"/>
<path d="M588.9,15.8 L594.4,31.8 L588.9,29 L583.6,31.8 Z" fill="#000"/>
<text x="599.8" y="16.8" font-size="16.4">membrane</text>
<text x="599.8" y="32.6" font-size="16.4">normal</text>
<text x="578.4" y="69.6" font-size="17" text-anchor="middle" font-family="Liberation Serif, serif" style="font-family:'Liberation Serif',serif">θ</text>
<path d="M573.6,79.6 Q578.5,72.8 589,71.6" fill="none" stroke="#000" stroke-width="1.4"/>
<line x1="531.5" y1="67.2" x2="589.2" y2="88.9" stroke="#000" stroke-width="4.6" stroke-linecap="butt"/>
<line x1="531.5" y1="67.2" x2="587.6" y2="88.3" stroke="#f5d000" stroke-width="2.4"/>
<line x1="531.5" y1="67.2" x2="586" y2="87.7" stroke="#fff8c0" stroke-width="0.8"/>
<path d="M517.6,61.8 L536.6,59.0 L529.2,76.2 Z" fill="#f5d000" stroke="#000" stroke-width="1.6" stroke-linejoin="miter"/>
<circle cx="530.5" cy="65.5" r="1.3" fill="#fffbe0"/>
<clipPath id="clipH1"><rect x="492.0" y="134.0" width="222.60" height="213.00"/></clipPath>
<g clip-path="url(#clipH1)">
<rect x="492.0" y="134.0" width="222.60" height="213.0" fill="#000095"/>
<path fill-rule="evenodd" fill="#00009c" d="M492.0,134.0L492.0,346.7L714.3,346.7L714.3,134.0Z"/>
<path fill-rule="evenodd" fill="#0000a3" d="M554.7,134.0L553.7,135.3L548.3,138.3L537.3,146.7L528.3,156.0L523.3,162.7L517.0,173.3L512.7,182.3L494.3,230.0L492.0,233.7L492.0,335.3L493.7,336.7L495.3,339.3L501.0,345.0L502.0,346.7L613.7,346.7L614.7,345.3L626.0,337.7L637.0,326.7L643.7,318.0L651.0,303.7L655.3,291.0L657.7,281.3L660.3,265.7L661.3,252.0L662.3,246.0L663.3,227.0L662.7,202.7L661.3,193.0L658.3,181.0L655.3,172.3L648.3,158.7L641.0,149.0L631.7,139.7L624.7,134.0Z"/>
<path fill-rule="evenodd" fill="#0000aa" d="M611.7,141.7L605.3,139.3L599.3,138.0L586.0,138.0L573.3,140.3L561.7,145.0L554.0,149.7L545.7,156.0L538.0,164.0L530.7,174.7L524.0,187.7L516.7,206.3L514.7,213.0L501.7,244.7L500.7,248.7L498.3,254.3L494.7,269.0L492.7,290.0L493.3,292.7L493.3,300.0L494.7,307.7L497.3,317.3L501.7,326.3L505.0,331.3L511.7,338.0L518.0,342.3L524.3,345.0L526.7,346.7L581.7,346.7L584.3,345.0L594.7,341.7L609.0,334.3L617.7,328.3L627.3,318.7L633.0,311.3L639.7,298.3L643.3,287.3L645.3,279.3L647.0,267.3L648.0,263.7L648.7,252.7L650.0,243.7L650.7,232.3L650.7,210.7L649.0,195.0L644.0,177.7L637.7,165.3L631.7,157.3L623.7,149.3L617.3,144.7Z"/>
<path fill-rule="evenodd" fill="#0000b6" d="M604.0,151.0L597.3,149.3L587.3,149.3L581.7,150.0L570.3,153.3L562.0,157.7L552.0,165.0L544.3,173.3L537.3,184.3L532.0,196.0L526.7,210.3L524.7,217.3L514.0,241.7L508.3,256.3L504.3,272.3L502.7,287.3L502.7,296.0L503.3,302.3L505.3,311.7L507.0,316.3L509.7,321.7L513.0,326.7L519.3,332.3L527.0,336.7L538.0,340.0L546.0,341.0L559.0,341.0L572.7,339.3L579.7,337.7L590.7,334.0L604.3,327.0L612.7,321.0L619.3,314.3L624.7,307.3L631.0,295.0L634.3,285.0L636.0,278.0L639.0,258.0L639.0,251.3L640.3,236.0L640.3,214.7L638.3,197.3L633.7,182.0L628.3,171.7L621.3,162.7L616.7,158.3L611.7,154.7Z"/>
<path fill-rule="evenodd" fill="#0000c7" d="M601.0,161.0L596.3,159.7L592.7,159.3L582.7,160.0L574.0,162.3L567.0,165.7L557.3,172.3L551.3,178.3L545.0,187.3L541.0,195.0L536.0,208.7L532.3,222.3L522.3,241.7L515.3,258.0L511.0,273.3L509.0,287.0L509.0,303.0L510.3,310.3L512.3,316.3L516.7,323.7L521.0,328.0L525.7,331.3L529.0,333.0L539.3,336.3L549.7,337.7L557.0,337.7L574.0,335.7L588.3,331.3L599.3,326.0L603.7,323.3L610.0,318.3L618.0,309.3L622.3,302.7L626.0,294.7L629.7,283.3L631.0,277.0L633.0,261.7L633.3,255.0L632.7,224.0L630.3,202.7L629.3,198.0L625.3,186.3L620.7,177.7L615.7,171.3L612.0,167.7L607.7,164.3Z"/>
<path fill-rule="evenodd" fill="#0000d8" d="M597.3,170.7L593.0,169.7L586.0,169.7L576.7,171.7L569.7,175.0L564.3,178.3L556.7,185.3L551.0,193.0L547.0,201.3L544.3,209.3L540.7,226.0L530.7,242.3L521.7,261.0L517.7,274.3L515.0,289.3L514.3,300.0L515.7,310.7L517.0,314.7L521.0,321.7L524.3,325.0L529.0,328.3L536.3,331.7L548.7,334.0L561.3,334.0L575.7,332.0L590.3,327.0L601.0,321.0L609.3,313.7L615.0,306.3L618.3,300.7L621.0,294.7L625.0,281.7L626.3,274.0L627.3,263.0L627.3,253.7L626.3,239.7L622.3,207.3L621.0,201.3L618.3,193.7L615.7,188.0L612.3,182.7L605.3,175.3L601.0,172.3Z"/>
<path fill-rule="evenodd" fill="#0000e9" d="M595.3,181.0L592.0,180.0L587.0,179.7L583.3,180.0L576.0,182.3L570.3,185.3L565.7,188.7L559.0,195.7L555.3,202.0L552.7,209.7L550.3,225.3L549.3,228.7L546.7,233.7L539.0,244.0L535.0,250.3L527.7,265.0L524.7,274.3L521.0,290.7L520.0,299.7L520.3,307.7L521.3,312.3L525.0,319.3L530.7,324.3L537.7,328.0L548.0,330.3L560.3,330.7L568.3,330.0L579.3,327.7L590.7,323.3L599.3,318.0L606.0,311.7L611.7,303.7L616.3,294.0L619.0,285.7L621.0,275.7L621.7,268.3L621.7,257.7L620.3,246.3L614.0,209.7L611.0,200.0L607.0,192.0L604.7,188.7L600.7,184.7Z"/>
<path fill-rule="evenodd" fill="#0000fa" d="M590.7,190.3L583.3,190.0L577.3,192.0L570.0,196.3L564.7,201.7L562.7,205.0L560.7,211.0L559.3,225.7L557.3,233.0L553.0,240.0L544.7,249.7L538.7,258.7L533.3,269.7L527.0,292.0L525.7,300.0L525.3,306.3L526.3,311.7L529.0,317.0L535.0,322.3L539.7,324.7L545.3,326.3L550.7,327.0L566.3,327.0L576.0,325.3L585.7,322.0L590.7,319.7L596.3,316.0L601.7,311.0L607.3,303.0L611.3,294.3L615.0,281.7L616.3,271.7L616.3,262.3L614.7,250.7L607.7,222.7L605.0,209.3L601.3,200.7L597.3,195.0L594.7,192.7Z"/>
<path fill-rule="evenodd" fill="#0019ff" d="M590.0,195.7L587.7,195.0L584.3,195.0L581.7,195.7L576.0,198.3L568.3,204.3L566.3,207.7L564.7,212.7L563.0,227.0L560.3,234.7L555.3,242.3L547.0,252.3L540.0,263.3L536.0,271.7L530.3,289.0L528.3,299.7L528.0,306.3L529.0,311.0L531.0,315.0L536.3,320.0L540.7,322.3L546.0,324.0L550.7,324.7L567.0,324.7L576.0,323.0L586.7,319.0L595.3,313.7L599.7,309.3L605.3,301.0L609.0,292.3L612.3,280.7L613.7,272.0L614.0,264.3L611.7,249.0L605.7,229.3L601.3,210.0L596.7,201.3L593.7,198.0Z"/>
<path fill-rule="evenodd" fill="#003dff" d="M589.0,197.7L585.0,197.3L581.7,198.3L577.0,201.0L569.7,207.0L567.0,212.3L564.7,225.7L562.3,232.7L557.3,241.0L550.3,250.0L543.7,260.0L538.0,270.3L535.0,277.7L532.0,286.7L530.3,293.7L529.3,301.7L529.7,307.0L530.3,309.7L532.7,314.0L537.0,318.0L542.0,320.7L547.7,322.3L552.3,323.0L566.0,323.0L576.0,321.0L585.3,317.3L593.0,312.7L597.7,308.3L603.3,300.3L607.3,291.0L610.3,281.3L612.3,271.0L612.7,263.7L611.7,254.3L610.7,249.3L603.7,226.7L600.3,210.7L596.0,203.0L592.7,199.7Z"/>
<path fill-rule="evenodd" fill="#0061ff" d="M590.0,200.3L588.0,199.7L585.3,199.7L583.3,200.3L579.3,202.7L571.3,209.0L569.3,212.3L566.0,225.7L562.7,233.7L545.0,260.3L541.3,266.7L536.0,278.0L533.0,286.3L531.3,293.3L530.7,299.7L531.0,306.3L532.3,310.0L534.7,313.3L538.7,316.7L542.3,318.7L551.3,321.0L564.3,321.3L572.3,320.0L578.0,318.3L586.7,314.3L593.3,309.7L599.0,303.3L603.3,295.7L609.0,279.3L611.0,270.3L611.0,256.3L609.7,249.0L603.0,228.7L600.7,215.3L599.3,211.0L595.3,204.3Z"/>
<path fill-rule="evenodd" fill="#0093ff" d="M590.3,202.7L588.3,202.0L586.0,202.0L584.0,202.7L578.3,207.7L573.3,210.7L571.7,212.7L570.0,216.7L568.7,222.3L564.3,232.3L546.0,261.3L541.0,270.0L536.0,280.3L534.3,284.7L532.3,292.7L532.3,305.7L535.0,310.7L539.3,314.7L543.7,317.0L552.7,319.3L563.0,319.7L572.7,318.0L578.7,316.0L585.3,312.7L590.3,309.3L597.3,302.0L600.3,297.3L602.7,292.0L607.3,279.0L609.7,270.0L610.3,265.0L610.0,255.7L609.0,249.7L602.0,229.0L598.7,212.0L597.7,209.7L595.0,206.0Z"/>
<path fill-rule="evenodd" fill="#00d2ff" d="M590.0,204.7L586.7,204.3L585.0,205.0L579.7,210.3L575.3,212.3L573.0,214.7L569.7,223.7L566.0,231.3L553.3,251.3L550.3,257.3L540.3,273.7L536.7,281.0L533.3,292.0L533.3,303.3L534.0,305.7L536.0,309.0L538.7,311.7L544.0,315.0L553.7,317.7L562.3,318.0L567.3,317.3L577.7,314.3L583.0,311.7L589.0,307.7L596.0,300.3L600.7,291.7L606.0,277.7L608.3,269.7L609.0,265.7L609.0,255.0L606.7,245.0L601.3,230.0L598.7,215.7L596.0,209.3L593.0,206.3Z"/>
<path fill-rule="evenodd" fill="#00f59f" d="M589.7,208.0L586.3,208.0L580.0,213.0L575.7,215.0L573.7,217.0L566.3,233.7L559.7,244.3L551.7,258.7L540.7,275.3L536.7,283.3L534.7,290.7L534.3,298.7L535.0,302.3L537.0,306.7L540.7,310.3L546.0,313.3L554.0,315.7L562.7,316.0L571.0,314.3L575.7,312.7L581.7,309.7L589.0,304.7L594.3,299.0L597.0,295.0L599.0,290.7L607.0,269.0L608.0,263.3L608.0,255.7L606.7,248.3L603.7,238.7L601.7,234.0L597.3,216.7L593.3,210.3Z"/>
<path fill-rule="evenodd" fill="#00ff53" d="M589.0,212.0L585.7,212.0L581.0,215.3L576.3,217.3L574.3,219.0L567.7,235.0L558.3,252.0L553.7,259.3L544.3,272.0L538.7,281.3L537.3,284.7L536.0,290.7L536.0,297.0L537.3,302.3L539.0,305.0L542.7,308.7L549.0,312.0L557.3,314.0L563.3,314.0L568.3,313.0L573.7,311.0L583.0,306.0L590.0,300.7L595.0,294.7L597.7,289.3L605.7,269.0L607.0,261.3L607.0,255.7L605.3,247.0L600.7,233.7L597.7,222.0L594.3,216.3Z"/>
<path fill-rule="evenodd" fill="#00ff13" d="M587.7,215.3L586.3,215.3L582.7,217.7L576.3,220.3L575.3,221.3L565.7,241.7L557.3,256.0L545.0,273.0L539.7,282.0L537.7,289.3L537.7,295.7L539.0,300.7L540.7,303.7L544.3,307.3L550.7,310.7L556.7,312.3L566.3,312.0L573.7,309.3L586.0,302.3L592.3,296.3L594.7,293.0L604.0,270.7L606.0,262.7L606.0,254.0L604.0,245.0L596.0,223.0L591.3,217.7Z"/>
<path fill-rule="evenodd" fill="#26ff00" d="M588.0,219.7L585.7,219.7L579.7,222.0L576.3,224.7L571.0,233.3L566.7,241.7L560.3,251.3L556.7,258.7L546.0,273.3L541.7,280.7L540.0,286.0L539.3,290.3L539.7,295.3L540.7,299.0L542.7,302.7L546.0,306.0L552.0,309.3L557.7,311.0L564.3,311.0L569.3,309.7L575.7,307.0L583.0,303.0L587.7,299.7L592.7,294.3L596.7,286.7L604.0,268.0L605.3,262.0L605.3,254.0L604.3,248.7L602.3,242.3L596.3,229.0L593.0,223.7L590.7,221.3Z"/>
<path fill-rule="evenodd" fill="#5dff00" d="M588.0,223.7L586.0,223.3L580.3,225.0L576.7,228.3L573.7,232.0L565.0,245.7L561.3,250.3L557.3,259.0L546.3,274.7L542.7,281.7L541.3,288.0L541.3,292.7L542.7,298.0L544.7,301.7L547.7,304.7L555.7,309.0L558.7,309.7L564.3,309.7L567.3,309.0L577.7,304.7L587.0,299.0L593.0,292.3L602.7,269.7L604.7,261.7L604.7,253.3L602.7,245.3L599.7,238.7L593.3,228.7L590.3,225.3Z"/>
<path fill-rule="evenodd" fill="#94ff00" d="M586.7,227.0L583.0,227.3L578.3,230.0L573.7,234.3L566.7,244.3L561.7,250.3L559.3,254.7L557.0,261.0L547.3,275.0L544.0,282.0L543.0,290.3L544.7,297.3L546.7,300.7L549.7,303.7L555.7,307.3L559.3,308.3L564.0,308.3L567.3,307.7L573.7,305.3L581.7,301.3L586.3,298.3L590.7,294.0L593.3,290.0L601.7,270.0L603.7,263.3L604.3,259.0L604.0,252.7L601.7,244.7L599.0,239.7L595.3,234.7L590.3,229.3Z"/>
<path fill-rule="evenodd" fill="#bfff00" d="M587.7,231.0L584.0,230.3L577.7,233.0L575.0,235.0L570.3,240.0L561.3,251.3L557.0,262.0L549.7,273.0L547.0,278.0L545.0,283.7L545.3,293.0L548.7,299.7L552.7,303.7L555.7,305.7L560.0,307.0L566.0,306.7L573.7,304.0L582.0,300.0L588.7,295.0L592.0,290.7L594.7,285.3L599.7,272.0L601.0,269.7L603.7,259.7L603.3,252.0L601.3,245.7L599.0,241.3L593.7,235.3Z"/>
<path fill-rule="evenodd" fill="#eaff00" d="M588.0,233.7L583.7,233.0L579.3,234.0L575.3,236.3L570.3,241.0L561.3,251.7L556.0,264.7L548.0,278.0L546.3,283.0L546.3,289.3L547.3,293.3L549.3,297.3L554.3,303.0L557.7,305.0L560.0,305.7L565.0,305.7L571.7,303.7L582.3,298.7L587.0,295.3L590.3,291.7L594.3,284.0L598.7,272.3L600.3,269.3L603.0,259.3L603.0,254.0L602.0,249.3L600.3,245.0L598.7,242.3L594.3,237.7Z"/>
<path fill-rule="evenodd" fill="#fff800" d="M588.3,235.3L586.0,234.7L582.3,234.7L579.3,235.3L576.0,237.0L572.7,239.7L564.0,248.3L561.0,252.7L559.0,257.3L558.0,261.3L549.7,276.3L547.3,283.3L547.3,288.3L548.0,291.3L552.0,298.7L556.0,302.7L558.7,304.0L561.3,304.7L566.0,304.3L571.3,302.7L581.0,298.3L587.3,293.7L590.3,290.0L593.0,285.0L598.3,271.0L599.7,268.7L602.3,259.0L602.3,254.0L601.0,248.7L598.3,243.3L594.3,239.0Z"/>
<path fill-rule="evenodd" fill="#ffea00" d="M588.3,236.7L586.3,236.0L581.7,236.0L575.7,238.3L572.0,241.0L563.7,249.0L560.3,254.3L558.0,262.0L551.0,275.3L548.3,283.7L549.0,290.7L551.3,295.7L556.3,301.3L560.7,303.3L565.0,303.3L571.0,301.7L580.7,297.3L584.7,294.7L588.3,291.0L593.0,282.7L598.3,269.3L601.3,259.7L601.3,252.7L599.7,247.3L597.7,244.0L593.0,239.3Z"/>
<path fill-rule="evenodd" fill="#ffdc00" d="M587.7,237.7L583.0,237.0L580.7,237.3L575.7,239.3L570.3,243.0L563.3,249.7L560.7,254.0L558.0,262.7L551.0,277.3L549.3,284.0L549.7,288.7L552.0,294.7L553.7,297.0L558.7,301.3L560.7,302.0L565.7,302.0L569.7,301.0L575.7,298.7L582.3,295.0L587.7,290.0L589.7,287.0L594.3,277.3L600.3,259.7L600.7,253.7L599.0,248.0L597.0,244.7L593.0,240.7Z"/>
<path fill-rule="evenodd" fill="#ffcd00" d="M587.7,239.0L585.7,238.3L581.7,238.3L576.3,240.0L572.0,242.3L567.7,245.7L563.0,250.3L560.7,254.3L558.3,262.3L552.3,276.0L550.3,285.0L551.3,290.7L553.3,294.7L557.3,299.0L559.7,300.3L562.0,301.0L568.0,300.3L574.7,298.0L579.3,295.7L582.7,293.3L587.0,289.0L590.7,283.0L594.7,273.7L599.3,259.7L599.7,253.0L598.0,248.0L596.0,245.0L592.0,241.3Z"/>
<path fill-rule="evenodd" fill="#ffb600" d="M591.0,242.0L587.0,240.0L584.0,239.3L576.3,241.0L570.7,243.7L564.3,249.0L561.3,253.3L558.3,263.0L554.3,272.3L551.7,282.3L551.7,287.7L552.7,291.0L554.7,294.7L559.0,298.7L561.7,299.7L567.3,299.3L572.0,298.0L578.3,295.0L581.7,292.7L586.3,288.0L589.3,283.3L593.7,273.7L598.7,258.3L598.7,252.3L597.7,249.3L595.3,245.7Z"/>
<path fill-rule="evenodd" fill="#ff9f00" d="M590.0,242.7L585.0,240.7L578.3,241.3L569.7,244.7L566.0,247.7L562.7,251.3L560.0,257.0L559.0,261.7L555.0,272.0L552.7,282.0L552.7,287.0L553.7,290.7L555.7,294.0L558.7,297.0L561.7,298.3L566.3,298.3L575.0,295.7L579.0,293.3L582.7,290.3L588.3,283.0L592.3,274.7L598.0,256.3L598.0,253.7L596.7,249.3L595.7,247.7Z"/>
<path fill-rule="evenodd" fill="#ff8700" d="M590.7,244.3L585.3,242.0L580.7,242.0L574.3,243.3L568.7,245.7L562.7,251.7L560.3,256.7L559.0,262.3L557.0,267.0L553.7,281.7L553.7,286.3L554.7,290.0L556.3,293.0L559.3,296.0L561.3,297.0L565.3,297.3L573.3,295.3L577.7,293.0L583.7,287.7L587.7,282.0L591.3,274.7L593.7,266.0L597.0,256.7L597.0,253.0L595.7,249.3Z"/>
<path fill-rule="evenodd" fill="#ff6c00" d="M589.7,245.0L584.3,243.0L581.3,243.0L571.3,244.7L566.7,247.7L562.7,252.0L561.0,255.3L559.3,262.0L557.3,267.0L554.7,280.7L554.7,285.7L555.7,289.7L558.0,293.3L560.7,295.3L562.7,296.0L567.3,296.0L572.3,294.7L575.7,293.0L579.7,290.0L583.3,286.3L587.7,280.0L590.3,274.7L593.0,264.7L596.0,257.0L596.0,252.3L595.0,250.0L592.0,246.7Z"/>
<path fill-rule="evenodd" fill="#ff5000" d="M589.7,246.3L584.7,244.3L571.7,245.0L567.0,247.7L562.3,253.0L557.7,267.0L555.7,279.7L556.0,287.0L557.7,291.0L560.3,293.7L562.3,294.7L566.0,295.0L570.0,294.3L575.3,292.0L582.7,285.3L586.3,280.3L589.3,274.7L592.0,264.3L595.3,255.3L594.3,250.7L592.0,248.0Z"/>
<path fill-rule="evenodd" fill="#ff3400" d="M589.3,247.3L583.7,245.3L571.0,245.7L567.0,248.0L563.0,252.3L561.0,256.7L558.7,264.7L556.7,277.3L556.7,284.0L557.3,287.7L559.3,291.3L561.0,292.7L563.7,293.7L568.3,293.7L574.3,291.3L576.3,290.0L582.0,284.3L585.3,280.0L588.3,274.7L591.0,264.0L594.3,255.7L594.3,253.3L593.7,251.3L591.7,249.0Z"/>
<path fill-rule="evenodd" fill="#ff1e00" d="M588.7,248.3L583.7,246.7L570.7,246.3L566.3,249.0L563.0,253.0L561.3,256.7L559.0,265.0L557.7,274.0L558.0,285.3L559.7,289.7L561.3,291.3L563.7,292.3L569.0,292.3L573.3,290.7L575.3,289.3L584.3,279.7L587.3,274.3L589.7,264.7L593.3,255.0L593.3,253.7L592.3,251.3Z"/>
<path fill-rule="evenodd" fill="#ff0e00" d="M588.0,250.3L582.7,248.3L570.7,247.3L567.3,249.0L563.7,253.0L561.0,259.3L559.0,269.3L559.0,280.3L560.3,286.3L562.3,289.3L564.3,290.3L567.7,290.7L570.7,290.0L574.0,288.3L581.3,281.7L584.3,277.7L586.7,273.0L588.7,262.7L591.3,255.0L590.7,252.7Z"/>
<path fill-rule="evenodd" fill="#fd0000" d="M585.7,252.7L583.0,251.3L579.0,250.3L570.0,249.7L567.0,251.3L564.0,255.0L561.3,262.0L560.7,265.3L560.3,273.0L561.7,281.0L562.7,284.0L564.3,286.7L565.7,287.3L570.0,287.3L572.0,286.7L578.7,282.3L582.7,278.0L585.3,272.3L586.3,267.0L586.7,261.3L587.7,257.3L587.7,254.7Z"/>
<path fill-rule="evenodd" fill="#e90000" d="M581.0,253.7L574.3,252.0L570.7,252.0L568.7,253.0L566.0,255.7L563.7,260.0L562.3,265.0L562.3,273.7L564.0,279.7L566.0,283.3L567.7,284.3L571.3,284.0L577.3,281.3L581.0,278.0L582.7,275.3L584.3,268.7L584.3,256.7L583.3,255.0Z"/>
<path fill-rule="evenodd" fill="#d50000" d="M574.3,254.3L571.3,254.3L569.3,255.3L567.3,257.3L565.3,260.7L564.0,265.0L564.3,273.7L566.0,277.7L569.0,281.0L572.7,281.0L577.7,279.3L580.3,276.7L582.3,271.7L582.7,265.3L581.3,258.3L579.7,256.3Z"/>
<path fill-rule="evenodd" fill="#c10000" d="M572.0,256.7L570.0,257.7L566.7,262.0L565.7,265.0L565.7,271.3L567.0,274.7L570.0,278.0L574.7,278.7L577.7,277.7L579.3,275.7L580.7,272.3L581.0,267.7L580.0,262.7L578.7,259.7L576.0,257.3Z"/>
<path fill-rule="evenodd" fill="#9e0000" d="M572.0,259.0L569.3,261.0L567.7,264.0L567.0,269.3L568.3,273.0L570.0,275.0L572.0,276.3L575.0,277.0L577.0,276.3L578.7,274.0L579.3,271.3L579.3,268.0L578.7,265.0L576.7,261.0L574.0,259.0Z"/>
<path fill-rule="evenodd" fill="#790000" d="M572.7,261.0L571.3,261.7L569.7,264.0L569.0,266.0L569.0,269.7L570.0,272.0L572.0,274.0L574.0,275.0L575.3,275.0L576.7,274.0L577.3,272.3L577.3,267.3L575.3,262.7L574.0,261.3Z"/>
</g>
<line x1="670.08" y1="135.00" x2="670.08" y2="347.00" stroke="#fff" stroke-width="2.2" stroke-dasharray="7.8,3.8"/>
<rect x="492.0" y="134.0" width="222.60000000000002" height="213.0" fill="none" stroke="#000" stroke-width="1.2"/>
<line x1="492.00" y1="347.00" x2="488.20" y2="347.00" stroke="#000" stroke-width="1.0" />
<line x1="492.00" y1="329.25" x2="489.60" y2="329.25" stroke="#000" stroke-width="1.0" />
<line x1="492.00" y1="311.50" x2="488.20" y2="311.50" stroke="#000" stroke-width="1.0" />
<line x1="492.00" y1="293.75" x2="489.60" y2="293.75" stroke="#000" stroke-width="1.0" />
<line x1="492.00" y1="276.00" x2="488.20" y2="276.00" stroke="#000" stroke-width="1.0" />
<line x1="492.00" y1="258.25" x2="489.60" y2="258.25" stroke="#000" stroke-width="1.0" />
<line x1="492.00" y1="240.50" x2="488.20" y2="240.50" stroke="#000" stroke-width="1.0" />
<line x1="492.00" y1="222.75" x2="489.60" y2="222.75" stroke="#000" stroke-width="1.0" />
<line x1="492.00" y1="205.00" x2="488.20" y2="205.00" stroke="#000" stroke-width="1.0" />
<line x1="492.00" y1="187.25" x2="489.60" y2="187.25" stroke="#000" stroke-width="1.0" />
<line x1="492.00" y1="169.50" x2="488.20" y2="169.50" stroke="#000" stroke-width="1.0" />
<line x1="492.00" y1="151.75" x2="489.60" y2="151.75" stroke="#000" stroke-width="1.0" />
<line x1="492.00" y1="134.00" x2="488.20" y2="134.00" stroke="#000" stroke-width="1.0" />
<text x="485.20" y="351.00" font-size="11.3" text-anchor="end" fill="#000" font-weight="normal" >0</text>
<text x="485.20" y="315.50" font-size="11.3" text-anchor="end" fill="#000" font-weight="normal" >30</text>
<text x="485.20" y="280.00" font-size="11.3" text-anchor="end" fill="#000" font-weight="normal" >60</text>
<text x="485.20" y="244.50" font-size="11.3" text-anchor="end" fill="#000" font-weight="normal" >90</text>
<text x="485.20" y="209.00" font-size="11.3" text-anchor="end" fill="#000" font-weight="normal" >120</text>
<text x="485.20" y="173.50" font-size="11.3" text-anchor="end" fill="#000" font-weight="normal" >150</text>
<text x="485.20" y="138.00" font-size="11.3" text-anchor="end" fill="#000" font-weight="normal" >180</text>
<line x1="492.00" y1="347.00" x2="492.00" y2="350.50" stroke="#000" stroke-width="1.0" />
<line x1="514.26" y1="347.00" x2="514.26" y2="349.20" stroke="#000" stroke-width="1.0" />
<line x1="536.52" y1="347.00" x2="536.52" y2="350.50" stroke="#000" stroke-width="1.0" />
<line x1="558.78" y1="347.00" x2="558.78" y2="349.20" stroke="#000" stroke-width="1.0" />
<line x1="581.04" y1="347.00" x2="581.04" y2="350.50" stroke="#000" stroke-width="1.0" />
<line x1="603.30" y1="347.00" x2="603.30" y2="349.20" stroke="#000" stroke-width="1.0" />
<line x1="625.56" y1="347.00" x2="625.56" y2="350.50" stroke="#000" stroke-width="1.0" />
<line x1="647.82" y1="347.00" x2="647.82" y2="349.20" stroke="#000" stroke-width="1.0" />
<line x1="670.08" y1="347.00" x2="670.08" y2="350.50" stroke="#000" stroke-width="1.0" />
<line x1="692.34" y1="347.00" x2="692.34" y2="349.20" stroke="#000" stroke-width="1.0" />
<line x1="714.60" y1="347.00" x2="714.60" y2="350.50" stroke="#000" stroke-width="1.0" />
<text x="502.00" y="151.50" font-size="14.6" text-anchor="start" fill="#fff" font-weight="normal" >system 1</text>
<text x="0" y="0" font-size="16" text-anchor="middle" transform="translate(461.4,241.9) rotate(-90)">Angle (θ<tspan font-size="10.5" dy="-6">0</tspan><tspan dy="6">)</tspan></text>
<clipPath id="clipH3"><rect x="492.0" y="359.0" width="222.60" height="212.30"/></clipPath>
<g clip-path="url(#clipH3)">
<rect x="492.0" y="359.0" width="222.60" height="212.29999999999995" fill="#000095"/>
<path fill-rule="evenodd" fill="#00009c" d="M492.0,359.0L492.0,571.0L714.3,571.0L714.3,359.0Z"/>
<path fill-rule="evenodd" fill="#0000a3" d="M561.0,359.0L558.0,361.0L550.3,363.7L537.7,370.3L525.0,380.0L517.3,387.7L509.7,397.7L506.3,403.0L501.0,414.3L497.3,424.0L496.7,427.7L494.7,433.3L494.0,438.0L493.0,441.3L492.0,442.7L492.0,529.0L493.0,530.0L497.0,541.0L503.3,553.3L511.3,564.7L514.3,567.7L516.7,571.0L625.3,571.0L627.0,569.0L633.7,563.7L641.7,555.7L650.3,544.7L659.3,527.3L665.0,507.7L667.7,486.7L668.3,469.7L668.3,444.3L667.3,429.3L663.3,411.3L660.7,404.0L657.0,396.7L654.3,392.3L648.0,384.3L640.7,377.0L630.0,369.0L625.0,366.0L611.7,360.7L609.3,359.0Z"/>
<path fill-rule="evenodd" fill="#0000aa" d="M606.0,371.7L593.7,369.0L578.3,369.0L565.7,371.3L555.7,375.0L549.0,378.3L539.0,384.7L533.3,389.3L527.0,395.7L517.7,408.3L510.3,424.7L507.0,435.7L506.3,440.3L505.0,444.7L500.7,476.7L500.3,500.7L501.7,513.0L503.7,522.3L506.3,530.7L510.7,540.7L514.3,547.3L520.7,556.3L528.3,564.3L537.0,571.0L600.7,571.0L602.0,569.7L607.7,567.0L616.3,561.7L622.0,557.3L632.0,547.7L640.3,537.0L647.3,523.7L653.0,504.0L655.3,483.3L656.0,458.3L655.7,439.3L655.0,436.3L655.0,431.3L652.3,418.7L650.0,411.0L645.7,402.0L638.3,392.3L632.3,386.3L621.3,378.3L617.0,376.0Z"/>
<path fill-rule="evenodd" fill="#0000b6" d="M599.0,378.7L591.3,377.3L582.7,377.3L573.7,378.7L567.7,380.3L561.0,383.0L547.3,390.7L540.0,396.7L534.7,402.0L526.7,412.7L521.0,424.3L516.0,439.3L512.7,455.3L509.3,480.0L509.0,486.7L509.3,506.0L511.0,517.0L513.3,525.7L518.7,538.7L524.0,547.3L528.3,553.0L533.3,558.0L538.7,562.0L545.0,565.7L553.3,568.3L558.7,569.3L568.7,569.7L579.7,568.0L590.7,564.7L597.0,562.0L610.0,554.7L617.7,548.7L624.3,542.0L632.3,531.7L638.7,519.3L643.7,502.3L646.3,481.0L646.7,452.7L645.0,433.7L641.0,415.7L635.7,404.3L630.3,397.3L626.7,393.7L618.3,387.0L614.0,384.3L606.3,381.0Z"/>
<path fill-rule="evenodd" fill="#0000c7" d="M597.7,381.7L591.3,380.7L585.0,380.7L578.0,382.0L571.3,384.0L560.3,389.3L551.3,395.3L547.3,398.7L539.3,406.7L530.7,418.7L524.7,431.3L521.7,440.0L519.0,450.0L514.3,474.7L512.7,489.0L513.0,510.0L514.0,517.3L516.0,525.7L518.0,531.7L521.3,539.0L524.0,543.7L530.3,552.0L534.0,555.7L541.0,560.7L546.0,563.3L553.7,565.7L558.0,566.3L568.3,566.3L578.7,564.3L585.0,562.3L598.7,556.0L607.3,550.3L613.0,545.7L620.3,538.3L627.3,529.0L633.7,516.7L638.7,500.3L641.7,479.7L641.3,454.0L639.7,443.0L636.3,430.7L634.7,418.7L632.7,412.0L630.0,406.3L626.3,400.7L618.3,392.3L611.0,387.0L605.7,384.3Z"/>
<path fill-rule="evenodd" fill="#0000d8" d="M596.7,384.7L587.7,384.0L584.7,384.3L577.7,386.3L567.3,391.3L560.0,396.3L553.0,402.0L543.7,411.7L535.0,424.0L527.7,440.0L522.7,456.3L519.0,473.0L516.3,491.0L516.0,508.3L516.7,516.3L518.7,526.0L520.3,531.7L524.0,539.7L530.7,549.3L537.0,555.3L542.7,559.0L549.7,562.0L556.0,563.3L562.7,563.7L568.3,563.0L576.7,561.0L584.0,558.3L592.0,554.3L603.0,547.3L614.3,537.0L623.0,525.3L629.0,513.3L633.3,500.0L636.7,481.3L637.0,463.7L636.0,455.3L633.7,445.7L629.0,433.0L628.0,421.0L625.3,410.3L620.7,401.7L611.7,392.0L601.3,386.0Z"/>
<path fill-rule="evenodd" fill="#0000e9" d="M598.3,388.3L593.3,387.3L588.3,387.3L580.3,389.7L573.0,393.7L566.7,398.3L559.7,404.3L553.0,411.0L544.7,421.0L538.7,430.3L533.0,442.0L526.7,460.3L523.0,475.0L519.7,495.0L519.3,514.0L521.3,526.7L523.7,534.3L527.7,542.0L531.3,547.0L538.3,553.7L544.3,557.3L549.3,559.3L555.7,560.7L563.0,560.7L572.0,558.7L580.7,555.3L594.3,547.7L607.0,537.0L614.3,528.3L618.7,521.7L622.3,514.7L627.3,501.7L629.7,493.0L632.0,480.3L632.3,466.0L631.0,458.0L629.0,451.3L623.0,439.0L621.3,434.0L621.0,422.0L619.0,410.3L616.3,404.3L611.7,397.7L605.3,392.0Z"/>
<path fill-rule="evenodd" fill="#0000fa" d="M596.3,391.0L588.7,390.7L583.7,392.3L574.7,398.3L560.0,412.7L552.7,421.3L545.3,431.3L537.3,446.3L531.3,461.7L527.7,474.3L523.7,492.7L522.3,507.0L522.7,520.7L524.7,531.0L528.0,538.7L533.0,546.0L540.0,552.3L546.0,555.7L551.0,557.3L554.3,558.0L561.3,558.0L572.0,555.0L582.7,549.7L591.3,544.0L596.7,539.7L605.3,531.0L610.0,525.0L613.3,519.7L619.7,507.0L624.3,493.3L627.3,479.7L627.3,465.0L626.0,459.3L624.0,454.3L616.7,442.7L614.3,437.3L613.7,434.3L614.0,420.7L613.0,409.7L610.3,403.3L606.7,398.0L601.3,393.3Z"/>
<path fill-rule="evenodd" fill="#0019ff" d="M595.3,393.7L589.7,393.3L586.3,394.3L576.7,400.7L562.7,415.0L555.0,424.3L548.7,433.0L541.3,446.3L535.0,462.0L529.7,479.3L526.0,495.0L524.3,510.7L524.7,521.0L526.3,530.3L529.0,537.0L531.0,540.7L534.3,545.0L541.0,551.0L545.7,553.7L551.3,555.7L555.0,556.3L559.7,556.3L570.0,553.3L578.0,549.3L589.7,541.7L595.7,536.7L605.3,526.3L611.3,517.3L617.0,506.0L622.0,492.0L625.0,478.0L625.0,466.7L623.7,461.0L621.3,455.3L613.3,443.7L610.7,437.7L610.0,434.3L610.7,418.3L610.3,412.3L609.0,407.7L606.7,403.0L604.0,399.3L599.3,395.3Z"/>
<path fill-rule="evenodd" fill="#003dff" d="M594.7,396.3L590.3,396.0L586.7,397.0L578.7,402.0L564.3,416.3L555.0,428.0L550.0,435.3L543.7,447.7L537.7,463.3L530.7,485.7L528.3,495.3L526.3,510.3L526.3,520.0L528.0,530.0L532.3,539.7L535.3,543.7L540.0,548.3L544.3,551.3L552.0,554.3L560.3,554.7L570.0,551.3L578.0,547.0L588.0,540.3L595.0,534.7L604.7,524.3L610.0,516.3L615.3,506.0L620.7,491.3L623.0,481.0L623.7,474.7L623.3,466.0L622.0,460.7L619.7,455.3L611.7,443.7L609.3,438.3L608.7,435.3L608.7,415.3L606.7,408.0L604.7,404.3L600.3,399.3L598.0,397.7Z"/>
<path fill-rule="evenodd" fill="#0061ff" d="M594.0,399.0L589.0,399.0L586.7,399.7L577.3,406.0L565.3,418.3L555.3,431.3L552.3,436.0L547.0,446.7L540.7,463.7L532.7,488.0L530.3,497.0L528.3,510.3L528.3,522.0L529.3,528.3L531.0,533.3L534.0,539.3L537.3,543.7L545.0,550.0L551.3,552.7L554.7,553.3L559.0,553.3L566.3,551.0L580.0,543.3L594.0,533.0L601.3,525.7L608.0,516.7L614.0,505.3L619.3,491.0L622.0,478.0L622.0,467.0L620.7,461.3L618.3,455.7L610.3,444.0L608.0,439.0L607.0,433.7L607.0,417.0L605.0,409.7L602.7,405.7L599.0,401.7Z"/>
<path fill-rule="evenodd" fill="#0093ff" d="M593.3,401.7L587.7,402.0L580.0,406.7L566.3,420.3L557.3,432.3L554.7,436.7L549.0,448.7L533.3,494.7L531.0,505.0L530.0,513.7L530.0,521.3L531.0,528.0L535.3,538.3L538.3,542.3L544.7,548.0L550.7,551.0L557.7,552.0L565.3,549.7L576.3,543.3L592.7,531.7L602.0,522.3L607.0,515.3L613.0,504.0L617.7,491.7L619.3,485.3L620.7,476.7L620.7,468.3L620.0,464.3L617.3,456.7L609.0,444.3L606.7,439.3L605.7,434.7L605.3,418.0L603.3,411.3L600.3,406.7L597.3,403.7Z"/>
<path fill-rule="evenodd" fill="#00d2ff" d="M592.7,404.3L588.7,404.3L586.7,405.0L580.3,409.0L567.0,422.3L558.7,433.7L554.7,441.0L552.0,447.3L544.7,470.7L537.3,489.7L532.7,507.0L531.7,516.7L532.0,524.0L533.0,528.7L536.7,537.3L540.0,541.7L546.0,547.0L552.7,550.0L558.3,550.3L564.3,548.3L583.0,536.7L593.3,528.7L601.3,520.7L605.7,515.0L611.3,504.3L616.7,489.7L619.0,477.0L619.0,468.3L618.0,463.0L616.0,457.3L608.3,446.0L605.0,439.0L604.0,433.3L604.0,421.3L602.3,414.3L598.0,407.7L595.7,405.7Z"/>
<path fill-rule="evenodd" fill="#00f59f" d="M591.7,407.0L587.0,407.3L580.0,411.3L566.7,424.7L558.0,437.0L552.7,449.7L547.3,469.3L539.7,491.0L535.3,505.7L534.0,513.7L533.7,520.7L534.3,525.7L536.0,530.7L538.3,535.3L541.3,539.3L546.7,544.7L552.7,548.0L555.7,548.7L559.3,548.3L565.0,546.0L581.7,535.3L595.0,525.0L599.7,520.7L605.3,513.7L609.3,505.7L612.7,495.7L615.0,484.7L616.0,477.0L616.0,467.0L615.0,462.0L611.3,453.7L606.0,446.0L603.3,440.7L602.0,433.7L602.0,423.0L600.0,415.7L597.7,411.7L594.3,408.3Z"/>
<path fill-rule="evenodd" fill="#00ff53" d="M590.0,409.7L586.0,410.0L582.0,412.0L576.3,416.7L567.0,426.3L559.0,437.3L554.0,449.0L545.7,481.3L537.7,506.0L536.0,515.0L536.0,522.3L537.0,527.0L539.7,532.3L543.3,537.3L548.3,542.7L551.0,544.7L554.0,546.0L559.0,546.3L565.0,544.0L576.3,537.0L593.3,524.7L597.3,521.3L603.7,514.7L607.0,508.7L609.0,503.0L610.3,496.0L612.7,474.7L612.7,467.7L612.0,462.7L609.0,454.7L603.0,445.7L601.0,441.7L599.7,435.3L599.7,426.7L598.3,419.7L595.7,414.3L592.0,410.7Z"/>
<path fill-rule="evenodd" fill="#00ff13" d="M588.3,414.0L585.0,414.7L578.0,419.0L567.3,428.7L562.7,434.0L560.0,438.0L557.7,442.7L554.7,451.0L548.3,477.3L539.3,504.7L538.0,511.0L537.3,518.0L538.7,526.0L541.0,530.7L544.3,535.3L550.7,542.0L554.0,544.0L559.3,544.3L565.3,542.0L591.3,525.0L597.3,520.3L602.0,515.7L605.7,509.7L607.7,504.0L609.0,496.0L611.0,474.3L610.3,463.3L609.3,459.7L606.3,453.3L601.7,447.0L599.0,442.0L597.7,437.3L597.0,429.3L595.3,422.3L592.0,416.7Z"/>
<path fill-rule="evenodd" fill="#26ff00" d="M587.3,419.7L585.3,420.0L581.0,422.0L571.3,428.3L563.7,435.7L561.0,439.3L556.3,450.0L549.7,477.3L545.3,491.0L540.7,503.3L539.0,512.0L539.0,519.7L540.7,526.0L542.3,529.3L546.7,535.3L552.0,540.7L555.3,542.3L559.7,542.3L565.0,540.3L581.3,529.7L585.0,528.0L596.3,520.3L602.7,513.7L604.7,510.0L606.7,504.0L608.0,496.0L609.7,476.3L609.7,468.3L609.0,463.7L608.0,460.0L605.0,454.0L599.0,446.0L597.0,442.3L591.7,425.0L589.3,421.3Z"/>
<path fill-rule="evenodd" fill="#5dff00" d="M585.7,425.7L583.3,426.0L577.3,428.3L571.3,431.7L564.7,437.3L561.3,442.0L558.0,449.3L556.3,454.7L553.3,468.3L549.3,482.7L541.3,504.0L540.3,509.0L540.3,518.0L542.0,524.3L544.3,529.0L547.3,533.3L552.0,538.3L555.3,540.3L558.3,540.7L564.0,539.0L579.3,529.3L589.0,524.7L594.0,521.3L600.7,515.3L603.7,510.3L605.7,504.3L607.3,493.7L608.7,473.7L608.3,467.7L607.3,462.3L603.7,454.7L596.0,444.7L589.0,429.7L587.0,426.7Z"/>
<path fill-rule="evenodd" fill="#94ff00" d="M583.3,431.0L577.3,432.0L571.3,434.7L567.7,437.0L562.3,443.3L558.0,453.7L552.3,477.3L549.0,487.3L541.7,506.0L541.3,514.7L542.3,520.0L544.0,524.3L546.7,529.3L550.0,533.7L553.3,537.0L556.7,538.7L561.0,538.3L563.7,537.3L574.7,530.3L579.7,527.7L587.3,524.7L594.0,520.7L597.7,517.7L601.0,513.7L603.3,509.0L605.0,503.3L606.3,494.7L606.7,482.7L607.3,478.3L607.3,470.3L606.0,462.7L603.0,456.3L594.7,446.0L589.0,436.7L587.0,434.0L584.3,431.3Z"/>
<path fill-rule="evenodd" fill="#bfff00" d="M582.3,435.3L577.0,435.3L574.3,436.0L569.3,438.3L565.0,442.3L562.0,447.0L559.0,455.0L553.3,478.0L550.0,487.7L542.7,505.3L542.3,512.3L544.3,520.7L548.0,528.0L550.7,531.7L554.7,535.7L556.7,536.7L560.3,536.7L562.7,536.0L572.7,529.7L579.7,526.3L586.7,524.0L594.3,519.7L600.0,514.0L602.0,510.3L603.7,505.0L605.3,495.3L605.7,482.7L606.3,477.7L606.0,469.0L605.0,464.0L601.0,456.0L592.3,446.0L588.3,440.3L585.3,437.3Z"/>
<path fill-rule="evenodd" fill="#eaff00" d="M580.0,438.3L574.0,438.7L569.3,440.7L566.3,443.3L563.3,447.7L560.3,455.3L553.7,480.0L548.3,494.0L544.7,501.7L543.3,506.0L543.7,514.0L545.3,519.0L548.7,525.7L552.7,531.3L555.0,533.7L558.0,535.0L562.3,534.3L569.7,529.7L575.0,527.0L587.0,523.0L593.7,519.3L599.0,514.3L601.7,509.0L603.3,503.0L605.0,489.7L605.3,474.0L604.7,467.7L603.0,462.0L600.0,457.0L585.3,441.0Z"/>
<path fill-rule="evenodd" fill="#fff800" d="M578.7,441.0L574.3,441.3L570.3,443.0L566.7,446.3L565.0,448.7L562.3,454.0L554.3,480.0L544.3,505.7L544.3,511.7L546.0,517.0L551.0,526.3L553.0,529.0L557.7,533.0L560.7,533.0L562.7,532.3L572.0,527.0L580.0,524.0L585.3,522.7L593.7,518.3L598.7,513.3L601.0,508.3L602.7,502.3L604.3,487.7L604.3,473.7L603.7,468.3L602.3,463.7L599.0,458.0L587.7,446.3L583.7,443.0Z"/>
<path fill-rule="evenodd" fill="#ffea00" d="M578.7,444.0L574.7,444.3L570.0,446.7L567.3,449.7L564.3,454.3L559.7,465.3L553.0,485.0L545.7,503.7L545.0,508.7L547.0,516.0L553.0,526.0L555.7,529.0L558.7,531.0L562.3,530.3L569.7,526.7L586.0,521.3L592.0,518.3L595.0,516.0L597.7,513.0L600.0,508.3L602.0,502.0L603.3,491.7L603.3,473.3L602.7,469.0L601.0,463.7L597.7,458.7L593.3,454.3L583.7,446.3Z"/>
<path fill-rule="evenodd" fill="#ffdc00" d="M578.7,447.0L575.0,447.3L571.7,449.0L569.0,451.7L563.7,459.7L557.3,473.3L546.3,505.0L546.3,510.0L549.0,517.0L553.7,524.0L557.7,528.0L559.0,528.7L561.0,528.7L565.7,526.7L583.0,521.3L590.3,518.0L594.0,515.3L597.0,512.0L599.3,507.3L601.3,501.0L602.7,490.3L602.7,476.0L601.7,469.7L600.3,465.3L597.7,461.0L591.7,455.3L581.7,448.3Z"/>
<path fill-rule="evenodd" fill="#ffcd00" d="M578.0,450.0L576.3,450.0L574.0,451.0L568.7,456.0L560.7,467.7L556.3,477.3L547.7,503.3L547.3,509.3L549.7,515.3L554.7,522.3L559.3,526.3L561.7,526.3L579.7,521.3L585.3,519.3L590.3,516.7L595.7,512.0L599.0,505.7L601.0,499.0L602.0,489.3L601.7,475.7L599.7,467.0L597.7,463.3L593.3,459.0L587.0,454.7Z"/>
<path fill-rule="evenodd" fill="#ffb600" d="M578.3,453.3L576.3,453.3L572.0,456.3L565.0,463.3L560.7,469.3L556.7,477.7L549.3,500.0L548.3,504.7L548.3,508.7L550.7,514.3L554.7,519.7L558.0,523.0L560.7,524.3L576.3,521.3L585.0,518.3L592.0,514.0L595.7,510.0L598.0,505.7L600.3,498.3L601.0,494.0L600.7,475.3L598.3,467.0L597.0,464.7L593.3,461.0L588.7,458.0Z"/>
<path fill-rule="evenodd" fill="#ff9f00" d="M587.3,459.7L578.3,456.7L577.0,456.7L575.0,457.7L567.3,463.3L563.3,467.3L559.3,473.0L557.0,478.0L551.3,494.7L549.3,504.3L549.3,507.7L550.3,511.0L553.3,515.7L556.3,519.0L560.3,522.0L573.3,521.0L584.0,517.7L589.7,514.3L594.3,510.0L598.0,503.3L599.3,499.3L600.3,493.0L600.0,478.7L599.0,472.3L596.0,465.7L593.3,463.0Z"/>
<path fill-rule="evenodd" fill="#ff8700" d="M592.0,464.0L585.7,461.3L580.3,460.0L577.0,460.0L566.0,466.3L561.7,470.7L559.7,473.7L557.3,478.3L553.0,490.7L551.3,497.0L550.3,503.7L550.7,508.7L552.3,512.0L555.7,516.0L559.7,519.3L561.0,520.0L568.7,520.3L574.7,519.7L581.3,517.7L586.7,515.0L591.7,511.3L595.7,506.0L598.0,501.0L599.3,495.3L599.7,486.0L599.0,477.3L597.7,471.3L596.0,468.0Z"/>
<path fill-rule="evenodd" fill="#ff6c00" d="M591.7,465.7L586.7,463.7L581.0,462.7L577.0,463.0L566.3,467.7L560.3,473.7L558.0,478.0L554.0,489.0L552.3,495.3L551.3,502.0L551.3,506.0L552.7,510.0L554.0,512.0L560.0,517.3L564.7,518.7L572.0,519.0L580.3,517.0L586.7,513.7L590.7,510.7L595.3,504.7L597.0,501.3L598.3,496.7L599.0,488.7L598.0,477.0L596.3,471.0L594.7,468.3Z"/>
<path fill-rule="evenodd" fill="#ff5000" d="M591.0,467.0L584.3,465.3L578.0,465.3L571.3,467.0L567.7,468.3L565.0,470.0L561.7,473.0L558.3,478.7L554.3,490.0L552.3,499.3L552.7,507.3L554.7,510.7L560.0,515.3L563.3,516.7L568.7,517.7L574.0,517.7L580.0,516.0L585.0,513.3L589.7,510.0L595.0,503.3L597.7,496.3L597.7,482.0L596.7,475.3L595.7,472.3L593.3,468.7Z"/>
<path fill-rule="evenodd" fill="#ff3400" d="M591.0,468.7L586.7,467.3L579.7,467.3L573.0,468.3L566.7,470.3L563.3,472.7L561.3,475.0L558.7,480.0L555.3,489.3L553.3,499.7L553.3,503.7L554.0,506.7L555.3,509.0L559.3,512.7L564.0,515.0L568.0,516.0L575.7,516.0L580.0,514.7L584.7,512.0L588.3,509.3L592.3,505.3L594.0,503.0L596.7,496.7L597.3,487.0L595.3,474.7L593.3,470.7Z"/>
<path fill-rule="evenodd" fill="#ff1e00" d="M591.0,470.7L589.0,469.7L585.7,469.0L577.0,469.7L569.0,471.7L564.0,475.0L560.7,480.3L557.7,489.7L556.3,498.7L556.7,503.3L557.3,505.3L561.0,509.3L568.3,512.7L574.7,513.3L579.7,512.0L583.7,510.0L588.0,507.0L592.3,502.7L594.7,498.7L595.7,495.7L596.3,491.7L596.3,486.7L594.7,476.7L593.3,473.3Z"/>
<path fill-rule="evenodd" fill="#ff0e00" d="M588.7,471.7L582.7,471.0L575.7,472.3L569.7,474.7L565.7,478.3L563.0,484.7L561.0,495.3L561.3,502.0L563.7,505.3L567.7,507.7L571.3,509.0L576.3,509.0L580.0,508.0L585.0,505.7L589.7,502.3L591.7,500.0L594.3,494.7L595.0,491.3L595.0,485.0L593.3,477.3L591.3,473.7Z"/>
<path fill-rule="evenodd" fill="#fd0000" d="M588.3,473.7L585.0,473.0L579.3,473.7L572.3,476.7L568.7,480.0L567.0,483.7L565.7,490.3L565.7,498.3L566.0,500.0L567.3,502.0L572.7,504.7L577.7,504.7L583.7,503.0L588.3,500.3L590.3,498.3L592.7,494.3L593.7,490.7L593.7,484.3L592.3,479.0L590.0,475.0Z"/>
<path fill-rule="evenodd" fill="#e90000" d="M587.7,475.7L583.7,475.0L579.3,476.0L575.3,478.3L572.0,481.3L570.3,485.0L569.7,490.7L570.0,495.7L571.7,499.0L575.7,500.3L581.3,500.3L587.3,498.0L590.3,495.0L592.3,490.0L592.3,484.0L590.0,478.0Z"/>
<path fill-rule="evenodd" fill="#d50000" d="M586.3,477.3L582.3,477.3L579.3,478.7L575.0,483.3L573.7,486.7L573.7,490.3L574.3,493.3L575.7,495.0L579.7,496.7L583.7,496.7L586.7,495.7L589.7,492.7L591.3,487.7L591.0,484.0L590.0,481.0L588.7,479.0Z"/>
<path fill-rule="evenodd" fill="#c10000" d="M583.0,479.3L581.0,480.3L578.7,483.3L577.7,486.0L577.7,488.7L578.7,491.0L580.7,493.0L582.0,493.7L585.3,493.7L587.0,493.0L588.7,491.3L590.0,487.7L590.0,485.3L589.3,483.0L587.7,480.3L586.0,479.3Z"/>
<path fill-rule="evenodd" fill="#9e0000" d="M584.3,481.0L581.7,483.0L580.7,487.0L581.7,490.0L584.0,491.7L585.3,491.7L586.7,491.0L588.0,489.3L588.7,485.7L587.3,482.3L586.0,481.3Z"/>
<path fill-rule="evenodd" fill="#790000" d="M584.3,483.3L583.0,485.0L583.0,487.7L583.7,489.0L585.3,489.3L586.7,487.7L586.7,485.0L586.0,483.7Z"/>
</g>
<line x1="670.08" y1="360.00" x2="670.08" y2="571.30" stroke="#fff" stroke-width="2.2" stroke-dasharray="7.8,3.8" stroke-dashoffset="3.6"/>
<rect x="492.0" y="359.0" width="222.60000000000002" height="212.29999999999995" fill="none" stroke="#000" stroke-width="1.2"/>
<line x1="492.00" y1="571.30" x2="488.20" y2="571.30" stroke="#000" stroke-width="1.0" />
<line x1="492.00" y1="553.61" x2="489.60" y2="553.61" stroke="#000" stroke-width="1.0" />
<line x1="492.00" y1="535.92" x2="488.20" y2="535.92" stroke="#000" stroke-width="1.0" />
<line x1="492.00" y1="518.22" x2="489.60" y2="518.22" stroke="#000" stroke-width="1.0" />
<line x1="492.00" y1="500.53" x2="488.20" y2="500.53" stroke="#000" stroke-width="1.0" />
<line x1="492.00" y1="482.84" x2="489.60" y2="482.84" stroke="#000" stroke-width="1.0" />
<line x1="492.00" y1="465.15" x2="488.20" y2="465.15" stroke="#000" stroke-width="1.0" />
<line x1="492.00" y1="447.46" x2="489.60" y2="447.46" stroke="#000" stroke-width="1.0" />
<line x1="492.00" y1="429.77" x2="488.20" y2="429.77" stroke="#000" stroke-width="1.0" />
<line x1="492.00" y1="412.07" x2="489.60" y2="412.07" stroke="#000" stroke-width="1.0" />
<line x1="492.00" y1="394.38" x2="488.20" y2="394.38" stroke="#000" stroke-width="1.0" />
<line x1="492.00" y1="376.69" x2="489.60" y2="376.69" stroke="#000" stroke-width="1.0" />
<line x1="492.00" y1="359.00" x2="488.20" y2="359.00" stroke="#000" stroke-width="1.0" />
<text x="485.20" y="575.30" font-size="11.3" text-anchor="end" fill="#000" font-weight="normal" >0</text>
<text x="485.20" y="539.92" font-size="11.3" text-anchor="end" fill="#000" font-weight="normal" >30</text>
<text x="485.20" y="504.53" font-size="11.3" text-anchor="end" fill="#000" font-weight="normal" >60</text>
<text x="485.20" y="469.15" font-size="11.3" text-anchor="end" fill="#000" font-weight="normal" >90</text>
<text x="485.20" y="433.77" font-size="11.3" text-anchor="end" fill="#000" font-weight="normal" >120</text>
<text x="485.20" y="398.38" font-size="11.3" text-anchor="end" fill="#000" font-weight="normal" >150</text>
<text x="485.20" y="363.00" font-size="11.3" text-anchor="end" fill="#000" font-weight="normal" >180</text>
<line x1="492.00" y1="571.30" x2="492.00" y2="574.80" stroke="#000" stroke-width="1.0" />
<line x1="514.26" y1="571.30" x2="514.26" y2="573.50" stroke="#000" stroke-width="1.0" />
<line x1="536.52" y1="571.30" x2="536.52" y2="574.80" stroke="#000" stroke-width="1.0" />
<line x1="558.78" y1="571.30" x2="558.78" y2="573.50" stroke="#000" stroke-width="1.0" />
<line x1="581.04" y1="571.30" x2="581.04" y2="574.80" stroke="#000" stroke-width="1.0" />
<line x1="603.30" y1="571.30" x2="603.30" y2="573.50" stroke="#000" stroke-width="1.0" />
<line x1="625.56" y1="571.30" x2="625.56" y2="574.80" stroke="#000" stroke-width="1.0" />
<line x1="647.82" y1="571.30" x2="647.82" y2="573.50" stroke="#000" stroke-width="1.0" />
<line x1="670.08" y1="571.30" x2="670.08" y2="574.80" stroke="#000" stroke-width="1.0" />
<line x1="692.34" y1="571.30" x2="692.34" y2="573.50" stroke="#000" stroke-width="1.0" />
<line x1="714.60" y1="571.30" x2="714.60" y2="574.80" stroke="#000" stroke-width="1.0" />
<text x="502.00" y="377.80" font-size="14.6" text-anchor="start" fill="#fff" font-weight="normal" >system 3</text>
<text x="0" y="0" font-size="16" text-anchor="middle" transform="translate(461.4,467.8) rotate(-90)">Angle (θ<tspan font-size="10.5" dy="-6">0</tspan><tspan dy="6">)</tspan></text>
<text x="492.50" y="585.40" font-size="11.3" text-anchor="middle" fill="#000" font-weight="normal" >0</text>
<text x="537.02" y="585.40" font-size="11.3" text-anchor="middle" fill="#000" font-weight="normal" >5</text>
<text x="581.54" y="585.40" font-size="11.3" text-anchor="middle" fill="#000" font-weight="normal" >10</text>
<text x="626.06" y="585.40" font-size="11.3" text-anchor="middle" fill="#000" font-weight="normal" >15</text>
<text x="670.58" y="585.40" font-size="11.3" text-anchor="middle" fill="#000" font-weight="normal" >20</text>
<text x="715.10" y="585.40" font-size="11.3" text-anchor="middle" fill="#000" font-weight="normal" >25</text>
<text x="606.60" y="607.40" font-size="16.5" text-anchor="middle" fill="#000" font-weight="normal" >Distance from bilayer center (Å)</text>
<text x="0" y="0" font-size="14.5" fill="#fff" text-anchor="middle" transform="translate(687.2,243.6) rotate(-90)">Lipid-water interface</text>
<rect x="454.5" y="399.43" width="6.50" height="3.57" fill="#000096"/>
<rect x="454.5" y="396.17" width="6.50" height="3.57" fill="#00009e"/>
<rect x="454.5" y="392.90" width="6.50" height="3.57" fill="#0000a7"/>
<rect x="454.5" y="389.64" width="6.50" height="3.57" fill="#0000b4"/>
<rect x="454.5" y="386.37" width="6.50" height="3.57" fill="#0000c9"/>
<rect x="454.5" y="383.11" width="6.50" height="3.57" fill="#0000de"/>
<rect x="454.5" y="379.84" width="6.50" height="3.57" fill="#0000f4"/>
<rect x="454.5" y="376.57" width="6.50" height="3.57" fill="#0015ff"/>
<rect x="454.5" y="373.31" width="6.50" height="3.57" fill="#0041ff"/>
<rect x="454.5" y="370.04" width="6.50" height="3.57" fill="#006eff"/>
<rect x="454.5" y="366.78" width="6.50" height="3.57" fill="#00baff"/>
<rect x="454.5" y="363.51" width="6.50" height="3.57" fill="#00f1ad"/>
<rect x="454.5" y="360.25" width="6.50" height="3.57" fill="#00ff4b"/>
<rect x="454.5" y="356.98" width="6.50" height="3.57" fill="#04ff00"/>
<rect x="454.5" y="353.72" width="6.50" height="3.57" fill="#48ff00"/>
<rect x="454.5" y="350.45" width="6.50" height="3.57" fill="#8dff00"/>
<rect x="454.5" y="347.18" width="6.50" height="3.57" fill="#c5ff00"/>
<rect x="454.5" y="343.92" width="6.50" height="3.57" fill="#faff00"/>
<rect x="454.5" y="340.65" width="6.50" height="3.57" fill="#ffef00"/>
<rect x="454.5" y="337.39" width="6.50" height="3.57" fill="#ffdd00"/>
<rect x="454.5" y="334.12" width="6.50" height="3.57" fill="#ffcb00"/>
<rect x="454.5" y="330.86" width="6.50" height="3.57" fill="#ffae00"/>
<rect x="454.5" y="327.59" width="6.50" height="3.57" fill="#ff9000"/>
<rect x="454.5" y="324.32" width="6.50" height="3.57" fill="#ff6f00"/>
<rect x="454.5" y="321.06" width="6.50" height="3.57" fill="#ff4d00"/>
<rect x="454.5" y="317.79" width="6.50" height="3.57" fill="#ff2a00"/>
<rect x="454.5" y="314.53" width="6.50" height="3.57" fill="#ff1400"/>
<rect x="454.5" y="311.26" width="6.50" height="3.57" fill="#ff0000"/>
<rect x="454.5" y="308.00" width="6.50" height="3.57" fill="#e70000"/>
<rect x="454.5" y="304.73" width="6.50" height="3.57" fill="#ce0000"/>
<rect x="454.5" y="301.47" width="6.50" height="3.57" fill="#ac0000"/>
<rect x="454.5" y="298.20" width="6.50" height="3.57" fill="#7d0000"/>
<line x1="444.30" y1="399.00" x2="444.30" y2="312.00" stroke="#222" stroke-width="1.5" />
<path d="M444.3,301.8 L450,318.4 L444.3,315.5 L438.8,318.4 Z" fill="#222"/>
</svg></body></html>
